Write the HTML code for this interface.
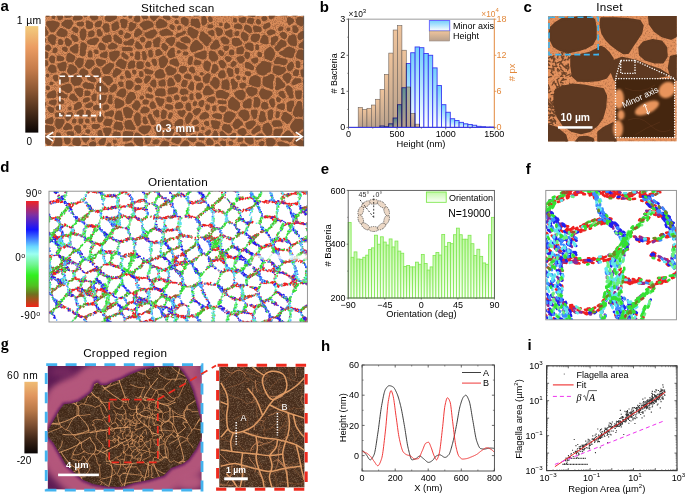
<!DOCTYPE html><html><head><meta charset="utf-8"><style>html,body{margin:0;padding:0;background:#fff;width:685px;height:494px;overflow:hidden}svg{display:block}</style></head><body><svg width="685" height="494" viewBox="0 0 685 494"><rect x="0" y="0" width="685" height="494" fill="#fff" stroke="none" stroke-width="1" /><defs><clipPath id="cpa"><rect x="45.2" y="15.8" width="258.8" height="130.4"/></clipPath><filter id="noiseA" x="0" y="0" width="100%" height="100%" color-interpolation-filters="sRGB"><feTurbulence type="fractalNoise" baseFrequency="1.1" numOctaves="1" seed="2"/><feColorMatrix values="0 0 0 0 0.62  0 0 0 0 0.38  0 0 0 0 0.24  0 0 0 4.5 -2.0"/><feComposite in2="SourceGraphic" operator="in"/></filter></defs><g clip-path="url(#cpa)"><rect x="45.2" y="15.8" width="258.8" height="130.4" fill="#d88c5a" stroke="none" stroke-width="1" /><rect x="45.2" y="15.8" width="258.8" height="130.4" fill="#000" stroke="none" stroke-width="1" filter="url(#noiseA)" opacity="0.7"/><path d="M48.9,16.8 47.2,17.3 46.2,16.8 45.7,15.8 45.7,13.8 50.0,13.8 50.0,14.8 49.3,16.1ZM60.5,20.2 58.9,20.2 57.8,19.5 57.3,17.1 56.4,15.8 56.4,13.8 62.4,13.8 63.0,16.1 63.0,17.8 61.9,19.3ZM70.2,17.6 66.2,18.0 65.1,17.5 64.1,15.8 63.7,13.8 72.0,13.8 72.0,15.8 71.2,17.2ZM78.2,20.6 74.2,20.6 73.2,19.9 72.8,19.1 72.8,17.8 75.2,13.7 78.2,13.8 82.0,16.1 82.6,17.1 82.7,18.1 82.2,19.2ZM86.2,17.2 85.2,17.3 84.1,16.8 82.4,15.1 82.0,13.8 88.0,13.8 87.3,16.5ZM95.2,20.6 93.5,20.6 92.2,19.9 90.1,17.8 89.7,16.1 90.7,13.8 95.2,13.7 97.3,15.5 98.0,16.8 98.0,18.5 97.5,19.2ZM102.5,16.6 101.5,16.6 100.4,16.1 99.4,15.1 99.0,13.8 104.4,13.8 103.6,15.8ZM110.5,21.9 108.9,22.0 107.5,21.6 105.2,20.2 104.8,19.5 104.8,17.8 105.9,15.8 106.6,13.8 115.2,13.8 116.0,14.5 117.0,16.5 117.0,17.5 116.6,18.5 114.9,19.9 113.2,20.4ZM125.2,16.9 123.9,17.0 122.8,16.5 122.4,15.5 122.4,13.8 127.4,13.8 127.3,14.5 126.3,16.1ZM130.9,18.6 129.5,18.6 128.9,18.2 128.4,17.5 128.5,13.7 133.0,13.8 132.3,16.8 131.6,18.1ZM138.2,22.6 136.9,22.6 135.9,22.2 134.2,20.9 133.8,20.1 133.8,18.5 135.3,16.1 136.2,13.7 139.0,13.8 140.0,16.5 140.3,20.5 139.5,21.6ZM146.9,18.9 143.5,19.2 142.5,18.6 140.4,14.5 140.4,13.8 147.0,13.8 147.1,14.8 148.0,16.5 148.0,17.8 147.5,18.5ZM154.5,20.9 153.2,20.9 150.8,19.1 150.0,17.5 149.7,13.8 160.0,13.8 160.0,14.8 159.2,16.6 156.9,18.3 155.2,20.5ZM177.5,18.2 176.5,18.3 172.5,17.2 172.0,16.1 172.3,13.8 176.9,13.7 178.0,14.5 178.6,15.5 178.7,16.8 178.2,17.8ZM196.9,16.6 194.5,16.6 193.5,16.2 193.0,15.1 193.3,13.8 200.0,13.8 200.0,15.1 199.5,15.8ZM234.2,15.6 233.2,15.6 232.2,15.2 231.7,13.8 235.4,13.8 234.9,15.1ZM241.9,15.9 238.9,15.9 238.0,15.1 237.7,13.8 244.4,13.8 243.9,15.2ZM254.5,16.9 252.2,17.0 248.5,16.2 247.9,15.8 247.4,15.1 247.4,13.8 255.2,13.7 255.7,15.5 255.2,16.5ZM271.9,19.2 270.2,19.2 269.1,18.5 268.7,16.8 269.1,15.1 271.2,13.7 275.7,13.8 275.3,15.8 273.2,18.3ZM286.5,16.2 284.9,16.3 280.9,15.6 280.2,15.1 279.7,13.8 287.9,13.7 288.0,14.5 287.6,15.5ZM295.9,16.6 293.9,16.6 291.9,15.6 291.2,15.1 290.7,13.8 298.0,13.8 298.0,15.1 297.6,15.8ZM304.9,15.6 301.5,15.6 300.8,15.1 300.4,13.8 305.9,13.6 305.9,14.8ZM54.2,18.9 52.9,18.9 52.2,18.5 51.8,17.8 51.8,16.1 52.2,15.5 52.9,15.0 54.2,15.0 54.9,15.4 55.3,16.1 55.3,17.8 54.9,18.5ZM169.5,20.2 167.9,20.2 163.2,18.2 162.7,16.8 163.2,15.5 163.9,15.0 165.2,15.0 168.2,15.0 169.3,15.5 170.7,18.1 170.5,19.3ZM204.2,25.6 203.2,25.6 202.2,25.2 201.4,23.5 201.4,17.8 202.2,16.6 203.5,16.0 204.9,16.0 205.6,16.5 206.6,18.5 207.0,20.1 207.0,22.5 206.6,23.5 205.2,25.0ZM211.2,22.2 209.9,22.2 209.2,21.8 208.8,21.1 208.1,19.1 208.0,17.8 208.5,16.8 209.2,16.4 210.2,16.3 211.3,16.8 212.6,19.1 212.6,20.8 212.0,21.8ZM264.9,21.2 263.2,21.2 262.1,20.5 261.4,18.5 261.4,17.8 262.2,16.7 263.2,16.3 265.5,16.3 267.0,17.1 267.4,18.5 267.0,19.8ZM302.2,26.2 300.5,26.2 297.2,24.6 296.1,22.8 295.8,19.5 297.2,17.6 298.9,16.7 299.9,16.6 303.9,17.4 304.6,17.8 305.0,18.5 305.0,20.1 303.6,24.5 302.9,25.8ZM186.9,25.9 185.2,25.9 181.4,23.5 181.0,22.5 180.7,19.5 181.2,18.3 182.2,17.4 183.2,17.0 184.9,17.0 187.5,18.4 188.3,19.1 188.7,20.1 188.7,23.8 188.0,25.1ZM243.5,23.2 241.9,23.2 239.4,21.8 238.7,20.5 238.7,19.1 239.2,18.1 243.5,17.0 244.9,17.0 245.9,17.5 246.4,19.1 245.6,21.1 244.9,22.5ZM290.2,24.9 289.2,25.0 288.2,24.5 287.0,21.8 286.8,18.5 287.2,17.8 288.9,17.0 289.9,17.0 293.5,19.1 294.0,20.1 294.0,21.5 293.5,22.6ZM235.9,22.6 234.2,22.6 233.5,22.2 233.1,21.5 233.1,19.1 233.5,18.4 234.2,18.0 235.5,18.0 236.2,18.4 236.6,19.1 237.0,20.5 237.0,21.5 236.5,22.2ZM252.2,24.2 250.9,24.2 247.5,22.8 247.0,21.8 247.0,20.5 248.2,18.4 249.2,18.0 252.2,18.0 253.6,18.5 254.0,19.5 254.0,20.5 253.3,23.1 252.9,23.8ZM159.5,28.6 157.9,28.6 156.8,28.1 156.4,27.1 155.7,22.8 156.2,21.8 157.9,20.6 158.9,19.1 160.5,18.6 164.5,20.4 166.9,22.4 167.4,23.5 167.4,24.8 166.5,26.3 164.9,27.2ZM199.2,28.2 198.2,28.3 195.5,27.6 193.2,26.0 191.9,25.9 191.2,25.5 190.7,24.5 190.7,20.5 191.2,19.1 192.2,18.6 194.5,18.9 197.2,18.6 198.6,19.1 200.0,22.8 200.4,26.1 200.2,27.3ZM125.5,28.2 122.9,28.2 121.5,27.5 121.1,26.8 121.0,24.1 120.1,22.1 120.0,20.8 120.5,19.5 121.2,19.0 124.2,19.0 126.2,19.4 127.0,19.8 127.6,20.8 127.7,22.1 126.6,27.1 126.2,27.8ZM259.9,24.2 258.2,24.3 256.2,23.5 255.7,21.8 256.5,19.4 257.5,19.0 258.9,19.0 259.5,19.4 260.3,20.5 261.0,21.8 261.0,22.8 260.6,23.8ZM69.5,28.9 67.9,28.9 65.5,27.4 61.9,25.8 61.4,25.1 61.4,23.8 61.8,22.8 65.5,19.7 70.9,19.7 71.9,20.3 73.0,22.5 73.0,24.1 72.6,25.1 70.5,28.3ZM177.9,23.9 176.2,24.0 174.9,23.3 174.4,21.8 174.9,20.4 175.9,20.0 177.2,20.0 178.5,20.7 179.0,22.5 178.6,23.5ZM90.2,28.9 87.9,28.9 86.5,28.0 85.8,26.8 86.1,21.5 86.5,20.8 87.2,20.4 88.5,20.4 92.2,22.4 93.0,23.8 93.0,26.8 92.6,27.8 91.5,28.6ZM53.9,32.2 51.2,32.2 50.5,31.8 49.8,30.8 48.3,27.8 46.8,26.1 46.1,24.5 46.1,22.5 46.9,21.4 47.9,21.0 53.5,20.6 57.5,21.7 59.2,22.8 59.7,23.8 59.4,26.1 57.4,28.1 54.9,31.6ZM99.5,27.2 96.5,27.3 95.5,26.8 95.0,25.8 95.0,23.5 95.9,22.0 97.9,21.0 100.5,20.6 101.5,21.1 102.0,21.8 102.0,23.5 100.6,26.5ZM145.5,30.2 144.2,30.3 143.2,29.8 142.2,28.1 140.2,26.3 139.7,24.8 140.2,23.5 143.5,21.4 146.9,20.6 149.5,20.7 152.9,22.8 153.7,24.5 153.7,26.1 153.2,27.1 147.9,29.0ZM114.5,30.9 113.2,30.9 112.5,30.5 112.1,29.8 111.7,28.8 111.4,24.8 112.1,23.8 113.5,23.2 115.2,21.7 116.2,21.3 117.2,21.4 118.0,21.8 118.6,22.8 118.7,24.5 119.4,26.5 119.3,27.8 118.9,28.5 117.5,29.6ZM82.5,26.6 79.2,26.6 76.9,25.2 76.4,23.8 76.8,22.5 77.9,22.0 80.9,22.0 81.9,21.6 83.5,22.1 84.0,23.1 84.0,24.8 83.2,26.1ZM131.5,31.2 130.5,31.3 129.5,30.9 128.8,30.1 128.4,29.1 128.4,27.8 129.4,23.1 129.9,22.4 130.9,22.0 131.9,22.0 133.9,23.2 135.2,23.4 135.9,23.8 136.4,24.8 136.3,26.1 135.5,27.6 134.0,29.5ZM221.5,26.2 220.2,26.2 219.5,25.8 219.1,25.1 219.1,23.8 219.5,23.1 220.2,22.7 221.5,22.7 222.2,23.1 222.6,23.8 222.6,25.1 222.2,25.8ZM226.5,28.9 225.5,29.0 224.5,28.5 224.0,27.1 224.9,23.6 225.2,23.1 226.5,22.6 227.9,23.0 229.9,24.8 230.4,26.1 229.9,27.5ZM265.5,29.2 264.2,29.2 263.5,28.8 263.1,28.1 263.0,26.5 263.8,24.5 267.2,22.7 268.9,22.6 269.9,23.1 270.7,24.8 270.3,26.5 269.5,27.2ZM108.2,32.6 105.9,32.6 104.9,32.2 102.4,27.8 102.4,26.5 103.4,24.5 104.9,23.4 106.2,23.3 107.9,23.7 108.5,24.1 109.0,24.8 109.7,28.5 109.7,30.8 109.2,31.9ZM240.9,29.2 238.9,29.3 234.9,28.6 234.2,28.2 233.8,27.5 233.8,26.1 234.4,25.1 236.9,23.4 238.5,23.4 240.9,24.4 241.6,24.8 242.0,25.5 242.0,26.8 242.0,28.1 241.5,28.8ZM173.5,29.9 172.5,30.0 171.5,29.6 169.8,27.8 169.4,26.1 170.2,24.7 171.9,24.3 174.2,25.5 174.7,26.5 174.7,28.5 174.2,29.5ZM212.2,27.9 208.9,28.3 207.8,27.8 207.4,26.5 207.9,25.0 209.2,24.3 211.9,24.3 212.9,24.8 213.4,26.1 212.9,27.5ZM250.9,33.2 249.2,33.2 244.5,30.1 244.0,29.1 244.0,27.8 244.4,26.1 245.2,25.0 246.2,24.6 247.2,24.7 249.5,25.7 251.0,26.8 252.0,29.5 252.0,31.5 251.6,32.8ZM46.9,35.6 43.2,37.0 43.0,36.5 43.2,25.3 45.5,26.3 47.1,30.1 48.3,31.5 48.7,32.5 48.3,34.1ZM179.5,30.2 177.9,30.0 177.0,28.8 177.1,27.5 177.8,26.1 179.2,25.3 180.9,25.7 181.7,27.1 181.3,29.1ZM296.5,32.9 294.5,32.9 293.1,32.1 292.4,31.1 292.4,26.8 292.8,25.8 293.5,25.4 295.2,25.3 296.2,25.7 298.6,28.8 298.6,30.5 298.0,31.8ZM260.5,31.9 254.9,32.0 253.9,31.5 253.0,29.1 253.0,27.1 253.5,26.1 254.5,25.6 256.2,25.6 257.9,26.2 259.5,26.4 261.0,27.1 261.7,28.5 261.7,30.5 261.2,31.5ZM280.5,31.2 279.5,31.3 278.5,30.8 278.1,30.1 278.0,29.1 279.1,26.8 279.9,26.4 281.2,26.3 282.9,27.1 283.4,28.8 282.7,30.1ZM76.9,32.9 75.5,32.9 72.5,31.1 72.1,30.5 72.0,29.1 73.2,27.0 74.2,26.6 75.2,26.7 77.9,28.1 78.4,29.1 78.3,31.5 77.7,32.5ZM194.2,38.6 192.9,38.6 191.7,38.1 190.4,36.5 188.4,34.8 187.8,33.8 187.4,31.1 187.8,28.8 188.5,27.6 189.5,27.0 190.5,27.0 191.5,27.4 197.7,30.5 198.6,31.5 198.6,32.8 196.9,37.5ZM219.2,36.2 218.2,36.3 217.2,35.8 216.4,33.8 216.3,32.1 215.4,30.8 215.4,28.5 215.9,27.8 216.5,27.4 217.5,27.3 219.9,28.0 221.9,29.1 223.0,30.5 223.0,32.1 222.2,34.5ZM289.9,30.8 288.2,31.3 287.2,30.9 286.4,29.8 286.4,28.5 286.9,27.8 287.5,27.4 289.2,27.4 289.9,27.8 290.3,28.5 290.3,30.1ZM64.2,36.9 61.9,37.0 59.5,36.6 57.2,35.6 56.4,34.5 56.4,33.1 57.1,31.8 59.4,28.8 60.5,28.0 61.9,28.0 65.9,30.0 67.2,31.0 67.6,31.8 67.7,33.5 67.0,35.5ZM83.5,40.6 82.5,40.6 81.5,40.1 80.4,38.1 79.8,36.1 79.7,34.8 79.8,32.1 81.2,29.1 83.5,28.3 84.2,28.4 85.3,29.1 86.3,31.1 86.4,32.5 86.4,35.5 85.6,38.1 84.7,39.8ZM136.9,37.2 135.5,37.2 134.5,36.6 134.0,35.5 134.0,33.5 136.0,29.5 137.5,28.4 138.5,28.3 139.7,28.8 141.9,31.0 142.3,31.8 142.4,33.1 141.3,34.8 139.2,35.7ZM167.9,35.6 161.9,36.2 160.9,35.6 159.4,33.1 159.4,31.8 159.8,31.1 160.5,30.7 165.2,28.7 167.2,28.7 169.2,29.7 172.5,32.4 173.0,33.1 173.0,34.5 172.6,35.1 171.9,35.6ZM100.9,36.6 98.4,36.5 97.8,36.1 97.1,34.5 96.7,32.5 96.8,30.5 97.2,29.8 98.5,29.0 99.5,29.0 100.6,29.5 102.6,33.5 102.7,34.5 102.3,35.5ZM152.2,38.6 147.9,38.6 146.9,38.2 144.8,35.8 144.4,34.8 144.4,33.5 145.4,32.5 146.9,32.2 150.2,30.4 153.2,29.4 154.5,29.4 155.3,29.8 156.3,31.1 157.0,32.5 157.0,33.8 155.4,35.8 153.2,38.0ZM231.5,37.6 229.9,37.6 225.5,34.8 225.0,33.8 225.0,32.5 225.7,31.1 228.5,30.2 229.9,29.4 230.9,29.3 231.9,29.8 232.4,30.8 232.7,36.1 232.2,37.1ZM270.5,35.6 269.2,35.6 267.2,34.1 266.7,32.5 267.4,31.1 268.9,30.0 270.9,29.3 272.5,29.4 275.2,30.8 275.7,32.1 275.2,33.5ZM121.9,35.2 120.5,35.2 119.2,34.6 118.4,33.5 118.4,32.1 118.8,31.1 120.5,30.0 121.5,30.0 122.5,30.4 123.3,31.5 123.3,33.5 122.6,34.8ZM213.2,36.2 211.9,36.2 208.7,34.1 208.0,32.8 208.1,31.8 208.5,31.1 211.5,30.0 212.9,30.0 213.9,30.7 214.4,31.8 214.4,34.8 213.9,35.8ZM91.2,37.2 89.2,37.2 88.2,36.3 88.0,34.5 88.4,32.1 88.9,31.4 91.2,30.4 92.9,30.4 93.7,30.8 94.3,31.8 94.7,33.5 94.6,35.1 93.9,36.2ZM178.2,37.6 176.9,37.6 176.2,37.1 175.8,36.5 175.8,34.8 176.4,33.8 177.9,33.0 179.5,32.9 180.9,32.3 182.2,32.3 182.8,31.1 183.5,30.7 184.5,30.6 185.6,31.1 186.0,32.5 185.5,33.8 184.5,34.3 183.2,34.3 182.5,35.5 180.5,36.0ZM237.9,35.9 235.9,36.0 234.8,35.5 234.4,34.5 234.4,33.1 234.9,31.8 236.9,31.0 238.2,31.0 238.9,31.5 239.4,32.5 239.3,34.1 238.6,35.5ZM300.5,40.2 299.2,40.2 298.5,39.8 298.1,39.1 297.7,37.8 297.8,34.8 298.4,33.8 301.2,31.4 302.2,31.0 303.2,31.0 306.0,32.8 306.0,36.8ZM207.5,45.9 205.9,45.9 204.9,45.3 202.7,42.5 200.0,40.1 199.1,38.5 199.1,36.8 200.0,35.1 200.4,32.5 200.9,31.8 201.5,31.4 202.5,31.3 203.5,31.7 205.7,33.8 207.7,34.8 208.8,36.5 210.2,37.3 211.6,39.1 211.7,40.5 211.2,41.5 209.7,42.8 208.2,45.5ZM245.9,41.2 244.5,41.3 243.4,40.8 240.8,37.1 240.7,35.1 241.1,33.8 241.8,32.5 242.5,32.0 243.9,32.0 245.9,33.0 247.7,34.5 248.6,35.8 248.3,39.5 247.9,40.2ZM285.2,38.9 283.5,38.9 281.2,37.6 279.7,34.8 279.8,33.8 280.4,32.8 282.2,32.0 284.2,32.0 285.2,32.4 286.5,34.0 287.0,35.1 287.0,36.8 286.2,38.3ZM127.5,38.6 125.2,38.6 124.5,38.1 124.0,37.1 124.1,36.1 125.1,34.1 125.9,33.1 126.9,32.6 127.9,32.7 130.5,34.1 131.0,35.1 131.0,36.1 130.5,36.8 129.2,37.9ZM255.9,42.2 253.9,42.2 251.4,40.8 250.8,39.8 250.7,37.5 251.1,36.1 252.2,34.6 253.5,33.7 258.9,34.0 259.5,34.4 260.0,35.1 260.0,37.5 258.6,40.8ZM54.2,44.9 52.5,44.9 50.9,43.9 47.8,40.5 47.7,38.1 48.1,37.1 49.5,35.3 50.9,34.4 52.9,34.3 53.9,34.7 55.4,35.8 56.3,37.1 56.4,38.5 55.7,40.1 55.6,43.5 55.0,44.5ZM76.2,41.9 74.5,41.9 72.8,40.5 70.8,36.8 70.7,35.8 71.2,34.8 72.2,34.3 73.2,34.4 77.2,36.5 78.3,38.8 78.4,40.1 77.9,41.2ZM107.5,42.9 105.5,42.9 103.5,41.9 102.0,40.5 101.8,38.8 102.2,38.0 104.5,36.0 108.5,34.4 109.9,34.4 110.5,34.8 111.0,35.5 111.6,37.8 111.6,40.8 111.2,41.5 110.5,41.9 108.9,42.1ZM120.9,43.9 119.5,43.9 114.2,40.9 113.4,38.8 113.4,35.8 113.9,34.8 115.2,34.3 116.5,34.7 121.5,39.0 122.0,40.1 122.0,42.5 121.6,43.5ZM295.5,46.2 293.9,46.2 290.9,45.2 288.9,44.2 287.4,41.5 287.4,40.1 289.1,36.1 292.2,34.4 294.2,34.3 295.2,34.7 296.6,37.5 297.0,44.5 296.5,45.6ZM267.5,44.2 264.5,44.2 261.2,43.2 260.5,42.8 260.1,42.1 260.1,40.8 261.1,38.5 262.8,35.1 263.5,34.7 264.5,34.6 265.5,35.1 267.5,36.6 268.3,37.8 268.7,42.8 268.2,43.8ZM273.2,45.6 271.9,45.6 271.2,45.1 270.8,44.5 271.0,41.8 270.8,38.5 271.2,37.8 274.9,36.0 276.9,36.0 277.7,36.5 278.3,37.5 278.3,39.5 277.0,41.5 275.9,42.3 273.9,45.1ZM189.2,43.2 187.2,43.3 184.5,42.9 181.5,41.6 180.8,41.1 180.4,40.5 180.4,38.8 181.4,37.8 184.9,36.4 186.5,36.3 187.5,36.7 190.0,39.1 190.6,40.1 190.6,41.8 190.0,42.8ZM143.5,42.6 142.5,42.6 141.4,42.1 140.4,41.1 139.8,39.8 139.7,38.8 140.2,37.8 141.9,36.7 142.9,36.6 143.9,37.0 145.3,38.8 145.3,40.5 144.2,42.1ZM226.9,44.2 224.9,44.2 223.5,43.9 222.5,43.3 220.4,40.1 220.4,38.8 220.9,37.8 222.9,36.7 224.2,36.6 226.5,37.7 228.9,39.5 229.4,40.5 229.3,42.8 228.9,43.5ZM158.5,47.2 156.5,47.0 154.9,47.3 153.9,46.8 153.4,45.8 153.4,43.8 153.0,42.8 153.1,40.8 153.7,39.8 156.9,37.4 157.9,37.0 159.9,37.4 160.7,38.8 160.6,41.1 159.7,43.1 159.6,46.1 159.2,46.8ZM171.9,45.9 170.9,46.0 169.9,45.6 167.9,43.3 166.5,42.5 165.8,41.1 165.7,40.1 165.8,39.5 166.5,38.4 168.2,37.7 171.9,37.0 173.5,37.0 174.6,37.5 175.4,39.5 174.6,42.8 173.2,45.1ZM95.2,44.9 90.5,45.0 89.2,44.6 87.4,43.5 87.0,42.5 87.1,41.1 87.5,40.4 90.9,38.7 93.2,38.2 94.9,37.4 96.9,37.4 98.6,38.5 99.0,39.5 99.0,40.5 96.7,43.8ZM44.6,44.5 43.2,45.0 43.0,44.5 43.2,37.6 45.9,38.4 46.4,39.5 46.0,41.8ZM69.2,46.2 67.5,46.2 66.1,45.5 65.4,44.5 64.7,41.1 64.7,39.8 65.2,38.7 66.2,38.0 67.5,38.0 68.5,38.4 71.0,40.5 72.0,41.8 72.0,42.8 71.6,43.8 69.9,45.8ZM237.2,46.2 234.5,46.2 233.2,45.6 232.4,44.8 231.7,43.1 231.9,41.5 231.7,39.8 232.2,38.8 233.9,38.0 238.5,38.0 239.5,38.7 240.2,39.9 242.0,41.8 242.4,43.5 241.9,44.5ZM132.2,45.6 129.5,45.6 126.9,45.0 124.5,44.9 123.9,44.5 123.4,43.8 123.4,42.5 123.9,41.8 124.5,41.4 126.9,41.2 130.5,39.0 131.9,38.6 132.9,38.7 133.5,39.1 134.0,39.8 134.0,42.5 132.9,45.1ZM61.5,44.9 59.2,44.9 58.5,44.5 58.1,43.8 58.1,40.1 58.5,39.5 59.2,39.0 60.5,39.0 61.5,39.4 62.2,39.8 63.0,41.1 63.4,42.5 63.3,43.5 62.9,44.2ZM216.2,49.6 213.2,49.6 211.5,49.2 210.4,48.5 210.0,46.8 210.8,45.1 212.5,43.3 213.7,41.1 215.9,39.7 216.9,39.6 218.0,40.1 218.6,41.1 219.1,43.1 220.0,44.8 220.0,46.1 219.5,47.2ZM278.5,51.2 277.2,51.3 276.2,50.8 274.8,48.5 274.8,47.1 275.4,46.1 276.5,45.3 277.8,43.1 280.2,40.1 281.2,39.6 282.2,39.7 285.6,41.5 286.6,43.5 286.6,45.1 286.2,45.8 285.2,46.6 281.7,48.1ZM305.9,49.0 303.5,49.0 301.5,48.0 299.5,47.9 298.8,47.5 298.4,46.5 298.4,45.1 299.4,43.8 304.2,40.0 305.2,39.6 305.9,39.6 306.0,40.1ZM193.2,52.2 191.9,52.2 191.2,51.8 190.8,51.1 190.0,49.5 190.1,46.5 191.1,44.5 193.9,41.0 195.5,40.0 197.2,40.0 202.5,45.0 203.3,46.5 203.3,47.8 202.9,48.5 200.2,49.9 198.5,50.0 196.2,51.2ZM150.2,47.6 146.5,48.3 145.4,47.8 144.8,46.8 144.8,45.5 147.1,41.5 148.2,41.0 150.5,41.0 151.2,41.5 151.7,42.5 151.7,43.8 151.0,46.5ZM141.5,49.2 138.2,49.3 135.9,48.3 135.1,46.8 135.0,45.8 135.4,42.8 135.9,41.8 137.2,41.3 138.5,41.7 141.2,44.7 142.7,47.1 142.5,48.3ZM184.9,49.6 182.2,49.6 180.9,49.2 176.2,46.5 175.8,45.8 175.7,44.5 176.8,42.1 177.9,41.6 178.9,41.7 184.5,44.0 187.2,46.1 187.7,47.5 187.2,48.8ZM83.9,56.2 81.5,56.2 80.2,55.5 79.7,54.5 80.4,43.8 80.8,42.8 81.9,42.3 83.2,42.3 84.2,42.7 86.4,44.5 87.0,45.8 87.0,46.8 85.7,50.5 86.0,53.1 85.0,55.5ZM104.2,50.2 100.9,50.3 99.4,49.5 98.0,46.1 98.4,44.8 99.5,43.1 100.5,42.6 101.9,42.7 103.7,43.8 105.3,45.5 105.7,46.5 105.6,48.8 105.2,49.6ZM114.2,49.2 109.9,49.6 108.8,49.1 108.1,47.8 108.0,46.1 108.5,45.1 110.3,44.1 111.2,43.1 112.2,42.6 113.5,42.7 116.5,44.4 117.3,45.1 117.7,46.8 117.2,47.8ZM252.5,50.9 251.2,50.9 245.9,48.8 244.7,45.8 245.2,44.1 248.5,42.6 250.5,42.6 252.7,43.5 253.4,44.8 253.7,49.1 253.2,50.5ZM165.9,50.9 164.9,51.0 163.9,50.5 161.9,48.6 161.4,47.8 161.4,46.1 161.8,44.8 162.5,43.5 163.2,43.0 164.2,43.0 165.3,43.5 166.5,45.0 167.9,46.0 168.3,46.8 168.4,47.8 168.0,48.8 166.9,50.3ZM76.9,53.6 75.2,53.6 72.2,52.2 70.2,50.5 69.7,49.5 69.8,48.5 70.9,47.0 75.9,44.0 77.2,44.0 77.9,44.4 78.4,45.5 78.4,51.1 77.6,53.1ZM257.9,50.2 256.2,50.0 255.4,48.8 255.4,45.5 255.9,44.8 256.9,44.3 258.5,44.8 259.0,45.8 259.0,49.1 258.6,49.8ZM49.2,50.9 48.2,51.0 45.9,50.2 45.2,49.8 44.8,49.1 44.8,47.5 45.4,46.1 47.2,44.7 48.5,44.6 49.5,45.0 51.3,47.5 51.4,48.5 51.0,49.5ZM226.5,50.9 225.2,50.9 224.2,50.3 223.4,48.8 223.4,47.1 223.9,46.4 224.5,46.0 226.5,45.6 227.9,45.7 228.6,46.1 229.0,46.8 229.0,48.5 227.9,50.1ZM242.2,54.2 237.9,54.3 236.8,53.8 236.4,52.8 236.4,49.5 236.9,48.1 241.5,46.3 242.5,46.4 243.2,46.8 244.0,48.8 244.0,50.1 243.6,52.8 243.0,53.8ZM66.5,51.9 65.2,51.9 62.2,50.1 61.7,48.8 62.2,47.4 63.9,46.7 65.2,46.6 67.2,47.8 67.7,48.8 67.7,50.5 67.2,51.5ZM291.5,58.2 290.5,58.3 287.2,57.3 284.9,57.2 282.5,55.7 279.5,54.5 279.0,53.5 279.1,52.5 279.5,51.8 280.2,51.4 283.2,50.2 286.4,47.5 287.9,46.7 289.5,46.6 292.5,47.7 294.9,49.0 295.4,50.8 295.0,52.5 294.1,54.1 294.0,55.8 293.6,56.8 293.2,57.5ZM130.9,51.2 127.9,51.0 126.2,51.3 123.2,51.2 122.2,50.6 121.8,49.8 121.8,48.1 122.2,47.4 123.2,47.0 129.9,47.0 131.5,47.4 132.5,48.3 132.7,49.5 132.2,50.5ZM271.5,60.9 270.2,60.9 268.2,59.7 265.5,58.9 264.8,58.5 264.4,57.5 264.1,52.5 265.9,49.6 268.4,47.5 269.5,47.0 270.9,47.0 272.4,48.1 274.0,50.5 275.0,53.1 275.0,55.1 272.2,60.5ZM55.5,53.2 54.5,53.3 53.5,52.9 52.8,52.5 52.4,51.5 53.1,48.8 53.9,48.0 54.9,47.6 56.9,48.0 57.7,49.5 57.6,50.5 56.6,52.5ZM171.2,57.9 169.9,58.0 168.8,57.5 167.1,54.5 167.0,53.5 168.1,51.5 170.2,49.0 171.2,48.0 172.9,47.6 174.0,48.1 174.6,49.1 174.7,52.5 175.4,55.5 174.5,56.9ZM158.2,55.9 156.9,56.0 155.8,55.5 155.4,54.5 155.4,51.1 155.8,50.1 156.5,49.7 157.9,49.0 159.2,49.0 160.2,49.4 161.0,50.8 162.2,51.8 162.7,53.5 162.2,54.5 161.7,54.8ZM98.0,53.8 96.2,54.3 95.2,53.9 94.4,52.8 94.0,51.5 94.1,50.5 94.5,49.8 95.2,49.4 96.5,49.4 97.9,50.0 98.6,51.1 98.6,52.8ZM233.2,55.2 231.9,55.3 230.5,54.9 229.2,54.2 228.8,53.5 228.8,52.1 229.4,50.8 230.1,49.8 230.9,49.4 232.5,49.4 233.3,49.8 234.0,50.8 234.4,52.1 234.4,53.8 233.9,54.8ZM151.9,57.6 149.9,57.6 149.2,57.1 148.4,55.8 148.1,51.1 148.5,50.4 149.9,49.7 150.9,49.6 151.9,50.0 152.6,51.1 153.0,56.1 152.6,57.1ZM305.9,60.0 301.5,60.0 296.5,58.1 296.0,57.1 296.0,55.8 297.1,51.5 298.1,50.1 299.2,49.6 301.2,49.6 305.9,50.9ZM179.5,53.6 178.2,53.6 177.2,53.1 176.7,51.8 177.2,50.4 178.9,50.0 180.2,50.5 180.7,51.5 180.6,52.5 180.2,53.1ZM222.5,56.2 221.5,56.3 220.5,55.8 218.4,53.5 218.0,51.8 218.9,50.4 219.9,50.0 220.9,50.0 223.6,52.1 224.0,53.1 224.0,54.5 223.2,55.8ZM91.5,57.6 88.9,57.6 88.2,57.1 87.8,56.5 87.7,54.8 88.4,51.5 88.9,50.8 89.5,50.4 90.5,50.3 91.5,50.8 92.3,52.1 92.7,56.1 92.2,57.1ZM203.9,59.6 201.9,59.6 199.5,58.4 195.5,57.2 194.8,56.8 194.4,56.1 194.4,54.8 194.9,54.1 196.5,53.0 203.9,50.4 205.5,50.4 206.2,50.8 206.7,51.8 206.7,57.1 206.0,58.5ZM114.2,61.6 112.9,61.6 110.4,59.8 109.4,57.5 109.1,52.8 109.5,52.1 110.2,51.7 112.2,51.6 114.2,50.7 118.5,50.7 119.2,51.1 119.7,52.1 119.7,54.5 119.3,55.8 116.0,60.1ZM215.2,61.6 213.2,61.6 211.5,60.9 209.4,58.8 208.8,57.8 208.7,53.1 209.5,51.1 210.2,50.7 211.9,50.7 215.2,52.1 217.6,55.5 218.4,57.5 218.3,58.8 217.7,59.8ZM46.9,58.6 45.5,58.6 43.1,57.5 43.2,51.0 44.2,51.0 46.9,52.0 47.9,52.7 48.3,53.5 48.4,55.1 48.0,57.5 47.6,58.1ZM145.2,60.2 143.5,60.2 142.8,59.8 142.4,58.8 142.0,52.5 142.5,51.4 143.5,51.0 144.5,51.0 145.2,51.5 147.0,56.5 146.6,58.8 146.0,59.8ZM106.2,58.2 104.9,58.2 100.2,56.8 99.7,55.8 100.1,54.1 100.9,53.4 104.9,51.4 106.2,51.3 107.2,51.8 107.7,52.8 107.4,56.8 106.9,57.8ZM138.5,59.9 136.9,60.0 135.9,59.6 135.1,58.8 134.7,57.8 135.4,52.5 135.9,51.8 136.9,51.3 138.9,51.4 139.6,51.8 140.0,52.8 140.4,58.1 139.9,59.2ZM185.9,55.6 184.2,55.6 183.2,55.1 182.7,53.5 183.5,52.0 184.5,51.6 186.5,51.6 187.9,52.1 188.4,53.5 187.9,54.8ZM247.9,58.9 246.9,59.0 245.7,58.5 244.4,55.8 244.4,54.5 244.8,52.8 245.2,52.1 245.9,51.7 247.5,51.7 249.5,52.8 250.0,53.5 250.0,55.5 249.6,57.1 248.9,58.3ZM260.9,57.2 258.9,57.2 258.2,56.8 257.4,55.5 257.4,52.8 257.8,52.1 258.5,51.7 259.9,51.7 261.2,52.4 262.0,53.5 262.0,56.1 261.5,56.8ZM127.5,59.6 126.5,59.6 125.5,59.2 121.8,56.5 121.4,55.5 121.4,54.1 121.9,52.8 122.9,52.3 124.0,52.5 128.0,56.1 128.6,57.1 128.7,58.1 128.2,59.1ZM132.2,56.2 130.9,56.2 130.2,55.8 129.8,55.1 129.8,53.8 130.2,53.1 130.9,52.7 132.2,52.7 132.9,53.1 133.3,53.8 133.3,55.1 132.9,55.8ZM72.5,62.2 68.5,62.2 66.7,61.1 66.1,60.1 66.4,56.1 67.3,53.8 68.2,53.0 69.9,53.0 74.9,55.8 75.3,56.5 75.3,58.5 73.9,61.3ZM53.5,63.2 51.9,63.3 50.9,62.9 49.1,60.5 49.1,58.5 50.5,56.0 51.5,55.4 52.9,55.4 54.2,56.1 55.0,57.5 55.0,61.1 54.2,62.8ZM62.2,60.9 58.5,61.3 57.5,60.9 56.8,59.8 56.7,57.1 57.2,56.1 58.2,55.6 59.5,55.6 62.2,56.4 63.9,57.3 64.4,58.8 63.9,60.2ZM163.2,67.9 160.9,67.9 160.0,67.1 159.4,65.5 158.4,59.5 158.9,58.4 161.5,56.4 162.9,55.7 163.9,55.6 164.9,56.1 165.8,57.5 167.6,59.1 168.0,60.1 168.0,61.8 165.9,65.9ZM190.5,64.9 189.2,65.0 188.2,64.5 187.7,63.5 187.7,60.8 188.5,57.8 189.5,56.4 191.2,56.0 192.2,56.4 192.6,57.1 193.0,58.1 193.0,59.5 192.4,61.8 192.3,63.5 191.9,64.2ZM229.2,61.9 227.9,62.0 226.9,61.6 225.1,59.5 224.7,57.8 225.5,56.4 227.2,56.0 230.2,56.7 231.3,57.5 231.7,58.5 231.6,59.5 230.5,61.0ZM241.9,63.2 239.9,63.2 238.5,62.3 236.4,59.1 236.4,58.1 236.9,57.1 237.5,56.7 241.5,56.0 242.5,56.0 243.5,56.7 244.6,58.8 244.6,60.8 244.2,61.5ZM284.9,65.2 283.5,65.3 279.9,64.3 276.2,64.3 274.9,63.9 274.2,63.5 273.8,62.8 273.8,61.5 276.5,57.1 277.2,56.7 278.5,56.7 280.9,57.9 284.5,58.4 287.2,59.8 287.7,60.8 287.6,61.8 287.0,63.1 285.9,64.6ZM255.9,63.6 254.2,63.6 251.5,61.6 251.0,60.1 251.5,58.8 255.9,57.3 256.9,57.4 257.6,57.8 258.4,59.5 258.3,61.1 257.4,62.5ZM80.5,67.9 79.2,68.0 78.2,67.5 75.5,64.6 75.0,63.5 75.1,61.8 75.8,60.5 77.5,58.3 78.9,57.6 82.5,58.4 83.2,58.8 83.7,59.8 83.4,63.5 82.6,65.8 81.7,67.1ZM101.2,66.6 99.2,66.6 97.1,64.8 96.1,62.8 95.7,60.8 95.8,59.8 96.2,59.1 96.9,58.7 98.2,58.6 101.5,59.6 104.9,60.0 105.6,60.5 106.0,61.8 105.6,63.1ZM124.2,68.9 122.5,69.0 120.9,68.2 116.4,65.5 115.8,64.5 115.7,63.5 116.1,62.5 118.5,59.6 119.9,58.7 120.9,58.6 121.9,59.0 126.2,61.4 126.6,62.1 126.7,63.5 125.6,67.5 125.0,68.5ZM155.9,65.9 154.5,65.9 153.5,65.3 151.4,61.8 151.6,59.8 153.2,58.7 154.9,58.7 155.9,59.3 156.3,60.1 157.0,62.8 157.0,64.5 156.6,65.5ZM177.9,66.6 175.9,66.6 169.9,63.8 169.4,63.1 169.4,62.1 169.9,60.3 173.5,58.6 176.2,58.6 177.2,59.1 179.4,64.1 179.0,65.8ZM89.5,68.9 88.2,68.9 85.2,67.1 84.7,65.8 85.1,63.8 86.3,61.8 86.8,60.1 87.5,59.7 89.9,59.6 92.9,60.0 93.5,60.4 94.0,61.1 94.7,63.5 94.6,64.5 91.5,67.6ZM198.9,65.2 195.5,65.6 194.5,65.2 193.7,63.8 194.4,60.8 194.9,60.1 195.9,59.6 197.2,59.7 200.5,61.0 201.4,62.5 201.3,63.5 200.5,64.6ZM46.2,66.6 43.1,66.5 43.2,60.0 46.2,60.0 47.4,60.8 48.3,62.5 48.4,64.1 48.0,65.1ZM224.2,68.2 222.9,68.3 221.2,67.9 220.5,67.5 220.1,66.8 219.6,65.1 218.4,63.1 218.8,61.5 219.9,60.4 220.9,60.0 222.2,60.0 223.7,60.8 225.3,62.5 226.0,63.8 226.0,65.5 224.9,67.8ZM130.2,68.9 128.9,68.9 128.2,68.5 127.8,67.8 127.7,66.5 128.4,62.8 130.1,61.1 131.5,60.4 133.5,60.4 134.3,60.8 135.0,61.8 135.0,66.8 134.3,67.8 133.5,68.2 131.9,68.3ZM208.5,71.2 206.9,71.2 204.9,70.0 203.8,68.5 203.4,66.5 203.4,64.1 204.4,61.8 206.5,60.6 207.5,60.7 210.5,62.4 211.0,63.5 211.0,65.1 209.8,68.8 209.6,70.1 209.2,70.8ZM299.2,67.9 297.5,67.9 296.2,67.2 295.8,66.5 295.7,62.1 296.2,61.1 296.9,60.7 298.2,60.6 299.2,61.0 300.3,63.1 300.3,66.8 299.9,67.5ZM233.5,66.9 232.2,66.9 230.9,66.2 230.4,65.5 230.4,64.5 230.8,63.5 232.2,61.6 233.2,61.0 234.5,61.0 236.2,62.0 236.7,63.8 235.9,65.3ZM264.2,75.6 261.5,75.6 257.7,73.5 256.8,72.1 256.0,69.5 256.1,67.8 256.9,66.3 260.7,62.8 261.5,61.4 262.5,61.0 265.9,61.3 268.2,62.2 269.9,62.4 271.2,63.1 271.7,64.1 271.0,68.1 271.0,70.5 270.6,71.5 267.5,73.0 266.0,74.5ZM141.9,68.9 138.2,69.0 136.8,68.1 136.4,67.1 136.4,63.8 137.2,62.1 138.9,61.3 141.2,61.3 143.2,62.1 143.7,63.1 143.7,66.5 142.6,68.5ZM64.5,70.9 60.5,71.3 59.5,70.8 57.4,66.5 57.4,64.5 57.8,63.8 58.5,63.4 60.9,62.9 62.9,61.7 64.9,61.7 65.9,62.3 66.7,64.1 66.7,66.1 66.0,69.5 65.3,70.5ZM149.5,66.9 147.9,66.9 145.8,65.8 145.4,64.8 145.4,63.5 146.2,62.0 147.2,61.6 148.2,61.7 149.6,62.8 150.6,64.5 150.7,65.1 150.2,66.5ZM290.5,70.9 288.9,71.0 287.8,70.5 287.1,69.1 286.7,66.5 287.2,65.3 290.1,62.1 291.9,61.6 293.1,62.5 294.0,64.5 294.0,65.5 293.6,67.5 292.6,69.5ZM252.9,70.2 251.5,70.2 248.2,68.7 246.5,68.6 245.5,67.9 245.1,67.1 244.7,64.8 244.8,63.8 245.5,62.6 246.5,62.0 248.2,62.0 251.7,64.1 253.4,65.8 254.0,66.8 254.0,68.8 253.6,69.8ZM305.5,66.2 304.5,66.3 303.5,65.8 303.1,65.1 303.0,63.8 303.5,62.8 304.9,62.0 305.9,62.0 306.0,65.5ZM106.9,74.2 104.5,74.3 103.5,73.8 102.0,70.1 102.4,68.1 107.1,64.1 109.5,62.7 110.9,62.7 113.5,63.7 114.3,64.8 114.4,65.5 113.6,67.5 111.4,70.1 109.5,73.5ZM214.5,73.6 212.9,73.6 211.5,72.8 211.1,72.1 211.0,70.8 212.0,68.5 212.4,65.8 213.2,64.5 213.9,64.0 215.2,64.0 216.2,64.5 218.3,67.1 218.7,69.1 218.0,70.5 215.5,73.0ZM71.5,74.9 70.5,75.0 69.4,74.5 67.5,72.6 67.0,71.5 67.1,70.1 68.3,67.8 68.4,66.1 69.2,64.8 70.2,64.3 72.5,64.4 74.2,65.4 76.7,67.8 77.4,69.1 77.3,70.8 76.3,72.8ZM56.2,72.2 52.2,73.3 51.2,72.9 48.9,71.3 47.8,69.8 47.7,68.8 48.1,67.8 50.2,65.1 50.9,64.7 53.9,65.0 54.9,65.4 55.6,66.8 56.6,70.1 56.7,71.1ZM280.2,75.2 278.5,75.3 276.9,74.9 273.4,72.8 272.7,71.1 272.7,69.1 273.1,67.5 273.9,66.1 274.9,65.6 277.2,65.6 282.2,67.0 284.5,67.0 285.2,67.5 286.0,69.1 286.0,70.5 285.6,71.5 283.5,73.6ZM172.2,75.2 168.5,75.6 167.5,75.1 165.4,70.1 165.4,68.8 166.1,67.5 167.9,66.0 169.9,66.0 171.9,67.2 175.9,68.7 176.6,69.8 176.7,71.1 176.3,72.1 174.2,74.2ZM182.9,73.2 181.5,73.2 179.5,71.8 179.0,70.8 179.0,68.5 179.7,67.1 181.2,66.0 184.2,66.0 185.5,66.4 186.6,67.1 187.0,68.1 187.0,70.1 186.3,71.5ZM194.2,73.2 192.5,73.2 189.5,71.6 189.0,70.5 189.0,69.1 189.9,67.4 191.2,66.7 192.2,66.6 194.2,67.5 195.4,71.5 194.9,72.8ZM99.2,77.9 98.2,78.0 97.2,77.6 92.2,74.0 91.4,72.8 91.4,71.8 91.8,70.8 94.5,68.0 95.5,67.4 97.2,67.4 99.5,68.8 100.0,69.5 100.1,71.8 101.3,74.1 101.4,75.1 100.2,77.3ZM237.9,74.2 236.9,74.3 235.9,73.8 235.1,72.5 234.7,70.8 234.8,69.1 235.2,68.3 236.2,67.7 237.9,67.7 238.7,68.1 239.3,69.1 239.4,70.8 239.0,73.1 238.6,73.8ZM43.9,72.6 43.2,72.6 43.0,72.1 43.2,68.0 44.7,68.5 45.4,69.8 45.0,71.8ZM115.5,77.6 114.2,77.6 113.0,76.8 112.4,75.8 112.4,74.1 113.1,71.8 115.2,68.5 115.9,68.0 116.9,68.0 121.2,70.1 121.6,70.8 121.7,71.8 120.5,73.6 117.7,75.5ZM231.2,76.9 229.5,76.9 228.9,76.5 228.4,75.8 226.7,70.8 226.8,69.1 227.2,68.4 227.9,68.0 229.9,68.0 231.2,68.4 232.5,69.1 233.0,69.8 233.4,71.1 233.3,75.5 232.9,76.2ZM84.5,76.9 83.2,77.0 82.2,76.6 79.9,74.9 79.1,73.5 79.1,72.1 80.1,70.1 82.2,68.4 83.2,68.3 84.2,68.7 85.2,69.5 86.7,70.1 88.3,71.8 88.4,72.8 87.9,73.9 85.5,76.3ZM151.9,74.2 147.5,74.3 145.5,73.6 144.1,71.1 144.0,70.1 144.5,69.1 145.2,68.7 146.5,68.6 152.9,70.8 153.4,71.8 153.3,72.8 152.7,73.8ZM160.9,78.6 157.5,78.6 155.7,77.5 154.7,75.8 154.7,73.8 155.4,71.5 156.2,70.7 159.5,69.0 160.9,69.0 163.2,70.3 165.4,75.1 165.3,76.1 164.7,77.1 162.5,78.2ZM297.5,75.9 294.5,75.9 293.5,75.3 292.8,74.1 292.8,72.8 293.8,70.8 295.5,69.4 296.5,69.3 297.9,69.7 298.6,70.1 299.0,70.8 299.0,72.5 298.6,74.8 298.2,75.5ZM303.5,76.9 302.2,76.9 301.5,76.5 301.1,75.8 300.4,72.5 300.4,70.8 300.8,69.8 301.5,69.4 302.9,69.3 303.9,69.8 304.8,71.8 306.0,73.5 305.9,75.5ZM135.9,74.2 134.2,74.6 133.2,74.2 132.1,72.5 132.1,70.8 132.5,70.1 133.2,69.7 134.9,69.7 135.9,70.3 136.3,71.1 136.3,73.5ZM130.2,78.2 127.5,78.3 126.1,77.5 125.0,74.1 125.0,71.8 125.5,70.8 126.5,70.3 128.2,70.4 128.9,70.8 130.6,73.5 131.3,75.1 131.4,76.8 130.9,77.8ZM222.5,78.6 220.9,78.6 219.9,78.2 218.5,76.9 218.0,75.8 218.1,74.1 219.1,72.1 220.2,70.8 221.2,70.3 223.5,70.3 224.5,70.8 225.7,73.8 225.7,76.5 225.2,77.5ZM142.2,76.9 140.5,76.9 139.5,76.3 139.1,75.5 139.1,72.1 139.5,71.4 140.2,71.0 141.2,71.0 142.3,71.5 143.6,73.8 143.6,75.5 143.0,76.5ZM249.9,75.9 247.9,75.9 245.2,74.8 244.7,73.5 245.2,71.8 246.2,71.3 248.5,71.3 250.3,72.1 251.0,73.1 251.0,74.5 250.6,75.5ZM202.5,75.6 201.2,75.6 200.2,75.1 199.7,73.8 200.2,72.4 201.9,72.0 203.2,72.5 203.7,73.5 203.6,74.5 203.2,75.2ZM62.2,83.6 61.2,83.6 60.2,83.2 59.4,81.1 59.4,78.1 60.0,76.5 60.1,74.8 60.7,73.8 62.2,73.0 65.5,73.0 67.5,75.0 68.6,77.1 69.0,79.1 69.0,80.8 68.6,81.5 67.9,81.9 64.2,82.7ZM288.5,83.2 287.5,83.3 286.5,82.8 283.2,79.3 282.4,77.5 282.4,76.1 282.9,75.4 284.9,73.7 286.9,73.0 288.5,73.0 290.2,73.8 291.7,76.5 291.6,78.1 289.2,82.8ZM207.5,83.6 205.9,83.6 203.4,81.8 202.7,80.5 202.7,77.8 203.2,76.7 206.2,73.8 207.2,73.3 208.5,73.3 209.5,73.7 210.3,74.5 210.7,75.5 210.7,76.8 209.8,79.1 209.6,81.1 208.7,82.8ZM48.2,77.2 46.9,77.2 46.2,76.8 45.8,76.1 45.8,74.8 46.2,74.1 46.9,73.7 48.2,73.7 48.9,74.1 49.3,74.8 49.3,76.1 48.9,76.8ZM190.5,79.6 189.2,79.6 187.5,78.7 185.5,78.6 184.2,77.8 183.7,76.5 184.2,75.1 187.2,73.6 188.5,73.7 190.5,74.7 191.6,76.1 191.7,77.1 191.6,78.5 191.2,79.2ZM178.9,82.6 177.9,82.6 176.8,82.1 175.1,79.8 174.0,77.1 174.1,76.1 174.7,75.1 177.2,74.0 178.9,74.0 180.5,75.1 181.4,77.5 180.6,80.5 179.9,81.9ZM272.2,89.2 270.9,89.2 268.9,88.0 266.9,87.6 264.2,86.2 263.2,85.6 262.7,84.5 262.7,81.1 263.1,78.1 263.5,77.3 264.5,76.7 266.9,76.2 270.5,74.0 271.9,74.0 272.9,74.4 273.9,75.1 274.4,76.1 274.3,78.1 273.0,82.1 273.4,87.8 272.9,88.8ZM78.9,85.6 74.2,85.9 72.5,84.6 70.8,81.8 70.7,78.8 71.5,77.1 73.5,75.7 75.5,74.7 77.5,74.3 79.0,75.1 80.2,77.3 82.0,78.8 82.4,79.8 82.4,81.1 80.0,85.1ZM56.9,81.6 55.5,81.6 54.5,81.0 53.8,80.1 52.8,78.1 52.7,76.8 53.1,75.8 55.2,74.7 56.9,74.7 57.5,75.1 58.0,75.8 58.0,80.1 57.6,81.1ZM259.2,86.9 256.9,86.9 252.9,85.9 249.5,84.5 249.0,83.5 249.0,81.1 250.2,77.4 254.9,75.0 255.5,75.0 257.5,75.7 260.2,77.5 260.7,78.5 260.7,82.8 260.3,85.8 259.9,86.5ZM95.2,82.2 93.5,82.3 91.5,81.9 87.5,79.8 87.1,79.1 87.0,77.8 88.2,75.8 89.2,75.3 90.9,75.4 94.2,77.3 95.9,79.0 96.4,80.1 96.2,81.3ZM199.9,81.2 196.2,80.9 194.9,80.0 194.0,78.5 194.0,76.8 194.5,75.8 195.5,75.3 196.5,75.4 199.2,76.7 200.2,77.6 201.0,78.8 201.0,79.8 200.6,80.8ZM122.5,79.6 121.2,79.6 120.5,79.2 120.1,78.5 120.1,76.8 120.5,76.1 121.2,75.7 122.5,75.7 123.2,76.1 123.6,76.8 123.6,78.5 123.2,79.2ZM146.5,83.6 145.2,83.6 144.2,82.6 144.1,79.1 145.9,76.0 147.9,75.6 149.9,76.0 150.6,76.5 151.0,77.1 151.0,78.5 149.0,81.5ZM239.2,79.9 237.9,80.0 236.8,79.5 236.0,77.8 236.1,76.8 236.5,76.1 237.2,75.7 238.5,75.6 239.9,76.1 240.4,77.1 240.4,78.5 239.9,79.5ZM109.2,85.2 107.9,85.3 106.9,84.9 105.4,82.8 102.5,80.5 102.0,78.8 103.2,76.7 105.5,76.0 109.9,76.0 110.6,76.5 112.3,78.8 113.0,80.1 113.0,81.5 112.0,82.8ZM244.9,80.2 243.5,80.2 242.9,79.8 242.4,79.1 242.4,77.8 242.9,77.1 243.5,76.7 244.9,76.7 245.5,77.1 246.0,77.8 246.0,79.1 245.5,79.8ZM216.9,88.9 215.9,89.0 214.7,88.5 211.7,85.8 210.5,84.5 210.0,83.5 210.4,81.8 212.0,80.1 213.1,77.8 214.5,77.0 215.5,77.0 217.3,78.1 219.2,80.0 219.7,81.1 219.7,83.5 219.0,86.8 218.0,88.1ZM277.9,90.2 276.2,90.2 275.5,89.8 275.0,88.8 275.1,87.5 276.0,84.8 275.7,78.8 276.2,77.8 277.2,77.3 278.2,77.4 279.9,78.3 282.0,80.5 283.0,82.1 284.9,83.8 285.4,84.8 285.0,86.5 283.7,87.8 282.9,88.2 281.2,88.4ZM140.9,83.2 138.2,83.3 135.9,82.5 135.0,80.8 135.1,79.5 135.7,78.5 136.9,77.7 138.5,77.6 141.3,79.1 142.0,80.1 142.0,81.8 141.6,82.8ZM171.9,86.2 168.5,86.2 167.8,85.8 167.4,84.8 167.4,80.5 168.5,78.5 170.2,77.6 171.2,77.7 172.2,78.3 173.6,80.1 175.0,83.1 175.0,84.5 174.3,85.5ZM294.9,84.9 292.9,84.9 292.2,84.5 291.7,83.5 291.8,82.5 293.8,78.8 295.2,78.3 299.9,78.3 300.9,78.8 301.4,80.1 301.4,81.5 300.9,82.5 297.2,83.7ZM234.5,89.6 232.9,89.6 232.2,89.2 231.8,88.5 232.0,86.5 230.8,82.8 230.7,80.5 231.2,79.1 231.9,78.7 232.9,78.6 234.0,79.1 235.4,81.1 237.5,82.8 238.0,83.5 237.4,87.8ZM305.9,86.0 304.5,85.5 302.7,82.5 302.8,81.1 303.4,79.8 303.9,79.1 304.9,78.6 305.9,78.6 306.0,79.1ZM155.2,87.6 154.2,87.6 153.2,87.2 150.7,85.5 150.1,84.5 150.0,83.5 150.4,82.5 152.0,80.1 153.2,79.4 154.2,79.3 155.2,79.7 156.0,80.8 156.4,83.1 156.4,86.1 155.9,87.1ZM164.5,86.6 162.5,86.6 159.9,86.2 159.1,85.8 158.4,84.5 158.4,82.1 158.8,81.1 160.5,80.6 162.5,79.4 163.9,79.3 164.9,79.8 165.7,82.5 165.7,85.1 165.2,86.1ZM228.5,89.9 227.2,90.0 223.9,89.3 221.8,88.5 221.4,87.5 221.4,85.8 221.7,84.8 221.7,81.8 222.2,80.8 225.9,79.3 227.2,79.3 228.2,79.8 229.0,81.5 229.7,84.8 229.5,86.5 229.6,88.8 229.2,89.5ZM185.5,86.9 182.9,86.9 181.5,86.2 181.1,85.5 181.0,84.5 181.8,82.1 182.8,80.1 183.5,79.7 185.5,79.7 187.2,80.8 187.6,81.5 187.6,83.5 186.2,86.5ZM130.5,89.6 128.2,89.6 126.5,88.6 125.8,87.5 125.7,82.1 126.2,81.1 126.9,80.7 128.9,80.3 131.2,80.4 132.2,81.0 133.6,83.5 133.7,84.8 133.3,85.8 131.6,88.8ZM107.2,92.6 99.2,92.6 97.5,91.9 96.4,90.8 95.8,89.8 95.7,88.8 96.4,85.1 98.2,81.8 99.9,81.3 101.5,82.0 102.9,83.3 104.2,85.3 105.7,86.1 107.7,88.1 108.3,89.1 108.4,91.1 107.9,92.1ZM52.2,85.2 50.9,85.3 49.8,84.8 49.4,83.5 49.9,82.1 51.5,81.6 52.9,82.1 53.4,83.1 53.3,84.1 52.9,84.8ZM122.2,86.9 120.5,86.9 119.2,85.9 118.0,83.8 118.1,82.8 118.5,82.1 119.5,81.6 121.5,81.6 122.9,82.1 123.4,83.1 123.4,85.5 122.9,86.5ZM192.9,90.6 191.2,90.6 190.2,90.2 188.5,88.6 188.0,87.5 188.1,86.5 189.3,84.8 190.5,82.1 191.5,81.6 193.2,82.0 194.0,83.5 194.0,89.1 193.6,90.1ZM92.9,89.2 87.2,89.0 83.9,87.9 83.1,87.1 82.7,86.1 82.7,84.8 83.1,83.8 84.2,82.4 85.9,82.0 88.2,82.9 90.2,83.0 93.2,84.0 94.0,85.1 94.0,87.8 93.6,88.8ZM200.2,90.6 198.9,90.6 196.5,89.5 196.0,88.5 196.0,86.5 196.9,83.8 199.5,82.7 201.5,82.6 203.0,83.5 203.4,84.5 203.4,86.1 201.3,89.8ZM243.5,88.6 241.9,88.6 240.2,87.8 239.4,85.5 239.4,84.1 239.9,83.4 241.5,82.6 243.9,82.6 245.9,83.5 246.4,84.5 246.3,85.5 244.5,87.9ZM68.9,92.9 67.5,92.9 60.9,89.2 60.4,87.8 60.8,86.1 67.9,83.6 69.2,83.6 70.3,84.1 72.0,86.8 72.4,88.1 72.4,89.8 71.7,91.1ZM113.2,92.6 111.2,92.6 110.2,92.2 109.4,90.5 109.4,89.1 110.5,87.0 112.2,85.5 112.9,84.4 113.5,84.0 114.9,84.0 116.0,84.5 117.0,85.8 117.4,87.8 115.7,90.8ZM136.9,90.6 135.5,90.6 134.9,90.2 134.4,89.5 134.4,87.5 135.2,85.5 136.5,85.0 139.5,85.0 140.5,85.4 141.0,86.5 141.0,87.8 140.2,89.5ZM48.9,89.9 47.2,89.9 46.1,89.1 45.7,87.5 46.2,86.1 47.9,85.6 48.9,86.0 49.6,86.8 50.0,87.8 50.0,88.8 49.6,89.5ZM209.2,95.3 204.9,95.6 203.7,94.8 202.8,92.8 202.7,91.5 203.4,89.8 205.8,86.1 206.5,85.7 207.9,85.6 209.2,86.3 213.6,90.8 214.0,92.5 213.5,93.5 211.5,94.6ZM292.5,98.6 290.2,98.6 289.2,98.1 288.8,97.5 288.6,95.8 287.4,94.1 285.4,90.1 285.4,88.1 286.5,86.3 287.5,85.7 288.9,85.6 289.9,86.0 292.2,88.0 292.6,88.8 292.7,91.1 293.7,96.8 293.2,98.1ZM151.2,91.9 149.9,91.9 147.8,91.1 147.4,90.1 147.4,88.8 147.9,87.4 148.9,87.0 149.9,87.0 151.9,88.7 152.4,90.5 151.9,91.5ZM252.5,96.6 251.2,96.6 248.5,95.5 246.1,91.5 246.0,89.8 246.4,88.8 248.5,87.0 251.5,87.0 255.5,88.0 257.0,88.8 257.6,89.8 257.6,91.8 256.5,94.3ZM171.9,94.6 169.2,94.3 168.2,93.8 167.8,93.1 167.7,91.8 167.7,89.5 168.2,88.5 169.5,87.7 171.2,87.3 176.5,87.3 177.5,87.8 178.0,88.8 178.0,90.1 177.2,92.3ZM81.5,96.9 79.5,96.9 77.2,94.9 74.4,90.8 74.4,89.8 74.9,88.8 79.2,87.6 80.9,87.7 82.5,88.7 83.0,89.8 83.0,94.8 82.2,96.5ZM123.5,97.6 121.9,97.6 117.5,95.9 116.8,95.5 116.4,94.5 116.8,92.8 119.7,89.5 122.9,88.3 124.7,88.8 125.9,90.0 126.4,91.1 126.4,92.8 126.0,94.5 124.5,96.9ZM164.2,96.2 156.9,96.0 155.9,95.6 155.1,94.5 155.0,93.8 155.1,92.1 155.8,90.5 157.2,89.0 159.5,88.3 163.9,88.6 164.9,89.1 165.7,91.8 165.7,94.5 165.2,95.6ZM267.5,99.6 265.5,99.6 262.2,98.9 261.2,97.9 259.4,95.1 259.0,94.1 259.1,92.8 260.9,88.8 261.9,88.3 263.5,88.4 267.2,90.2 269.9,90.7 272.3,92.1 272.7,93.5 272.3,94.8 268.9,98.6ZM183.5,94.9 181.9,95.0 180.9,94.6 179.8,92.8 179.7,91.8 180.1,90.5 180.8,89.1 181.5,88.7 184.5,88.6 185.9,89.0 187.4,90.1 188.3,91.5 188.4,92.8 187.9,93.8 187.2,94.2 185.2,94.3ZM305.9,99.0 304.5,98.9 303.9,98.5 303.4,97.8 303.4,96.8 304.0,93.8 304.1,90.1 304.5,89.4 305.9,89.0ZM226.5,98.9 224.5,99.0 222.9,98.3 217.9,98.0 216.7,97.5 215.7,95.1 215.8,92.8 216.5,91.3 218.9,90.0 222.5,90.0 226.5,92.2 228.9,93.1 229.4,94.1 229.3,95.1 227.6,98.1ZM242.5,100.2 240.5,100.2 237.9,98.9 236.0,97.1 234.1,94.5 234.1,93.1 234.7,92.1 237.2,90.7 239.2,90.0 242.5,90.0 243.9,90.7 245.3,93.1 245.7,96.1 243.5,99.6ZM54.5,98.0 47.9,98.2 46.9,97.3 46.8,95.8 47.8,93.1 52.9,90.4 54.5,90.3 55.5,90.8 56.0,91.5 56.4,94.1 56.4,96.1 56.0,97.1ZM88.2,95.9 85.5,95.9 84.9,95.5 84.4,94.8 84.4,93.1 84.8,91.5 85.2,90.8 85.9,90.4 87.9,90.4 90.2,91.4 90.6,92.1 90.7,93.5 90.3,94.5 89.5,95.2ZM299.5,99.2 297.2,99.2 296.4,98.8 295.8,97.8 295.4,96.5 295.0,91.8 295.5,90.8 296.2,90.4 300.5,90.3 301.5,90.8 302.0,91.5 301.6,97.8 301.2,98.5ZM44.2,95.6 43.1,95.5 43.2,90.6 44.9,91.3 45.7,92.8 45.3,94.5 44.9,95.2ZM285.2,98.2 283.5,98.6 282.5,98.2 279.5,95.9 278.4,93.8 278.4,92.5 278.9,91.8 281.2,91.0 282.9,91.0 283.9,91.5 285.7,96.1 285.6,97.5ZM66.5,97.9 59.5,98.0 58.5,97.5 57.7,94.8 57.8,93.1 58.5,91.8 59.9,91.3 61.9,91.7 64.2,93.6 67.2,94.8 67.6,95.5 67.7,96.5 67.2,97.5ZM128.9,104.2 127.5,104.2 126.5,103.6 125.4,101.5 125.4,99.8 126.8,95.8 128.9,92.7 130.2,92.0 132.9,92.0 134.6,93.1 136.0,96.5 136.0,97.8 135.2,99.1 132.9,100.6 131.2,102.8ZM199.5,99.2 197.5,99.2 196.7,98.8 196.1,97.8 195.7,96.5 195.7,94.1 196.2,93.1 196.9,92.7 198.9,92.6 200.5,93.4 201.3,94.1 202.0,95.5 202.0,96.8 201.6,97.8ZM95.2,101.2 93.9,101.2 92.2,100.6 91.4,99.1 91.4,96.5 91.8,95.5 93.4,93.8 94.5,93.3 96.2,93.8 96.7,94.8 96.6,99.8 96.2,100.6ZM192.5,100.2 191.2,100.2 189.9,99.5 189.4,98.8 189.4,95.1 190.2,93.8 190.9,93.4 192.2,93.4 192.9,93.8 193.3,94.5 193.7,98.8 193.2,99.8ZM76.9,101.2 73.2,101.2 69.5,99.1 69.0,97.5 70.4,94.5 72.5,93.6 73.5,93.7 74.5,94.3 78.0,98.8 78.0,100.1 77.5,100.8ZM151.5,98.6 149.9,98.6 145.9,97.5 145.4,96.1 145.4,94.8 145.8,94.1 146.5,93.7 147.9,93.6 150.2,94.6 151.9,94.6 152.9,95.1 153.4,96.1 153.3,97.1 152.9,97.8ZM101.9,103.9 100.9,104.0 99.9,103.6 98.8,102.8 98.4,102.1 98.4,98.1 98.8,96.1 99.2,95.4 100.2,95.0 105.9,94.7 106.6,95.1 107.0,96.5 106.0,100.5 104.9,102.3ZM111.5,104.2 110.2,104.3 109.2,103.9 107.8,102.8 107.4,101.8 107.4,100.8 108.4,98.5 108.4,96.5 109.2,95.1 110.2,94.6 111.9,95.1 112.7,97.1 112.5,98.8 112.7,102.8 112.2,103.8ZM178.9,99.8 175.9,100.6 174.9,100.2 173.7,97.8 174.2,96.0 176.5,94.6 178.3,95.1 179.4,97.1 179.4,98.8ZM142.5,99.6 140.9,99.6 139.8,99.1 139.4,97.8 139.9,96.4 141.5,95.6 142.9,95.7 143.6,96.1 144.0,97.1 144.0,98.1 143.3,99.1ZM213.2,103.2 211.5,103.2 207.4,101.5 206.7,100.1 207.2,98.5 209.2,97.0 211.2,96.9 212.5,96.3 214.3,96.8 215.3,98.1 215.4,99.5 214.1,102.5ZM171.2,102.6 168.9,102.6 166.9,101.6 166.4,100.8 166.4,99.5 166.4,98.1 166.9,97.1 167.9,96.6 169.9,96.6 171.2,97.3 172.4,100.8 171.9,102.1ZM184.9,101.6 183.5,101.6 181.5,100.3 181.0,98.8 181.1,97.8 181.5,97.1 182.5,96.6 185.9,96.6 187.2,97.3 187.7,98.5 187.5,99.6 187.2,100.2ZM236.9,110.9 235.5,110.9 230.5,109.2 228.9,108.3 228.1,106.8 228.1,101.5 230.4,98.1 231.9,97.0 232.9,97.0 234.0,97.5 239.2,102.3 240.0,103.5 240.0,107.5 237.9,110.3ZM257.9,107.6 254.5,107.6 253.9,107.2 253.4,106.5 253.4,103.5 254.0,101.5 253.7,98.5 254.2,97.5 254.9,97.0 257.2,97.0 258.2,97.4 259.5,98.7 260.3,100.1 260.3,104.1 259.0,106.8ZM279.2,102.2 278.2,102.3 277.2,101.9 276.4,100.8 276.0,98.5 276.5,97.5 277.2,97.0 278.2,97.0 279.2,97.4 280.5,98.3 281.0,99.1 281.0,100.1 280.6,101.1ZM85.2,102.6 83.9,102.6 83.0,101.8 82.7,100.1 83.2,99.0 84.9,98.0 87.2,97.3 88.5,97.4 89.3,97.8 90.0,99.1 89.6,100.8 87.5,101.9ZM161.2,106.6 160.2,106.6 159.2,106.2 157.8,104.5 155.4,99.5 155.5,98.3 156.5,97.4 157.9,97.3 160.5,98.2 162.2,98.4 163.9,99.1 164.3,99.8 164.3,101.5 163.0,104.5 162.2,105.9ZM118.2,108.6 115.9,108.6 115.2,108.1 114.7,107.1 115.0,104.1 114.4,102.5 114.4,101.1 115.5,98.5 116.5,98.0 118.5,98.4 123.2,100.7 124.0,101.8 124.4,103.1 124.3,104.8 123.2,106.3 120.2,107.9ZM249.5,108.6 244.2,107.9 243.2,107.3 242.7,106.1 242.8,103.1 243.9,101.3 248.9,98.3 250.5,98.4 251.2,98.8 251.7,99.8 251.7,104.1 251.3,107.1 250.9,107.8ZM273.5,107.6 272.2,107.6 271.2,107.1 269.0,102.5 269.0,101.1 269.4,100.1 270.7,98.8 271.9,98.3 273.5,98.4 274.2,98.8 274.7,99.8 275.0,104.8 274.5,106.6ZM62.9,104.2 61.2,104.2 58.5,103.1 58.1,102.5 58.0,101.1 58.5,99.8 59.5,99.3 61.2,99.3 63.9,100.5 64.4,101.5 64.3,102.5 63.6,103.8ZM54.5,105.6 53.2,105.6 49.2,103.8 48.7,102.5 49.2,101.1 51.9,100.0 53.9,99.6 55.2,99.6 56.2,100.1 56.7,101.1 56.6,103.5 55.7,104.8ZM146.5,104.6 144.2,104.6 142.8,103.8 142.4,101.8 142.8,100.8 143.5,100.0 144.5,99.6 146.9,99.6 148.6,100.5 149.0,101.8 148.6,103.1 148.2,103.8ZM202.2,107.2 200.9,107.2 199.4,106.1 198.4,104.1 198.4,102.8 199.2,101.4 201.9,100.0 202.9,100.0 203.9,100.4 204.3,101.1 204.4,102.8 203.3,106.1 202.9,106.8ZM225.5,104.2 219.2,103.9 217.8,103.1 217.4,102.1 217.4,101.1 217.9,100.4 218.9,100.0 225.5,100.4 226.4,101.1 226.7,102.5 226.2,103.8ZM137.2,110.6 136.2,110.6 135.1,110.1 132.2,107.6 131.7,106.5 131.8,105.1 132.2,104.5 134.0,103.1 135.4,100.8 136.5,100.3 137.9,100.4 139.0,101.1 140.7,104.5 140.7,105.8 140.3,106.8 138.9,108.3 137.9,110.1ZM290.9,111.9 289.5,111.9 287.2,110.5 286.9,110.0 286.7,104.1 287.5,102.1 288.5,101.4 291.2,100.6 292.5,100.6 293.7,101.1 294.3,102.1 294.0,105.8 292.4,108.8 292.0,111.1ZM195.5,106.2 193.9,106.2 193.2,105.8 192.7,104.8 193.0,102.1 194.9,101.0 196.5,101.4 197.0,102.5 197.0,103.8 196.6,105.1 196.2,105.8ZM301.9,116.9 299.9,117.0 298.2,116.6 296.9,117.0 295.2,116.9 294.5,116.5 292.8,114.5 292.8,112.8 294.8,107.1 296.3,104.5 297.1,102.1 297.5,101.4 298.2,101.0 300.2,101.0 301.4,101.8 302.0,102.8 302.4,108.1 303.4,111.8 303.0,115.8 302.6,116.5ZM305.9,108.0 304.5,107.5 304.1,106.8 304.0,105.5 304.1,102.1 304.5,101.4 305.9,101.0ZM44.9,107.5 43.2,108.0 43.0,106.1 43.1,101.8 44.2,101.3 45.6,101.8 46.4,103.8 46.3,104.8 45.3,106.8ZM153.2,108.9 151.9,109.0 150.9,108.5 150.1,107.1 149.7,105.5 149.7,104.1 150.1,103.1 151.2,101.8 152.2,101.3 153.2,101.4 153.9,101.8 156.0,105.8 156.0,107.1 155.6,107.8ZM76.2,110.2 74.9,110.2 74.2,109.8 73.8,109.1 74.1,105.1 74.5,104.3 76.0,103.5 76.9,102.4 78.2,101.7 79.9,101.7 80.6,102.1 82.0,104.5 82.0,106.1 81.3,107.5 80.5,108.2ZM179.5,108.9 176.5,108.9 175.5,108.3 175.0,107.1 175.0,105.1 175.8,103.5 178.9,102.0 180.2,102.0 181.0,102.5 182.9,104.3 183.4,105.5 183.4,106.8 182.9,107.8ZM266.5,109.6 264.5,109.6 262.5,108.9 261.4,108.1 261.0,106.8 261.4,104.1 261.8,103.1 262.5,102.4 263.5,102.0 265.9,102.0 266.9,102.4 267.6,103.1 268.7,107.5 268.2,108.5ZM90.2,107.9 86.9,108.0 85.9,107.6 85.0,106.1 85.5,104.5 89.5,102.6 91.9,102.6 92.9,103.1 93.4,104.1 93.0,105.8ZM190.2,110.9 188.2,111.0 187.2,110.6 186.4,109.8 185.8,108.5 185.4,104.8 186.2,103.6 187.9,102.7 188.9,102.6 189.9,103.0 190.6,104.1 191.4,107.1 191.4,109.5 190.9,110.5ZM283.5,109.9 281.9,109.9 277.7,108.5 277.0,107.1 277.0,105.8 277.5,104.8 279.2,104.0 282.2,103.3 283.5,103.3 284.5,103.8 285.0,104.8 284.7,108.5 284.2,109.5ZM172.2,109.6 168.5,109.9 165.2,108.1 164.7,106.5 165.9,104.4 167.5,104.0 171.9,105.0 172.6,105.5 173.4,107.1 173.3,108.5 172.9,109.1ZM105.2,110.6 103.9,110.6 102.8,110.1 102.4,109.1 102.4,106.5 103.1,105.5 104.9,104.4 106.9,104.4 108.2,105.0 109.0,105.8 109.4,106.8 109.3,107.8 108.5,108.9ZM209.0,110.1 207.2,110.6 206.2,110.2 205.4,108.8 205.4,105.8 206.1,104.8 207.2,104.3 209.2,104.7 210.0,106.1 209.6,109.1ZM99.2,110.6 96.2,110.6 93.7,109.8 93.0,108.5 93.1,107.1 93.5,106.3 94.2,105.7 96.5,104.6 97.5,104.7 99.0,105.5 100.0,106.5 100.4,107.5 100.3,109.5 99.9,110.2ZM215.2,111.2 213.2,111.2 212.5,110.8 212.0,109.8 212.4,106.8 213.1,105.8 214.2,105.3 215.9,105.8 216.4,106.8 216.3,110.1 215.9,110.8ZM59.2,110.6 56.9,110.6 56.2,110.1 55.8,109.5 55.8,107.5 56.5,106.1 57.2,105.7 59.2,105.7 61.2,106.8 61.6,107.5 61.7,108.8 61.2,109.8ZM223.9,112.2 221.9,112.2 219.5,110.6 218.7,108.5 218.8,107.1 219.2,106.4 220.2,106.0 222.9,106.0 225.5,106.4 226.2,106.8 226.7,107.8 226.6,108.8 225.5,110.9ZM52.5,112.9 50.9,112.9 49.5,112.2 48.5,111.3 47.4,109.1 47.4,107.8 47.9,107.1 48.5,106.7 49.9,106.6 53.6,107.8 54.0,108.8 54.0,111.1 53.5,112.3ZM70.5,110.2 69.2,110.2 68.5,109.8 68.1,109.1 68.1,107.8 68.5,107.1 69.2,106.7 70.5,106.7 71.2,107.1 71.6,107.8 71.6,109.1 71.2,109.8ZM145.9,113.6 141.5,113.2 140.8,112.8 140.4,112.1 140.4,110.5 141.4,108.5 142.4,107.5 143.9,106.7 146.5,106.7 148.0,107.5 149.6,109.1 149.6,110.8 149.0,111.8ZM130.9,117.9 126.5,118.3 125.4,117.8 123.8,114.1 123.0,110.5 123.1,108.8 123.5,108.1 125.5,107.0 127.9,107.0 128.9,107.4 130.9,108.6 132.7,110.5 133.3,111.5 133.3,112.8 132.4,114.5 131.6,117.5ZM196.5,115.6 195.5,115.6 194.5,115.1 192.8,112.5 192.8,111.1 193.5,109.8 196.9,108.0 199.2,108.0 200.6,108.8 201.0,109.8 201.0,110.8 200.0,112.5 197.5,115.0ZM81.5,116.2 78.9,116.3 77.9,115.9 76.4,114.1 76.4,112.8 76.9,111.8 80.2,109.7 82.2,109.3 83.2,109.8 83.6,110.5 83.7,114.5 83.2,115.5ZM270.9,119.9 269.2,119.9 268.5,119.5 268.1,118.8 267.4,112.5 267.9,111.3 269.7,109.8 271.5,109.3 272.5,109.8 273.0,110.5 273.4,112.8 273.0,113.8 273.0,116.8 272.6,118.1 271.9,119.3ZM158.2,117.6 156.9,117.6 155.9,117.0 153.5,114.3 153.0,113.1 153.1,112.1 153.7,111.1 156.9,109.6 158.5,110.1 159.0,111.1 159.4,116.1 158.9,117.1ZM163.9,118.9 162.2,118.9 161.5,118.5 161.0,117.5 161.0,113.5 161.4,111.5 162.2,110.1 163.2,109.6 164.2,109.7 166.2,110.7 167.0,112.1 166.0,117.5 165.5,118.2ZM246.2,120.9 244.5,121.0 243.4,120.5 242.0,118.5 239.2,116.3 238.4,115.1 238.4,113.5 238.8,112.5 240.4,110.5 241.5,109.7 244.2,109.6 245.9,110.0 248.0,111.1 249.0,112.8 249.7,115.8 249.6,117.8 248.2,119.6ZM255.5,118.9 253.9,119.0 252.8,118.5 252.3,116.5 250.8,113.5 250.8,111.1 251.2,110.3 252.2,109.7 256.2,109.6 257.2,110.1 257.6,110.8 257.7,112.1 257.0,114.5 257.0,117.1 256.2,118.5ZM88.9,117.2 86.9,117.2 86.2,116.8 85.7,115.8 86.1,111.1 86.5,110.4 87.5,110.0 88.9,110.0 90.0,110.5 91.0,112.8 90.6,115.1 89.6,116.8ZM182.9,116.9 181.5,116.9 179.5,115.8 178.7,114.5 177.8,113.8 177.4,112.1 178.1,110.8 179.2,110.3 181.5,110.6 183.2,110.0 184.5,110.0 185.2,110.5 185.7,111.5 185.6,113.1 184.0,116.1ZM111.9,116.9 110.9,117.0 109.2,116.3 106.5,116.6 105.5,116.2 104.7,114.8 104.7,113.5 105.2,112.5 108.2,111.6 110.9,110.3 112.5,110.3 113.5,110.8 114.0,111.8 114.0,114.1 112.9,116.3ZM122.2,120.9 121.2,121.0 118.5,120.0 116.5,119.9 114.9,119.2 114.4,118.5 114.4,117.1 115.1,114.5 116.5,111.5 117.2,111.0 118.5,110.6 120.2,110.6 121.2,111.1 121.6,111.8 122.4,114.5 122.4,116.1 123.4,118.1 123.3,119.8 122.9,120.5ZM262.9,122.2 261.2,122.3 259.9,121.9 258.9,121.3 258.4,120.1 259.1,116.1 260.0,114.1 260.1,112.1 260.5,111.4 261.5,111.0 262.5,111.0 264.9,112.5 265.4,113.5 265.4,116.1 266.4,118.8 266.3,119.8 265.7,120.8ZM278.2,117.9 276.5,117.9 275.8,117.5 275.4,116.5 275.8,112.1 276.2,111.4 277.2,111.0 279.2,111.4 280.0,112.8 279.3,116.8 278.9,117.5ZM229.5,122.9 228.2,123.0 224.5,121.9 223.8,121.5 223.4,120.5 223.4,117.5 224.0,116.1 224.1,114.5 225.4,112.5 227.5,111.3 229.9,111.3 231.9,111.7 235.2,113.4 235.7,114.5 235.6,115.8 234.2,118.3 230.3,122.5ZM68.2,120.9 66.9,120.9 65.8,120.1 65.4,119.1 65.4,116.1 66.6,114.5 67.2,112.8 69.2,112.0 71.5,112.0 72.3,112.5 73.0,113.5 73.0,115.1 71.4,117.8ZM203.9,119.6 201.2,119.6 200.2,119.2 199.4,117.8 199.4,116.5 200.0,115.5 201.7,114.1 203.2,112.4 204.2,112.0 205.9,112.0 207.7,113.1 208.6,114.1 209.0,115.1 209.0,117.1 208.6,117.8 207.9,118.2ZM287.9,123.9 286.9,124.0 285.9,123.5 284.7,122.1 282.4,120.8 281.1,118.8 281.1,117.1 282.6,114.5 282.8,113.5 283.4,112.5 284.2,112.0 285.9,112.0 288.5,113.4 291.4,115.5 292.3,117.1 292.3,118.5 290.3,121.8 288.9,123.3ZM62.9,116.9 55.9,116.9 55.2,116.5 54.8,115.8 54.8,114.1 55.5,112.8 56.5,112.3 58.2,112.6 59.2,112.3 63.2,112.4 63.9,112.8 64.3,113.5 64.4,114.8 63.6,116.5ZM170.5,118.9 169.5,119.0 168.5,118.5 168.1,117.8 168.0,116.8 168.4,114.8 169.5,112.8 170.2,112.4 171.5,112.3 172.6,112.8 173.0,114.5 171.4,118.1ZM138.9,125.9 137.2,125.9 136.1,125.1 134.8,122.1 133.7,118.5 133.8,116.8 134.4,115.5 135.8,113.1 136.9,112.6 138.2,112.7 139.5,113.4 140.3,114.1 140.7,115.1 140.7,119.8 141.0,122.1 140.3,124.8ZM188.2,123.9 186.9,124.0 185.8,123.5 185.4,122.5 185.0,118.5 185.8,116.8 187.0,115.5 187.9,113.3 188.9,112.7 189.9,112.6 191.0,113.1 192.6,114.8 193.0,115.8 193.0,117.1 191.1,120.1 190.2,122.3ZM220.9,119.2 218.9,119.3 216.9,118.9 213.2,117.6 212.5,117.1 212.1,116.5 212.1,115.1 212.5,114.5 213.2,114.0 215.5,113.3 218.2,113.3 220.9,114.0 221.6,114.5 222.0,115.1 222.0,116.8 222.0,118.1 221.5,118.8ZM100.9,122.6 99.2,122.6 97.9,121.8 97.4,121.1 97.0,118.8 97.4,116.8 99.2,114.5 100.2,114.0 101.5,114.0 102.2,114.5 103.7,117.8 103.3,119.5 101.6,122.1ZM153.9,124.9 152.2,124.9 150.9,123.9 150.0,121.1 147.8,117.1 148.0,115.1 149.5,114.0 150.5,114.0 151.6,114.5 152.8,117.5 155.6,121.8 155.4,123.8ZM146.9,123.9 144.2,123.9 143.4,123.5 142.8,122.5 142.7,118.1 143.2,117.1 143.9,116.7 144.9,116.6 145.9,117.1 147.6,120.5 148.0,121.8 148.0,122.8 147.6,123.5ZM51.9,124.2 50.2,124.3 46.2,123.6 45.1,122.8 44.7,121.8 44.8,120.8 45.2,120.1 48.5,118.6 50.2,117.4 51.2,117.0 52.2,117.0 52.9,117.5 53.3,118.1 53.4,120.1 53.0,123.1 52.6,123.8ZM94.2,121.6 92.5,121.6 91.8,121.1 91.4,120.5 91.4,118.5 91.8,117.8 92.5,117.4 94.2,117.4 94.9,117.8 95.3,118.5 95.3,120.5 94.9,121.2ZM81.5,123.9 79.9,123.9 78.9,123.3 78.4,122.5 78.4,119.5 78.8,118.8 79.5,118.4 82.2,118.4 82.9,118.8 83.3,119.5 83.4,120.8 83.0,122.5 82.3,123.5ZM59.2,129.2 58.2,129.3 57.2,128.8 56.1,127.5 55.1,125.1 55.4,119.8 55.9,119.1 56.9,118.6 59.5,119.0 62.9,118.7 63.5,119.1 64.0,119.8 64.4,121.5 64.3,122.8 62.2,126.9 61.0,128.1ZM74.9,123.6 72.9,123.6 72.2,123.1 71.7,122.1 72.2,120.3 73.2,119.1 74.2,118.6 75.9,119.1 76.4,120.1 76.3,122.1 75.9,122.9ZM88.5,123.2 87.2,123.2 85.5,122.5 85.1,121.8 85.0,120.5 85.5,119.1 86.2,118.7 87.5,118.6 88.9,119.1 89.6,120.5 89.7,121.8 89.2,122.8ZM110.2,125.9 106.9,126.0 104.5,125.6 103.8,125.1 103.4,124.1 103.4,122.8 104.4,120.5 105.5,119.0 106.5,118.6 107.9,118.6 109.9,119.1 111.2,119.0 112.2,119.5 112.7,120.5 112.6,121.8 111.3,125.1ZM237.2,128.9 235.2,129.0 234.2,128.5 232.4,125.8 232.4,124.1 232.9,123.0 235.9,119.3 236.9,118.7 238.2,118.6 239.2,119.1 240.5,120.8 242.4,122.1 243.0,123.1 243.0,124.1 242.5,125.2 240.2,126.6 239.0,128.1ZM296.2,133.6 295.2,133.6 294.1,133.1 293.2,131.7 291.2,129.6 290.1,127.5 290.1,125.8 292.1,122.5 294.9,119.0 295.9,118.6 297.9,119.0 301.2,118.7 302.6,119.5 303.6,121.8 303.7,126.8 303.3,128.1 302.7,129.1ZM177.2,126.9 175.5,126.9 174.9,126.5 174.4,125.8 174.4,123.8 175.2,122.0 178.9,119.0 181.5,119.0 182.5,119.4 183.0,120.1 183.4,123.1 183.0,124.8 181.9,125.6 178.9,126.0ZM195.2,124.9 193.5,125.0 192.5,124.5 192.1,123.8 192.0,122.8 192.5,121.7 194.2,120.0 195.2,119.4 196.2,119.3 198.5,120.7 199.0,122.5 198.2,123.9ZM166.9,128.2 163.5,128.2 162.5,127.6 160.2,125.1 159.7,123.5 160.7,121.5 165.2,119.7 166.5,119.6 169.5,121.0 170.4,121.8 172.6,124.8 172.5,126.6 171.5,127.6 168.5,127.6ZM134.2,130.2 126.9,129.3 125.7,128.8 124.8,127.1 124.4,124.5 124.4,122.5 124.9,121.3 127.9,120.0 130.5,120.0 131.5,120.4 135.3,127.5 135.3,129.1 134.9,129.8ZM218.2,128.9 214.2,129.0 212.4,127.8 211.8,126.8 211.6,124.8 210.7,122.5 210.8,121.1 211.2,120.4 212.9,120.0 214.2,120.6 216.2,120.6 219.2,121.4 220.2,122.0 220.7,123.1 220.6,124.1 219.4,126.1 219.3,127.8 218.9,128.5ZM281.5,126.6 274.2,127.0 273.2,126.5 271.7,123.5 271.8,122.5 272.4,121.5 274.5,120.3 279.2,120.3 280.5,121.0 282.6,124.1 282.6,125.5 282.2,126.1ZM249.9,129.6 248.5,129.6 247.5,129.2 245.8,126.8 245.4,125.8 245.4,124.5 245.8,122.8 248.2,121.4 250.9,120.6 253.9,120.6 255.5,121.4 256.0,122.8 255.6,124.5 252.2,128.3ZM208.2,126.2 206.9,126.2 204.2,124.6 203.7,123.1 204.2,121.8 206.2,121.0 207.5,121.0 208.6,121.5 209.0,122.1 209.4,124.8 208.9,125.8ZM121.5,130.6 119.5,130.6 117.5,129.7 115.2,129.6 114.2,128.9 113.4,127.5 113.4,126.5 115.2,122.1 116.2,121.6 117.5,121.6 118.5,122.0 120.9,122.0 121.9,122.5 123.0,126.1 123.0,128.8 122.5,129.9ZM270.2,135.6 266.9,135.9 265.9,135.3 264.8,134.1 262.4,130.1 262.4,127.8 263.5,124.5 267.2,122.6 268.9,123.0 270.3,124.5 272.0,127.8 272.4,131.1 272.3,132.1 271.2,134.9ZM66.9,130.2 64.0,130.1 63.1,129.1 63.0,128.1 65.9,123.7 66.9,123.0 68.2,123.0 70.9,124.7 72.3,127.1 72.4,128.1 71.9,129.1 71.2,129.6 68.9,129.6ZM97.2,129.2 93.5,129.0 92.4,128.5 91.4,126.5 91.9,124.7 93.2,124.0 98.5,124.0 99.5,124.4 100.0,125.5 100.0,126.8 99.5,127.5ZM229.5,133.6 228.5,133.6 227.5,133.2 222.1,129.5 221.7,127.5 223.2,124.4 224.2,124.0 225.5,124.0 227.5,124.6 229.2,124.7 229.9,125.1 232.0,128.5 232.4,130.1 231.0,132.5ZM85.5,128.2 84.2,128.2 83.5,127.8 83.1,127.1 83.1,125.8 83.5,125.1 84.2,124.7 85.5,124.7 86.2,125.1 86.6,125.8 86.6,127.1 86.2,127.8ZM46.9,132.9 44.9,132.7 43.8,131.1 43.4,129.8 43.4,126.8 43.9,125.4 45.2,125.0 48.9,125.3 51.2,126.0 52.9,126.0 54.2,127.0 54.6,127.8 54.7,129.1 54.6,130.5 54.2,131.2 53.5,131.6ZM79.5,133.6 78.2,133.6 77.1,133.1 74.1,129.1 74.0,127.8 74.4,126.8 76.5,125.0 79.9,125.4 80.6,125.8 81.0,126.5 81.4,131.1 80.5,132.9ZM254.2,133.9 252.9,134.0 251.8,133.5 251.4,132.1 251.8,130.8 252.5,129.7 256.2,126.0 257.9,125.3 259.5,125.7 260.3,126.8 260.7,128.1 260.7,129.8 260.2,130.8ZM145.2,134.2 143.2,134.2 139.2,131.6 138.4,130.1 138.4,128.8 138.8,127.8 142.9,125.6 149.5,125.6 150.5,126.1 151.0,126.8 151.0,128.1 150.3,130.1 148.2,132.8ZM190.5,133.6 188.5,133.6 187.8,133.1 187.1,131.8 187.0,129.8 186.4,127.1 186.8,126.1 187.5,125.7 188.9,125.7 191.0,126.8 193.0,130.1 193.0,131.5 192.6,132.5ZM161.2,137.9 159.9,137.9 157.1,136.5 156.4,135.1 156.3,133.1 154.1,128.8 154.1,127.5 154.9,126.4 156.5,126.0 158.2,126.4 161.9,130.0 162.4,136.5 161.9,137.5ZM197.9,131.6 196.9,131.6 195.9,131.2 194.4,129.1 194.4,128.1 194.8,127.1 196.2,126.4 197.9,126.4 198.5,126.8 199.0,127.5 199.0,130.5 198.6,131.1ZM203.5,130.2 202.2,130.2 201.5,129.8 201.1,129.1 201.1,127.8 201.5,127.1 202.2,126.7 203.5,126.7 204.2,127.1 204.6,127.8 204.6,129.1 204.2,129.8ZM184.5,137.2 183.5,137.3 182.5,136.9 178.5,133.3 176.5,131.9 176.0,130.5 176.5,129.1 177.9,128.4 179.2,128.2 182.5,127.0 183.9,127.0 184.6,127.5 185.0,128.5 186.0,135.1 185.6,136.5ZM107.5,136.9 106.5,137.0 105.5,136.5 105.1,135.8 104.9,134.1 103.4,131.8 103.0,129.1 103.5,128.1 104.2,127.7 108.5,127.6 110.5,128.0 111.2,128.5 111.6,129.1 111.6,131.1 110.6,133.1 108.2,136.5ZM243.9,135.9 242.2,135.9 238.0,133.5 237.4,132.5 237.4,131.5 238.5,129.6 242.9,128.0 243.9,128.0 245.0,128.8 246.6,131.5 246.7,132.8 246.0,134.1ZM277.5,138.2 276.2,138.2 273.8,136.5 273.4,135.5 273.4,131.1 274.5,129.5 275.9,128.7 281.5,128.4 282.2,128.8 282.6,129.5 282.6,131.5 280.5,134.9 278.9,136.7 278.2,137.8ZM169.2,139.6 167.9,139.6 164.4,137.8 164.0,136.8 164.0,134.5 164.4,133.5 164.1,131.1 164.5,130.5 165.2,130.0 168.9,130.0 172.2,129.0 173.2,129.0 173.9,129.4 174.3,130.1 174.3,131.8 170.3,138.8ZM88.9,133.6 87.5,133.6 85.9,132.6 85.4,131.1 85.9,129.8 86.9,129.3 88.5,129.3 89.9,129.8 90.4,130.8 90.3,131.8 89.6,133.1ZM208.5,135.6 206.9,135.6 205.7,135.1 205.1,134.1 205.0,132.8 205.9,131.4 208.5,129.7 209.5,129.6 210.6,130.1 211.0,131.8 210.3,133.8 209.3,135.1ZM101.9,137.2 99.9,137.3 98.9,136.9 97.4,134.8 97.4,132.1 98.2,130.7 99.2,130.0 100.9,130.0 101.5,130.4 102.0,131.1 103.0,135.5 102.6,136.8ZM290.9,141.9 289.2,141.9 287.5,141.0 284.9,140.3 283.9,140.6 282.2,140.6 281.2,139.9 280.8,139.1 280.8,137.5 281.9,135.7 286.0,131.1 287.2,130.4 288.5,130.3 289.7,130.8 292.9,134.3 293.6,135.8 293.6,137.5 291.6,141.5ZM216.9,140.6 215.9,140.6 214.7,140.1 213.5,138.9 212.4,137.1 212.4,134.8 213.3,133.1 213.4,131.8 213.8,131.1 214.5,130.7 215.9,130.6 216.9,131.1 218.0,133.8 218.4,138.5 217.6,140.1ZM305.5,139.2 304.2,139.2 302.5,138.4 299.9,137.9 298.5,137.2 298.0,136.1 298.1,135.1 298.5,134.4 301.2,132.4 304.2,130.6 305.5,130.7 306.0,131.1 306.0,138.5ZM127.5,141.6 123.9,141.6 123.2,141.1 122.8,140.5 122.7,133.8 123.1,132.5 123.5,131.8 125.2,131.0 132.2,131.4 132.9,131.8 133.4,132.8 133.0,137.1 131.3,140.1ZM225.9,138.9 222.9,138.6 220.8,137.8 219.7,134.5 219.7,132.5 220.2,131.4 221.9,131.0 223.5,131.7 225.4,134.1 226.9,135.0 227.4,136.1 227.3,137.5 226.7,138.5ZM73.2,135.9 71.5,135.9 69.5,135.0 67.9,135.0 66.9,134.5 66.4,133.1 66.8,131.8 68.2,131.3 72.2,131.3 73.2,131.7 74.3,133.5 74.4,134.1 73.9,135.5ZM119.5,138.2 117.9,138.2 113.9,137.2 112.9,136.6 112.4,135.8 112.4,134.5 113.9,131.8 115.5,131.3 117.9,132.0 119.5,132.0 120.2,132.5 120.7,133.5 120.7,136.8 120.2,137.8ZM58.9,148.3 51.7,148.1 52.4,145.5 54.0,142.8 54.1,141.5 55.0,139.5 55.1,137.8 56.0,135.8 56.1,133.5 56.5,132.8 57.5,132.3 58.5,132.4 60.0,133.1 61.3,135.1 61.4,137.8 62.0,139.5 62.0,141.5 62.4,142.5 62.4,144.8 62.0,145.8ZM142.2,146.9 140.5,146.9 136.9,145.2 135.9,144.3 133.4,140.8 133.7,137.5 134.4,134.5 135.2,132.8 135.9,132.4 137.2,132.4 139.9,133.7 141.9,135.5 142.3,136.1 142.4,138.1 143.4,140.1 143.0,143.1 143.4,145.1 142.9,146.5ZM234.5,139.6 232.2,139.6 230.1,138.5 229.4,137.1 229.4,136.1 230.1,135.1 232.9,133.0 233.9,132.6 235.5,133.1 236.0,134.1 236.0,137.8 235.2,139.1ZM203.5,140.2 201.9,140.3 199.5,139.9 198.8,139.5 198.0,137.1 198.0,134.5 198.5,133.4 199.5,133.0 201.2,133.0 202.9,134.0 204.7,137.8 204.6,139.1 204.2,139.8ZM257.9,139.9 256.2,139.9 255.2,139.3 254.7,138.1 255.1,136.5 256.9,135.0 259.9,133.4 261.2,133.3 262.3,133.8 264.0,135.8 264.0,136.8 263.6,137.8ZM50.5,145.2 48.9,145.6 47.9,145.2 45.5,143.8 45.1,143.1 44.7,141.8 44.4,136.5 44.9,135.4 46.2,134.7 51.9,134.3 52.9,134.8 53.3,135.5 53.4,136.5 52.3,140.8 51.4,142.5 51.0,144.5ZM86.2,142.6 84.9,142.6 83.9,142.2 81.8,138.8 81.4,135.8 81.8,134.8 82.5,134.4 83.9,134.3 85.2,134.9 88.2,135.4 88.9,135.8 89.3,136.5 89.4,138.8 89.0,139.8 87.5,141.0 86.9,142.2ZM193.9,142.2 191.9,142.2 188.2,140.0 187.4,138.5 187.9,136.7 189.5,135.7 193.5,134.4 194.9,134.3 195.9,134.8 196.4,135.8 196.3,140.1 195.5,141.3ZM178.2,144.2 176.9,144.2 173.9,142.7 172.5,142.6 171.9,142.2 171.4,141.5 171.4,140.1 171.8,139.1 174.8,135.1 175.5,134.7 176.9,134.7 178.9,135.7 180.2,137.0 181.3,138.8 181.4,139.8 181.0,140.8 179.2,143.6ZM251.9,144.6 249.9,144.6 247.2,143.2 245.2,141.6 244.8,140.8 244.7,139.8 245.4,137.1 247.1,135.5 248.5,134.7 250.2,134.7 252.5,136.1 253.0,136.8 253.7,140.8 253.7,142.5 253.0,143.8ZM147.9,144.2 146.2,144.2 145.2,143.3 144.7,138.5 144.7,137.1 145.2,136.0 146.2,135.4 147.9,135.0 149.2,135.5 150.6,137.5 151.0,138.8 151.0,139.8 149.6,143.5ZM78.9,146.2 77.5,146.2 73.5,144.9 72.8,144.5 72.4,143.5 72.4,141.1 73.4,138.5 76.2,136.4 77.2,136.0 78.2,136.0 78.9,136.5 80.0,138.5 81.0,142.1 81.0,143.5 80.6,144.5 79.5,145.8ZM68.2,144.6 66.2,144.6 65.4,144.1 64.8,143.1 63.8,140.1 63.7,138.1 64.2,136.8 64.9,136.4 66.9,136.4 69.9,138.0 70.6,139.1 70.7,140.5 70.3,142.5 69.5,143.8ZM93.9,139.9 92.5,140.0 91.5,139.5 91.0,138.1 91.5,136.8 93.2,136.3 94.6,136.8 95.0,137.8 95.0,138.8 94.6,139.5ZM239.9,142.2 238.9,142.3 237.9,141.8 237.4,141.1 237.4,139.8 238.2,137.1 239.2,136.6 240.9,136.6 242.9,137.7 243.3,138.5 243.4,139.8 242.5,141.2ZM103.5,145.2 100.9,145.3 99.2,144.6 98.4,143.5 98.4,142.1 99.5,140.1 102.9,138.0 104.5,137.6 105.5,138.1 106.0,138.8 106.0,140.5 104.6,144.1 104.2,144.8ZM211.9,145.2 207.9,145.3 206.8,144.8 206.0,141.8 206.8,139.5 207.5,138.4 208.5,138.0 209.9,138.0 213.3,141.1 213.7,142.1 213.6,143.5 212.9,144.6ZM271.2,147.9 269.9,147.9 268.5,147.2 267.0,146.1 266.4,145.1 266.0,139.8 266.5,138.8 267.2,138.4 268.5,138.0 272.2,138.0 275.0,139.8 275.6,140.8 275.7,143.1 275.3,144.1 273.9,145.3 272.2,147.3ZM303.5,147.9 302.2,147.9 298.9,146.6 294.2,143.9 293.7,142.8 293.8,141.8 295.5,138.4 296.9,138.0 299.2,138.4 305.4,142.1 306.0,143.1 306.0,144.5 304.2,147.5ZM157.5,144.6 153.9,144.6 152.8,144.1 152.4,143.5 152.4,142.1 153.4,140.1 154.9,139.4 156.2,139.3 157.9,139.4 159.2,140.1 159.7,141.1 159.6,142.1 158.2,144.1ZM115.9,143.6 114.2,143.6 113.2,142.9 112.7,141.5 113.2,140.1 113.9,139.7 115.2,139.6 116.5,140.3 117.0,142.1 116.6,143.1ZM188.2,148.2 180.0,148.1 180.0,146.1 180.4,145.1 182.7,142.1 184.9,140.4 185.9,140.3 186.9,140.7 188.7,142.1 189.6,143.5 189.6,144.8 188.4,146.8ZM167.9,148.2 159.0,148.1 159.4,146.1 161.0,144.1 162.5,141.1 164.2,140.6 168.9,142.1 169.3,142.8 169.4,144.1ZM224.9,146.6 223.9,146.6 222.9,146.2 220.5,143.9 220.0,142.5 220.5,141.1 221.2,140.7 222.5,140.6 224.9,141.0 225.6,141.5 226.0,142.5 226.0,145.1 225.6,146.1ZM232.2,145.2 230.2,145.2 228.8,144.5 228.4,142.8 228.9,141.4 229.5,141.0 230.9,141.0 232.9,141.8 233.3,142.5 233.4,143.8 232.9,144.8ZM262.2,146.2 260.9,146.3 259.7,145.8 258.8,144.5 258.7,143.5 259.5,142.0 261.5,141.0 262.9,141.0 263.9,141.4 264.3,142.1 264.4,144.1 263.7,145.5ZM93.5,148.3 91.9,148.3 91.2,147.9 89.5,146.3 89.0,145.1 89.1,143.8 90.0,142.5 91.2,141.7 92.9,141.3 94.2,141.4 95.5,142.0 96.4,143.5 96.3,144.8 95.3,146.8ZM288.2,148.3 280.9,148.1 277.8,145.1 277.4,144.1 277.4,142.8 277.8,142.1 278.5,141.7 282.2,141.6 285.5,143.2 288.5,143.7 289.5,144.6 289.7,145.8 289.0,147.5ZM204.5,148.3 199.2,148.3 197.2,147.6 195.8,145.8 195.7,144.5 196.1,143.5 197.2,142.4 198.5,142.0 200.9,142.4 203.2,143.4 204.7,144.8 205.3,145.8 205.3,147.1ZM109.5,147.9 107.5,147.9 106.8,147.5 106.4,146.5 106.4,145.5 107.4,143.5 108.9,142.6 110.5,143.0 111.4,144.5 111.3,145.8 110.6,147.1ZM133.2,148.3 125.5,148.3 124.4,146.1 124.4,144.8 124.8,144.1 125.5,143.7 128.9,143.3 130.5,142.6 131.5,142.7 132.2,143.1 134.3,145.5 134.3,146.8ZM246.9,148.3 239.9,148.2 239.8,145.5 240.2,144.7 241.5,143.7 242.5,143.3 243.5,143.4 246.9,145.1 247.3,145.8 247.4,147.1ZM221.2,148.2 215.2,148.2 214.7,146.8 214.8,145.1 215.2,144.5 215.9,144.0 217.5,144.0 219.0,144.8 220.9,146.8 221.4,147.8ZM88.9,148.2 81.2,148.3 80.7,148.1 80.7,147.8 81.2,146.7 82.5,145.4 83.5,145.0 86.2,145.0 87.9,145.7 88.5,146.3 89.0,147.5ZM178.5,148.2 170.9,148.3 170.4,148.1 170.4,147.5 171.2,145.4 172.2,145.0 173.5,145.0 176.9,145.7 178.2,146.4 178.7,147.5ZM74.5,148.2 68.5,148.3 68.0,148.1 68.0,147.1 68.5,146.1 69.2,145.7 71.5,145.3 74.0,146.5 74.6,147.5ZM46.5,148.2 43.2,148.3 43.2,145.6 44.2,145.7 46.2,146.8 46.6,147.5ZM116.9,148.2 113.2,148.2 113.1,147.1 113.9,146.0 114.9,145.6 115.9,145.7 116.6,146.1 117.0,146.8ZM155.9,148.2 147.2,148.3 146.4,148.1 146.9,146.8 148.9,145.7 151.9,145.6 155.5,146.8 156.0,147.5ZM194.5,148.2 191.5,148.3 191.0,148.1 191.0,147.8 191.5,146.8 193.2,146.3 194.2,146.8 194.7,147.8Z" fill="#7b4d2f" fill-rule="evenodd"/></g><line x1="303.7" y1="15.8" x2="303.7" y2="146.2" stroke="#555" stroke-width="0.8" /><rect x="59.9" y="76.2" width="40.4" height="39.4" fill="none" stroke="#fff" stroke-width="1.6" stroke-dasharray="5.2 3.2"/><line x1="48" y1="136.7" x2="301" y2="136.7" stroke="#fff" stroke-width="1.6" /><path d="M53.2,132.2 L46.6,136.7 L53.2,141.2" stroke="#fff" stroke-width="1.6" fill="none" stroke-linejoin="miter"/><path d="M295.8,132.2 L302.4,136.7 L295.8,141.2" stroke="#fff" stroke-width="1.6" fill="none" stroke-linejoin="miter"/><text x="175.6" y="131.8" font-size="10.8" text-anchor="middle" font-weight="bold" fill="#fff" font-family='"Liberation Sans", sans-serif' letter-spacing="0.45">0.3 mm</text><defs><linearGradient id="gblue" x1="0" y1="0" x2="0" y2="1"><stop offset="0" stop-color="#72cefc"/><stop offset="1" stop-color="#ffffff"/></linearGradient><linearGradient id="gtan" x1="0" y1="0" x2="0" y2="1"><stop offset="0" stop-color="#efc49c"/><stop offset="1" stop-color="#b8a08c"/></linearGradient></defs><rect x="379.90" y="125.96" width="4.40" height="1.44" fill="url(#gblue)" stroke="#3a3af2" stroke-width="0.9"/><rect x="384.30" y="126.68" width="4.40" height="0.72" fill="url(#gblue)" stroke="#3a3af2" stroke-width="0.9"/><rect x="388.70" y="123.79" width="4.40" height="3.61" fill="url(#gblue)" stroke="#3a3af2" stroke-width="0.9"/><rect x="393.10" y="118.02" width="4.40" height="9.38" fill="url(#gblue)" stroke="#3a3af2" stroke-width="0.9"/><rect x="397.50" y="104.68" width="4.40" height="22.72" fill="url(#gblue)" stroke="#3a3af2" stroke-width="0.9"/><rect x="401.90" y="87.73" width="4.40" height="39.67" fill="url(#gblue)" stroke="#3a3af2" stroke-width="0.9"/><rect x="406.30" y="63.56" width="4.40" height="63.84" fill="url(#gblue)" stroke="#3a3af2" stroke-width="0.9"/><rect x="410.70" y="52.74" width="4.40" height="74.66" fill="url(#gblue)" stroke="#3a3af2" stroke-width="0.9"/><rect x="415.10" y="46.97" width="4.40" height="80.43" fill="url(#gblue)" stroke="#3a3af2" stroke-width="0.9"/><rect x="419.50" y="47.69" width="4.40" height="79.71" fill="url(#gblue)" stroke="#3a3af2" stroke-width="0.9"/><rect x="423.90" y="53.46" width="4.40" height="73.94" fill="url(#gblue)" stroke="#3a3af2" stroke-width="0.9"/><rect x="428.30" y="55.27" width="4.40" height="72.13" fill="url(#gblue)" stroke="#3a3af2" stroke-width="0.9"/><rect x="432.70" y="67.89" width="4.40" height="59.51" fill="url(#gblue)" stroke="#3a3af2" stroke-width="0.9"/><rect x="437.10" y="85.56" width="4.40" height="41.84" fill="url(#gblue)" stroke="#3a3af2" stroke-width="0.9"/><rect x="441.50" y="104.68" width="4.40" height="22.72" fill="url(#gblue)" stroke="#3a3af2" stroke-width="0.9"/><rect x="445.90" y="112.25" width="4.40" height="15.15" fill="url(#gblue)" stroke="#3a3af2" stroke-width="0.9"/><rect x="450.30" y="118.74" width="4.40" height="8.66" fill="url(#gblue)" stroke="#3a3af2" stroke-width="0.9"/><rect x="454.70" y="120.55" width="4.40" height="6.85" fill="url(#gblue)" stroke="#3a3af2" stroke-width="0.9"/><rect x="459.10" y="122.35" width="4.40" height="5.05" fill="url(#gblue)" stroke="#3a3af2" stroke-width="0.9"/><rect x="463.50" y="123.79" width="4.40" height="3.61" fill="url(#gblue)" stroke="#3a3af2" stroke-width="0.9"/><rect x="467.90" y="124.51" width="4.40" height="2.89" fill="url(#gblue)" stroke="#3a3af2" stroke-width="0.9"/><rect x="472.30" y="125.24" width="4.40" height="2.16" fill="url(#gblue)" stroke="#3a3af2" stroke-width="0.9"/><rect x="476.70" y="126.32" width="4.40" height="1.08" fill="url(#gblue)" stroke="#3a3af2" stroke-width="0.9"/><rect x="481.10" y="126.68" width="4.40" height="0.72" fill="url(#gblue)" stroke="#3a3af2" stroke-width="0.9"/><rect x="485.50" y="127.04" width="4.40" height="0.36" fill="url(#gblue)" stroke="#3a3af2" stroke-width="0.9"/><rect x="489.90" y="127.04" width="4.40" height="0.36" fill="url(#gblue)" stroke="#3a3af2" stroke-width="0.9"/><g style="mix-blend-mode:multiply"><rect x="358.20" y="107.56" width="4.37" height="19.84" fill="url(#gtan)" stroke="#6e625a" stroke-width="0.6"/><rect x="362.57" y="109.37" width="4.37" height="18.03" fill="url(#gtan)" stroke="#6e625a" stroke-width="0.6"/><rect x="366.94" y="108.28" width="4.37" height="19.12" fill="url(#gtan)" stroke="#6e625a" stroke-width="0.6"/><rect x="371.31" y="105.04" width="4.37" height="22.36" fill="url(#gtan)" stroke="#6e625a" stroke-width="0.6"/><rect x="375.68" y="99.27" width="4.37" height="28.13" fill="url(#gtan)" stroke="#6e625a" stroke-width="0.6"/><rect x="380.05" y="89.53" width="4.37" height="37.87" fill="url(#gtan)" stroke="#6e625a" stroke-width="0.6"/><rect x="384.42" y="74.38" width="4.37" height="53.02" fill="url(#gtan)" stroke="#6e625a" stroke-width="0.6"/><rect x="388.79" y="53.10" width="4.37" height="74.30" fill="url(#gtan)" stroke="#6e625a" stroke-width="0.6"/><rect x="393.16" y="30.02" width="4.37" height="97.38" fill="url(#gtan)" stroke="#6e625a" stroke-width="0.6"/><rect x="397.53" y="25.69" width="4.37" height="101.71" fill="url(#gtan)" stroke="#6e625a" stroke-width="0.6"/><rect x="401.90" y="50.22" width="4.37" height="77.18" fill="url(#gtan)" stroke="#6e625a" stroke-width="0.6"/><rect x="406.27" y="87.01" width="4.37" height="40.39" fill="url(#gtan)" stroke="#6e625a" stroke-width="0.6"/><rect x="410.64" y="113.33" width="4.37" height="14.07" fill="url(#gtan)" stroke="#6e625a" stroke-width="0.6"/><rect x="415.01" y="124.15" width="4.37" height="3.25" fill="url(#gtan)" stroke="#6e625a" stroke-width="0.6"/></g><line x1="348" y1="19.2" x2="494.3" y2="19.2" stroke="#bdbdbd" stroke-width="1.6" /><line x1="348.5" y1="18.6" x2="348.5" y2="127.4" stroke="#555" stroke-width="1" /><line x1="348.5" y1="127.4" x2="494.3" y2="127.4" stroke="#555" stroke-width="1" /><line x1="494.3" y1="18.6" x2="494.3" y2="127.9" stroke="#e3893c" stroke-width="1" /><line x1="348.5" y1="127.4" x2="494.3" y2="127.4" stroke="#3a3af2" stroke-width="1" /><line x1="348.5" y1="127.4" x2="346.5" y2="127.4" stroke="#555" stroke-width="0.8" /><text x="345.2" y="130" font-size="9" text-anchor="end" font-weight="normal" fill="#000" font-family='"Liberation Sans", sans-serif' >0</text><line x1="348.5" y1="91.3" x2="346.5" y2="91.3" stroke="#555" stroke-width="0.8" /><text x="345.2" y="93.9" font-size="9" text-anchor="end" font-weight="normal" fill="#000" font-family='"Liberation Sans", sans-serif' >1</text><line x1="348.5" y1="55.3" x2="346.5" y2="55.3" stroke="#555" stroke-width="0.8" /><text x="345.2" y="57.9" font-size="9" text-anchor="end" font-weight="normal" fill="#000" font-family='"Liberation Sans", sans-serif' >2</text><line x1="348.5" y1="19.2" x2="346.5" y2="19.2" stroke="#555" stroke-width="0.8" /><text x="345.2" y="21.8" font-size="9" text-anchor="end" font-weight="normal" fill="#000" font-family='"Liberation Sans", sans-serif' >3</text><line x1="348.5" y1="109.4" x2="347.2" y2="109.4" stroke="#555" stroke-width="0.6" /><line x1="348.5" y1="73.3" x2="347.2" y2="73.3" stroke="#555" stroke-width="0.6" /><line x1="348.5" y1="37.2" x2="347.2" y2="37.2" stroke="#555" stroke-width="0.6" /><line x1="494.3" y1="127.4" x2="496.3" y2="127.4" stroke="#e3893c" stroke-width="0.8" /><text x="496.6" y="130" font-size="9" text-anchor="start" font-weight="normal" fill="#e3893c" font-family='"Liberation Sans", sans-serif' >0</text><line x1="494.3" y1="91.3" x2="496.3" y2="91.3" stroke="#e3893c" stroke-width="0.8" /><text x="496.6" y="93.9" font-size="9" text-anchor="start" font-weight="normal" fill="#e3893c" font-family='"Liberation Sans", sans-serif' >6</text><line x1="494.3" y1="55.3" x2="496.3" y2="55.3" stroke="#e3893c" stroke-width="0.8" /><text x="496.6" y="57.9" font-size="9" text-anchor="start" font-weight="normal" fill="#e3893c" font-family='"Liberation Sans", sans-serif' >12</text><line x1="494.3" y1="19.2" x2="496.3" y2="19.2" stroke="#e3893c" stroke-width="0.8" /><text x="496.6" y="21.8" font-size="9" text-anchor="start" font-weight="normal" fill="#e3893c" font-family='"Liberation Sans", sans-serif' >18</text><line x1="348.5" y1="127.4" x2="348.5" y2="129.4" stroke="#555" stroke-width="0.8" /><text x="348.5" y="136.6" font-size="9" text-anchor="middle" font-weight="normal" fill="#000" font-family='"Liberation Sans", sans-serif' >0</text><line x1="397.1" y1="127.4" x2="397.1" y2="129.4" stroke="#555" stroke-width="0.8" /><text x="397.1" y="136.6" font-size="9" text-anchor="middle" font-weight="normal" fill="#000" font-family='"Liberation Sans", sans-serif' >500</text><line x1="445.7" y1="127.4" x2="445.7" y2="129.4" stroke="#555" stroke-width="0.8" /><text x="445.7" y="136.6" font-size="9" text-anchor="middle" font-weight="normal" fill="#000" font-family='"Liberation Sans", sans-serif' >1000</text><line x1="494.3" y1="127.4" x2="494.3" y2="129.4" stroke="#555" stroke-width="0.8" /><text x="494.3" y="136.6" font-size="9" text-anchor="middle" font-weight="normal" fill="#000" font-family='"Liberation Sans", sans-serif' >1500</text><line x1="372.8" y1="127.4" x2="372.8" y2="128.7" stroke="#555" stroke-width="0.6" /><line x1="421.4" y1="127.4" x2="421.4" y2="128.7" stroke="#555" stroke-width="0.6" /><line x1="470" y1="127.4" x2="470" y2="128.7" stroke="#555" stroke-width="0.6" /><text x="421" y="146.6" font-size="9.4" text-anchor="middle" font-weight="normal" fill="#000" font-family='"Liberation Sans", sans-serif' >Height (nm)</text><text x="0" y="0" font-size="8.9" text-anchor="middle" font-weight="normal" fill="#000" font-family='"Liberation Sans", sans-serif' transform="translate(337.4,73.4) rotate(-90)"># Bacteria</text><text x="0" y="0" font-size="9.4" text-anchor="middle" font-weight="normal" fill="#e3893c" font-family='"Liberation Sans", sans-serif' transform="translate(514.6,72.4) rotate(-90)"># px</text><text x="348.6" y="16.8" font-size="8.4" font-family='"Liberation Sans", sans-serif'>×10<tspan font-size="6" dy="-4.2">3</tspan></text><text x="481.3" y="16.6" font-size="8.4" fill="#e3893c" font-family='"Liberation Sans", sans-serif'>×10<tspan font-size="6" dy="-4.2">4</tspan></text><rect x="429.4" y="20.5" width="20.3" height="10.4" fill="url(#gblue)" stroke="#6a6aff" stroke-width="1"/><rect x="429.4" y="31.1" width="20.3" height="9.9" fill="url(#gtan)" stroke="#9a8e86" stroke-width="0.6"/><text x="453" y="28.8" font-size="9" text-anchor="start" font-weight="normal" fill="#000" font-family='"Liberation Sans", sans-serif' >Minor axis</text><text x="453" y="38.6" font-size="9" text-anchor="start" font-weight="normal" fill="#000" font-family='"Liberation Sans", sans-serif' >Height</text><defs><clipPath id="cpc"><rect x="548.0" y="15.9" width="128.8" height="125.7"/></clipPath><filter id="noiseC" x="0" y="0" width="100%" height="100%" color-interpolation-filters="sRGB"><feTurbulence type="fractalNoise" baseFrequency="0.55" numOctaves="2" seed="5"/><feColorMatrix values="0 0 0 0 0.62  0 0 0 0 0.38  0 0 0 0 0.24  0 0 0 3 -1.4"/><feComposite in2="SourceGraphic" operator="in"/></filter><filter id="blurC"><feGaussianBlur stdDeviation="1.2"/></filter></defs><g clip-path="url(#cpc)"><rect x="548" y="15.9" width="128.8" height="125.7" fill="#e4925e" stroke="none" stroke-width="1" /><rect x="548" y="15.9" width="128.8" height="125.7" fill="#000" stroke="none" stroke-width="1" filter="url(#noiseC)" opacity="0.55"/><path d="M568.6,56.9l-0.6,3.1M552.7,65.6l0.9,3.7M564.3,51.2l2.7,2.7M550.9,91.4l-1.8,1.1M560.4,76.3l2.5,0.1M552.3,68.8l-0.7,3.3M569.7,83.4l0.8,2.5M555.5,84.3l2.3,4.4M562.5,59.7l-1.9,3.5M561.0,61.6l-1.4,3.2M561.5,72.8l4.4,1.8M547.1,63.7l2.6,1.6M563.9,72.7l-2.2,2.7M568.5,64.2l-0.5,3.5M547.2,60.8l2.7,0.7M547.4,61.9l1.5,3.6M569.0,67.0l-1.4,3.3M553.2,57.8l0.7,4.3M563.5,78.5l-2.6,2.9M553.9,68.7l-0.1,2.0M553.2,66.3l3.7,0.1M559.5,53.9l3.3,3.3M560.0,61.7l-3.1,1.4M563.2,86.9l-0.3,2.4M564.6,87.5l1.0,3.9M570.3,57.2l-2.7,2.2M562.3,88.3l-2.0,1.3M559.0,78.3l-2.1,1.4M563.1,72.3l3.5,0.9M557.7,68.6l2.1,2.3M568.1,64.8l-3.7,1.8M565.2,67.6l1.7,1.0M557.4,69.5l0.8,2.2M548.3,84.9l1.5,4.3M570.2,74.0l-4.4,2.0M564.0,50.5l-1.5,3.1M567.9,65.1l-1.8,2.5M560.8,69.2l2.3,1.8M551.3,76.3l-3.6,1.3M551.0,72.4l2.2,2.3M548.2,88.5l-0.3,3.7M552.4,56.5l-4.2,1.6M566.1,79.4l-3.9,0.9M561.4,57.1l2.0,1.8M546.7,68.2l4.7,0.7M561.5,63.8l2.8,3.1M568.0,91.4l3.2,0.9M572.6,74.6l-2.6,1.8M568.0,89.5l2.0,2.2M556.2,90.1l3.7,0.8M560.6,82.4l2.4,0.6M567.2,88.1l-0.4,3.5M565.9,59.4l-1.8,1.1M561.7,85.1l2.8,1.2M553.2,82.2l2.7,1.7M561.5,52.4l1.0,2.3M554.1,57.8l0.7,2.0M555.0,58.9l-2.2,3.4M558.0,54.5l-0.3,3.5M559.7,66.4l1.4,1.5M550.3,56.5l1.6,2.3M559.9,86.2l-3.1,0.8M562.1,88.6l-1.1,1.8M557.4,80.6l1.6,4.6M554.3,81.3l-2.0,3.5M555.4,62.4l0.9,4.0M557.4,88.7l-1.0,3.2M563.9,56.2l-1.5,2.0M568.8,52.3l-2.2,3.7M553.9,55.8l-2.1,2.0M550.2,101.6l3.7,2.1M549.7,105.4l1.6,3.6M553.4,118.4l2.2,2.8M548.2,99.5l-0.2,2.8M557.1,112.8l-2.5,0.6M554.0,102.5l-2.0,3.2M555.1,100.3l-2.7,1.1M553.6,121.4l-1.9,1.5M553.6,100.6l1.6,2.4M551.8,119.1l-0.9,2.6M548.9,120.5l2.3,0.3M556.4,112.9l-1.9,2.8M548.0,102.4l1.3,2.7M549.8,114.7l3.4,0.0M552.7,115.4l2.2,0.5M548.2,102.4l1.7,2.2M550.6,98.1l-0.7,2.7M552.4,103.0l-2.5,2.2M551.9,110.7l2.3,2.5M553.7,103.7l1.5,2.7M551.3,114.6l-2.3,3.5M550.5,110.8l-0.4,2.1M546.9,114.4l3.2,1.5M550.5,115.1l3.2,1.3M553.6,94.5l-2.3,0.2M554.3,91.1l2.9,1.9M554.8,121.3l0.7,2.1M554.7,120.8l-2.7,0.2M549.9,107.2l-3.4,0.8M551.3,123.1l1.7,1.5M550.6,119.7l2.4,2.3M556.7,95.4l-2.3,0.4M550.0,103.2l-3.0,1.6M547.2,110.0l2.2,1.1M555.1,110.0l-1.5,1.5M551.3,123.2l-3.1,0.6M556.6,112.4l-3.2,0.7M551.4,108.0l3.3,0.7M550.8,105.2l2.4,2.2M553.2,105.2l3.5,0.6" stroke="#5c3820" stroke-width="1.3" stroke-linecap="round" opacity="0.85"/><path d="M551.3,27.4 555.4,23.4 562.0,19.3 570.0,18.7 579.4,17.3 590.1,17.3 594.1,20.0 595.4,27.4 595.4,38.0 592.1,44.1 586.1,47.4 578.1,50.1 568.7,52.1 560.7,50.1 554.0,46.1 550.7,39.4 550.0,32.7ZM601.5,18.5 614.7,18.5 627.9,19.3 639.5,21.0 642.4,25.7 641.0,33.0 636.6,39.5 632.2,46.1 628.0,52.6 623.5,53.0 618.0,49.5 612.0,45.0 606.5,39.5 602.5,33.0 600.8,25.0ZM649.0,14.0 680.0,14.0 680.0,34.0 671.0,38.5 662.0,36.0 655.0,31.0 650.0,24.0ZM639.5,47.5 643.9,42.4 652.6,40.2 661.4,41.7 665.8,47.5 666.5,56.3 662.8,62.1 654.1,62.1 645.4,59.2 640.3,54.8ZM571.5,56.5 581.0,55.0 590.0,53.0 596.0,50.0 600.5,47.0 604.0,48.5 609.0,53.5 612.5,59.0 612.0,66.0 609.8,72.0 606.0,77.5 598.0,80.0 588.0,80.8 578.0,80.4 573.0,76.0 571.5,66.0ZM556.2,90.0 562.0,87.1 572.2,84.9 583.9,85.7 594.1,87.8 602.8,89.3 605.8,95.9 605.0,107.5 602.1,117.7 597.0,125.0 589.7,130.8 581.0,133.0 572.2,130.8 563.5,125.0 557.7,116.3 554.7,104.6 554.7,95.9ZM545.0,124.3 556.2,128.0 565.0,135.2 567.9,145.0 545.0,145.0ZM573.7,145.0 579.5,137.5 586.8,137.0 592.6,139.0 594.1,145.0ZM598.5,132.3 604.3,127.9 613.0,123.6 616.0,145.0 598.5,145.0ZM612.0,62.0 622.0,58.0 636.0,61.0 648.0,66.0 660.0,70.0 668.0,75.0 640.0,80.0 615.0,80.0 611.0,70.0ZM671.0,57.0 680.0,55.0 680.0,80.0 672.0,79.0 669.0,68.0Z" fill="#5e3921" stroke="#5e3921" stroke-width="2.6" stroke-linejoin="round"/><rect x="615.5" y="78.6" width="59.1" height="59.1" fill="#45260f" stroke="none" stroke-width="1" /><g filter="url(#blurC)" fill="#e8945c"><ellipse cx="667" cy="90" rx="9" ry="7.5" transform="rotate(-40 667 90)"/><ellipse cx="647" cy="108" rx="13" ry="5.5" transform="rotate(-25 647 108)"/><ellipse cx="619" cy="99" rx="5" ry="10"/><ellipse cx="618" cy="129" rx="5" ry="9"/><ellipse cx="621" cy="115" rx="3.5" ry="5"/></g><g stroke="#6a3c22" stroke-width="0.5" fill="none" opacity="0.8"><path d="M628,120 Q640,115 650,125 T670,130"/><path d="M635,135 Q645,128 660,122"/><path d="M625,88 Q640,95 655,85"/></g></g><g fill="none" stroke="#fff" stroke-width="1.3" stroke-dasharray="1.3 1.3"><rect x="620.7" y="60.5" width="14.3" height="12.8"/><rect x="615.5" y="78.6" width="59.1" height="59.1"/><line x1="620.7" y1="60.5" x2="615.5" y2="78.6"/><line x1="635" y1="60.5" x2="674.6" y2="78.6"/></g><text transform="translate(641.5,99.8) rotate(-25)" font-size="8.6" fill="#fff" text-anchor="middle" font-family='"Liberation Sans", sans-serif'>Minor axis</text><path d="M644.8,104.6 L648.2,113.6" stroke="#fff" stroke-width="0.9"/><path d="M643.4,106.6 L644.6,104 L646.6,106" fill="none" stroke="#fff" stroke-width="0.9"/><path d="M646.4,112.6 L648.4,114.2 L649.6,111.4" fill="none" stroke="#fff" stroke-width="0.9"/><rect x="549" y="17.2" width="49.2" height="37.4" fill="none" stroke="#3eb4ee" stroke-width="1.6" stroke-dasharray="6 3.5"/><rect x="558" y="126.2" width="34.5" height="2.5" fill="#fff" stroke="none" stroke-width="1" /><text x="575.3" y="121.2" font-size="10.3" text-anchor="middle" font-weight="bold" fill="#fff" font-family='"Liberation Sans", sans-serif' >10 µm</text><defs><clipPath id="cpd"><rect x="49.0" y="191.2" width="258.4" height="130.8"/></clipPath></defs><rect x="49" y="191.2" width="258.4" height="130.8" fill="#fff" stroke="none" stroke-width="1" /><g clip-path="url(#cpd)" fill="none" stroke-linecap="round" stroke-width="1.5"><path stroke="#ee2020" d="M87.4,191.2h.1m.1-.5h.1m.5,.3h.1m.3-.8h.1m.1,1.7h.1m.1-1.6h.1m.1-.4h.1m0,.6h.1m1.2,.1h.1m.6,.9h.1m1.6-1.1h.1m.1,.3h.1m-.1-.8h.1m.1,1.8h.1m.2-.6h.1m.2-.3h.1m.1,.4h.1m.2,.2h.1m.3-.9h.1m.1,.6h.1m0,.4h.1m1.1-.8h.1m.5,.2h.1m.1-.8h.1m0,.4h.1m.3,.9h.1m.5-.5h.1m1.4,1h.1m1,0h.1m19.9,0h.1m1.7-.6h.1m.2-1.3h.1m1,1.4h.1m.8,.5h.1m0-2h.1m.3,0h.1m0,1h.1m0,.6h.1m.5-.5h.1m5.8-.4h.1m.7-.7h.1m16,1h.1m4.2-.7h.1m.1,.9h.1m1,.8h.1m.3-.6h.1m.5-.1h.1m.4,.1h.1m.5-.3h.1m32.1,.4h.1m8.8,0h.1m17.2-.9h.1m.6-.5h.1m1,.1h.1m2.4,.4h.1m2.2,.1h.1m.8-.1h.1m4,.2h.1m1,.2h.1m-.1-.4h.1m.2,0h.1m2.8-.6h.1m2.1,1h.1m.1-.2h.1m0-.4h.1m.6-.4h.1m.4,1.4h.1m0-.7h.1m.7,.6h.1m-.1-.7h.1m0,.5h.1m-.1,.2h.1m1.2-.7h.1m.3,.6h.1m.5-.5h.1m.9-.6h.1m.3,0h.1m1,.5h.1m4.1-.6h.1m.9,.5h.1m2.8,.1h.1m1,.4h.1m1.8-.9h.1m10.4,.1h.1m33.4,1.8h.1m0-.6h.1m1.4-.3h.1m.4-.9h.1m.6,.7h.1m1.1,.8h.1m2.4,0h.1m.4-.6h.1m.1-.5h.1m.2,.8h.1m.2-.8h.1m2,.4h.1m.3-.3h.1m.1,1.3h.1m.5-1h.1m.8,.6h.1m-259.9,2h.1m7.7,0h.1m9.2-1h.1m.5-.4h.1m21.9,.3h.1m.4,.5h.1m1.1-.9h.1m3.4,.3h.1m1.4,.1h.1m1-.4h.1m.9,.9h.1m.8-.7h.1m.8,.4h.1m.6-.5h.1m.1,.4h.1m.5-.3h.1m1.3,1.9h.1m1.1-1.1h.1m4.9,1.9h.1m1.5,0h.1m.8-.5h.1m5.1,.4h.1m2.3,.1h.1m3-1.4h.1m.2-.1h.1m-.1-.4h.1m1.1-.5h.1m0,.8h.1m.9-.8h.1m.3-.5h.1m2.6,1h.1m-.1-.7h.1m.3,.1h.1m.3,.8h.1m.1,.6h.1m.8,.9h.1m.6-.8h.1m-.1,.2h.1m16.3,0h.1m1.8,.4h.1m1.9-1h.1m9.6,1h.1m.4-1.4h.1m.4,1.6h.1m17.5,.2h.1m.1-.7h.1m1.5,.2h.1m0-2.2h.1m.3,1.3h.1m1.7-.2h.1m.2,1.1h.1m.6-.1h.1m.8,.2h.1m18.2-1.5h.1m6,1.9h.1m1.2-1.4h.1m12.5-1.1h.1m0,.5h.1m.3-.7h.1m59.2,1.2h.1m2.3,.8h.1m.9,.6h.1m2.3-.7h.1m.4,.3h.1m.2,.1h.1m.6-.1h.1m0,.4h.1m.3-.1h.1m0-.3h.1m.2,.5h.1m.1-.9h.1m.4,.1h.1m.1,.3h.1m.9-.9h.1m.1,.9h.1m1.2-1h.1m.7,.5h.1m.8-1.2h.1m.1,1.1h.1m.2-1.5h.1m-.1,1.2h.1m-.1-1.1h.1m.2,1.5h.1m.4,.1h.1m0-.1h.1m.4,.4h.1m1.4-1.5h.1m.2,.2h.1m1.5,.7h.1m1.1-1.6h.1m.4-.1h.1m1,.4h.1m.7,1.5h.1m-.1-1.6h.1m.1,1.4h.1m.3-.1h.1m.4-1.6h.1m-.1,.6h.1m.8,1.3h.1m.4-1.4h.1m1,1.2h.1m.9-.6h.1m-250.1,2.5h.1m.9-.3h.1m3.3,.9h.1m2.3-.3h.1m38.8-.6h.1m.7,.1h.1m.3,.4h.1m.6,.8h.1m.2-.1h.1m1.1,0h.1m.7-1.2h.1m-.1,1.2h.1m.6-.1h.1m1.2-1.4h.1m-.1,.1h.1m0,.8h.1m.5-.9h.1m.2,1.3h.1m0,.1h.1m-.1,.4h.1m1.1,0h.1m.7-1.7h.1m.1,1.4h.1m.1-.6h.1m.5-.9h.1m.7,1h.1m.2-.1h.1m0,.8h.1m.3-1h.1m.1,1.5h.1m1.1-1.7h.1m.6-.5h.1m12.6,2.9h.1m.4,0h.1m15-.1h.1m.1-1.4h.1m.2-1.4h.1m10.8,.9h.1m1.8-.2h.1m.6,.7h.1m1.7,1.5h.1m10.9-2.7h.1m1.3-.2h.1m.5,.9h.1m.2-.5h.1m.9,1.1h.1m1.2-1.3h.1m3.2,1.5h.1m2-1.7h.1m.4,.7h.1m.1,.2h.1m.4-.5h.1m.4,.5h.1m.4,.3h.1m16.4-.3h.1m19.5,1.2h.1m1-.2h.1m.1,.3h.1m2.4-2.2h.1m12.4,2.4h.1m.8-.8h.1m.4,.8h.1m1-.1h.1m.5,.2h.1m1.3,.1h.1m.4,0h.1m-.1-.5h.1m4.1,.8h.1m.8-.3h.1m1.9-.2h.1m.1-.5h.1m.2,.1h.1m1.3-.4h.1m0,.9h.1m.9-1.1h.1m5.9,.8h.1m12.3-1.1h.1m12.1-.2h.1m.5,1.5h.1m1.1-2.4h.1m.5,.7h.1m.4-.4h.1m.9,1.2h.1m.4-1.2h.1m0,1.1h.1m1.2-1h.1m.9-.4h.1m17.4,0h.1m-254.7,5.9h.1m.6-.2h.1m2.3,0h.1m0,.2h.1m-.1-.9h.1m0,.4h.1m.7-.2h.1m0-.4h.1m.4,.3h.1m.3,.3h.1m.3-.3h.1m.2-.1h.1m.4,.4h.1m.4-.4h.1m1.2,.9h.1m0-.6h.1m.4,.4h.1m20.8-.8h.1m.1,.8h.1m2.3-1.9h.1m18.7-.3h.1m0,1.3h.1m15,.2h.1m11-.4h.1m8.1,.6h.1m.5-.3h.1m1.2,.7h.1m.1-.1h.1m0-1h.1m.7,.7h.1m.2-.6h.1m1.2-.2h.1m.3,.9h.1m0-.3h.1m.2,.9h.1m0-1.4h.1m.2,1h.1m.3-.1h.1m10.8,.3h.1m7.6-1.9h.1m1.6,0h.1m3.6,1.7h.1m2.3,.2h.1m1.4-.9h.1m25,.7h.1m2.1-.3h.1m1.1-1.7h.1m.5,1h.1m.2,1h.1m.1-2.2h.1m.1,.6h.1m0,1.2h.1m.3-1.7h.1m.4,1.4h.1m1.4,.9h.1m13.6-2.2h.1m19.9-.1h.1m.6,1.6h.1m.1-1h.1m.2-.6h.1m.1,1.3h.1m.5-.4h.1m1.2-.5h.1m.1,.1h.1m-.1-.7h.1m0,1.3h.1m.4-1h.1m-.1,.9h.1m.4-1h.1m1.8,.5h.1m.2-.9h.1m2.1,.4h.1m.2-.1h.1m2.7-.2h.1m.6,.2h.1m1.2,.8h.1m12.9,1.4h.1m.7,.4h.1m.5,0h.1m13.3-2.5h.1m1.4-.4h.1m0,1.7h.1m.4-1.7h.1m0,.1h.1m1.6-.1h.1m-236.4,4.5h.1m.4-.3h.1m.3,.3h.1m.5,.2h.1m.4,1h.1m-.1-1.4h.1m.5-.7h.1m-.1,1.8h.1m0,0h.1m0-2.2h.1m1.2,1.8h.1m.2-1.4h.1m1-.2h.1m.8,.5h.1m1-.5h.1m.1,1h.1m.4-.2h.1m-.1-1h.1m1.2,.7h.1m.4-.9h.1m-.1,.1h.1m0,.4h.1m0,.8h.1m1.2-1.1h.1m-.1,.4h.1m.9,0h.1m-.1,.9h.1m.5-.6h.1m.5,.3h.1m.2-.7h.1m.3,.4h.1m2,.6h.1m3.6,1h.1m.8,.3h.1m2.2-.6h.1m2.8,.4h.1m1.1-.7h.1m.2,.7h.1m.5,.3h.1m.7-1.7h.1m-.1,.8h.1m.1,.3h.1m.3-1.4h.1m.8,.6h.1m.8-.5h.1m.9,.2h.1m2-.5h.1m35.5,.3h.1m.2-.2h.1m11.9,1.6h.1m.5-.4h.1m0-.5h.1m2-.5h.1m.6,.4h.1m.1,.8h.1m.1-.7h.1m.2-1h.1m.4,.9h.1m1-.4h.1m.7-.2h.1m-.1-.8h.1m1.3,1h.1m.2-.3h.1m1.1,.2h.1m.3-.9h.1m1.2,.2h.1m2.8,.5h.1m-.1-.7h.1m2.6,2.4h.1m.8,0h.1m.2,.1h.1m3-.5h.1m.2,.9h.1m.2-.9h.1m10.8,.5h.1m1.7,.1h.1m0,.3h.1m0-2h.1m.1-.6h.1m.1,1.6h.1m.4,.5h.1m.4-2.4h.1m4,2.9h.1m.3-1.9h.1m17,.6h.1m.7-1.5h.1m.4,2.3h.1m.2-1.2h.1m-.1-.8h.1m1,0h.1m.5,2.1h.1m.4-1.7h.1m-.1,.2h.1m.3,0h.1m1,.9h.1m.8,0h.1m.5-1h.1m.1-.6h.1m.2,1.4h.1m.4-1.2h.1m1.4,1.5h.1m-.1-2h.1m.9,2.3h.1m2.3-1.4h.1m-.1,1.2h.1m.1-1.2h.1m1.2-.9h.1m.1,1.3h.1m.4-.5h.1m1.3,.2h.1m0-.9h.1m9.6,1.9h.1m.7,.2h.1m3.8-2.2h.1m10.5,1.8h.1m25.5-1.8h.1m1.3,1.6h.1m.3-1.6h.1m.1,2h.1m.8-1.1h.1m.1,1h.1m0-.4h.1m0-.3h.1m.1,.9h.1m1.3-1.9h.1m.1,.2h.1m1.7,.3h.1m.9,.2h.1m.4-.2h.1m.4,1h.1m.3-.4h.1m.1-1h.1m.3,.3h.1m.4,.4h.1m.9,1h.1m.2-1.9h.1m1,1.9h.1m.5-1.7h.1m.1-.2h.1m.4,.9h.1m.4-.9h.1m1.8,.9h.1m.4,0h.1m.2,.4h.1m-.1-1.1h.1m.1,.3h.1m.8,.4h.1m.5,.4h.1m.9-.9h.1m.2,2.1h.1m.4-1.8h.1m.3,.6h.1m1.1-1.1h.1m.1,.2h.1m-.1,.6h.1m.6-1h.1m.6,1.7h.1m.2-1.4h.1m0,1.2h.1m.4,.3h.1m-.1,.7h.1m1.2-.7h.1m0-1.9h.1m0,1h.1m.8-.2h.1m0,1.2h.1m.1-1.6h.1m.8,.6h.1m0,1.7h.1m.3-.3h.1m.3-.6h.1m-.1-.8h.1m-.1-.1h.1m.3,.9h.1m.2,.1h.1m.2,.8h.1m.2-.5h.1m.7,.7h.1m1-.3h.1m-.1,.3h.1m1.1-.3h.1m.2-.2h.1m1.7,.4h.1m.7-.2h.1m1.5,0h.1m.7-.2h.1m.9-.5h.1m.9,.3h.1m.9-1.1h.1m-.1,1.8h.1m.1-1.4h.1m0,.3h.1m0-.6h.1m-231.7,3.3h.1m.3-.5h.1m2-.5h.1m.1,1.5h.1m.6-1.6h.1m.4,.6h.1m-.1,1.2h.1m.4-1.9h.1m0,2.6h.1m1.2-.5h.1m.4-1.5h.1m0-.2h.1m.2,.8h.1m0-1.5h.1m13.4,1.7h.1m1.6,.2h.1m0,.9h.1m16,.1h.1m7.2-.5h.1m1.6,.3h.1m1.5-.3h.1m.4,.5h.1m.1-1h.1m3.2-.5h.1m.1,.6h.1m.4-1h.1m.3,1.9h.1m1.1-.4h.1m.2,.1h.1m.6,.1h.1m.6-.2h.1m0-.6h.1m1,.1h.1m.4,.2h.1m.3,.1h.1m2.6-1.9h.1m.1,.7h.1m.5,1.3h.1m0-1.7h.1m.3,.2h.1m1.4,0h.1m0-.6h.1m-.1,1.3h.1m-.1,.9h.1m.4-.5h.1m.4-1.7h.1m.4-.1h.1m.5,1.9h.1m13.4,.3h.1m.8-.8h.1m1.8-1.4h.1m4,.2h.1m1.9,1.3h.1m.5-.8h.1m4.3,1.1h.1m.2,.3h.1m.1-1.1h.1m.6-.3h.1m.1,.5h.1m.9,.1h.1m2.8-1.1h.1m5.2,1.5h.1m21.8-1.9h.1m18.7,1.5h.1m2.6,.3h.1m.8-1.7h.1m15.4,2.8h.1m1.6-.4h.1m.1-1.5h.1m.8,1.7h.1m.1-1.3h.1m1.1,1.1h.1m16.6,.2h.1m5.6-2.7h.1m31.3,1.5h.1m.9-1.4h.1m0,.1h.1m0,1.3h.1m.1,.2h.1m1.2-.8h.1m-.1-.9h.1m.3,1.2h.1m1.8-1.1h.1m1.9,.1h.1m.5,.6h.1m.3-.6h.1m.5,.3h.1m9.1,1.8h.1m1,.1h.1m-240.7,1.5h.1m.2,.5h.1m.9-1.4h.1m.3,1.4h.1m2.5-.5h.1m19.2,1.6h.1m.4-1.9h.1m.4,1h.1m.8,1.3h.1m10.2-1.1h.1m-.1,1.1h.1m.3-.4h.1m.1-.3h.1m.7-.8h.1m0,.1h.1m.3-.6h.1m0,1.6h.1m.8-2h.1m.5,1.4h.1m.7,.1h.1m0,.4h.1m.1-.7h.1m.7-.5h.1m.1-.7h.1m-.1,.6h.1m.7,.6h.1m.5-.3h.1m.7,.4h.1m.1-1.6h.1m0,1.8h.1m.1-1h.1m.1-.4h.1m.4,.3h.1m-.1,1.1h.1m.7-.6h.1m0-1.1h.1m.2,.6h.1m.4,.1h.1m0-.6h.1m.4,.7h.1m1-.3h.1m.1-.1h.1m.5-.2h.1m.2-.5h.1m4,.8h.1m.1-.4h.1m.2,.1h.1m.4,.1h.1m2.6-.6h.1m5.5,0h.1m1.5,.3h.1m.5,.6h.1m.5,.1h.1m.7-.8h.1m.4,1.5h.1m.6,.4h.1m.1-1.6h.1m0,1.6h.1m.1-.3h.1m.2,.8h.1m.6-1.6h.1m.4,1.9h.1m.5-.7h.1m.6-.3h.1m.1,.5h.1m0-.8h.1m.3-.5h.1m.1,1.1h.1m.4-.4h.1m.4,.4h.1m.4-.3h.1m.7-.8h.1m.9,.9h.1m.6-.9h.1m.8,.7h.1m.1,.8h.1m1.7-.7h.1m10.5,0h.1m1.9,.7h.1m.5-.2h.1m2.3-1.9h.1m48-.5h.1m2.1,.9h.1m.4-.9h.1m.5,2.4h.1m.3,.4h.1m1.1-1.3h.1m4.4,1.1h.1m9.5,.3h.1m.9-.9h.1m.6-.6h.1m2.8-.1h.1m.6-1.2h.1m0,1.4h.1m1,.8h.1m8.4,.2h.1m-.1,.4h.1m.1-.5h.1m2.7,.3h.1m.8-1h.1m.5,.5h.1m.3-.9h.1m.5,1.4h.1m.4-2.3h.1m.4,.5h.1m.5,1.1h.1m0-1.6h.1m8.3,1.7h.1m.2-.8h.1m30.4,.6h.1m13.3-1.3h.1m.1,1.5h.1m.9-2.1h.1m0,.6h.1m.6,1.3h.1m.1,.6h.1m.5-1.7h.1m.7-.4h.1m.4,1.5h.1m.4-1.4h.1m-242.9,4.5h.1m7.6,.9h.1m18.3-1.6h.1m1.7-1.3h.1m.3,.8h.1m0,.2h.1m2.3,.9h.1m-.1-1.3h.1m.5,.2h.1m.1,.6h.1m.6-.9h.1m.4,2.1h.1m.1-1.3h.1m.1,.6h.1m.4-1h.1m0-.3h.1m0,1.3h.1m.2,.1h.1m35.5-.1h.1m0-1.5h.1m.1,1.5h.1m9.6-1.6h.1m2.1-.3h.1m11.8,2.1h.1m15.4,.8h.1m.4-1.8h.1m1.2,1.2h.1m27.1-.3h.1m9.3,.1h.1m.7-1.4h.1m.9-.1h.1m.6-.4h.1m0,1.2h.1m.3,.5h.1m.8-.9h.1m-.1-.8h.1m1.8,1.8h.1m.2-.7h.1m.4-.4h.1m-.1-.5h.1m.4,1.1h.1m.4-1.1h.1m.8,1.4h.1m1.4-.6h.1m1,1.6h.1m13.9-2.7h.1m2.4,.3h.1m1.9,1.4h.1m.9-1.1h.1m1.9-.7h.1m.7,.9h.1m.5-.6h.1m.9-.3h.1m3.9,.1h.1m8.7,2.2h.1m39.1,.5h.1m2.4-2.7h.1m0,1.9h.1m1.8,.5h.1m.6-.5h.1m2.4-1h.1m.2,1.8h.1m-222.4,3.1h.1m.8-1.5h.1m.6-.5h.1m1.2-.4h.1m29.3,1.9h.1m.8-.6h.1m2-.1h.1m0,.7h.1m.2-.3h.1m0,.6h.1m1.8-.8h.1m9.5,.1h.1m21.1,.9h.1m4-.3h.1m16.6-.8h.1m.5,.8h.1m-.1-.4h.1m.7-1.1h.1m9,1.4h.1m2.9-.1h.1m0-.4h.1m.4-.3h.1m.6,1.2h.1m.1,0h.1m9.7-1.1h.1m1.5-1h.1m2-.3h.1m18.9-.5h.1m1.3,.1h.1m1.1,.6h.1m14.1-.2h.1m27.4,2.3h.1m24.6-2h.1m2.4,2.1h.1m4.9-.7h.1m.7-2.2h.1m7,1.2h.1m-255.4,3.5h.1m.7,1.2h.1m.5-.8h.1m.1,.3h.1m.1,.1h.1m.1-.6h.1m.4,.1h.1m1.1,0h.1m.1-.5h.1m.6-.6h.1m.1,.5h.1m0,.5h.1m0,.6h.1m0,0h.1m.4,.1h.1m.9-1.5h.1m1,.3h.1m2.6-1.4h.1m17.1,2.5h.1m5.2-2.5h.1m1.1,2.4h.1m1.1-1.4h.1m1.1-.1h.1m12.8,1.5h.1m1-.4h.1m.8,.5h.1m.5-.3h.1m.1-1.6h.1m.1,1h.1m1.4,1h.1m.2-.1h.1m.1,.4h.1m0-.9h.1m-.1-.8h.1m.1,0h.1m.8-.7h.1m.3,2.3h.1m.1-1.6h.1m.1,.9h.1m1.5-.1h.1m1.3-.1h.1m.8,.8h.1m.8,.2h.1m1.1-1.4h.1m.3-.1h.1m0-.5h.1m0,.8h.1m.3,.2h.1m0,.5h.1m1.5-1.4h.1m.6,.7h.1m.5,.9h.1m3.6-2.1h.1m.4,0h.1m.2,.9h.1m1.4-1.4h.1m1.8,.4h.1m-.1-.3h.1m.7,1.1h.1m.3,.6h.1m.3,.2h.1m.7-1.3h.1m.9,0h.1m-.1,1.3h.1m.2,.4h.1m-.1,.4h.1m.2-1.4h.1m.1,.5h.1m1-1h.1m.8,1.3h.1m1.4-1.2h.1m.4-.2h.1m.2-.5h.1m0,.8h.1m.1-.7h.1m0,.8h.1m.1-.2h.1m.5,.7h.1m.3-1.5h.1m.8,2.1h.1m.4,.6h.1m1.6-.9h.1m.2,.6h.1m2.2,.3h.1m3.8-.4h.1m.3-1.4h.1m1.1-.5h.1m.2,1h.1m3.2-.7h.1m.5-.4h.1m.1,0h.1m2.3,1.6h.1m.1-.2h.1m.2-.9h.1m.5,1h.1m3-.2h.1m0-.4h.1m-.1-.6h.1m.1,1.5h.1m1.4,0h.1m0-1.2h.1m.6,1.3h.1m.1,.1h.1m0-.9h.1m.4,.6h.1m.1,.4h.1m.6-.6h.1m.4,.2h.1m.3,.4h.1m.4-1h.1m.6,.8h.1m.6-1h.1m0,1h.1m.7-1.7h.1m0,.8h.1m.3,.7h.1m.2,.2h.1m.4-1.9h.1m.8-.3h.1m.2,.2h.1m.3,.1h.1m.9,.8h.1m.4,0h.1m.5,.7h.1m.3-.8h.1m.7,0h.1m.1-.7h.1m0,1h.1m.1,.1h.1m.9-.6h.1m-.1,.3h.1m.6-.8h.1m1,.2h.1m.4,.1h.1m2.3,2.1h.1m0-2.2h.1m1.4,.8h.1m0-1.1h.1m1.2,2h.1m3.9-1.5h.1m.8,.1h.1m1.3-.6h.1m.8,0h.1m0,1h.1m.3,0h.1m-.1-.8h.1m.2-.4h.1m-.1,1.4h.1m1.5-1.4h.1m.2,1.5h.1m0-.7h.1m0-.6h.1m.7,.1h.1m.2,.1h.1m1.3,.6h.1m.5,.1h.1m1.1,.1h.1m.6,.6h.1m2.6-.4h.1m26.4,1.3h.1m1.4-.5h.1m13.5,.1h.1m23.5-1.1h.1m.3-1.2h.1m.4,1.5h.1m0-1.7h.1m-.1,.8h.1m.3,.6h.1m0-1h.1m.3,1.1h.1m-.1-1.1h.1m0,.3h.1m.4-.2h.1m-.1,.6h.1m.7-.1h.1m.1,.7h.1m.1-1.2h.1m.9-.1h.1m.2,.3h.1m.3-.4h.1m.4,1.6h.1m0,.1h.1m.3,.1h.1m0-1.7h.1m.1,.5h.1m.2-.1h.1m.4,1.6h.1m.1-1h.1m.1,.2h.1m.3-1.2h.1m0,1.8h.1m.5-.9h.1m.6-.7h.1m.4,1.2h.1m0-1.7h.1m0,1.3h.1m1-.4h.1m0,1.3h.1m.2-1.4h.1m.3,1.6h.1m1.5,.4h.1m16.9-2.4h.1m-247,5.3h.1m6.6-1.8h.1m1.2,.4h.1m.6-.7h.1m.1-.7h.1m1.1,1.9h.1m17.2-.9h.1m2,.3h.1m.2-.9h.1m.5,1.6h.1m.2-.4h.1m0-1.1h.1m1.3,.5h.1m3.6-.2h.1m22.3-.3h.1m.3,.5h.1m.2-.6h.1m.2,.5h.1m.5-.5h.1m1.6,0h.1m0,.1h.1m2.4,.2h.1m1.2-.5h.1m1,.7h.1m.1-.6h.1m.1-.2h.1m.7,.4h.1m1.5,1.5h.1m.7-1.5h.1m12.5-.3h.1m5.7-.2h.1m.6,1h.1m.9-.1h.1m.5,.6h.1m1.5-.6h.1m.3,.3h.1m-.1,1.7h.1m.4-2.5h.1m1.6-.3h.1m10.2-.1h.1m2.3,2h.1m.6-2h.1m5.1,.2h.1m18-.1h.1m0,.8h.1m19,.8h.1m14-.6h.1m14.9,1.2h.1m.6,.1h.1m7.5-1.6h.1m2.9,.1h.1m2.3,.5h.1m.1,.5h.1m0-1.9h.1m.7,2.5h.1m.6,0h.1m8.7,0h.1m7.4,0h.1m.4-1h.1m11.8-1h.1m.2,.7h.1m.8-.3h.1m5.8,0h.1m.4,1.5h.1m1-.9h.1m12.4-.6h.1m1.4,1.2h.1m.1,.6h.1m.2-.8h.1m.4-.8h.1m-.1,1.4h.1m0-1.2h.1m.1,1.3h.1m.5-1.5h.1m-237.9,4.1h.1m1-.4h.1m0,.7h.1m1.5,.3h.1m2.4-.9h.1m.9,.5h.1m25.4,.3h.1m.5,.2h.1m24.1-.5h.1m13.7-.4h.1m34.3-1.6h.1m35.9,0h.1m.4,2.5h.1m2.3,0h.1m-.1-.5h.1m.9,.3h.1m.6,.2h.1m4.7-.4h.1m.6,0h.1m-.1-.5h.1m0-.3h.1m.3,1.2h.1m.9-.5h.1m-.1,.5h.1m1.4-1.3h.1m15.3-1.6h.1m.2,.4h.1m1.1-.4h.1m.5,1.1h.1m.9,.5h.1m.4-.7h.1m3.3-.4h.1m9.4-.3h.1m2.5,2.2h.1m1-1.3h.1m.1-.7h.1m2.3-.2h.1m0,.3h.1m.4,.5h.1m.1-.4h.1m-.1-.4h.1m.4-.2h.1m7.2,1.9h.1m25.3,1h.1m0-1.9h.1m.6,1.2h.1m.6-.3h.1m.6-.9h.1m.4,.6h.1m-.1-.2h.1m0-.5h.1m.4,1.5h.1m.6-.9h.1m.1-.4h.1m.7,.5h.1m-.1-.5h.1m3.1,.4h.1m.3-.6h.1m-.1,1.3h.1m-.1-.2h.1m.2-.9h.1m.2,.2h.1m.5,.1h.1m1-.2h.1m.4-.7h.1m.8,.4h.1m.8-.6h.1m.1,.8h.1m.2,.4h.1m.6,.1h.1m.6,.1h.1m.1-.4h.1m.2-.1h.1m-.1,.8h.1m0-.4h.1m.4-.9h.1m.4,.3h.1m.2,.1h.1m.2,.9h.1m.3-1.2h.1m-.1,.3h.1m0,1.4h.1m.3-.7h.1m.4,.8h.1m.9-.4h.1m.6,0h.1m.8-1.3h.1m.9,.3h.1m-250.2,4.3h.1m3.8,.4h.1m.5-.5h.1m.2-2.2h.1m.3,1.3h.1m.9-1.1h.1m.4,.5h.1m.8-.9h.1m.2,.4h.1m3.5,1h.1m.3,1.1h.1m1.1,0h.1m0-.2h.1m.4,.5h.1m.3-1.1h.1m14.9,0h.1m.3-.9h.1m.4-.7h.1m.3,1.9h.1m.1-1.6h.1m.4,.4h.1m0,1h.1m.2-1.7h.1m0,.7h.1m.9-.4h.1m.3,1.1h.1m0-1.4h.1m-.1,.2h.1m1.2,.6h.1m0,1.4h.1m.4-.4h.1m0-1.9h.1m.3,1h.1m-.1,.5h.1m0,.6h.1m.3,0h.1m0-1.1h.1m.7,0h.1m.4-.1h.1m.1,.9h.1m0,.3h.1m1.1-1.6h.1m.4,1.5h.1m.1-2h.1m.5,1.5h.1m.2-1.4h.1m14.1,.6h.1m2.3,.7h.1m1.4,.5h.1m-.1-1.7h.1m.2,.6h.1m.1,1.2h.1m3.2,.3h.1m-.1,.3h.1m.6-.1h.1m0-.6h.1m.3,.5h.1m35.1-2.2h.1m8.4,.2h.1m.9,.6h.1m10.7,1h.1m0,.3h.1m1-1.4h.1m.3,1.2h.1m.3-.1h.1m20.4-1.8h.1m.4,1.2h.1m.6,0h.1m1.3,0h.1m.2-1.3h.1m.7,.1h.1m.9,.1h.1m.1,.7h.1m.1-1h.1m.1,.7h.1m.2-.7h.1m.5,0h.1m.2,.6h.1m.9-.1h.1m1.3-.2h.1m0,.3h.1m.3,.3h.1m1.4,0h.1m.9-.3h.1m.1,.9h.1m.1,.5h.1m.2-.3h.1m-.1-1.4h.1m.7,1.4h.1m.4-1.4h.1m10,1.2h.1m25.3-1.3h.1m20.4,2.5h.1m14.8-2.3h.1m22.9,.4h.1m-252.2,4h.1m1.9-1.3h.1m1.5,1.3h.1m15.5,.6h.1m19.4-.4h.1m.4-1.8h.1m0,.8h.1m.3-1h.1m1.3,2h.1m1.1-.5h.1m16.4-.9h.1m11.8-.1h.1m.8-.5h.1m.3,1.1h.1m.4,.8h.1m15.1,.1h.1m9.1,.1h.1m.2-1.7h.1m3,0h.1m1.1-.4h.1m.1,2.3h.1m.4-.9h.1m.1,0h.1m1.4-.7h.1m-.1,2.2h.1m.3-1.9h.1m2.1,1h.1m1-.6h.1m2.6,1.2h.1m1.1,.2h.1m.1-1.8h.1m.5,1.2h.1m.3,.3h.1m.4-1.3h.1m1,1.7h.1m.6-1.1h.1m.7,.6h.1m.1-1h.1m1.2,.9h.1m0-.8h.1m0-.4h.1m0,1.3h.1m.4,.1h.1m0-1.1h.1m2.2,.4h.1m.8,.1h.1m1,.6h.1m.6-1.6h.1m1.5,1.8h.1m17.9-1.8h.1m.6,2h.1m.5-2.8h.1m12.8,1.4h.1m.6,.4h.1m1.3-.1h.1m0-1.2h.1m1.3,.5h.1m.2,.4h.1m.3-1.5h.1m3,.3h.1m16.8,.2h.1m3.2,1.1h.1m22.5,1.2h.1m3.4,.1h.1m.2-.8h.1m27.9-.8h.1m12.1-.8h.1m.5,2.1h.1m.6-.1h.1m-259.7,3h.1m1.5-1.1h.1m6-1h.1m6,1.8h.1m0-1.3h.1m9.5,.6h.1m1,1.1h.1m.1,.3h.1m0-1h.1m.8,1h.1m.4-1.6h.1m.3,.9h.1m.1,.2h.1m.6,.1h.1m.2-.1h.1m2.4,.5h.1m6.3-2.4h.1m26.6,.2h.1m0,1.1h.1m1.4,.1h.1m30.1,.1h.1m0,.5h.1m1.9,0h.1m18.9-.3h.1m1.4-2.1h.1m.2,.9h.1m5.6-1h.1m8,2.1h.1m1.3-.1h.1m0,.8h.1m38.7-2.2h.1m20.4,1.5h.1m1.5,.4h.1m.1-1.5h.1m.2,.7h.1m1-.8h.1m.3,1.2h.1m.5,.3h.1m.3-2.1h.1m12.9,2.5h.1m5.2-2.7h.1m1,.5h.1m.3-.1h.1m.5,.7h.1m13.2,.2h.1m10,0h.1m7.3,.3h.1m-245.5,1.7h.1m2.1,1.6h.1m0,.8h.1m.3-1.3h.1m.7,0h.1m.5,1h.1m-.1-.4h.1m.3-.1h.1m.3-.1h.1m.6,.5h.1m1.9,.5h.1m1.1-.4h.1m2.6-1.4h.1m.5-.1h.1m.4,1.5h.1m.2-1.1h.1m.4-.5h.1m1.2,1.3h.1m-.1-1.4h.1m.6,1h.1m.1-1h.1m.7,1.7h.1m.2-.9h.1m.6-1.1h.1m.1,2.4h.1m0-2h.1m-.1,.4h.1m.2,.9h.1m.2-.6h.1m.2-.1h.1m.3,1.1h.1m2.6-2.2h.1m1.9,.5h.1m1-.8h.1m.7,1.5h.1m-.1-1.2h.1m.1,.7h.1m1-1.1h.1m1.5,1.4h.1m.6-.5h.1m1.8,0h.1m9.5,1h.1m.1-.8h.1m.3-.6h.1m14.6,0h.1m1.4,2h.1m1-1.7h.1m19.8,1.1h.1m10.5,0h.1m.2,.9h.1m.1-.5h.1m.5,0h.1m1.7-.1h.1m.8-1.7h.1m1.7,2.4h.1m30.4,0h.1m.1-.1h.1m1.6-.7h.1m.4-1h.1m.6,.2h.1m.4,0h.1m0,.9h.1m.1-1.4h.1m1.2,.6h.1m.4-.3h.1m-.1-1.1h.1m.2,2.4h.1m.1-.6h.1m0-.8h.1m.2,.3h.1m.4,.2h.1m0,1h.1m.3-.3h.1m.3-1.4h.1m.4,.4h.1m.5,1.4h.1m1.9-1.2h.1m.3,.2h.1m.4,1h.1m.4,.3h.1m.1-1h.1m0-.3h.1m.8,.9h.1m.1,.3h.1m.9-.8h.1m13.8,0h.1m1.5-1h.1m.9,.4h.1m.6,1.4h.1m2.7-.8h.1m-.1,.9h.1m.7-.3h.1m5.8,.3h.1m0,0h.1m2.3-2.1h.1m-.1-.6h.1m1.7,1.2h.1m.8-.4h.1m0,1.7h.1m2.4-.1h.1m1.9,.3h.1m.5-.1h.1m8.6,.1h.1m.2-.9h.1m7.2-1.6h.1m.1-.4h.1m5.1,1.9h.1m3.7,0h.1m.7-.9h.1m2.6,0h.1m.5-.7h.1m.1,1.2h.1m.4-1h.1m10-.1h.1m7.9,.5h.1m20.1-.5h.1m10.8,2.2h.1m-258.8,.9h.1m1,1.9h.1m4.4-1.6h.1m0-.8h.1m0,0h.1m.1,1.3h.1m.5-.3h.1m.5-1h.1m-.1,1.4h.1m.3,.6h.1m-.1-1.1h.1m.5,1.5h.1m-.1-.6h.1m.4-1.4h.1m.7,.9h.1m.5-1.1h.1m.2,2.3h.1m.1-1.6h.1m0-.7h.1m2.4,.1h.1m.4,.6h.1m21.4-.2h.1m1.5,1.3h.1m2.5,.7h.1m2.1-1h.1m18.1-1.3h.1m2.1,.3h.1m.1,.8h.1m1-1.4h.1m.7,2.7h.1m.9-.6h.1m11.5-.5h.1m.5,.8h.1m-.1-.8h.1m.6,.2h.1m.5-1h.1m.4,1.7h.1m.5-.8h.1m.9,.6h.1m3-.4h.1m1.1,0h.1m1.3,0h.1m.4,.6h.1m0-.2h.1m.2,.4h.1m.5-2.1h.1m1.4-.2h.1m.4,.2h.1m.4,1.3h.1m0-1.5h.1m.1,.4h.1m2.3,0h.1m.2-.9h.1m.3,.4h.1m.1,.8h.1m4.2,.7h.1m16.3,.2h.1m.9,0h.1m.1,.3h.1m0-.8h.1m1.9,1.1h.1m.5,.2h.1m2.4-1.3h.1m-.1-.4h.1m.4,.1h.1m1,.1h.1m.2-.5h.1m1,.5h.1m.3,.8h.1m-.1,.4h.1m.1-.7h.1m2.2-1h.1m1.8-.5h.1m.1,1.5h.1m0,0h.1m.3,1h.1m9.2-2.7h.1m2.2,0h.1m1.2,.8h.1m0-.5h.1m.2-.5h.1m2.8,2.2h.1m.3-.2h.1m-.1-1.4h.1m-.1-.1h.1m2.6-.2h.1m.4,.5h.1m2.1-.5h.1m.8,.4h.1m.4-.1h.1m.4,0h.1m1,.2h.1m-.1-.4h.1m1.4,.6h.1m0,1.8h.1m.9-.9h.1m0-1.5h.1m.5,.9h.1m1.2,.8h.1m.4-1.7h.1m.1,.6h.1m.4-.3h.1m.1-.2h.1m0,.4h.1m0-.9h.1m.1,2.9h.1m.4-2.4h.1m.2-.1h.1m.2,1.1h.1m0,0h.1m0,1.1h.1m.2-1.3h.1m.1,1.2h.1m.7,.3h.1m-.1-1.9h.1m0,.9h.1m.1-.5h.1m.7,1.3h.1m-.1-1.1h.1m.1-1.1h.1m.2,1.5h.1m.1-.6h.1m.8,0h.1m.1,.2h.1m.9-1h.1m1.6,2.1h.1m1.4-.1h.1m3.8-2h.1m3,1h.1m2.1,.9h.1m1.1,0h.1m.1-2h.1m.1,1.6h.1m.5,.4h.1m0-.5h.1m.3,.7h.1m2.4-1.4h.1m0-.3h.1m15.3,.6h.1m0,.3h.1m.8-.3h.1m.4-1.1h.1m.7,.9h.1m17.1-1.3h.1m2.1,2.5h.1m.9-.1h.1m4.8,.2h.1m.7-2.2h.1m1.1,1.1h.1m-.1-.1h.1m.5,1.4h.1m.3-1.3h.1m0,1.4h.1m0-1.2h.1m1.2,.8h.1m1.8-1h.1m.4,1.3h.1m0-1.1h.1m.3-.1h.1m.1,.6h.1m2.8,.7h.1m14.2-.9h.1m.4-.3h.1m.2,.1h.1m.8-.4h.1m0,1h.1m.8-.1h.1m2.3,.5h.1m-257,.8h.1m1.2-.2h.1m4.1,2h.1m2-.1h.1m2.9-.2h.1m9.7-.4h.1m16-.6h.1m.1-1h.1m.1,.7h.1m1.8,.6h.1m1.4-.8h.1m.6,2.1h.1m3.8-.3h.1m8.5-2h.1m.9,1.5h.1m.5-1.3h.1m.1,.9h.1m11.1,.1h.1m2,0h.1m1.1,.2h.1m.1-1.1h.1m.6,1.3h.1m.1-1.6h.1m.1-.2h.1m.6,.8h.1m-.1,.1h.1m.2,.8h.1m.2,.3h.1m.3-1.3h.1m1.7-.9h.1m.7,.4h.1m0,.1h.1m.9,.5h.1m.3-.7h.1m5.5,.1h.1m.3-.4h.1m1,1.4h.1m0,1h.1m17-1h.1m.9,.9h.1m.7,.2h.1m.4-.4h.1m.9,.7h.1m.6-1.5h.1m.1,1.1h.1m-.1,.1h.1m.2-.5h.1m0-.6h.1m.3,0h.1m0-.4h.1m.3,0h.1m3.6,1.5h.1m1.9-2h.1m2.1-.1h.1m1,1.6h.1m.2-1.5h.1m.2,1.3h.1m.8,0h.1m11.6,1h.1m2.4-1.2h.1m26.2-.7h.1m0,.2h.1m.3,1.2h.1m1-1.4h.1m.6,.9h.1m.6-1.4h.1m1.6-.2h.1m.5,.2h.1m6.7,.9h.1m29.1,1.6h.1m2-1.7h.1m2,.3h.1m1.9,1.1h.1m18.9-.9h.1m.4,.2h.1m.7-1.5h.1m.9,.8h.1m1.3-1.2h.1m0,0h.1m.3,1h.1m.3-.3h.1m.1,0h.1m.2-.6h.1m.4,.9h.1m1-.2h.1m.4,.6h.1m.1-1.1h.1m.7,.2h.1m0,1.3h.1m2.3-1.8h.1m1,.3h.1m3.5,2h.1m6.6,.6h.1m2.7-1.9h.1m.7,.7h.1m2.7-1h.1m.2-.6h.1m.2,.6h.1m.1-.3h.1m.2,1.3h.1m3.3-.3h.1m-249.9,2.7h.1m7.5,1h.1m.3-.5h.1m.1,.1h.1m.2,1.1h.1m.5-.7h.1m.1-.1h.1m.3,.9h.1m.4-.5h.1m.6-.4h.1m.1,.7h.1m-.1-1.1h.1m.3,1.2h.1m.1-.9h.1m1.6-1h.1m21.8-.4h.1m0-.5h.1m1.5,.7h.1m1.2,.4h.1m.7-.8h.1m0,.5h.1m.5-.5h.1m0,.9h.1m-.1-.7h.1m.2,.4h.1m.7,.5h.1m.1-.7h.1m.2,.4h.1m-.1,1.5h.1m.7,.2h.1m.6-1.7h.1m-.1,.7h.1m18.9-1.2h.1m15.5,0h.1m16.1-.3h.1m2.7,.1h.1m1.5,0h.1m1.8-.4h.1m4.2,.1h.1m2.5,.9h.1m1.5-.2h.1m.1,1.9h.1m14-1.2h.1m14.5-.2h.1m0-.9h.1m-.1,1.5h.1m.4-1.2h.1m.2-.3h.1m1.5,1.6h.1m16.5-1.5h.1m.9,2.4h.1m.4-1h.1m4.8-.4h.1m.4-.8h.1m10.6,1.8h.1m17.3-1.1h.1m6.9,1h.1m4.4,.5h.1m4.6-.3h.1m.1-.3h.1m0,0h.1m0-.7h.1m.7,.8h.1m0-1h.1m.4,.2h.1m.4,.9h.1m1.1-1.4h.1m.2,1.5h.1m0-.7h.1m.3,.8h.1m0-1.6h.1m.2-.3h.1m.3,1.5h.1m-.1-1.1h.1m.1-.9h.1m.5,2.3h.1m.3-2.1h.1m2.4,.5h.1m16.6,.5h.1m1.7-.3h.1m.4,.5h.1m.4-.6h.1m.1,.9h.1m0-1.2h.1m0,.7h.1m-.1-.1h.1m1.1-.8h.1m0,.5h.1m.1-.7h.1m.1-.3h.1m1.7-.1h.1m-239.8,4.5h.1m2.8-.2h.1m-.1,.9h.1m2-1.2h.1m.1,.1h.1m.2-.3h.1m.6,1.1h.1m0-1.9h.1m.2,1.4h.1m.6-.7h.1m2.3,.1h.1m2.3,.2h.1m2.6,.8h.1m1.5,.9h.1m17.8-.1h.1m.6-1.5h.1m.2-1.1h.1m7.6,.1h.1m.6,.7h.1m65.9-.5h.1m3.1,2.6h.1m.7,0h.1m4-.9h.1m.2,.7h.1m.6-1.1h.1m-.1-.9h.1m2.2,.4h.1m.5-.4h.1m18.5-.1h.1m-.1,1.4h.1m1.4-.3h.1m12.7,1.2h.1m.1-1h.1m.1,1h.1m1.1,0h.1m1.4-1.4h.1m.3,0h.1m0-.1h.1m.1,.3h.1m1-.2h.1m.7-.1h.1m.9,.9h.1m.1,.4h.1m1.9-2.2h.1m10.1,.1h.1m2.5-.2h.1m.9,1.1h.1m.8,.7h.1m1.6-1.3h.1m5,1.7h.1m.3,.1h.1m15.1-1.7h.1m2.3,.9h.1m.4-1.5h.1m.3,2.1h.1m-.1-.6h.1m.5-1h.1m0,.8h.1m-.1,.3h.1m1.5-.2h.1m-.1-.8h.1m.4-.2h.1m0,.2h.1m0,.2h.1m.7-.3h.1m1-.4h.1m1.3-.1h.1m.5,.2h.1m2.9,0h.1m1.3,1.7h.1m1.3,.2h.1m-.1-2h.1m.5,1.6h.1m.3-.6h.1m.2,1.4h.1m.8-.4h.1m1.8,.1h.1m10.5-.2h.1m-.1-.1h.1m-.1-.8h.1m.3,1.4h.1m.4-2.5h.1m2.2,0h.1m10.2,2.2h.1m-255.1,1.8h.1m1.3-.5h.1m10,1.5h.1m13.9-2.4h.1m2.3,1h.1m-.1,.4h.1m.4,0h.1m.3,.1h.1m.3,.5h.1m-.1-.8h.1m.2-.6h.1m1.1-.2h.1m1.2,1.1h.1m11.7-1h.1m6.8,1.9h.1m6.7,.1h.1m.4-.2h.1m.7,.2h.1m1.7-.5h.1m.2,.4h.1m.6,.1h.1m.7,.4h.1m.4-.8h.1m.2,0h.1m1.6,.8h.1m.4-.5h.1m1.4-.3h.1m2.7-1.2h.1m42.4,1.6h.1m.7-.1h.1m9.4-1.9h.1m4.5-.5h.1m.3,0h.1m6.9,1.1h.1m0-.2h.1m3.3,1.5h.1m.1-1h.1m1.2,.5h.1m.4-.9h.1m.8-.3h.1m23.4,.9h.1m1-.6h.1m.4-.9h.1m.2,.3h.1m.6,.8h.1m.4-.4h.1m.2,.6h.1m.1-.2h.1m.9-.2h.1m.1-.7h.1m.7,.1h.1m0-.4h.1m.5,.3h.1m.1,.1h.1m.1-.1h.1m.3,2.2h.1m1.9-.2h.1m.8-1.4h.1m.3,1.6h.1m19,0h.1m0-.7h.1m.1-.2h.1m1.4-.5h.1m.2-.7h.1m-.1,.3h.1m2.8,1.5h.1m1.5-.1h.1m1.1,.3h.1m22.6,.5h.1m2.2-1.7h.1m.9-.5h.1m.7-.2h.1m.9,.7h.1m.4-.7h.1m.1-.1h.1m.3,1.2h.1m.8-.9h.1m.3-.4h.1m-.1,.2h.1m.4,.4h.1m1.2,.2h.1m.5,.2h.1m.1,.2h.1m.3-.5h.1m0,.5h.1m.7,0h.1m.5-.7h.1m-.1-.7h.1m2.5,.3h.1m.3,1.4h.1m.4-1.4h.1m1.2,2.4h.1m-.1-1.1h.1m.2-.2h.1m.7,.4h.1m12.6,.5h.1m0-.1h.1m-.1,.2h.1m1-1.2h.1m.1-.4h.1m1,.4h.1m2.7,1h.1m-251.5,.8h.1m14.9,.3h.1m1.3,.7h.1m8.5,.4h.1m.4,1h.1m9-2.2h.1m7.4,.1h.1m3.6-.3h.1m0,2.6h.1m2.9-2.7h.1m1,.1h.1m.2,.8h.1m0,.2h.1m2.5-.8h.1m.9,.6h.1m-.1-.9h.1m1.1,1.5h.1m2.8-.6h.1m9.9,1.6h.1m1.1-.5h.1m.1,.7h.1m2.4-1.1h.1m.2,.9h.1m1.6-1.6h.1m0,1.2h.1m.4-1.1h.1m.3,.9h.1m.4-.4h.1m.3,1h.1m.6-1.3h.1m-.1,1.2h.1m.4-2.4h.1m.1,2.7h.1m.2-.6h.1m2,.4h.1m24.8-.9h.1m5.4-.6h.1m6,1.5h.1m.1-1.3h.1m8.1,.2h.1m.1,.6h.1m.5,.7h.1m.1,.1h.1m.1-1.9h.1m.2-.6h.1m.4,1.7h.1m.8,.9h.1m.1-1h.1m18.4-.1h.1m1.5,.2h.1m.5,.7h.1m.5,.2h.1m1.3-.5h.1m.1,.1h.1m1.4-1.1h.1m11.3,.7h.1m.7,.8h.1m1.9-2h.1m.2,1.2h.1m-.1,.4h.1m.9-2.1h.1m2,0h.1m.9,1.2h.1m.1,.4h.1m-.1,.8h.1m21.8-.8h.1m1.1-1h.1m0,1.1h.1m.9-.9h.1m3.8,1.7h.1m-.1-.8h.1m.4,.3h.1m.4-1.3h.1m-.1,.9h.1m2.2-1.2h.1m1.1,2h.1m18.8-.5h.1m0,.6h.1m12.8-1.6h.1m13.6,.2h.1m.7-1.2h.1m.1,2.2h.1m.9,.3h.1m-259.7,2.1h.1m.7-.3h.1m.7-1.1h.1m.1,1.9h.1m.5-1.6h.1m.1,1.8h.1m.5-.5h.1m1.6-1.6h.1m2.7-.3h.1m2.5,.3h.1m.2,.8h.1m1.3-.5h.1m1.3,1.7h.1m.4-1.1h.1m.5,.5h.1m6,1h.1m1.2-.4h.1m0-2.5h.1m25,.4h.1m.3,0h.1m8.7,.8h.1m7.7,.6h.1m9.7-.3h.1m1.8-1.1h.1m.5,1.6h.1m.3-.6h.1m.6,.3h.1m0,.3h.1m.9-1.6h.1m1.6,.9h.1m1.4,.8h.1m.3-1.1h.1m.3-.5h.1m.2-.1h.1m.8-.1h.1m.1,.2h.1m.3-.3h.1m5.2,1.2h.1m.4-.9h.1m.5,.6h.1m11.5,1.6h.1m0-1.7h.1m4.9,1.4h.1m2-1.4h.1m.8,1.3h.1m.1-.4h.1m.1-.5h.1m.3,.1h.1m.4-.4h.1m1.4,.4h.1m2.1,1.1h.1m.2-.7h.1m10.2-.8h.1m.5,1.4h.1m.6-.5h.1m.4-.6h.1m.3,1.4h.1m0-.5h.1m-.1-.8h.1m.2,1h.1m.4,.4h.1m.6-2.4h.1m2.3-.2h.1m.1,.7h.1m2.1-.6h.1m0,.4h.1m1,.1h.1m.4,.5h.1m1.5-.5h.1m9.2,2h.1m2.5-.9h.1m7.7-1.5h.1m2.8,2h.1m6.9,0h.1m0-.6h.1m.7,.1h.1m4.2,.9h.1m.7-1.3h.1m.4-.2h.1m1.6,1h.1m.7,0h.1m1.9-2.4h.1m.6,1.7h.1m.1,.7h.1m.3-.7h.1m.1-1.4h.1m0,1.9h.1m0,.6h.1m.3-1.3h.1m0,.7h.1m0-.5h.1m.2-.6h.1m.2,1.1h.1m.3,.3h.1m.3-1.3h.1m.1-.1h.1m.1,1.8h.1m.4-1.3h.1m.7,1.1h.1m.5-.2h.1m.2,.4h.1m1-.8h.1m.2,.6h.1m1-.8h.1m0,.4h.1m.6-.7h.1m.8,1.1h.1m.4-.8h.1m.4-1.7h.1m.3,2.5h.1m.4-.3h.1m.3-1h.1m2.2,.1h.1m12.3-.3h.1m-.1,.2h.1m.5-.9h.1m1.9-.5h.1m-.1,.2h.1m1.7,2.1h.1m3,.6h.1m9.2-2.5h.1m22.8,2.3h.1m12.1,.2h.1m0-.7h.1m1.5-.8h.1m-259.5,3h.1m.1,.9h.1m14-1.9h.1m1.9,2.5h.1m1.7-.8h.1m.5-.8h.1m.7,.3h.1m.7,.9h.1m0-2.1h.1m-.1,.4h.1m.1,.6h.1m.7,.6h.1m.7,.4h.1m11.7,.3h.1m1.1-2.7h.1m0,.5h.1m.9,1.1h.1m.1,0h.1m.7-.4h.1m-.1-.2h.1m.4,.8h.1m.2-.6h.1m.1-.4h.1m.8,1.7h.1m5.1,.2h.1m.6-2.4h.1m17.3,.6h.1m21.4,.3h.1m11.7,1.7h.1m2.1-.5h.1m.3-.3h.1m.2,.7h.1m2-1.8h.1m.7-.9h.1m.5,2.2h.1m.3-.3h.1m.5-1h.1m-.1-.9h.1m0,.1h.1m-.1-.2h.1m0,1.3h.1m.5,.2h.1m0-1h.1m.5,1.2h.1m2.7-1.7h.1m1.1,1h.1m.5-.2h.1m-.1-.8h.1m.3,.5h.1m.1,0h.1m8.2,.7h.1m6.4-.3h.1m.9,.6h.1m.9,1.3h.1m-.1-1.8h.1m0-.5h.1m.4,.4h.1m.1-.9h.1m0,2.7h.1m.6-2.3h.1m7.4,1.6h.1m-.1,.6h.1m.3-.3h.1m-.1-1.8h.1m.4,1.1h.1m-.1,.8h.1m8.3-.3h.1m3-2.1h.1m13.4,2.5h.1m-.1-1.5h.1m.1,1.2h.1m1.8-.2h.1m1.8,.2h.1m.1,.3h.1m1,.1h.1m.2-1.4h.1m.3-.2h.1m.8,1.4h.1m0-.5h.1m1.4-.1h.1m.4-1.1h.1m.5,.9h.1m.1-.8h.1m0-.3h.1m0,1.4h.1m0,.5h.1m-.1-2.1h.1m.8,1.6h.1m.1,.8h.1m.7-1.9h.1m.5,.3h.1m.1,1.6h.1m.1-2.2h.1m0,1h.1m-.1,.6h.1m.2-1.6h.1m-.1,1.9h.1m.5,0h.1m-.1-1.8h.1m0,.8h.1m8.7-1.1h.1m.1,.1h.1m1-.2h.1m.2,.8h.1m0,.4h.1m.7-1.1h.1m0-.3h.1m5.5,1.4h.1m10.4,1.5h.1m1.1-2.5h.1m10,1.5h.1m1.5,.6h.1m2-.1h.1m2.9-.1h.1m15.9,.6h.1m3.4-1.5h.1m.5,1.2h.1m1.6,0h.1m.4-2.6h.1m1,1.5h.1m1.4,.7h.1m-.1-.7h.1m0-1h.1m0,2.2h.1m1.3-1.5h.1m-.1,.9h.1m-.1,.3h.1m.3-2.4h.1m.4,.9h.1m0,1.1h.1m2.3,.2h.1m1,.4h.1m1.1,.1h.1m3.5-1.8h.1m2.1,.3h.1m-259.1,3h.1m.1-.7h.1m14.2-.3h.1m3.3,.9h.1m-.1-.1h.1m.3-.3h.1m.1,.4h.1m.3,1.8h.1m-.1-1h.1m.1,0h.1m.9,.5h.1m0-1.4h.1m.3,1.1h.1m.3-.7h.1m2.1-.6h.1m.8-.2h.1m.2,1.9h.1m1.7-.4h.1m14.7-.9h.1m.1-.3h.1m2.2,.8h.1m.7,.3h.1m1.2,.5h.1m12.5,.3h.1m2.6-1.7h.1m.7,.7h.1m.6,1.1h.1m9.4-1.2h.1m10,.8h.1m.1-2.1h.1m10.8,2.5h.1m.5-.3h.1m.5,0h.1m4.1-1h.1m.9-.2h.1m0-1.2h.1m.2,.4h.1m1.7-.3h.1m23,1.7h.1m.1-.5h.1m.8-1h.1m-.1,.7h.1m.2-1.1h.1m.1,1.3h.1m.6,1h.1m0-1.4h.1m1-.8h.1m.6,2.2h.1m.2-.6h.1m.1-.8h.1m0,.9h.1m1.3,.3h.1m.3-1.2h.1m-.1,1.8h.1m.6-1.8h.1m.3,1.9h.1m.1-1h.1m0-.1h.1m.1-1h.1m0,1.6h.1m.6-1.1h.1m.1,1.4h.1m.4-.4h.1m0-1.8h.1m0,1.3h.1m0,.6h.1m.1-1.3h.1m.2,.9h.1m.7-.1h.1m-.1-.9h.1m.3,1.5h.1m.1-.4h.1m.2-1.2h.1m.1-.3h.1m.6,1.4h.1m0-.2h.1m-.1-.6h.1m0,.7h.1m.2-.5h.1m2.2-.4h.1m1.6,.4h.1m.3-1.3h.1m.5,.3h.1m17.8,1.8h.1m2-2.2h.1m0,2h.1m.7-1.7h.1m.2-.1h.1m1.1,0h.1m3-.2h.1m3,0h.1m.8,0h.1m.7,1.6h.1m.9-1.2h.1m.1,1.5h.1m0,.6h.1m-.1-.6h.1m0,.6h.1m.2-1.1h.1m0,1.2h.1m.1-.7h.1m20.9-1.3h.1m24.4,.6h.1m.5-.8h.1m.3,.9h.1m1.1,.2h.1m9.6,1.4h.1m1.8-1.5h.1m-.1,.1h.1m.3-.4h.1m.8,.8h.1m.2-.6h.1m0,.7h.1m0-.6h.1m.2-1.1h.1m.7,.1h.1m.8,.4h.1m.5,.3h.1m.8-.3h.1m-.1-.7h.1m.6,.1h.1m.7,.6h.1m.2,.1h.1m.4,0h.1m1.2,.8h.1m2.8-1.7h.1m.5,0h.1m2.2,.5h.1m2.1,.4h.1m0,.5h.1m.8-1.2h.1m.3,.2h.1m1.3,1.5h.1m.4-.4h.1m-255.9,4.4h.1m1.5-2.9h.1m11.1,2.5h.1m2.8-1.2h.1m2.2-.4h.1m11.5-.3h.1m0,.7h.1m2,.9h.1m23.1-1.1h.1m1.7-.4h.1m.7-.4h.1m.6,0h.1m.2,.6h.1m.3-.6h.1m.2,.4h.1m.4-.7h.1m.3,.5h.1m.3,.2h.1m.4-.7h.1m.9,.4h.1m2.1,0h.1m.4-.2h.1m.2,1.2h.1m.8,.8h.1m.1-.9h.1m.2,1.1h.1m.4-.7h.1m0-.2h.1m0,.2h.1m.5,.9h.1m.6-.7h.1m.5-.1h.1m1.6,.8h.1m.1-.6h.1m1.5,.7h.1m8.9-1.2h.1m11.8,.8h.1m0-2.2h.1m8.7,1.9h.1m1.5,.9h.1m.5-.5h.1m-.1-1h.1m.4,1.5h.1m.8-.9h.1m0,.7h.1m.9,.2h.1m1.3,0h.1m13.5-1.4h.1m.9-.7h.1m0-.7h.1m.8,1.4h.1m.4-.2h.1m.5-1.1h.1m.6,.1h.1m0,2.5h.1m.7-1.8h.1m0,.6h.1m.2-.7h.1m.8,.1h.1m.3,.5h.1m.4-.4h.1m.3,.1h.1m1.7-.8h.1m.7-.3h.1m1.1,.9h.1m.4-.8h.1m.1,.7h.1m2.1-.4h.1m23.1,1.9h.1m1.9-1.5h.1m2.1,1h.1m1.5,.8h.1m12.4-2.2h.1m23.5-.5h.1m13,2.8h.1m.7-1.9h.1m10.4-.4h.1m0,.2h.1m2.2,1.7h.1m2,.1h.1m.3-.4h.1m-231,2.3h.1m1.8,0h.1m3.7-.8h.1m1.7,1.3h.1m1.9-1.9h.1m.8,1.5h.1m.9,1.3h.1m.4-.5h.1m.1,.5h.1m1.2-.2h.1m.4-.4h.1m.5,.1h.1m.4,.4h.1m1.2-2h.1m1.1,.1h.1m1.4,.5h.1m.4-.4h.1m.9-.2h.1m.5,1.4h.1m.1,.3h.1m7.1-.5h.1m4.4-.5h.1m11.6,1h.1m.5,.4h.1m.7-.9h.1m.5,0h.1m.7-.5h.1m.4-.1h.1m1.4,1.5h.1m.5-2.5h.1m1.1,2.3h.1m16.6-2.3h.1m1.8,.2h.1m.5,0h.1m.3,.4h.1m-.1-.3h.1m.7,.5h.1m1.2,.1h.1m.5,.4h.1m30-1.1h.1m.9-.1h.1m3.5-.4h.1m.5,1h.1m.5-.8h.1m.1-.2h.1m.2,1.9h.1m.5-.2h.1m.1-1.3h.1m.5,1.2h.1m1-.3h.1m.3,.7h.1m.3-.5h.1m.4,.4h.1m1.2,.5h.1m2.2-.8h.1m0,1.1h.1m.3,.2h.1m.5-.6h.1m-.1,.2h.1m.2-.1h.1m0-.8h.1m-.1-.1h.1m.4,1h.1m0-1.1h.1m-.1,1.4h.1m3.4-.7h.1m.8-.6h.1m3.8,.5h.1m1,.8h.1m7.4-.6h.1m0-1.7h.1m22.7,.9h.1m8.1,0h.1m8.8,.7h.1m.2,.8h.1m3.2-.4h.1m.1-.6h.1m.8-.1h.1m3.2,1.1h.1m3,0h.1m1.4-.9h.1m2,.9h.1m4-.4h.1m11.1-1.6h.1m1.7,1h.1m.2,.8h.1m2.1-1.2h.1m3.6-1.5h.1m.1,1.5h.1m0,1.2h.1m.2-1.7h.1m.3,1.8h.1m-.1-1h.1m0,.4h.1m.4-.7h.1m.3-.4h.1m4.3,1.8h.1m1,0h.1m2.5-.9h.1m.9-.7h.1m0-.3h.1m0,.8h.1m.3,.5h.1m.2,.6h.1m.3-.2h.1m0-.2h.1m-.1-1.6h.1m.9,.9h.1m0,.9h.1m.2-2.4h.1m1.4,2.5h.1m.4-1.7h.1m.6,.5h.1m1.1,1.2h.1m14.9-1.8h.1m13,1.9h.1m-258.3,2.2h.1m1.2,.3h.1m.1-.2h.1m.9-.2h.1m.6-2h.1m0,2.6h.1m0-1.1h.1m.4,.2h.1m0,.3h.1m.3,.7h.1m.3-.7h.1m.1-.1h.1m.2,.5h.1m.7,.5h.1m.2-1.7h.1m.3,.4h.1m.3-.6h.1m.1-.8h.1m0,2.6h.1m.2-2.7h.1m.1,1.6h.1m0-.8h.1m.1,1.3h.1m.1,.5h.1m.1-1.3h.1m.2,0h.1m.1-1.3h.1m.2,1.3h.1m1.4-.3h.1m.3,.4h.1m.8-1.5h.1m0,2.5h.1m1.9-1.1h.1m.3,.5h.1m.3,.4h.1m-.1-.7h.1m3.1-1.3h.1m1.2,.4h.1m3.5,1.8h.1m-.1-.6h.1m0,0h.1m.1-1.2h.1m.5,1.1h.1m1.1,.7h.1m1.4-1.5h.1m5.3-.3h.1m2,1.9h.1m3.2,.3h.1m0-.9h.1m2.1-.8h.1m.7,.8h.1m.3-1.5h.1m.2,.5h.1m.4-.8h.1m1.3,.6h.1m.4,0h.1m2.4,.3h.1m-.1-.6h.1m.1-.5h.1m1.2,.3h.1m1.3,.3h.1m.7,.5h.1m.1,.1h.1m.7-.6h.1m.3,1.7h.1m23.7-.1h.1m.5-1.6h.1m3.7,.9h.1m.5-.6h.1m2.9,1.3h.1m15.9-.8h.1m13.6-.9h.1m1.2,0h.1m0-.4h.1m.6,.8h.1m.7,.1h.1m9.8,.4h.1m1.7-.9h.1m3.8,2.3h.1m.2-.9h.1m.5,.4h.1m14.1-1.6h.1m1.3,1.4h.1m20.8-1.3h.1m2.1,1h.1m2.5-.1h.1m.2-.2h.1m.8-.2h.1m.4,.1h.1m1.8-.8h.1m-.1,.3h.1m0-.9h.1m.3,0h.1m.4,.5h.1m-.1,.2h.1m1.5-.3h.1m1.3-.4h.1m0,1.2h.1m.9,1.3h.1m1.8-1.4h.1m.8-.7h.1m.1,1.5h.1m.3-.4h.1m-.1,1.3h.1m0-.1h.1m.2-2.7h.1m.2,1.6h.1m0-.1h.1m.1,.9h.1m.4-1.2h.1m.5,.6h.1m-.1-1.1h.1m.1,.1h.1m.9,1h.1m.9-1.1h.1m1.9-.3h.1m12.2,1.3h.1m2.9,.4h.1m2.4-.9h.1m-.1-.5h.1m.8-.6h.1m3.1,.3h.1m2.2,.1h.1m.9,.4h.1m.5,.6h.1m2.4,0h.1m.4-1h.1m.7-.5h.1m.1,.5h.1m.4,1.1h.1m-.1-.7h.1m0,.5h.1m.7-.4h.1m0-.5h.1m.3,1.2h.1m.7,.4h.1m.2-1.4h.1m1.5,.4h.1m1.2,.2h.1m1.2-.1h.1m.3,.8h.1m3.2,.9h.1m.2-.8h.1m.6,.4h.1m13-1.4h.1m10.8,.1h.1m-260.1,2.3h.1m.4,1.5h.1m-.1-.1h.1m.9-1.7h.1m2.4,.7h.1m.6,1.4h.1m0-1h.1m1.1-.7h.1m0,.9h.1m.2-.2h.1m.3-.4h.1m.7-.7h.1m.2,1.1h.1m6-.8h.1m.1,0h.1m23.8-.4h.1m.8,0h.1m11.5,1.5h.1m1.8-.7h.1m1.6-.7h.1m.1,1.5h.1m1.2,.9h.1m.3-1.6h.1m2.5,.9h.1m.6,.4h.1m13.2,.2h.1m1.2-1.6h.1m.1,.5h.1m2.7-1.4h.1m0,1.5h.1m.3-.7h.1m-.1,.8h.1m.5-1.1h.1m.4,.4h.1m.1,.3h.1m.1-.3h.1m-.1,1.3h.1m.3-.7h.1m1.5-1h.1m-.1,.7h.1m.6,.9h.1m.3-.2h.1m.3-.4h.1m.7,.4h.1m.2,1h.1m1.4-1h.1m.3,.7h.1m24.4-1.6h.1m21-.3h.1m.9,1.8h.1m.8-1.8h.1m.6,1.1h.1m-.1-1.4h.1m18.4,1.6h.1m34.3-2h.1m2,0h.1m12.9,2.3h.1m1.2-.5h.1m.5,0h.1m.9,1h.1m.3-1.8h.1m.9-.4h.1m.3,.7h.1m20.5,.2h.1m0,0h.1m2.4,1.4h.1m6.8-1.7h.1m2,.8h.1m.4-1h.1m.7,1.6h.1m.4-.2h.1m.5,.1h.1m4-.1h.1m1.4,.5h.1m11.3-2.3h.1m0-.5h.1m-254.9,3.8h.1m.7-.5h.1m1.1,.4h.1m.3-.8h.1m9.8,2.9h.1m11.4,0h.1m-.1-1.4h.1m.7,0h.1m0-.3h.1m-.1,1.7h.1m0-.9h.1m9.1,.5h.1m.6-1.4h.1m20.4-.6h.1m1.2,.2h.1m1.2,1.6h.1m.4-1.8h.1m1.8,1.8h.1m0-1.8h.1m.1,1.6h.1m.1,.6h.1m0-1.3h.1m1.1,1.1h.1m.2-.9h.1m1,.7h.1m.7-.1h.1m0,.3h.1m.7-1.2h.1m.6,1.1h.1m.4-1.7h.1m.3-.1h.1m0,0h.1m.6,1.2h.1m.1-1.1h.1m.7,1.5h.1m.7-1.8h.1m-.1,.1h.1m.2,2h.1m.7-.1h.1m0-2.1h.1m.1,0h.1m9,.2h.1m1.9-.5h.1m.2,.9h.1m.3,1.1h.1m.1-.4h.1m1.2,.8h.1m.8-1.4h.1m.2,1.4h.1m0,0h.1m0-1.4h.1m.8,.4h.1m.4,1.4h.1m.1,.1h.1m.2-1.6h.1m.7,.2h.1m.6,.4h.1m.3,0h.1m.4-.2h.1m.4-.3h.1m.5,1.2h.1m.5-.1h.1m.3-.6h.1m.5,0h.1m0-.5h.1m.6,.5h.1m.1,.1h.1m.3-.3h.1m.4,.3h.1m.3-.1h.1m1.3-1.9h.1m0,2h.1m0,.7h.1m0-.2h.1m0-.9h.1m1.2-1.1h.1m5.7,2.3h.1m.7-.4h.1m3.3-.1h.1m.7,.2h.1m1.3-.3h.1m.3,0h.1m2.3,.7h.1m4.6-2h.1m.1,.9h.1m50,.6h.1m.8-2h.1m14.4,0h.1m0,1.5h.1m11.3-1.9h.1m1.7,.7h.1m2.2,.7h.1m0-.7h.1m.7,.2h.1m23.3,1.4h.1m1.1-1.8h.1m14.1-.1h.1m1.4-.1h.1m.2,1.2h.1m0-.8h.1m.2,2.2h.1m0-2.1h.1m.3,1.6h.1m0-1.6h.1m.3,1.1h.1m.3-.5h.1m0-.5h.1m.1,.9h.1m.8,0h.1m1.4-.4h.1m0,.7h.1m.1,.8h.1m1.1-.3h.1m-247.5,.6h.1m7,.2h.1m.3,.6h.1m.1-1h.1m.2,.9h.1m.3-.4h.1m.2,1.7h.1m.2,.2h.1m-.1-1.4h.1m.6-.5h.1m.6,2.3h.1m1.9-.2h.1m6.8-.9h.1m7.2-1.2h.1m.8-.5h.1m.7,.6h.1m.4,.8h.1m.2-1.3h.1m.3,1.9h.1m.7,.9h.1m-.1-2.2h.1m0,.6h.1m.8-.7h.1m.1,1.8h.1m1.3-1.4h.1m-.1,1.2h.1m.8,.7h.1m.9-1.5h.1m0-.5h.1m-.1,1.4h.1m1.9,0h.1m1.8,.3h.1m1.7-.6h.1m6.8-.5h.1m-.1-.9h.1m3,2h.1m9.4-1.5h.1m1.8-1.1h.1m.5,0h.1m26.1,1h.1m.4-1h.1m0,.9h.1m10.1,.7h.1m.5-.8h.1m.6,1.2h.1m1,.9h.1m1.7-2.9h.1m.5,1.5h.1m.4,.9h.1m.4-1.3h.1m1.3-1.1h.1m1.5,.6h.1m.2,.4h.1m0,.5h.1m-.1-.5h.1m.1-.2h.1m.5-.5h.1m.2,.1h.1m0,0h.1m1,.3h.1m1.6-.5h.1m.4,1.9h.1m.2-.8h.1m.6,.4h.1m-.1,.7h.1m.9-.9h.1m0-.6h.1m.3-.4h.1m.4,.7h.1m.2,.5h.1m.4,.8h.1m.9-1h.1m.3,.2h.1m1.6,.4h.1m.3-.6h.1m.1,1.4h.1m.6-.2h.1m10.5-.5h.1m.1-1.7h.1m51.8,.7h.1m12.1,0h.1m14.4-1h.1m3.3,1.3h.1m0,.9h.1m0,.1h.1m.2-.8h.1m.9,.7h.1m.4-.2h.1m.2,.5h.1m.6-.7h.1m4.5,.9h.1m.9-.2h.1m0,.2h.1m1.6-.3h.1m.6,.3h.1m16.5-1h.1m.6,.5h.1m.3-.3h.1m.6-1.8h.1m.3,.2h.1m.1,.7h.1m.9-1.1h.1m.5,.8h.1m.3,2h.1m.1-1.5h.1m0,1h.1m0-2.4h.1m-.1,2.2h.1m.9-1.1h.1m.8,.4h.1m.1,.8h.1m2.7,0h.1m1.3-1.3h.1m.7,1.5h.1m.8-1.8h.1m-255.6,2.5h.1m1,2.2h.1m8.7-2.4h.1m0,1.4h.1m.4-.9h.1m.2,1.8h.1m.9-2h.1m2.1,1.5h.1m0,.5h.1m0-2.2h.1m17,2.8h.1m.2-1h.1m1-1.7h.1m8.6-.2h.1m.4,2.4h.1m.3-1.1h.1m0-.5h.1m0,1.3h.1m1.7-1.6h.1m.2-.1h.1m.5,1.2h.1m3.6-1.5h.1m1,2h.1m9.3-1.9h.1m13,1.8h.1m14-.3h.1m1.3-1.3h.1m14.9,.1h.1m1.2,1.7h.1m.1-1.3h.1m-.1,1.8h.1m11.1-2.6h.1m1.4,.3h.1m.9-.4h.1m.2,0h.1m0,.1h.1m.2,2.3h.1m.1-2.4h.1m.3,.5h.1m.8,.2h.1m.9,.1h.1m1.6-.3h.1m.2,.1h.1m0,.4h.1m.6-.5h.1m.1,.3h.1m.8-.3h.1m0,.5h.1m0-.3h.1m.4-.2h.1m.7,.4h.1m.5-.1h.1m1.8,1.7h.1m1.4-1.8h.1m.1,.1h.1m0,1.7h.1m.3,.2h.1m0-.9h.1m-.1,.5h.1m.1-1.1h.1m.7,.3h.1m0-.2h.1m.2-.5h.1m2.2,1.5h.1m9.2,.6h.1m1.3-.7h.1m1.7-1.3h.1m.1,1.1h.1m2.9-1.5h.1m1.1,.7h.1m.1,.3h.1m.4-1.5h.1m2.1,1.7h.1m.3-.4h.1m1.6,.2h.1m.3,.2h.1m.3-.7h.1m.4,.8h.1m.2-.6h.1m.2,1.6h.1m.2-.4h.1m1.4-1.2h.1m0,1.2h.1m-.1-1h.1m0,1.1h.1m-.1-.6h.1m.3-1.5h.1m.9,2.5h.1m1.9-.5h.1m1.4-.4h.1m17.9,0h.1m2.9,.6h.1m.8-1.4h.1m0,1.1h.1m1.3,.2h.1m1.9,.1h.1m2.3-.1h.1m3.6,0h.1m14.1-1.3h.1m2.9,.3h.1m.1-.6h.1m.6-.4h.1m.3,.8h.1m.8,.2h.1m.3-1.1h.1m.1-.4h.1m.4,.6h.1m.8,.4h.1m2.2-.3h.1m.2-.2h.1m1,.1h.1m.4,.9h.1m-.1-1.1h.1m.3,.5h.1m.8-.5h.1m2.1,1.3h.1m0-.8h.1m1.1,1h.1m1.8,.5h.1m0,.5h.1m2,0h.1m.6-.3h.1m1.8-1.1h.1m.3,.2h.1m0,.3h.1m-.1-.8h.1m.7,0h.1m0,.9h.1m.4,.8h.1m0-1h.1m.3-.4h.1m.5,1h.1m.2-.3h.1m.1-.2h.1m.2,.9h.1m1.6-1.4h.1m1,0h.1m.2-.8h.1m-.1,1.3h.1m0-1.6h.1m.3,.6h.1m.1-.6h.1m.8,1.1h.1m.5,1.4h.1m.3-.9h.1m.4,.9h.1m.1-1.7h.1m0-.4h.1m0-.8h.1m.2,2.6h.1m.1-2.1h.1m.9,0h.1m.5,1.8h.1m-.1-.7h.1m.4,.8h.1m.9-.5h.1m2.8-.3h.1m0-.7h.1m.6-.1h.1m.7-.4h.1m.2,.9h.1m0,.4h.1m.1-1.7h.1m.2,1h.1m-.1-.6h.1m-.1,1.1h.1m.8-.4h.1m1.4-.1h.1m.9,1.1h.1m0-1.2h.1m.1,1.9h.1m.7-1.3h.1m-258.9,4.1h.1m.5-1.8h.1m7.9,.7h.1m.2-.6h.1m1.9-.9h.1m3.2,.4h.1m1.3-.4h.1m13.1,2.2h.1m1.2,.2h.1m.2-.3h.1m1.8-1.3h.1m.8,2.1h.1m8.2-1.4h.1m.1,1.4h.1m13.6-1h.1m1.4-1.7h.1m1.5,1.7h.1m11.8,.8h.1m.3-2.2h.1m32,0h.1m1.1,1.4h.1m.1,0h.1m.2,.7h.1m.5-1.2h.1m1,1.2h.1m.2-.1h.1m26.2-1.6h.1m1.4-.4h.1m2.3-.3h.1m.9,1.2h.1m.4,.3h.1m1.5-.2h.1m.8-.1h.1m.3,.3h.1m.4-.7h.1m.5,1h.1m0,0h.1m1.3-.3h.1m1,0h.1m.8-.8h.1m0-.9h.1m8,.9h.1m10.7-.9h.1m.6,0h.1m.2,.1h.1m.5,0h.1m15.8,.8h.1m.9,1.9h.1m.4-2.8h.1m.8,1.1h.1m1.6-.7h.1m.6,.7h.1m.3-.4h.1m.3,.7h.1m1.5,.1h.1m.3-1h.1m.3,.4h.1m0,.6h.1m.8,.4h.1m0-.5h.1m-.1,1.5h.1m.5-1.6h.1m.7-1.2h.1m0,1.1h.1m.9,.3h.1m.4,.5h.1m3.9-2h.1m.1,.4h.1m2.3,1.6h.1m.2-.1h.1m.8,.1h.1m.6,.4h.1m.2,.1h.1m.7-.4h.1m2.2,.4h.1m19.1-2.1h.1m2.8,1h.1m.1-1h.1m.7,1.2h.1m0,.6h.1m0-.5h.1m.6-1h.1m4-.3h.1m.1,0h.1m.8,0h.1m.7-.2h.1m8.8,1.2h.1m0,.6h.1m0-.4h.1m.1-.4h.1m.4-.5h.1m.5-.2h.1m-244.5,3.6h.1m2,.7h.1m1.4-.9h.1m2-.8h.1m12.3,2.5h.1m.1-.8h.1m.4,.1h.1m1.2,.1h.1m.8,.4h.1m.1-.9h.1m.5,.3h.1m.6-.3h.1m0,.9h.1m.8-1h.1m.4-.6h.1m0,.1h.1m.4,0h.1m.4,.1h.1m1,.6h.1m0-1.6h.1m.1,2.7h.1m.2-2.5h.1m.2,2.2h.1m.3-2.4h.1m.2,2h.1m0-.1h.1m.3,.6h.1m1.1-1.8h.1m2.6,1.8h.1m1.2,0h.1m4.3,.4h.1m.1-.4h.1m1.4-.1h.1m.1-2.3h.1m-.1,1.8h.1m4.2-1.9h.1m.2,2.7h.1m1-.1h.1m.3-1.4h.1m.1-.3h.1m.7,1.2h.1m1-.2h.1m.8,0h.1m.2-.9h.1m.2,.9h.1m.1,.5h.1m.1-2h.1m.2,1.1h.1m.3-.5h.1m-.1-1h.1m.1,.8h.1m.4,2.1h.1m.3-1.4h.1m-.1-1.1h.1m.2,.4h.1m.1,.4h.1m0,1.4h.1m.2-.4h.1m.2-1.2h.1m.7,.6h.1m1.6-1.2h.1m.6,1.1h.1m30.3,1.3h.1m1-1.2h.1m.3-.2h.1m.5-.6h.1m.7,2h.1m-.1-1.4h.1m.2,.5h.1m0-1.5h.1m0,1.1h.1m.4,.4h.1m.4,.2h.1m.2-1.2h.1m.6-.3h.1m.1,.4h.1m.2,.4h.1m.2,.5h.1m.1-.2h.1m.4-.1h.1m0-.4h.1m.9,.5h.1m0,.2h.1m.9-.4h.1m0-.5h.1m0,1.9h.1m.4-1.9h.1m1.1-.7h.1m2.9,.8h.1m.5,.4h.1m-.1,.2h.1m.3-1.4h.1m2.4,.7h.1m.3,.5h.1m0-1.2h.1m-.1,.5h.1m.4-.2h.1m.4-.5h.1m.3,.4h.1m.3,.4h.1m-.1,.6h.1m.4,.4h.1m.5-.3h.1m0,.8h.1m.4,.5h.1m.2-2.2h.1m.1,2h.1m.5-1.7h.1m0,1.3h.1m.1,.6h.1m.5-1.5h.1m.5,1.5h.1m.4,0h.1m-.1-1h.1m-.1,.5h.1m0-1.1h.1m.3,1.2h.1m31.2-2.1h.1m7.1,2.1h.1m21.6-.6h.1m3.1-.2h.1m-.1,.4h.1m0-.1h.1m1.2-1h.1m2.1-.3h.1m23-.5h.1m1.7,1.2h.1m1,.5h.1m.3-.4h.1m0-1.1h.1m0,2h.1m.2-2.1h.1m0,.7h.1m.4,0h.1m.8-.8h.1m35.2,1.5h.1m1.8-1.5h.1m-225.6,4.3h.1m.7,0h.1m.4,.4h.1m-.1-.5h.1m.3,.1h.1m-.1-1.2h.1m0,.1h.1m7.4,.3h.1m1.5-.2h.1m-.1,.4h.1m.2,0h.1m0,0h.1m1.2,.6h.1m.2-.3h.1m-.1,.2h.1m1.8,1.2h.1m.7-.8h.1m.4-.3h.1m.5,1.4h.1m.5-.8h.1m0,.4h.1m.3-2.5h.1m0,2.1h.1m.3-.1h.1m.4-1.5h.1m0,.9h.1m-.1,1.3h.1m.6-2.2h.1m.1,1.2h.1m0,.8h.1m.7-.2h.1m0-.8h.1m.2,1.4h.1m.1-.4h.1m.5-2.1h.1m.4,1.4h.1m0,1h.1m.4-1.8h.1m2.1,1.5h.1m.4,0h.1m.5-2.5h.1m0,1h.1m-.1-1h.1m.4,.7h.1m5.2,.3h.1m1.1-.7h.1m.3,1.2h.1m.4-.1h.1m.2-.9h.1m-.1-.5h.1m.7,.4h.1m.3,.6h.1m3.3,1.5h.1m.4-.2h.1m.8-.3h.1m1.9,.3h.1m1.5-.2h.1m.5-.1h.1m12.3-.5h.1m.6,1h.1m1.8-.1h.1m-.1-1.3h.1m.5,.9h.1m.2,0h.1m1.6,.5h.1m.5,0h.1m.1-.5h.1m.4-.9h.1m.1,.4h.1m.8-.3h.1m.1-.4h.1m1.8,1.6h.1m8.6-1.6h.1m.8,.2h.1m.7-.8h.1m2.7,.7h.1m11-.4h.1m18.8,.3h.1m43.4,.2h.1m1,1.4h.1m.4-.8h.1m.2,.6h.1m.3-.3h.1m.2,.5h.1m0,.1h.1m15-1.1h.1m33.9-1.3h.1m.8,.3h.1m.2,0h.1m.4,1.1h.1m.6-.6h.1m.5,1.5h.1m0-.6h.1m.7,.1h.1m14.3-1.4h.1m-242.4,2.9h.1m.7,.4h.1m12.9,1h.1m2.4-.2h.1m.8-.6h.1m.5,.3h.1m2,.8h.1m.4-1.9h.1m.5,1.8h.1m1,0h.1m3.8,.5h.1m1.6-.5h.1m0-.7h.1m.6-.9h.1m.3,1h.1m2.1,.6h.1m.3-.5h.1m.1-.6h.1m.3,.5h.1m.7,.7h.1m-.1,.4h.1m2-2.1h.1m.3,0h.1m-.1-.1h.1m.2,.8h.1m.1-.2h.1m.3-.1h.1m.4,.4h.1m.3-.2h.1m.3-.3h.1m.9,1h.1m.2-1h.1m1.2,1.4h.1m.2-1.8h.1m-.1,1.2h.1m1.4,1.2h.1m.4-1.5h.1m1.8-.3h.1m.7,1h.1m4.4,.2h.1m2.6-1.9h.1m0,.7h.1m3.9,1.5h.1m2.9-2.3h.1m1.2,.5h.1m0,.3h.1m.7,.9h.1m11.6-.2h.1m1.8,.4h.1m6.7-1.6h.1m.4,1.5h.1m.1-1.8h.1m.1,1.4h.1m1.3-1.4h.1m0-.1h.1m.2,1.9h.1m.1-.1h.1m.2-1.3h.1m.1,2.2h.1m-.1-2.2h.1m12.7,.2h.1m10.6,1.9h.1m5.5-.3h.1m.2-1.4h.1m3.3,1.6h.1m.3,.4h.1m2.6-.1h.1m.9-.9h.1m.1,0h.1m1.8,1h.1m.4-1.3h.1m.1,.3h.1m-.1,.5h.1m0-.9h.1m0-.3h.1m28.6-.8h.1m19.2,1.1h.1m1.6-.4h.1m.7-.8h.1m0,.7h.1m.4,.2h.1m13.3-.5h.1m0,2.2h.1m3.2-.4h.1m.5-.6h.1m.5,.6h.1m-.1,.2h.1m1.7-.7h.1m.5,.9h.1m1-1.4h.1m.3,0h.1m.9,.5h.1m.4,.1h.1m1.3,0h.1m0-.7h.1m.7-.2h.1m.3,.2h.1m.3,0h.1m1-1.4h.1m-.1,.4h.1m1.8-.4h.1m0,1h.1m22.3-.1h.1m1.1,0h.1m.4,1.2h.1m-219.4,3.4h.1m13-2.4h.1m1.6,.7h.1m.2-.4h.1m15.8,.4h.1m1-.6h.1m1.9,.1h.1m2,2.4h.1m9.5-1.1h.1m.3,1.3h.1m9-.4h.1m1.4-1.5h.1m1.1,.2h.1m.4,.2h.1m.4-.6h.1m0,.7h.1m1-1.1h.1m.5,.9h.1m.1-.3h.1m10.1,1.9h.1m-.1-1.7h.1m2.2-1h.1m.8,.2h.1m.6,0h.1m1.4,.5h.1m.9,.4h.1m1.6,.3h.1m1,.8h.1m.6,.1h.1m.5-.9h.1m.8,1.1h.1m1.5,.2h.1m11,0h.1m2.2-1.9h.1m4.4-.3h.1m5.3-.6h.1m.9,1h.1m.6-.3h.1m.7-.8h.1m19,2.9h.1m1.8-1.4h.1m.5-1.1h.1m.9,1.8h.1m11.4,.4h.1m0-1.5h.1m1.1,1.6h.1m22.6-2.2h.1m1.3-.1h.1m.4,1.5h.1m2-.2h.1m-.1,1.2h.1m-.1-1.8h.1m.6,1.5h.1m.2-1.6h.1m1.3,1h.1m1.6,.6h.1m.8-.5h.1m.3-1.2h.1m.6-.5h.1m.3,2.1h.1m0-.1h.1m.4-1.2h.1m.1,1.2h.1m2.3-.2h.1m.1-2.2h.1m.1,.7h.1m.8,1.3h.1m0-.7h.1m0-.8h.1m.2,.4h.1m0,0h.1m1.1,0h.1m0-.4h.1m.4,0h.1m.7,.2h.1m.2-.7h.1m.6,0h.1m1.5,0h.1m9,2.5h.1m.7-2.5h.1m.2,2.9h.1m4.8,0h.1m.3-.5h.1m1.8,0h.1m1.9-.4h.1m11.6-2h.1m5.9,2.4h.1m1.9-2.3h.1m-234.6,3.1h.1m2.1,1.9h.1m29.8,.8h.1m4.6,0h.1m.2-.5h.1m.1,.5h.1m.4-.5h.1m.1,.3h.1m.6-.9h.1m.7,.2h.1m1-2h.1m.6,1h.1m9.3,0h.1m8.5,1.9h.1m.7-1.7h.1m.3,1.2h.1m12.9,.5h.1m.4-1h.1m1.1,.5h.1m.8-.6h.1m.7,.6h.1m.1-.5h.1m.2,.5h.1m0-1.5h.1m.7,.3h.1m1.3,1.5h.1m.1-1.5h.1m1.9-.2h.1m1.1,.3h.1m.9-.1h.1m.1,1.2h.1m.4-2.4h.1m0,1.4h.1m.8,1.4h.1m.1,.1h.1m.8-1h.1m.3-1.5h.1m.9-.4h.1m.6,2.7h.1m.5-1.4h.1m0-.4h.1m.2-.4h.1m.3,.4h.1m.6-.8h.1m.2,0h.1m.2,1.4h.1m3.5,.1h.1m2.6,1.1h.1m12-1.8h.1m2.9-.8h.1m4.8,1.8h.1m.5-1.9h.1m19.6,.5h.1m1.7,1.2h.1m.5,.3h.1m12.1,.5h.1m11.5-2.5h.1m.7,.4h.1m18.4,0h.1m.6,.1h.1m1.6-.1h.1m19.9,1.2h.1m1.2,.3h.1m.1-.9h.1m.1-.5h.1m0,1h.1m.2,0h.1m.6,.9h.1m-.1-1.1h.1m1.4-.8h.1m.5-.4h.1m.6,.2h.1m.4,0h.1m3.9,.6h.1m.2-.5h.1m2.8,2h.1m14.7-2.4h.1m.2,.9h.1m-232.3,4.6h.1m.6-.1h.1m1-1.4h.1m.4-.6h.1m2.4,2.5h.1m.3-.2h.1m13-.9h.1m1.2,.9h.1m8-2.2h.1m-.1,1.4h.1m.9-1h.1m.3-.3h.1m0,0h.1m.4-.4h.1m0,.6h.1m.5-.4h.1m-.1,.5h.1m.1,1h.1m2.2-.3h.1m-.1-1.5h.1m.1,.8h.1m-.1-.3h.1m.6-.2h.1m0,1.1h.1m.2-.8h.1m-.1,.9h.1m0-.1h.1m.1,.5h.1m1.3-.3h.1m.1-.9h.1m0,1.2h.1m.7-1.9h.1m1,2.7h.1m8.7,.1h.1m1.4-1.3h.1m.1-1.1h.1m3.5,0h.1m.8,.6h.1m.1,.6h.1m.6-.7h.1m1.3-1h.1m1.7,1.4h.1m.4,0h.1m9.6,1.2h.1m1.2-1.7h.1m.6-.9h.1m0,1h.1m.9-1h.1m0,1.2h.1m-.1,.1h.1m2.4-1h.1m0-.1h.1m6.6,1.8h.1m.1-1.6h.1m.5-.3h.1m.2,2.3h.1m.4-1.3h.1m1.2-.1h.1m.7,1.9h.1m.3,0h.1m1.6-1.4h.1m.8-.6h.1m2.2-.9h.1m1.7,.8h.1m7.1,1.5h.1m.7,.2h.1m7.5-.8h.1m9,.2h.1m4.3,.3h.1m.3-.3h.1m.8,.5h.1m0-1.5h.1m1.3,0h.1m1.4,.7h.1m.3,.8h.1m1.1-1.4h.1m1.3,1.2h.1m1.4,.6h.1m12.7-2.6h.1m7.7,1.9h.1m.3-.6h.1m37.4,.5h.1m.9,.3h.1m0-.4h.1m.5-.8h.1m.2,.2h.1m0,1.2h.1m2.8-.2h.1m.8,.5h.1m.6,.1h.1m.8-.6h.1m1,.6h.1m3-.8h.1m7.8-2.1h.1m7.5,.1h.1m2.8,.3h.1m.7,1h.1m.1-1.4h.1m.3,1.9h.1m11.8-.8h.1m17.2,1.3h.1m-250.4,2.8h.1m2.5-1.5h.1m.4-.1h.1m1.4-.5h.1m1.6,.2h.1m0,.3h.1m0,.8h.1m.5-.3h.1m1.2,1h.1m0-1.5h.1m.3,.6h.1m1.1-.3h.1m4.1,1.8h.1m8.7-2.7h.1m.8,2.8h.1m.6-.7h.1m2.8-1.1h.1m.6-.5h.1m12.8,1.8h.1m7.3-1.4h.1m1.4,.1h.1m1.2,1.9h.1m.8-2.5h.1m.6,2.4h.1m.3-2.6h.1m0,.7h.1m.8,.5h.1m-.1,.9h.1m1.2-.5h.1m1.7-1.3h.1m9-.1h.1m.6,1.7h.1m.8,.6h.1m1.1-1.3h.1m.4,1.4h.1m.2-.6h.1m.1-.1h.1m.1,.2h.1m.6-1.1h.1m.7,1.5h.1m6.8,.1h.1m2.8-2.7h.1m1.7,.9h.1m13.4-.4h.1m.5,.3h.1m.4-.5h.1m.9-.4h.1m-.1,.3h.1m.6,1.2h.1m.4-.5h.1m2-.5h.1m.9,.5h.1m.8,.1h.1m2-.7h.1m1.9,1.1h.1m.2-.8h.1m.7,.8h.1m.4-.9h.1m2.5,1.5h.1m.8-.1h.1m3,.2h.1m1.4,.2h.1m1.8-.9h.1m.2,1.3h.1m0-1.4h.1m1.1,.2h.1m0,1.2h.1m1.1-1.5h.1m.4-.8h.1m23,.4h.1m3.4,.7h.1m.2-.5h.1m.9,1.8h.1m.1-2.4h.1m0,1.5h.1m-.1,.5h.1m0-1.6h.1m.2,.5h.1m.1,.1h.1m.2-1h.1m.2,1.8h.1m1.2-1.2h.1m0-1h.1m1,2.3h.1m-.1-1.8h.1m1.9,0h.1m.9-.2h.1m0,2.5h.1m-.1-1.6h.1m1.3,.3h.1m.6-1.6h.1m8.1,2.6h.1m9.9-.1h.1m12.6-2.3h.1m4.8,.4h.1m.8,0h.1m.3,.9h.1m.2,.1h.1m.8-1.1h.1m-.1,.2h.1m0,1.2h.1m.2-.2h.1m.5-.6h.1m0-.6h.1m2.4,.3h.1m3.6-.4h.1m20.3,2.5h.1m-.1-.5h.1m4.2-.8h.1m.2,1h.1m.5-2.4h.1m.3,2.7h.1m1.7-1.1h.1m1.6-.3h.1m1.1,.4h.1m2,.6h.1m.5,.1h.1m9-.4h.1m2-1.5h.1m-256.6,4.8h.1m3.3-1.6h.1m.3-.6h.1m14.3,.2h.1m.7,.2h.1m3.6,1.1h.1m-.1,.4h.1m.4,.3h.1m3.9-.1h.1m2-2.4h.1m15.3,2.8h.1m1-.4h.1m.3,0h.1m.8-.9h.1m2.2,.1h.1m1.5,.6h.1m.6-1.3h.1m3.4-.9h.1m.1,.7h.1m.3,1.5h.1m-.1,.1h.1m13.2-.2h.1m.6-.3h.1m1.3-.8h.1m.8,1.4h.1m0-1.7h.1m.6-.3h.1m3.4-.4h.1m1,.5h.1m1.1-.4h.1m2.2,.3h.1m0,1h.1m.5-.8h.1m.4,1.4h.1m.6-.5h.1m.9-1.3h.1m.8,1.1h.1m-.1-.7h.1m1.1,1.6h.1m10.2,.3h.1m2.2-.8h.1m1.2-1.6h.1m-.1,2.6h.1m.2-2.3h.1m26.5-.4h.1m23.3,2.1h.1m13.1-1.7h.1m13.1,1h.1m.7,.2h.1m.9,1.3h.1m5.9-.2h.1m1.3-.7h.1m7.4,.5h.1m.8-.5h.1m.4-1.1h.1m0,1.9h.1m.3-1.3h.1m-.1,.2h.1m.3,.5h.1m.5-.9h.1m19.6-.7h.1m15.3,1h.1m.1-.1h.1m2-.9h.1m1.5,.7h.1m0-.5h.1m1.6-.5h.1m3.9,1.2h.1m1.8-1h.1m2.3,.4h.1m-.1,.8h.1m.4-.7h.1m-.1-.3h.1m.1-.5h.1m.5,1.5h.1m0-1.2h.1m.3,1.7h.1m0-2.2h.1m.4,.3h.1m.3,2.3h.1m.2-.5h.1m.2-.7h.1m-251.1,2.6h.1m.4-.6h.1m.4,1h.1m-.1,.1h.1m.4-.6h.1m.7-.6h.1m2,1.1h.1m20.9-.5h.1m.4-.4h.1m.6,1.5h.1m.8-1.6h.1m1.4,2.1h.1m1.6-.3h.1m.7,.6h.1m8.9,.1h.1m0-.3h.1m1.4-.5h.1m.8-.4h.1m.8,.3h.1m1.7-1.3h.1m1.2,.7h.1m.2-.9h.1m1.4,.3h.1m4.6-.3h.1m12.9,2h.1m.8-.2h.1m1-.9h.1m.9,.1h.1m.4,.5h.1m1.2-.3h.1m.4-.6h.1m.1-.5h.1m.1,1.5h.1m.3-1.7h.1m.4,.7h.1m.4-.6h.1m1,1h.1m.4,.8h.1m9.8-.9h.1m.3,.1h.1m0-1h.1m-.1,.3h.1m.3,.5h.1m.2,.9h.1m.6,.1h.1m.2,.6h.1m.2-1.7h.1m.1,1.7h.1m0-2.5h.1m0,1.1h.1m0-.5h.1m-.1-1h.1m1.9,2.4h.1m.9,.4h.1m.6-1h.1m1.9,.7h.1m1-.5h.1m-.1-.6h.1m.7,0h.1m0-.7h.1m.3,.1h.1m.5-.6h.1m2.3,.4h.1m.6-.4h.1m.3-.1h.1m0,.8h.1m1.1,.1h.1m.5,.4h.1m.1-.6h.1m14.5,1.7h.1m0,.2h.1m2.3-.2h.1m0,.1h.1m.3-.1h.1m.5,.3h.1m.5-1.3h.1m.2,.7h.1m.4-1h.1m.4,.1h.1m1.5,1.2h.1m-.1-.7h.1m1.1,.5h.1m2.3-.7h.1m.7,.7h.1m.4-.1h.1m1.4,.6h.1m9.4-2.8h.1m1,1.5h.1m.1,1.2h.1m4.2,.1h.1m2.5-.7h.1m.1,.8h.1m3-.9h.1m1-1.9h.1m.9,.2h.1m0,.5h.1m25.1,.6h.1m.5,.1h.1m0-1.2h.1m.3,.8h.1m0-.4h.1m.3,1.3h.1m1.4,.1h.1m.1-.1h.1m.4,.6h.1m.3-1.6h.1m1.4,1.2h.1m2.4-.1h.1m.5-.1h.1m1.8,.7h.1m1.2-2.3h.1m2.4,.8h.1m.8-.3h.1m1.3-.8h.1m3.7,.5h.1m.1-.1h.1m.1,.6h.1m1.2,0h.1m.3,.4h.1m0,.1h.1m.4-.2h.1m.7,.6h.1m.5-.4h.1m1.7,.4h.1m25.1-.5h.1m1.3,1.2h.1m1.4-1.8h.1m20-.8h.1m-248.1,3.5h.1m24.6,.3h.1m.2,.1h.1m.6-.5h.1m.8,1.5h.1m.2,.3h.1m0-1.3h.1m.6,.3h.1m.1,.4h.1m.3-.7h.1m.9,.5h.1m1.2,.3h.1m1,.9h.1m.3-1h.1m.3-.6h.1m.4,.1h.1m.5,.7h.1m.5-1.3h.1m1.2-.2h.1m18.7,1.6h.1m.5,0h.1m.6-.1h.1m.8,.1h.1m2-1.6h.1m.7,.3h.1m.6,.7h.1m.3-1.4h.1m9.8,2.4h.1m0-1.3h.1m4.3,1.6h.1m.3-.9h.1m1,.6h.1m.3,0h.1m.5,0h.1m0,.5h.1m.3-1.5h.1m.4,0h.1m.2,.1h.1m.2-1h.1m.1,.5h.1m.1-.8h.1m-.1,1.6h.1m.2,.8h.1m.2-1.6h.1m.4,1.6h.1m-.1-1.1h.1m.4,1h.1m.3-.4h.1m0,.4h.1m.1-1.8h.1m.6,1.3h.1m0-1.3h.1m-.1,1.2h.1m0,.7h.1m.6-.9h.1m.7,.3h.1m1.2-1.8h.1m.2,1.3h.1m-.1,.2h.1m13,1h.1m.3-.1h.1m9.1-.7h.1m2.5-.9h.1m.3,1.5h.1m0-1.9h.1m.8,1.3h.1m.4-.7h.1m.4,0h.1m.1-1.2h.1m4.3,1.8h.1m1.3-1.8h.1m2.5,.6h.1m1.5,.3h.1m.3,1.2h.1m.4-1.3h.1m-.1,.6h.1m.1-.4h.1m0-.8h.1m0,2.3h.1m0-1.6h.1m.3-.5h.1m0,1.1h.1m.9-.2h.1m.4-.6h.1m.3,.8h.1m0,0h.1m.1-1.1h.1m0,2h.1m0-.1h.1m.2-1.5h.1m0,1.2h.1m1.1-.2h.1m0-1.4h.1m.1,2.2h.1m.2,.3h.1m.2-2.1h.1m0,1.5h.1m-.1-.6h.1m.5,1.1h.1m0-.3h.1m1.2-.8h.1m0,.3h.1m0-1.2h.1m0,1.7h.1m.7-2.1h.1m2.1,1.1h.1m0,1h.1m.5-.9h.1m.4-.6h.1m.8-.2h.1m0,.2h.1m.3-.7h.1m0,.2h.1m.6-.1h.1m.1-.2h.1m-.1,1.7h.1m.5-.6h.1m1.8,.9h.1m1.2-2.2h.1m1.7,.9h.1m14.2-.5h.1m2,.3h.1m14.8,.1h.1m5.8-.4h.1m16.5,0h.1m.6,1.9h.1m0-1.8h.1m.4,.4h.1m16.1,.1h.1m4.6,1.4h.1m.9,.1h.1m.4-.8h.1m2.8,.2h.1m11-.3h.1m12.9,.9h.1m.8-.4h.1m-229.4,.9h.1m11.8,1.3h.1m19.3,1.1h.1m0-2.4h.1m.5,.3h.1m3.2,.3h.1m.1-.1h.1m.3,.4h.1m15.2-.1h.1m.1,1h.1m14.3,.8h.1m5.2,.1h.1m.6-.2h.1m3-.9h.1m-.1,.9h.1m.5,.1h.1m.5-.9h.1m.2,.8h.1m-.1-1.4h.1m0,1h.1m.2,.5h.1m.5-.2h.1m.4-1.5h.1m.4,1.1h.1m2,.1h.1m.8,0h.1m.8-1h.1m.5-.7h.1m9,2.1h.1m10.3-1.1h.1m8.3-.9h.1m.8,.9h.1m26.9-.6h.1m24.7-.5h.1m13.3,2.6h.1m1.5-2.9h.1m11.7,2.6h.1m.1,0h.1m1,.3h.1m.3,0h.1m1.3-.8h.1m.3-.1h.1m1.4-.1h.1m-.1,.4h.1m.1-1.3h.1m0,.5h.1m.9-.4h.1m6.6-.8h.1m26.9,2.6h.1m.4-2h.1m.7,1.2h.1m-.1-.8h.1m-.1-.8h.1m.9,.3h.1m.2,.1h.1m-222.1,2.5h.1m23.4,.9h.1m15.3-1.2h.1m15.8,.3h.1m.3,.1h.1m.6-.1h.1m.5,1.5h.1m.1-.4h.1m.1,0h.1m.2-.6h.1m.2,.1h.1m0,.4h.1m.2,.1h.1m0,.4h.1m.3-.1h.1m.6,.2h.1m0-1.2h.1m0-.3h.1m.5-.1h.1m.2,.5h.1m1.1,.8h.1m.2-.4h.1m0-1.3h.1m.2,1.9h.1m0-1.1h.1m1.2,.7h.1m.2,.2h.1m.5-.2h.1m2.5,.4h.1m0-.6h.1m.5-.9h.1m.2-.1h.1m.3,.5h.1m.4,.7h.1m.7-1h.1m31.7,1.1h.1m11.4-1.6h.1m14,.1h.1m27.6,1.4h.1m1.4,.4h.1m1-1.7h.1m.6,.2h.1m.2,.9h.1m.8,0h.1m.6,.7h.1m.5-1h.1m.3,.1h.1m.9,.5h.1m.2-1.2h.1m.5,.6h.1m.6,.1h.1m2.7-.6h.1m.4,1.1h.1m1.4,.1h.1m4.1-.3h.1m2.2,.4h.1m2.5,.2h.1m.4-.8h.1m1.3-.1h.1m.3-.2h.1m-.1,.9h.1m.4-.4h.1m0-1.1h.1m.4,1.1h.1m.9-1h.1m1,0h.1m-.1-.2h.1m.3,.3h.1m-.1-.5h.1m.4,.4h.1m.5,.7h.1m9-.7h.1m1.8,.1h.1m2,1.5h.1m.3-1h.1m.5,.8h.1m17.8-.2h.1m.2-.4h.1m2.5-.3h.1m.1,1h.1m.9-1.7h.1m0,1.5h.1m1.1-.2h.1m.1-.6h.1"/><path stroke="#8a2a9a" d="M123.8,191.5h.1m8.8-.5h.1m8.7-.1h.1m.6,.1h.1m11.4-.1h.1m1-.1h.1m56.2,.1h.1m8.1,.3h.1m76.7,.7h.1m11-.9h.1m.5-.8h.1m-253.3,2.2h.1m.6,.1h.1m9.9-.5h.1m20.8,2.9h.1m14.4-2.9h.1m25,1.8h.1m45.4-.3h.1m5.9,.6h.1m3.3,.8h.1m5.6-1h.1m.4-.3h.1m13.7-.7h.1m34.7-.9h.1m15.2,2.9h.1m.4,0h.1m20.2,0h.1m16.8-.8h.1m-230.7,2.4h.1m.7-1.1h.1m2,2h.1m.7,.5h.1m40.6-2.8h.1m7.3,1.3h.1m3.3-.1h.1m3,.2h.1m13-.5h.1m30.7-.6h.1m1.4,.8h.1m.4,.4h.1m0,.6h.1m18.4-1.8h.1m22.5,2h.1m21.6,.3h.1m13.7,.1h.1m61.3-.7h.1m-242.2,1.3h.1m1-.4h.1m1.5,2h.1m.4-.7h.1m100.3-1.3h.1m3.5,2.6h.1m.7-2.6h.1m.6,2.5h.1m1.2-.5h.1m.3-.4h.1m48.6,.8h.1m10.4-.9h.1m26.2-.6h.1m30.2,1.5h.1m-219.9,1.6h.1m66.6,1.4h.1m18.2,.1h.1m40.7-.3h.1m25.5-1.3h.1m58.8-.1h.1m7.1,.1h.1m1,0h.1m1.6,1.1h.1m-181.9,1.5h.1m22.2,2.4h.1m4.5-1.5h.1m15.3,.3h.1m10.5,.3h.1m7.7-1.1h.1m67.5-.5h.1m.4,.1h.1m2.3,1.5h.1m-165.4,1.6h.1m.5,.2h.1m21.7,2.1h.1m19.9-2h.1m6.9-.7h.1m16.4,.2h.1m22.4,.2h.1m52.5,1.9h.1m1.3-1.2h.1m.3,.1h.1m7.4,1.3h.1m13.8-1.2h.1m2-.8h.1m.4-.4h.1m0,.3h.1m0,1.4h.1m.6,.9h.1m.7-.5h.1m.2-1.8h.1m.9,2.2h.1m38.1-2.8h.1m.7,2.6h.1m22.1-1.4h.1m5-1h.1m-210.4,3.5h.1m4.3,.6h.1m2,1.4h.1m0-1.8h.1m74.4,1.1h.1m36.8-.1h.1m2.9-.5h.1m7.9,.5h.1m13.7-1.7h.1m11.7,.3h.1m11,1.3h.1m29.9,.1h.1m10.8,1h.1m.2-.9h.1m0-1.3h.1m.2,.7h.1m.1-.1h.1m.1,.5h.1m.5-.4h.1m.2,1.3h.1m1-.2h.1m.6-2.3h.1m.1,2h.1m.7-1.6h.1m1.1,1.4h.1m.1-.7h.1m-246.2,2.7h.1m26.1,.3h.1m36.5,1.6h.1m10.9-.1h.1m90.1-2.6h.1m67,1.6h.1m2.9,.7h.1m1-1h.1m8.6,.5h.1m.1-1.3h.1m0,.5h.1m0-.8h.1m1.9,.6h.1m-258.1,2.3h.1m26,2.2h.1m.9-.3h.1m29.4-1.5h.1m14.8,.3h.1m8-.4h.1m7,1.3h.1m.3-.1h.1m1.5,.4h.1m.7,.7h.1m15.3-.7h.1m1-.3h.1m13-1.2h.1m1.9-.7h.1m1.1,1.9h.1m6.8-1.5h.1m1.7,1.8h.1m10.4-.7h.1m4.5,.8h.1m2-2.3h.1m28.5,1.5h.1m35.2-1.4h.1m2.2,.6h.1m7.6,.2h.1m22.2,.5h.1m-243.4,1.6h.1m4.7,.5h.1m23.6,1.4h.1m.5,.5h.1m29.2-1.5h.1m.4-.3h.1m.1,1.8h.1m4.9-.5h.1m13.8-1.6h.1m8.4,.1h.1m18.9,2.2h.1m39-2.2h.1m41.3,2.1h.1m3.1-2.3h.1m.7,.2h.1m.8,.4h.1m2.8,1.4h.1m3.3,.7h.1m2.5-.9h.1m.5-2h.1m29.1,2.8h.1m.6-.9h.1m15.3,.1h.1m1.3,.4h.1m-237.8,2.6h.1m-.1-.6h.1m24.4-.4h.1m14,.6h.1m101.2-.5h.1m34.1,1.2h.1m1.4,.4h.1m11.2-2.1h.1m41.2,1.5h.1m7.2-1.2h.1m1.2,.1h.1m.9,0h.1m4.1,.8h.1m.3-.4h.1m1.6,.5h.1m-241.7,1.6h.1m4.5,1h.1m4,1.4h.1m1.3-.5h.1m17.5-.9h.1m21.2-.8h.1m7.7,1.2h.1m7.1,.7h.1m15.4-2.1h.1m13.5,1.4h.1m1.2-.2h.1m8.1,.5h.1m.2-1.3h.1m44.5,1.5h.1m3-1.1h.1m4.3,1.4h.1m18.5-1.7h.1m53.1,.8h.1m-233.3,1.7h.1m4.4,1.1h.1m23.3-1.1h.1m16.3,1h.1m1.4,1.4h.1m23-2.8h.1m.5,.3h.1m1.8,1h.1m14.4-1h.1m.4,.7h.1m13.3,.6h.1m.6-.9h.1m.2,.6h.1m1.5,1.1h.1m0-2.1h.1m.2,1.5h.1m.1,.5h.1m.5,.5h.1m8.2-.9h.1m5.7-.1h.1m23.2-1.3h.1m.8,1.9h.1m17.6-2.1h.1m2.1,1.1h.1m19-.9h.1m54.9,.9h.1m3.1,1.2h.1m12.6-.2h.1m-259.4,2.4h.1m-.1,.4h.1m.1-.3h.1m5,0h.1m17.6-1.6h.1m21.3,.1h.1m.5,.1h.1m8.8,.7h.1m7.4,1.6h.1m1.9-1.4h.1m16.6-.6h.1m.3,.6h.1m13.8-.6h.1m4.9,1h.1m2.1-1.5h.1m10,.2h.1m.1-.6h.1m.8,1.5h.1m126.9,.6h.1m6.8-.4h.1m.9-.7h.1m-235.3,3.3h.1m16.7-.3h.1m1.6,0h.1m1.1,1.4h.1m.1-1.1h.1m.7,1.5h.1m.1-.5h.1m23.6,.6h.1m38.1-.2h.1m36.9-1.8h.1m2,2h.1m23.8-1.4h.1m15.9,.5h.1m0,0h.1m1.4-.5h.1m0,.9h.1m23-1.4h.1m5.1,.9h.1m-204.4,3.2h.1m3.1,.8h.1m1.7-.9h.1m1.9,.7h.1m29.5-2.7h.1m4.7,2.4h.1m.8-2.4h.1m16,0h.1m2.4,1.4h.1m.8-.9h.1m1.6,2h.1m1.1-.1h.1m14.1-.9h.1m3.9-.1h.1m1.9,.6h.1m10.9-.1h.1m.2-.5h.1m.5,1h.1m1-.2h.1m.4-1h.1m.3-.2h.1m47.8,1.8h.1m2.7-.4h.1m6.1-1.4h.1m0,1.4h.1m.4-1.6h.1m.2,.6h.1m2-1h.1m3.6,2.1h.1m7.5-1h.1m9.9,.3h.1m2.4-.6h.1m18.9-1.2h.1m.6,1.5h.1m24,1.4h.1m2.6-2.4h.1m.6,.6h.1m29.7,1.3h.1m-260.4,1.5h.1m3-.1h.1m39.1,.1h.1m.4,1.5h.1m.4-.2h.1m0-1.3h.1m1.4,1.2h.1m12,.8h.1m10.7-2.4h.1m.2,.9h.1m1.3-.1h.1m.4,1h.1m.5-1.7h.1m17.1,2.1h.1m10.8-1.7h.1m1.3-.8h.1m.2,1.2h.1m.2-1.4h.1m.8,1.2h.1m.5,.8h.1m0-.6h.1m1.9,.1h.1m10.9,.1h.1m-.1-.2h.1m15.5,1.5h.1m1.2-2.1h.1m.4-.1h.1m33.4,.3h.1m-.1,1.6h.1m2.9-.1h.1m34,0h.1m.9-2h.1m.1,.4h.1m-.1,1.5h.1m.6-1.4h.1m.3-.5h.1m32.4,1.2h.1m1.1,.5h.1m.9-1.2h.1m.9,0h.1m16.5,.8h.1m.4-1.7h.1m-246.9,4.9h.1m31.6-2h.1m9,.9h.1m54.5-.9h.1m24,2h.1m2.1-.3h.1m32.4-1.4h.1m5.2,2.1h.1m14.1,0h.1m.4,.4h.1m20.8-1.5h.1m.9,.2h.1m3,.8h.1m13.9-.3h.1m16.5-1.7h.1m-223.8,3.4h.1m2.8-.3h.1m2.1,1h.1m20.4,.1h.1m27.2-1.1h.1m15.5,2.4h.1m34.5-.9h.1m12.9-1.6h.1m28.3,1.9h.1m-.1-2h.1m2.5,1.7h.1m4.9-1.4h.1m12.9,1h.1m3.2-1h.1m2.5,.7h.1m0,1h.1m.4-1.7h.1m26.8-.5h.1m-155.1,5.1h.1m40.1-1.6h.1m11.2,1.4h.1m10.9-1h.1m40.2-.2h.1m9,.3h.1m0,1.5h.1m.2-1.8h.1m14.7-.2h.1m.7-.5h.1m1.6,0h.1m.4,1h.1m1.9-.2h.1m2,1.1h.1m.3-.1h.1m.8-1.1h.1m.7-.3h.1m.2,2.1h.1m.4-1h.1m.3-.5h.1m.4,1.9h.1m12.4-2.5h.1m19.2,1.1h.1m24.3,.6h.1m.7-.6h.1m0,1h.1m1.5,.4h.1m.8-1.4h.1m0,.4h.1m-227,3.2h.1m9.6-1.8h.1m.4,1.7h.1m7.1-1.1h.1m2.7,.2h.1m7.2,0h.1m1.6,.1h.1m1.5,.8h.1m3.8-.1h.1m4.7,.7h.1m.1-.4h.1m16-1.7h.1m.9,1.7h.1m.3,.3h.1m25.9,.2h.1m20.4-1.2h.1m18.4,.7h.1m19.1,.2h.1m1.9-1.8h.1m1.3,1.9h.1m.4-1.5h.1m23-.5h.1m1.3,.3h.1m1.9,.1h.1m21.3,0h.1m17.4,2h.1m8.4-.3h.1m4.7-1.5h.1m.5-.1h.1m1-.1h.1m0,2h.1m.5-2.4h.1m-258.1,4.5h.1m8.1-1.9h.1m0-.1h.1m.9,.1h.1m1.4,2.4h.1m.3,.1h.1m.3-.3h.1m.3-1.2h.1m.2,.8h.1m0,1h.1m1.1-.8h.1m1.4,.5h.1m.2-.2h.1m47.3,0h.1m.9,.3h.1m8.8-1.3h.1m11.3-.5h.1m3,.6h.1m1.7,1h.1m1.2-.5h.1m.8-.7h.1m22.4,1h.1m1.1,.2h.1m15.3-2.1h.1m51.9,1.1h.1m11,.6h.1m.3,.4h.1m1.6,0h.1m7.3-1.7h.1m.6-.2h.1m5.9-.4h.1m1,.4h.1m.9,1.8h.1m38.7-2.2h.1m-250.2,3h.1m14.8,1.2h.1m3.7,1.5h.1m1.6-2.5h.1m.5,1h.1m40.9,1h.1m31.9,.1h.1m.2-.1h.1m.9,0h.1m3.4-.2h.1m1.5-1.8h.1m3.4,1.4h.1m11.2-1.1h.1m.2,.5h.1m1.3-.3h.1m1.6,.5h.1m43.4,.5h.1m4.9-.1h.1m1.2-.9h.1m4.9,1.5h.1m18.6-2h.1m2.2,1.3h.1m2-.9h.1m17.3-.8h.1m31.7,2.9h.1m-228.9,1.1h.1m1.5,.9h.1m.1-.9h.1m1.5,0h.1m2.5,1.8h.1m.3-1.4h.1m.4-.6h.1m0,.8h.1m.9-.6h.1m.9,.8h.1m1.2,.5h.1m1.1,.6h.1m1.9-.7h.1m2.1-.9h.1m25.3,1.1h.1m2.9,.1h.1m20.8-2.4h.1m12.3-.1h.1m2.6,.4h.1m3.9,1.5h.1m19.4-.3h.1m-.1,1.3h.1m.1-1.5h.1m1.1,1.4h.1m2.4-2.8h.1m2.4,.1h.1m7.2,.4h.1m11.3-.5h.1m15.2,.4h.1m14.6,1.8h.1m10.2-1.4h.1m2-.6h.1m9.3,2.7h.1m1.4-2h.1m1.6,1h.1m18.4-.9h.1m.5-.5h.1m3,2.2h.1m1.5-.7h.1m.2,.1h.1m9.2-1.1h.1m11.8,0h.1m-233.3,2.7h.1m15.3,2.2h.1m.5-.2h.1m17.2-.3h.1m2.1,.1h.1m13.5-2.5h.1m.3,1.4h.1m2.1,.6h.1m.6,0h.1m3.6,.3h.1m.2-.9h.1m32.4,.1h.1m2.2,.4h.1m0,.1h.1m.6-.4h.1m2.1,1.2h.1m13.6-1.5h.1m.2-.9h.1m1,1.8h.1m2.9-.3h.1m.9-.5h.1m.4,1.4h.1m13.2-2.8h.1m23.3,2.6h.1m.1-.2h.1m.4-.9h.1m36.9-.5h.1m-.1-.5h.1m.2,.8h.1m.7-1.2h.1m20.8,.9h.1m1-.8h.1m5.8,2.7h.1m15.9-.4h.1m-243.7,1.5h.1m0-.5h.1m1.9-.1h.1m14.4,.7h.1m.4,1.2h.1m9.9,.2h.1m1.1-2.1h.1m.8,.5h.1m.3,1.1h.1m15.4-1.5h.1m1.9,.9h.1m24.6,1.1h.1m30.1-2.4h.1m11.5,2.3h.1m3.1-1.9h.1m3.4,1.7h.1m2.2-1.2h.1m.2,.8h.1m.2-.4h.1m0-1.1h.1m.3,2.6h.1m22.1-1h.1m10.6-1.5h.1m7.9,.2h.1m12,1.6h.1m16.6-1h.1m8.6-1.1h.1m4.3,2.7h.1m18.4-1.4h.1m2.6-.9h.1m-224.6,2.6h.1m3.4,.9h.1m14.2-.2h.1m.9,1.8h.1m26.2-2.1h.1m1,1.9h.1m.1,0h.1m-.1-2h.1m.2,1.1h.1m21-1.3h.1m1,0h.1m.8,.1h.1m45.1,2.6h.1m5.8-2.9h.1m2,1.4h.1m1.5,1.3h.1m.6-1.2h.1m.6,0h.1m.4,.9h.1m37.4-2.3h.1m0,.3h.1m14.7,.7h.1m5.6-.6h.1m2.5,1.5h.1m1.3-.1h.1m12.6-1.4h.1m1.5,.6h.1m1.5,.4h.1m1.1,.3h.1m14.2-1.4h.1m.3,1.4h.1m2.5-1h.1m.8,1.9h.1m.3-.7h.1m2.2,.2h.1m1.6-.3h.1m23.6-1.4h.1m.4,.9h.1m-257.7,4.2h.1m.7-.6h.1m.4-.5h.1m2,1.4h.1m47.3-2.5h.1m.7,.8h.1m.2-.8h.1m1.9,2.1h.1m.4-2.5h.1m.2,0h.1m.7,2.9h.1m23.5-2.4h.1m3,1.7h.1m27.7-1.9h.1m9.4,2.6h.1m10.6-1.5h.1m.4,1.5h.1m3-2.9h.1m37.6,.2h.1m22.3-.1h.1m1.6,2.4h.1m1.3-.5h.1m27.5-2h.1m1.3,1.8h.1m4.6-1.5h.1m3.9-.2h.1m1.4,.9h.1m3.9,1.5h.1m4.9,.2h.1m-241.7,1.2h.1m.4,1.5h.1m.3-2h.1m1.5,1.1h.1m.1,1.1h.1m2.6,.3h.1m4.3-.5h.1m2.1-1.5h.1m42.3,.7h.1m.9,.2h.1m.9-1.3h.1m0,1.4h.1m1.6,0h.1m5,.1h.1m4.5-.8h.1m11.5-.1h.1m1.8-.2h.1m13.7-.6h.1m19.6,1.7h.1m79-.9h.1m3.3,.1h.1m.4-1.1h.1m38,.6h.1m1.3,1.2h.1m1.4,.3h.1m1.4,.7h.1m1.3-2.1h.1m-243.1,3.2h.1m3.1-.6h.1m.9,.5h.1m2.1-.4h.1m1.5,1.3h.1m.3,.1h.1m.7-.6h.1m.9,1.4h.1m.4-1.9h.1m21.9,1.6h.1m1-1h.1m.9,0h.1m10-1.1h.1m.4,2.3h.1m52.4-.1h.1m14.3-1.8h.1m2.6,1.8h.1m.4-.5h.1m.3,.2h.1m14.2,.3h.1m35.6,.2h.1m75.3-1.9h.1m5,1h.1m-240.2,1.5h.1m1.2,.4h.1m.1,.5h.1m1.1,.3h.1m.4,.2h.1m.1-1h.1m30-.4h.1m7.1,1h.1m1.6-.6h.1m.7,1.1h.1m8.2-1.1h.1m12.6-.1h.1m14.6-.1h.1m15.1,.7h.1m24.7-.2h.1m18.2,1.4h.1m9.8-.5h.1m35.6,.8h.1m19-.1h.1m2.6-1.5h.1m30.5-1h.1m10.4,.5h.1m2.1,1.3h.1m0,0h.1m1.8-1h.1m-249.3,2.2h.1m46.5,2.8h.1m.1-.4h.1m.2,.4h.1m19.4,0h.1m60-2.7h.1m8.4,1.1h.1m24.8-.2h.1m.1-.8h.1m3.3,1.6h.1m9.8-1.2h.1m9,1.2h.1m15.3,.7h.1m-.1-.1h.1m3.3-.7h.1m21.7-.9h.1m-227.7,3.3h.1m25.3-.8h.1m1.7,2.3h.1m22.1-2.2h.1m48.5,.3h.1m3.4-.3h.1m.1,.8h.1m1.4,1h.1m1.3-.8h.1m44.3,.7h.1m0-.1h.1m16.3-1.3h.1m2.2,1.6h.1m31.4-2.2h.1m-185.8,4.9h.1m0-.6h.1m.1,1.4h.1m.6-2.4h.1m0,1.9h.1m.7-.4h.1m11.7-1h.1m2.5-.5h.1m5.1,1.6h.1m19.7,0h.1m-.1-.5h.1m21.2-.1h.1m5.5,1.4h.1m12.8-.7h.1m55.6-.4h.1m17.9-1.2h.1m1-.6h.1m1.6,2.5h.1m.1-1.1h.1m31.4-1h.1m2,1.5h.1m20.5,.1h.1m.2,.9h.1m-210.7,1.6h.1m.6-1.5h.1m.7,2.5h.1m.1-2.5h.1m.6,1.1h.1m.1,1h.1m7.5-1.1h.1m.9-.5h.1m14.9,1.9h.1m7.2-2.4h.1m32.5,1.3h.1m-.1,.9h.1m25.6-.5h.1m.7,.2h.1m4,.6h.1m.3-.4h.1m8-.1h.1m17.9-.3h.1m33.7-1h.1m3.5,2h.1m11-.7h.1m1.8-1.4h.1m12.8-.6h.1m16.2,1.4h.1m7.2-1h.1m1.7,2h.1m.2-1.5h.1m.2,.1h.1m-161.9,2.6h.1m15.3,0h.1m.4,.5h.1m2.5,.8h.1m1.5-1h.1m.2,2h.1m.1-.6h.1m1.2,.5h.1m.7-.7h.1m.8,.2h.1m.7,0h.1m-.1-.7h.1m2.4,.2h.1m-.1-.7h.1m21-.7h.1m1,.2h.1m.5,.3h.1m.1,.5h.1m8.2-1.4h.1m14.6,1.4h.1m26.1,1.5h.1m13.7-1.3h.1m1-.7h.1m.6,1h.1m0-.7h.1m36,1.2h.1m14.8-.4h.1m1.1-.8h.1m.8,1.3h.1m.1,.3h.1m-234.2,1.6h.1m21.9,1.4h.1m60.3-2.6h.1m0,.7h.1m.9,1.9h.1m1.4-.4h.1m1.3-1.5h.1m1.3,.1h.1m.4-.9h.1m0,2.6h.1m.1-2.2h.1m.7,1.8h.1m-.1-2.1h.1m0,.3h.1m.1,.9h.1m0-.7h.1m-.1,.4h.1m.8,1.2h.1m1.9-.3h.1m.6,.3h.1m45.5-1.8h.1m1.6,.9h.1m.6-1h.1m.7,.7h.1m.6,.4h.1m65.4-.4h.1m5.9,.3h.1m2.9,1h.1m.4-.4h.1m3.2,.8h.1m11.7-.9h.1m.7-.6h.1m-232,4.5h.1m3.4-1.3h.1m1,.6h.1m.5-.3h.1m15.3,.4h.1m10.3-.5h.1m2.6,0h.1m5.6-1.2h.1m.3-.1h.1m14.1,.9h.1m37-1.2h.1m4,2.1h.1m.2-.2h.1m34.5,.5h.1m33.5,.4h.1m1-.1h.1m50.8-2.5h.1m2.5,1.6h.1m.1-1.9h.1m.9,1.5h.1m.5-.9h.1m.4,1.4h.1m29.6,.2h.1m-247.9,1.7h.1m.5-.8h.1m2.2,1.7h.1m5.7,.6h.1m30.7,0h.1m14.9-2.4h.1m6.8,1.8h.1m6.4,.1h.1m11-.5h.1m15.5,.6h.1m4.6-1.1h.1m.2,1h.1m6.7-1.7h.1m.6,1.3h.1m3,1.3h.1m2.7-2.2h.1m2.4,1.1h.1m12.5-1.4h.1m14.1,.6h.1m.7,1.5h.1m.2-1.1h.1m.5,.1h.1m1.1-.2h.1m1.9-.4h.1m6.5,.7h.1m5.6-.1h.1m.5,0h.1m.1-.2h.1m.7,1.2h.1m.9,.1h.1m.1,.3h.1m-.1-2.3h.1m2.6,2h.1m.4-.5h.1m26.4-2h.1m29.9,1.1h.1m2.6,1.4h.1m3,.3h.1m3.5-.9h.1m-221.9,3h.1m.5-.2h.1m1.2-.1h.1m0-.6h.1m29.9,1.3h.1m.6,.4h.1m3.7-2.3h.1m18.7,.2h.1m1.3-.4h.1m11,1.2h.1m9.2,1.5h.1m3.9-.4h.1m10.8-2.3h.1m7.4-.2h.1m2.2,1h.1m.5-.4h.1m.7-.4h.1m0,1.1h.1m.6,.2h.1m.4,.1h.1m-.1,.9h.1m50.8-2.2h.1m.3,.5h.1m9.9-.8h.1m9.9,2h.1m.6-1h.1m11.8-1h.1m10.9,1.8h.1m14.9-1.2h.1m0,1.3h.1m12.2-1.3h.1m-221.4,3.9h.1m1.9,.3h.1m.2,.6h.1m26.6,.3h.1m15.3-1.5h.1m3.1-.1h.1m.2,.6h.1m42.6,.2h.1m3.2,.8h.1m2.3-2.2h.1m2.5,.4h.1m.8,1.5h.1m2,0h.1m12-.5h.1m3.9,.8h.1m21.6-2.7h.1m11.2,.4h.1m2.9,1.6h.1m0-1.8h.1m.1,1.8h.1m.3,.4h.1m0-1h.1m0-1.4h.1m.3,1.5h.1m.1-1.5h.1m4.8,2.9h.1m1.7-1.9h.1m6.7-1h.1m2.1,1h.1m7.3,1.5h.1m.2,.1h.1m.4,.2h.1m0-1.7h.1m-175.4,3.2h.1m1.3,.2h.1m1.6,1h.1m24.1-.8h.1m24.9,.8h.1m1-.6h.1m32.3-1.7h.1m1,1.7h.1m.3-1h.1m8.3,1.5h.1m1.9-1.5h.1m.4,1h.1m7.2-.5h.1m10.4,.3h.1m18.1,.9h.1m23.9-2.6h.1m16.3,0h.1m.6,1.6h.1m1.9,1.3h.1m15.6-.3h.1m1.1-.4h.1m4.9,.2h.1m2.8-1.7h.1m24.2,1.3h.1m.3,.9h.1m.7-.5h.1m-198.3,2.5h.1m78.6,.1h.1m82.6-1.7h.1m10.1,0h.1m.4,.6h.1m.5,1.1h.1m.1-1.1h.1m23.8,.3h.1m1.6-.4h.1m.5-.5h.1m.7,0h.1m.8,.8h.1m-222.1,2.8h.1m20.3-.6h.1m1.4,1.6h.1m.2-1.2h.1m.6-.5h.1m65.7,.7h.1m39.3-.4h.1m32.4,.5h.1m9,0h.1m32.8-.5h.1m17.9,1.4h.1m.5-.1h.1"/><path stroke="#2020f0" d="M54.2,191.5h.1m1.4,.4h.1m-.1-.4h.1m.2-1h.1m11.2,0h.1m20.2,1.4h.1m10.2-2h.1m44.9,.4h.1m.2,.5h.1m.4,.4h.1m10.3-1.2h.1m15.3,1.5h.1m18.8-.2h.1m1.1,.2h.1m2.1-1.1h.1m6.6,.9h.1m.2-.8h.1m.8,.6h.1m.5-.3h.1m12.8-.7h.1m16-.1h.1m5.1,1h.1m2.3,.3h.1m.9,.6h.1m2.3-1.8h.1m11.4,.9h.1m8.7,.7h.1m7.8-1.8h.1m1.2,.9h.1m29.7-.1h.1m1.9,.4h.1m-247.3,1.3h.1m1.8,.8h.1m0-1.1h.1m.2,.5h.1m.5-.4h.1m9,.8h.1m32.9-.6h.1m1.1,1h.1m.3-.5h.1m.6,2h.1m0-2.5h.1m.4,2.1h.1m1.4-.2h.1m9.9,.1h.1m16.5,.5h.1m12.2-2.3h.1m.2-.4h.1m1.1,1.7h.1m.1-.9h.1m2.7,1.2h.1m.2,.6h.1m10.1-.8h.1m1.4-.6h.1m10.3-.4h.1m.1,.3h.1m.3-.5h.1m0-.6h.1m10.9,1.4h.1m1.9,.8h.1m6-1.7h.1m8.9-.7h.1m.7,1.8h.1m.2-1.8h.1m0,.9h.1m.3,0h.1m1.1,1.7h.1m.1-.6h.1m.2-.9h.1m.4,1.3h.1m.3,.3h.1m.5-.3h.1m0,.1h.1m.4,.4h.1m21.6-2.1h.1m12.9,1.7h.1m12.4-2.5h.1m.2,2.6h.1m31.7-1h.1m5,.3h.1m18.6-.6h.1m-248.3,4h.1m0,.2h.1m2.4-1h.1m.7,.9h.1m-.1-1.1h.1m.2,.2h.1m1.1-.5h.1m21.9,.4h.1m24-.9h.1m.2,.4h.1m1.6-.8h.1m2.2,.3h.1m.9,.6h.1m14.4-.1h.1m1.7,1.6h.1m0-.1h.1m13.9-1h.1m13.3-1.4h.1m.6,.5h.1m.4-.1h.1m5.6,2.5h.1m6-1.5h.1m.3-.2h.1m0,1.2h.1m.9-.5h.1m.2,0h.1m4.3-1.7h.1m6.1,1.5h.1m1-.3h.1m15.8-1.4h.1m.8,2.6h.1m.2-1.4h.1m0,1.3h.1m0-2h.1m0,.4h.1m.5-.5h.1m-.1-.3h.1m.6,1.1h.1m.1,.3h.1m49,1.3h.1m.2-1.5h.1m1.1,1.1h.1m16.8-1.8h.1m.5-.5h.1m.4,2.7h.1m-214.6,.6h.1m.9-.1h.1m.9,.8h.1m1.3,1h.1m.4-1.3h.1m.9,.7h.1m-.1-.6h.1m0-.3h.1m20.9,1.6h.1m17.6-1.2h.1m15.7,1.5h.1m14.1-1.2h.1m.3-.3h.1m.3,0h.1m11.5,.9h.1m1.8,1h.1m17.5-2.9h.1m2.9,1.9h.1m2.7,1h.1m18-.9h.1m.4-.4h.1m40,.8h.1m8.7,.3h.1m2.1-2.3h.1m13.7-.1h.1m.5,1.7h.1m.1-1.7h.1m.9,2.6h.1m-.1-.7h.1m14.2,.5h.1m2.4-.8h.1m.8-1.9h.1m.6,2.4h.1m4.4,.3h.1m.3,.2h.1m21.7-2.6h.1m-250.1,3.4h.1m3.5,1.3h.1m10.3-.7h.1m.3,1.1h.1m.1-1.9h.1m.1,2.1h.1m.3-2.2h.1m.1,.3h.1m.2,1h.1m.3,.1h.1m.9,.9h.1m.5,0h.1m5.8-.7h.1m12.2-.3h.1m1,.4h.1m31.4-2h.1m13.5,1.5h.1m0-.8h.1m.9,.6h.1m12.4-.5h.1m.9,.5h.1m17.8-1.1h.1m2.4,0h.1m-.1,1.5h.1m1.9-1h.1m1.2,2.1h.1m-.1-2h.1m2.2,1.6h.1m17.4-.8h.1m6.5-.9h.1m7,.1h.1m1.7,.1h.1m.3,.3h.1m.2,.8h.1m22.8-1.3h.1m2,1.8h.1m.1-.1h.1m22.4-1.7h.1m1.4-.2h.1m.4,.9h.1m0,1.3h.1m.4-.7h.1m.8-.6h.1m2.4-.8h.1m14.2-.6h.1m2.6,2.2h.1m5.9,.1h.1m-217,2h.1m1.4,.8h.1m1.3,.7h.1m18.1-2.4h.1m.7,2.3h.1m-.1-1.5h.1m.8,1h.1m.1,.2h.1m.7-1h.1m.3,.9h.1m21.7,.5h.1m2-.4h.1m2.9,.2h.1m9.3-.8h.1m5.7-.5h.1m21.6-.8h.1m-.1-.6h.1m0,.9h.1m.8-.7h.1m1.3,2.3h.1m0-.3h.1m.1-.8h.1m14.6,1.4h.1m.9-1.5h.1m0-.8h.1m.1,2.4h.1m34.2-.7h.1m.2-.5h.1m.4,1.2h.1m0-2.4h.1m.4,2h.1m0-1.3h.1m-.1,1.5h.1m21.9-1.6h.1m1-.1h.1m1.5,1.5h.1m23.6-2.3h.1m.7-.1h.1m.1,.4h.1m.4,2h.1m20.3-2h.1m7.8,2h.1m0-1.1h.1m.2,.5h.1m.2,.6h.1m12.8-.7h.1m-230.9,2.6h.1m.1,.6h.1m0-1.2h.1m.1,1.9h.1m0-.9h.1m.1-.8h.1m1,1.4h.1m17.4-.4h.1m.1-.6h.1m.2,.6h.1m.1-.1h.1m.3,.6h.1m.2-1.1h.1m0,.3h.1m.2,1.1h.1m.1-1.8h.1m16.5-.3h.1m.5,1.8h.1m4.3-1.6h.1m.2,.3h.1m2.6,.3h.1m22-.4h.1m4.7,1.1h.1m1.1-1.4h.1m.6-.3h.1m1.1,2h.1m1.4,0h.1m8.6-1.2h.1m17.3-.9h.1m15,1.8h.1m20.3-2h.1m0,1.3h.1m1,.3h.1m1.7-.2h.1m16.1,1.2h.1m7.5-1.6h.1m2.2,1.7h.1m1.6-.4h.1m6.9-.3h.1m11.3-1.8h.1m.3,1.3h.1m.9-1.3h.1m17.8,1.9h.1m11.5-1.8h.1m.7,.9h.1m10.2,1.2h.1m0-2.3h.1m-.1,.2h.1m0,.6h.1m.9,.6h.1m.4-1.1h.1m0,0h.1m.3,.2h.1m4.3,1.1h.1m-237.7,2.1h.1m1.9,1.9h.1m1.1-1.4h.1m62.8-1.5h.1m12.5,2.5h.1m9.3-1.5h.1m16.4,1.1h.1m-.1,.4h.1m.1-2.5h.1m.1,.8h.1m.7-.3h.1m0-.5h.1m0,1.5h.1m.5-.3h.1m.2,1.6h.1m12.1-1.2h.1m16.8,.5h.1m44.5-2h.1m9.6,.5h.1m-.1,.8h.1m.6,.6h.1m.7,.5h.1m.2-.7h.1m29.2,.2h.1m.4-1.9h.1m13.4,1.3h.1m.4,1.5h.1m0-.4h.1m.2-2.2h.1m1.2,0h.1m-259,3.1h.1m.5,2.5h.1m.3-2h.1m.3,1.2h.1m.2-.7h.1m23.1-1.4h.1m0,.5h.1m-.1,.3h.1m.1-.4h.1m.6,1.1h.1m27.5-.6h.1m19.2,.6h.1m11.1-.1h.1m2.5-.9h.1m12.3-.1h.1m.9,1.4h.1m-.1-.8h.1m6.9,1h.1m17.8,.5h.1m1.4-2h.1m0,2.3h.1m1.9-2.4h.1m9.7,1.8h.1m39.9,.3h.1m.4,.4h.1m13.7-.5h.1m21.4,.5h.1m.3-2h.1m14.8-.9h.1m13.3,.3h.1m.3,.6h.1m.3-.9h.1m1.2,2.7h.1m.4-2.2h.1m0,1.9h.1m.4-1.3h.1m-.1-.7h.1m1.9,1h.1m2.2,.2h.1m6.7-.4h.1m.3-.6h.1m.7,.9h.1m.7-1.5h.1m.6,1.1h.1m.5-.3h.1m0,1.6h.1m-260.6,1.3h.1m-.1-.7h.1m1,.2h.1m.3,.4h.1m.6,.8h.1m.1-1h.1m23.6,0h.1m1.3,1h.1m.3-.9h.1m0,1.4h.1m0-1.1h.1m.8,1.7h.1m.4-1.5h.1m0,1.2h.1m28.8-.6h.1m1.4-.2h.1m.8,1.5h.1m1-.1h.1m1.9-1.5h.1m4.9-.7h.1m.9-.1h.1m1.7,1.9h.1m8.3,0h.1m2.2-.6h.1m5.8-.3h.1m2.3,1.4h.1m17.5-.2h.1m21-2.3h.1m2.9,.5h.1m5.5-.5h.1m10.3,2.5h.1m42.8-1.5h.1m1.9-.3h.1m1.9,1.6h.1m18.8-2.7h.1m9.1,2.3h.1m1.3-1h.1m4.4,1.6h.1m14.4-2.7h.1m.1,.8h.1m2-.7h.1m.1,1.7h.1m2.4,.4h.1m-247.8,.9h.1m.5,.5h.1m6-.7h.1m.6,.2h.1m.9,.5h.1m1.6,.4h.1m.3-1.1h.1m17.7,.8h.1m3.7,1.2h.1m2.8-.1h.1m24.2-.2h.1m1.4-1.6h.1m1.9,2.1h.1m0,.3h.1m2.1-2.2h.1m1.5,1.3h.1m80.4-.6h.1m1.5,1.8h.1m.1-.8h.1m0-1.3h.1m-.1,.5h.1m0,1.2h.1m0-1.6h.1m.4,1.5h.1m14.7-2.3h.1m13.1,.2h.1m11.5,1h.1m2.2-.8h.1m.7-.5h.1m-.1,.4h.1m.3,.5h.1m1,.2h.1m.7,.2h.1m7,.6h.1m26.3-.5h.1m1.4,.1h.1m3.2-.1h.1m1.6,1.2h.1m9-.7h.1m0-1.9h.1m-233.6,3.6h.1m22.9-.5h.1m.3,.5h.1m1.1,.3h.1m-.1,.5h.1m0,.6h.1m.2-.1h.1m26.6,.6h.1m0-1.2h.1m.3-.3h.1m.5-1h.1m0,1.4h.1m.7,1h.1m1.1-1.7h.1m.6,.8h.1m5.1,.9h.1m34.9-.2h.1m1.4,.2h.1m40-2.3h.1m1.5,.3h.1m.6,1h.1m.3-1.4h.1m.3,2.1h.1m26.6-2.1h.1m2.7,1.5h.1m15.7-.8h.1m1.4,1.4h.1m-.1-1h.1m0-.8h.1m.1,2.2h.1m.5-.2h.1m.2-.6h.1m.8-1.7h.1m1.4,.7h.1m9.4,1h.1m22.4,.3h.1m2.7-1.6h.1m18.9,1.7h.1m.9,.3h.1m.9-.9h.1m-246.6,2.5h.1m.8,1h.1m0,.4h.1m1.1-.9h.1m.8,.5h.1m23-1h.1m4.8,0h.1m23.2-.2h.1m1.5,.2h.1m7,1.7h.1m19.3-1.6h.1m12.8,1.4h.1m.6,.4h.1m.1-1h.1m8.8,.1h.1m37.3-.5h.1m11.6,1.4h.1m-.1-1.8h.1m1.9,1.8h.1m6.3-1.4h.1m12.2-1.1h.1m-.1,.2h.1m.6-.6h.1m0,1.4h.1m.2,1.3h.1m11.9-.3h.1m13-.1h.1m1.1-.5h.1m.1,.6h.1m.8,0h.1m20.4-2.3h.1m5.2,0h.1m3.4,2.3h.1m15.7-.5h.1m-252.2,1.5h.1m2.9,2h.1m.2-2.2h.1m1.2,.9h.1m22.4,1h.1m11.2-.2h.1m2-.2h.1m2.4-1.6h.1m.4,.4h.1m0,1h.1m.3,.3h.1m0-1.8h.1m1,2h.1m.8-.1h.1m25.3-1.4h.1m.1,1.5h.1m.7-.4h.1m.1-.4h.1m15.3,.8h.1m1.1,.9h.1m4.8-1.1h.1m8-.4h.1m1.6,.1h.1m3-.3h.1m9.8,.8h.1m3.6-.9h.1m.3-.2h.1m36.4-.9h.1m1.1,1.8h.1m4.1-1.4h.1m.4,.6h.1m2-.8h.1m14.8,1h.1m.9-.4h.1m.9,1h.1m.6,.2h.1m6.3-.1h.1m1.5,.6h.1m14-1.1h.1m1.2-.1h.1m.3-1.1h.1m.6,2.5h.1m.3,.1h.1m1-.7h.1m15.3,.6h.1m1.9-2.6h.1m10.3,1h.1m-.1,1.6h.1m0-2.1h.1m.4,1.4h.1m.2,.6h.1m.1-.2h.1m1.1,.5h.1m-246.3,3h.1m0-.4h.1m.1-.7h.1m0,.3h.1m0,.8h.1m3.4-1.6h.1m1.9,0h.1m6.8,.6h.1m.1-.5h.1m.1-1.1h.1m.1,1.1h.1m8.3,.7h.1m-.1-1.9h.1m1.7,2.4h.1m12.1-1.2h.1m18.2-.4h.1m.2,1.2h.1m-.1,.4h.1m.3,.2h.1m.1-.9h.1m.2-.8h.1m.8,.9h.1m.6,.8h.1m0-.1h.1m21.7-1h.1m.4,.6h.1m-.1-1h.1m.1,1.3h.1m1.2,.2h.1m13.4-1.5h.1m.6,1.3h.1m3.6-.1h.1m14.3-1.9h.1m1.1-.1h.1m15.5,1h.1m.3,1.4h.1m18.2-.4h.1m21.7-1.6h.1m17.3,1.1h.1m.2-.4h.1m.4-.1h.1m.5,0h.1m0-1.3h.1m-.1,1.8h.1m-.1-1h.1m1,.2h.1m5.4,1.6h.1m.8-.8h.1m.5,.5h.1m13.9-1.5h.1m5.3,1.5h.1m0-1.2h.1m.3-.4h.1m.4,.6h.1m11,.7h.1m16.5-.7h.1m.2,1h.1m.8-1.5h.1m.4-.5h.1m0,1.5h.1m.4-1.4h.1m0,1.8h.1m-249.3,3.4h.1m.5-1.1h.1m.9-.7h.1m11.8-.1h.1m29.8,.6h.1m12.5-.6h.1m.7,1.1h.1m.4-2h.1m.1,.9h.1m0,2h.1m.4-.5h.1m0-1.1h.1m.1-.8h.1m.6,.4h.1m.5-.4h.1m33.9,1.3h.1m.1-1h.1m0,1.3h.1m1.9-.3h.1m36.6-.1h.1m40-.7h.1m25.1-.1h.1m.6,.3h.1m-.1-.7h.1m1.8,.9h.1m0,.7h.1m19.3-.6h.1m.4-.5h.1m.4,.6h.1m27.5-1.6h.1m1.8,.8h.1m0,1.7h.1m.3-.7h.1m-248.9,3.5h.1m1.2,.2h.1m1-2.1h.1m.3,1.9h.1m.2-1.4h.1m.6,1.5h.1m.8,0h.1m.2-.3h.1m1.7-2.1h.1m1.4,2.6h.1m1.7-.9h.1m.7-.7h.1m22.2-1h.1m.7,2.9h.1m.3-2.4h.1m.8,.9h.1m1,1.3h.1m19.9,.2h.1m5.8-2.3h.1m.9,1.8h.1m1.8,.5h.1m.6-.1h.1m12.4-.3h.1m1.3-1.6h.1m2.5,0h.1m7.6-.5h.1m4,.1h.1m1.1,2.4h.1m.1-1.5h.1m2.4,0h.1m14.6,.1h.1m0-1.2h.1m4.6,2.2h.1m19-2.4h.1m10.5,2.7h.1m5-2.4h.1m.8,1.5h.1m.8,1h.1m10.2-.5h.1m4.7,.4h.1m8.4-2.3h.1m19.9,.3h.1m1.5-.7h.1m.3,1.3h.1m.4-.4h.1m-.1,.9h.1m.6,.5h.1m1.5-2.4h.1m.7,2.6h.1m0-2.5h.1m16.3,.4h.1m1.6,2.4h.1m2.3-1.4h.1m3.6-.1h.1m4.1,1.4h.1m3.5-2h.1m.2,.9h.1m.6,1h.1m14.5-1.3h.1m.2,.5h.1m-.1,.1h.1m1.4-.7h.1m1.3,1.3h.1m0-.2h.1m1.9-.4h.1m1,.5h.1m-259.8,2.4h.1m1.4,0h.1m.4,0h.1m-.1-1h.1m.5,.5h.1m.3-1.1h.1m.8-.1h.1m.3,1.3h.1m1.8,.5h.1m.5-.1h.1m.1-1.1h.1m0,.1h.1m-.1-.9h.1m-.1,2.4h.1m.4-1.4h.1m0,1.8h.1m-.1-1.8h.1m.8,1h.1m.7-.6h.1m32.5,.6h.1m.3-1.5h.1m1.5,1h.1m26.5-.6h.1m1.9,.5h.1m11.5-1.3h.1m15.9,1.5h.1m1.2,.1h.1m7.1,.7h.1m1.8,.2h.1m5.3-.6h.1m0-.3h.1m.4,1h.1m.8-.5h.1m.1-1.8h.1m.2,2.3h.1m40.9-.9h.1m.9-1.5h.1m.4,.6h.1m.9,2h.1m-.1-.5h.1m.7-.1h.1m2.7,.2h.1m35.8-.8h.1m2.5-.7h.1m0-1h.1m.7,1.8h.1m.4,.7h.1m.6-1h.1m.6,.9h.1m.1-.2h.1m16.4-2h.1m1.1,.2h.1m.1,1h.1m.1-.6h.1m2.5,1.2h.1m6.3-.7h.1m3.2-.3h.1m1.4-.8h.1m0,1.8h.1m.2-.6h.1m.5-.4h.1m0,.9h.1m.1-.9h.1m.9,1.6h.1m15.5-2.1h.1m.5-.4h.1m.5,.3h.1m1.5-.4h.1m.6,1.1h.1m.1,1.4h.1m-253.3,1.2h.1m0,.2h.1m.5-.1h.1m.9,.3h.1m-.1,.3h.1m.5,1h.1m.7,.1h.1m-.1-2h.1m-.1,.5h.1m.2,.5h.1m.2,.8h.1m.4-.3h.1m-.1-1h.1m-.1-.5h.1m3.8,.9h.1m-.1-.1h.1m4.1,1.1h.1m2.2-2.4h.1m24.3,.8h.1m7.5,1.6h.1m33.9-.6h.1m24.5-.7h.1m3.6-.5h.1m.3-.1h.1m.9,.9h.1m.1-1.3h.1m0,.9h.1m.3,1.5h.1m.4-2.4h.1m1.1,1.8h.1m11.7,.4h.1m17.6-1.4h.1m.2-.7h.1m.2,.7h.1m0-.4h.1m.1,1h.1m.8,.4h.1m.3,.6h.1m9.2-1.6h.1m.7,.6h.1m.4-1.3h.1m.7,1.4h.1m8.3-1h.1m12.9-.5h.1m.9,.9h.1m13.7,1.5h.1m6-2h.1m.7,0h.1m1,0h.1m.1,.9h.1m.5-.7h.1m.3,1h.1m.1,.3h.1m-.1-.5h.1m1.2,.3h.1m.7,.1h.1m6,.5h.1m7.9-.9h.1m1.3,.1h.1m16.1-.9h.1m.3,1.5h.1m1.5-.4h.1m-244.5,1.7h.1m.8,1.7h.1m.3,.4h.1m8.5-2h.1m.3,.8h.1m0,.6h.1m.5-1.5h.1m.1,1.9h.1m.3,0h.1m.1-.2h.1m9.5-1.5h.1m2.7,.4h.1m2,.8h.1m.7,.6h.1m15.8-1.5h.1m43.5,.1h.1m33.2,1.5h.1m-.1-1.7h.1m0,.7h.1m.1,.8h.1m0-2.4h.1m.2,.6h.1m0,1.8h.1m.2,.1h.1m.7,0h.1m0,.4h.1m.5-1h.1m7.6-.9h.1m2.5-.5h.1m.4,.1h.1m.5,0h.1m-.1,.4h.1m-.1-.9h.1m.1,.6h.1m11.2,.7h.1m5.8,1h.1m0-1.8h.1m-.1,.5h.1m0-.9h.1m.3,.6h.1m.4,1.5h.1m10.1-2.1h.1m2.6,1.2h.1m5.4-1.4h.1m0,.4h.1m.4,.3h.1m12.3,1h.1m2.1,.2h.1m.6-.9h.1m.4,.9h.1m2-.3h.1m.6,.8h.1m8.3,.3h.1m12.4-2.2h.1m0,0h.1m.4-.2h.1m.3,.2h.1m8.3-.5h.1m5.8,1.9h.1m5.5,1h.1m22.5-2.2h.1m-254.7,3.4h.1m1.5,1.1h.1m.7-.1h.1m23-2.1h.1m4.7,2.5h.1m.5-.2h.1m1.1,.6h.1m.5-.5h.1m9.6,.5h.1m10.6-1.1h.1m1.3-.4h.1m.3-.6h.1m-.1,.7h.1m2,.2h.1m13,.6h.1m52.2-2.2h.1m1.2,2.6h.1m9.8-2.3h.1m.9-.3h.1m.1,1.2h.1m1.9,1h.1m14.3-1.9h.1m.3,1.4h.1m1.3-.2h.1m.3-.6h.1m.3-.3h.1m0,1h.1m.2,.2h.1m-.1-1h.1m6.5,1.5h.1m1.6-1.8h.1m2,.5h.1m9.4-.7h.1m1.3,.2h.1m.1,2h.1m.3-.1h.1m1.8-1.3h.1m.7,.5h.1m10.7-.8h.1m.7-.4h.1m.4,1.5h.1m.3,0h.1m.2-1.5h.1m-.1-.1h.1m.4,.1h.1m4.9-.4h.1m1.2,1.3h.1m.1,1h.1m.3-.5h.1m.8-.9h.1m1,1h.1m24-.7h.1m1.8,1.3h.1m.3-1.1h.1m.6,.7h.1m-.1,.6h.1m.5-.5h.1m0-.9h.1m13.6,0h.1m10.5-.5h.1m-244.5,2.9h.1m2.4,1.9h.1m15-2.3h.1m3.6,.5h.1m.4-.4h.1m1.2,0h.1m.3,2h.1m.1-2.5h.1m.7,.9h.1m.7,.6h.1m.4,.8h.1m21.2-1.9h.1m8.2-.4h.1m6.2,2.4h.1m0-1.3h.1m.7-.6h.1m.2,2h.1m0-1.1h.1m.5-.3h.1m15.4,.1h.1m.7,.7h.1m.9,1h.1m0-1h.1m23.2,1h.1m1.4-.2h.1m2.9-.3h.1m19.4-1.4h.1m.4,1.4h.1m15.2-1.6h.1m.7-.8h.1m.3,.9h.1m.5,.4h.1m1.7-.3h.1m5.1-.6h.1m.9-.1h.1m10.8,.8h.1m.2-.1h.1m2.1-.8h.1m1.4,.3h.1m.9,1h.1m.8-.3h.1m12.4,.7h.1m7.1-1.4h.1m1.3,.1h.1m1.5,.5h.1m.8-.6h.1m0,1.6h.1m.6,.7h.1m.1-.5h.1m0-1.3h.1m.4,1.9h.1m.5-1.4h.1m4.6,1.1h.1m.3-.1h.1m.2,0h.1m.3-.2h.1m0,.5h.1m.6,0h.1m13.8-2.2h.1m1.1-.2h.1m1.2-.1h.1m.4,1h.1m.6-.7h.1m-.1,.3h.1m0,.6h.1m.2,1.1h.1m0-.1h.1m0-1.9h.1m.2-.3h.1m.1,1.9h.1m.2-2.1h.1m.2,2.2h.1m0-.6h.1m13.8,1h.1m8.5-1.9h.1m6.8,.1h.1m-253.7,2.5h.1m4.5,.1h.1m0,.9h.1m.4,.5h.1m.1-.8h.1m3.4,.8h.1m17.5,.7h.1m.3-1.2h.1m1.6,1.1h.1m.2-.7h.1m7.3,0h.1m29.5-.9h.1m3,.8h.1m10.1-.6h.1m3,1.3h.1m1.1-.9h.1m.2,.6h.1m1.6-.5h.1m20.1-.6h.1m2.8,1h.1m.3,.8h.1m0-.4h.1m.7,.1h.1m0-2.1h.1m.4,2.1h.1m7.4-.7h.1m5.4,.2h.1m7.2-1.2h.1m.2-.5h.1m.1,1.7h.1m20.7-1.6h.1m.3-.2h.1m1.2,1.9h.1m16.2-1.2h.1m.8,.3h.1m9.4,.2h.1m3.4-.5h.1m.9,1.1h.1m.4,.2h.1m-.1-.8h.1m.4-.8h.1m0,1.1h.1m.5-1.2h.1m.8,1.3h.1m.5,.7h.1m9.3-2.1h.1m7.1,1.1h.1m.2-.2h.1m.1-.7h.1m.1,2h.1m.2-.7h.1m.2,.9h.1m.6-.2h.1m16.7-2.5h.1m-.1,1.1h.1m.2,.3h.1m.1,0h.1m.4,.9h.1m.4-.4h.1m0,0h.1m0-.6h.1m.3,1.5h.1m14.2-1h.1m-246.5,1.9h.1m12.7-.8h.1m2,1.4h.1m.4-.6h.1m.3,1.1h.1m3.9,1h.1m0-.8h.1m.4,.8h.1m1.8-1.4h.1m13.3-.1h.1m.7,.6h.1m1-1.3h.1m2,1.7h.1m1.9,.1h.1m15-.1h.1m17.1-1.8h.1m8.9,1.3h.1m1.3-1.6h.1m1,2.1h.1m7.4-1.7h.1m2.2-.7h.1m.1,.8h.1m.8,2.1h.1m2.2-.9h.1m3.3-.3h.1m.7-1h.1m.5,1.7h.1m12.9-.9h.1m.2-.7h.1m.1-.4h.1m.5-.3h.1m.2,.8h.1m1.8,2h.1m0-.3h.1m4.4-.2h.1m3.4-.4h.1m11-1.4h.1m2.3,2.3h.1m4.4-1.8h.1m2.1,.2h.1m0-.8h.1m11.6,.5h.1m.5-.5h.1m.4,1.3h.1m3.6-.2h.1m22.7,.3h.1m1.8-.2h.1m1.3-1.3h.1m0,1.1h.1m-.1-.7h.1m0-.1h.1m.4,.3h.1m.9,.4h.1m1.4,.7h.1m.7-.1h.1m.5-1.9h.1m.4,1.4h.1m.7,.5h.1m.2-.3h.1m.5-.2h.1m14.9,.3h.1m.3,.1h.1m.6,.7h.1m0-2.5h.1m.1,2.2h.1m1.6,.6h.1m5.5-1.1h.1m9.5-1.4h.1m.4,1h.1m1.4,.4h.1m1.1,.7h.1m9.8-2.1h.1m2.5-.2h.1m8.1,2.3h.1m.6-.5h.1m-254.9,3.4h.1m.7-.6h.1m14.3-1.2h.1m.5-.4h.1m.9-.2h.1m.1,2.4h.1m1.6-.7h.1m1.9-1.3h.1m3.5,2.2h.1m6.3-1.9h.1m10.5-.6h.1m.2,.9h.1m.1,0h.1m.5-.6h.1m2,2.3h.1m35.3-.2h.1m14.3-.9h.1m5.5,.9h.1m.6,.4h.1m.1-.5h.1m.4-.8h.1m18.9-1.5h.1m0,1.5h.1m.6-.1h.1m0-.5h.1m.4,1.4h.1m11.5-.8h.1m2.4,.8h.1m.3-1.2h.1m1.7,1.5h.1m1.2-2.5h.1m.8,0h.1m1.1,2.3h.1m.5-.5h.1m.1-.1h.1m.7,.2h.1m.2-.1h.1m16.3-1.5h.1m2.2,.4h.1m13.2-.3h.1m20.4,.3h.1m0,1.8h.1m.3-2.1h.1m-.1,2.2h.1m.2-.5h.1m1.1-2.2h.1m.5,1.5h.1m0-1.5h.1m.1,.9h.1m.4,1h.1m13.5,.6h.1m.7-2.2h.1m0-.1h.1m.3,.6h.1m5.5,.1h.1m.9-.6h.1m1.9,.6h.1m.7,1.1h.1m1.2,.6h.1m7.1-2.3h.1m.1,.1h.1m.5,.5h.1m.1,.5h.1m.7,.2h.1m.4-.7h.1m8.8,.4h.1m12.2,1.1h.1m-256.3,1.4h.1m.8,1.3h.1m14.9-2h.1m3.3,2.6h.1m1-2.8h.1m7.1,.9h.1m2.6-.9h.1m13.6,0h.1m.4,1h.1m3.8,1.4h.1m4.2,.5h.1m12.1-.5h.1m8.5,.5h.1m17.9-.6h.1m10.4-1.9h.1m0,2.5h.1m.2-2.9h.1m3.2,2.9h.1m14.6-2.8h.1m1.1,.9h.1m.2,1.8h.1m0-1.7h.1m.3,1.6h.1m.4-.8h.1m.5-.3h.1m.6,.8h.1m1.8-1.3h.1m7-.6h.1m10.6,.1h.1m.2,1.4h.1m-.1-1.8h.1m.4,1.9h.1m.1,.2h.1m0-2.3h.1m16.8,1.5h.1m0,1.1h.1m0-1.2h.1m.3,.4h.1m2.1-.8h.1m13.2,0h.1m.6,1h.1m-.1-1h.1m7.7-1h.1m11.3,.9h.1m1.6-.8h.1m1.3,.3h.1m1.3-.2h.1m22.8,1.9h.1m.4,.3h.1m.8-1.1h.1m.2,1.6h.1m2.9-.6h.1m2.4-.9h.1m23.8-.7h.1m0-.7h.1m0,1h.1m.3,.6h.1m.3,1h.1m.8,.3h.1m-258.5,1.2h.1m.9,1.2h.1m4.2,.4h.1m4.6-1.8h.1m.2,1.5h.1m5.5-1.9h.1m1.1,2.3h.1m.4-2.1h.1m.9-.3h.1m0-.1h.1m.1-.3h.1m.6,2.8h.1m11.2-2.5h.1m.9,2.2h.1m13.6,0h.1m2.1,.3h.1m.4-2.3h.1m.8,1.5h.1m.8-1.1h.1m23.5,1.3h.1m.3,.7h.1m15-1.5h.1m14.4-.8h.1m4.9,.9h.1m5.3,1.4h.1m7.9-1.1h.1m-.1,.3h.1m.3-1.1h.1m.3,1.5h.1m0-.5h.1m-.1-.2h.1m.4-1.3h.1m.1,1.7h.1m.6-1.7h.1m0,.9h.1m.7-.9h.1m.2,.4h.1m1.4-.9h.1m.9,2.9h.1m16.9-2.1h.1m.9,1.8h.1m.1-2.1h.1m.1,2h.1m.2-1.7h.1m.7,1.2h.1m-.1,.4h.1m.3-.6h.1m0,.1h.1m.9,1h.1m17.3-1.4h.1m1.1-.1h.1m10.3,.5h.1m11.8,.7h.1m14.7-1h.1m1.2,.4h.1m.1-1.5h.1m1.2,2.4h.1m4.3-1.9h.1m2.6-1h.1m3,2.9h.1m10.1-2.1h.1m.1,.5h.1m.2,.4h.1m.2-.2h.1m.6-.7h.1m.5,.4h.1m.5-.3h.1m.7,0h.1m25.9-.4h.1m-256.1,4.4h.1m6.9,.5h.1m6-1.6h.1m5.7-.5h.1m.5-.3h.1m13.5,1h.1m.2,1.1h.1m1,.4h.1m3.5-.6h.1m6.8-.9h.1m.8-.9h.1m3.7,2h.1m.1,.6h.1m.6-2.7h.1m1,2.7h.1m20.8-.2h.1m.8-1.1h.1m.5,1.1h.1m.3-1.1h.1m.9,.4h.1m3.4,.6h.1m2.7,.2h.1m3.2-.7h.1m.3-.1h.1m22.4-1.4h.1m18.2,0h.1m.1,1.6h.1m0-.6h.1m.8-.4h.1m.7,.1h.1m2.2,1h.1m1.2,.4h.1m.8-1.5h.1m.2,.3h.1m11.9,.2h.1m.7,1.4h.1m.2-.5h.1m.3-1.5h.1m.8,1.1h.1m.5,.5h.1m-.1-2.1h.1m22.4,2.3h.1m.9-1.8h.1m3.2-.4h.1m10.1,2.4h.1m.7-2.7h.1m1.1-.2h.1m3.1,1.5h.1m.5-.8h.1m.5,2.2h.1m1.2-.7h.1m.1-1.1h.1m.4,.8h.1m.1-1.9h.1m10.6,.9h.1m3.5,1.5h.1m1-.4h.1m.3,.4h.1m13.2-.2h.1m4-1.9h.1m3,2.3h.1m1.5,.2h.1m.9,.1h.1m12.3-.8h.1m.8-.8h.1m10.4-.3h.1m-254.5,3h.1m10.4,0h.1m2.7,1.2h.1m38-2.1h.1m19.5,.5h.1m8,1.7h.1m.4,.3h.1m.8,.3h.1m2.1-.6h.1m13.6-1.5h.1m29.6-.8h.1m0,.5h.1m1.2,.8h.1m.4-.6h.1m0,.3h.1m1.2,.3h.1m0-1.3h.1m15.9,.5h.1m1.4,0h.1m0,1.1h.1m.1-.1h.1m.2,1h.1m.3-1.4h.1m1.4-1.1h.1m32.5,1h.1m.4-.5h.1m7.8,.5h.1m1.1,1.2h.1m.2-.4h.1m.2,1.1h.1m.1-1.9h.1m0-.5h.1m.1,1h.1m1.1-.1h.1m1.5,1.4h.1m9.9-.6h.1m1.1-1.3h.1m.3,.7h.1m.2-.7h.1m.3,0h.1m.4,.2h.1m23.6-.5h.1m2.1-.2h.1m7.8,1.7h.1m1.7-1.1h.1m1.9,.3h.1m9.7-.5h.1m-257.2,4.2h.1m.8-1.1h.1m-.1,.5h.1m1.6-1.4h.1m0,1.8h.1m.3-.5h.1m1.2,.4h.1m.1-.2h.1m9.1-1h.1m.3,.9h.1m10-1.4h.1m7.9,2.3h.1m.9,.5h.1m12.4-.2h.1m.8-.4h.1m.1,.1h.1m8.8-1.9h.1m.4,0h.1m.2-.3h.1m.6,.5h.1m.4-.3h.1m.8-.1h.1m6.5,.8h.1m4.2,1.4h.1m11.7-1.9h.1m.2-.5h.1m-.1,1.1h.1m1,.4h.1m.4-1.5h.1m0,1.4h.1m.9-.1h.1m0,.1h.1m.3,1.4h.1m12.3-2.4h.1m1.4,1.5h.1m97.2-.4h.1m12.7-1h.1m.4,.5h.1m.6,1.6h.1m.1-1.8h.1m31.9-.4h.1m2.8,2.1h.1m0-2.5h.1m.5,.4h.1m11.3,2h.1m.2-2h.1m-258.9,4.1h.1m2.6-1.5h.1m4.3,1.6h.1m.8-1h.1m0,1.5h.1m.9-1.6h.1m0,2.4h.1m1.5-2h.1m-.1,1.5h.1m.8-1.6h.1m4.4,.1h.1m1,.3h.1m14.2,1.5h.1m0-2.2h.1m.8-.4h.1m3,.8h.1m4.1,1.4h.1m2.1,.4h.1m3.6,.2h.1m.9-.4h.1m.4-1h.1m.2,0h.1m.3-.5h.1m.5-.1h.1m.2,1.5h.1m.8-.5h.1m0,.6h.1m.2-.6h.1m.4,.2h.1m35.5-1.2h.1m1.8,1.1h.1m10.9-1.9h.1m.3,.1h.1m.8,.6h.1m.3,.2h.1m2.3-.4h.1m2.7,.9h.1m3.9-.4h.1m7.9-.7h.1m.2,1h.1m14.9,1.1h.1m64.3-1.5h.1m13.1,0h.1m1.8,1.3h.1m0-1.5h.1m.5,1.4h.1m1-.6h.1m.4,.9h.1m.2-.6h.1m27.8-1.2h.1m1.9-.2h.1m4.6,1.5h.1m1,.6h.1m5.6-1.7h.1m1.6,1.2h.1m-258.2,1.2h.1m.5,.6h.1m7.9,.5h.1m3.1-1.4h.1m-.1,1.3h.1m1.5-.2h.1m31,1.7h.1m.7-2.4h.1m.7,1h.1m0-1.4h.1m.3,1.2h.1m.2-.8h.1m2.6,0h.1m.3,.5h.1m.6-.5h.1m.6,.7h.1m-.1-.6h.1m1,2.4h.1m.2-.5h.1m.5-.4h.1m19.5-1.1h.1m27.6,1.8h.1m31.7-2.5h.1m1.4,2.4h.1m.4,.2h.1m9.4,.1h.1m4.9-.8h.1m.3-.8h.1m2-.9h.1m9.5,2h.1m6.8-.3h.1m16.5-1.8h.1m12.4,.7h.1m.3,1.4h.1m14.6-2.1h.1m5.9-.3h.1m5.9,2.3h.1m1.1,.5h.1m0-1.3h.1m19.7,0h.1m8.2,0h.1m1.6-.5h.1m1.8-.8h.1m0,1.8h.1m-248.4,3h.1m32.9,.1h.1m1.5-.2h.1m.1-1h.1m.5,.9h.1m.4,1.1h.1m6.5-1.9h.1m-.1-.1h.1m.8,1.1h.1m.6-.1h.1m.2-1.9h.1m.5,.3h.1m.5-.3h.1m.4,.4h.1m-.1,2.1h.1m.2-1.1h.1m.2,1.4h.1m13.7-1h.1m2.8-1.2h.1m1,.7h.1m0-.8h.1m.4-.2h.1m-.1,.1h.1m.1,1.6h.1m-.1-.7h.1m.8,1.1h.1m.3,.4h.1m10.9-2.3h.1m1.9,2.4h.1m.3-2.5h.1m.1,2.4h.1m.6,0h.1m14.5-1.3h.1m28-1.5h.1m.4,.7h.1m1.6-.3h.1m1.1,.6h.1m11.5-.6h.1m1-.2h.1m.8,.1h.1m.7,1.2h.1m.7-1.5h.1m.4,2h.1m.3,0h.1m15.8,.1h.1m-.1-2h.1m0,.3h.1m1,2h.1m.1-.7h.1m0,.7h.1m-.1-1.4h.1m.1,1.5h.1m.2-1.8h.1m.5,1.7h.1m.2-.4h.1m19.5-1.7h.1m6-.1h.1m4.9,2.2h.1m2.9,0h.1m.8,.1h.1m18.9-2h.1m5.5-.5h.1m10.4,0h.1m4.8,2.1h.1m-218.5,1.2h.1m4.9,1.2h.1m0-1h.1m.8,.9h.1m.2,.6h.1m4.1,.4h.1m5.3-2h.1m.4,.1h.1m.1-.5h.1m.6,1.5h.1m1.6,.9h.1m7.4-2h.1m1.2,.3h.1m1.2,1.3h.1m.5-1.7h.1m.8,2.5h.1m8.3-.4h.1m1.3-1.3h.1m7.9-.6h.1m.8,1.4h.1m0-1.6h.1m1.1,2.6h.1m0-.5h.1m.2-.4h.1m-.1,.7h.1m.8-.3h.1m14-.4h.1m1.9-1.4h.1m4.4,.8h.1m4.9,0h.1m.2-.9h.1m2-.5h.1m1.3,.5h.1m.3,.6h.1m3.1,1h.1m.8-1.1h.1m18.9-.2h.1m0,1.8h.1m10.2-.3h.1m10.3-.4h.1m.3,.9h.1m15.8-2.8h.1m1,1h.1m.3,.9h.1m.4,.9h.1m.5-2h.1m.8-.5h.1m0-.3h.1m0,.5h.1m.1,2h.1m0-.7h.1m1.5,1h.1m1.7-.4h.1m28.4-1.9h.1m0-.1h.1m2.9,1.3h.1m0,.5h.1m-209.6,2.8h.1m-.1,.8h.1m1.2-1.2h.1m.2,1.3h.1m.1-.6h.1m.6,.5h.1m17.2-1.9h.1m.9,.1h.1m.1,.4h.1m.6-1.1h.1m1,1.6h.1m10.5-1.6h.1m1-.3h.1m.4,0h.1m1.1,2.4h.1m2.7,.2h.1m6.6-1.4h.1m12.2-1.2h.1m1.4,1.7h.1m4.3,1.2h.1m1.4,0h.1m13.3-2.7h.1m1.5,0h.1m.2,1.9h.1m16.7-2.1h.1m14.4,.5h.1m.7-.5h.1m2.3,1.4h.1m-.1-1h.1m.6,2.3h.1m0-1.4h.1m15.8-1.2h.1m22.1,1.9h.1m-.1-.5h.1m.1-1.4h.1m.2,1.8h.1m0-1.5h.1m.2,1.9h.1m.1-.9h.1m18-1.3h.1m.4,.3h.1m.4,.3h.1m0-.4h.1m52.7,.4h.1m2.1,.8h.1m1-.2h.1m.9,1.6h.1m13.4-1.8h.1m-243.5,2.4h.1m1.3,.5h.1m0-.2h.1m1.1,1.1h.1m13.7-1.5h.1m1.8,.1h.1m.4,.4h.1m0-.5h.1m2.3,1.6h.1m0-.5h.1m.8-.6h.1m.3,0h.1m.4,0h.1m14.5,.1h.1m1.7,.5h.1m16.5-1h.1m7,.3h.1m.2,1h.1m.6,.9h.1m12.3-1.3h.1m8.5,1.3h.1m3.8,.2h.1m8.2-.4h.1m15-.9h.1m1.7-1.2h.1m0,.5h.1m1.2-.4h.1m.9,.4h.1m12.7,1.3h.1m13.9-1h.1m-.1,.4h.1m10-1.6h.1m.6,2.5h.1m-.1-1.2h.1m.7,.1h.1m20.9-.5h.1m2.5,1.4h.1m23.7-.5h.1m5.5-1.6h.1m.8-.1h.1m.1,2.8h.1m21.3-2.7h.1m.4,0h.1m.4,1.1h.1m1.5-.8h.1m.5,2h.1m.1-1.5h.1m1.2,1.9h.1m-232.3,1.2h.1m-.1,1.3h.1m1.5,.2h.1m20.4-.7h.1m1.2-1.4h.1m17.5-.5h.1m.1,2h.1m0,.7h.1m.8-2.4h.1m.2-.2h.1m-.1,2.5h.1m0-1.9h.1m-.1,1.9h.1m.8-1.9h.1m0-.6h.1m-.1,1.1h.1m2.2,1h.1m16.5-1.9h.1m.7-.1h.1m4.6,.3h.1m3,.5h.1m0,.5h.1m8.8-1h.1m.4,1.9h.1m2.4-2h.1m1.5,2.1h.1m2.3,.2h.1m.5-1.6h.1m.2,1.2h.1m.1,.4h.1m2.9-.9h.1m21.8-1h.1m3.5,2.1h.1m23,0h.1m12.2-2.5h.1m26.9,.4h.1m2.3-.4h.1m4.8,1.5h.1m1.5,0h.1m5.4-.8h.1m12.9,.6h.1m.4-1.4h.1m.5,2.6h.1m8.4-1.7h.1m.4,1.3h.1m1.7,0h.1m11.6-2.1h.1m1.7,1.1h.1m1.1,1.4h.1m.1-2.8h.1m.6,1.6h.1m.2,.7h.1m-233.7,.6h.1m.3,1h.1m.1,0h.1m.1,.7h.1m.2-1.6h.1m.6,2.8h.1m.4-1h.1m.5-.9h.1m-.1-.7h.1m.1,2.1h.1m2.8-.9h.1m1.4,.2h.1m14.9-1.7h.1m8.5,1.1h.1m9.1-1.1h.1m0,.4h.1m1.4,1.9h.1m10.3,.2h.1m10.4,.3h.1m8.3-2.3h.1m9.2,1.9h.1m.2-.9h.1m3-.1h.1m1.2-1.4h.1m.6,0h.1m2.5,1.5h.1m2.1,0h.1m1.1-.7h.1m3,.1h.1m.7,1h.1m1.1-1h.1m14.9,1.9h.1m5.4-1.8h.1m1.4,.9h.1m.3-1.2h.1m8.1,1.9h.1m10.2-.6h.1m2.3-.6h.1m.3-1.1h.1m.3,1.2h.1m1.3,0h.1m1.1,.9h.1m.9,.5h.1m9-2.7h.1m.7,1.3h.1m.5,.9h.1m26.1-2.2h.1m25.3-.2h.1m.9,.3h.1m.3,.7h.1m.1,.2h.1m3.2,.1h.1m9.5,.9h.1m11.4-1.8h.1m.5-.3h.1m2.3,2.8h.1m.5-2.4h.1m-234.6,4.5h.1m.2-1.6h.1m.8,1.1h.1m.1-.8h.1m4.6,1.4h.1m14.2-2h.1m.5,.3h.1m3,2.5h.1m6.9-1h.1m3.3-1.2h.1m5.3,2h.1m.3-.6h.1m.9-.4h.1m11.8-.7h.1m8.5-.5h.1m.1,2.2h.1m.2-1.3h.1m.1,1h.1m.9,.5h.1m.4-.8h.1m0,.8h.1m.2-.1h.1m8-1.4h.1m6.1-1.1h.1m.7,.7h.1m.6,0h.1m.5-.1h.1m.6,1.1h.1m3.9-1.6h.1m1.8,.6h.1m0-.1h.1m7.1,.3h.1m.2,1.2h.1m-.1-.5h.1m.1,.7h.1m.6-.1h.1m22-1h.1m0-1.4h.1m7.3,.7h.1m.4-.7h.1m.7,1.2h.1m.2-.6h.1m15.3-.3h.1m.8,1.7h.1m0-1.1h.1m.3-.5h.1m2.8,1.5h.1m5.1-.2h.1m.7-1h.1m.8-.8h.1m.8,2.9h.1m.3-.4h.1m8.8,.4h.1m25.6-2.8h.1m4.5,1.9h.1m1.6-.5h.1m3.9,1.3h.1m5.9-.5h.1m.8-2.3h.1m0,2.8h.1m.1-1.8h.1m-.1,.9h.1m0,.5h.1m.1-1.1h.1m.1,.4h.1m1.2,1h.1m8.6-2.3h.1m.8,.5h.1m3.6,1.6h.1m28.9,.3h.1m-246.4,1.1h.1m7.4,1.3h.1m28.2-1h.1m.2-.7h.1m1.4,.9h.1m.7,1.5h.1m8.3-1.9h.1m.2,1.3h.1m11.6-1.5h.1m.2,2.1h.1m.4-1.9h.1m.1,.8h.1m0,.1h.1m-.1-.9h.1m.6,.9h.1m0-.4h.1m.6,.7h.1m0-1.3h.1m.4,1.8h.1m12.5,.2h.1m.3-1.2h.1m.4,0h.1m1.9-.1h.1m11.7,1.3h.1m8.9-.8h.1m3.2,.8h.1m.9-2.2h.1m1.1,1.9h.1m1.2-.9h.1m.9-.6h.1m.5,.3h.1m1.8,1.5h.1m1.7-.4h.1m.5-1.1h.1m-.1,.9h.1m1.9-2.2h.1m.7,.8h.1m13.6-.4h.1m12.9,2.1h.1m.2-1.1h.1m.4,.1h.1m.3-.5h.1m-.1-.8h.1m1.1-.3h.1m.8,.6h.1m4.4-.6h.1m9.7,.5h.1m1.8-.1h.1m.8,.2h.1m0,2.2h.1m1-.5h.1m0-.9h.1m1.1,1.2h.1m19.9-1.9h.1m19.3,.3h.1m.1-.1h.1m.8,0h.1m.4-.9h.1m-.1,2.7h.1m0-2.2h.1m.3,2.1h.1m.3-.6h.1m-.1-.8h.1m.3,1.6h.1m14.3-1.2h.1m.9,.3h.1m7.1-1.3h.1m4.2,2.1h.1m.3,.2h.1m11.1-2.6h.1m-236.6,3.9h.1m8.7-1.1h.1m0,1.2h.1m20.8-.9h.1m1.9,.1h.1m.6,1.1h.1m18.7-1.3h.1m.4,1h.1m.7,.3h.1m.1-.6h.1m.5-.7h.1m6.8,.7h.1m7.6-.5h.1m24.2,.4h.1m0-.9h.1m.3,2.6h.1m0-.5h.1m.4,.8h.1m.9-2.4h.1m0,.8h.1m.5-1.1h.1m4.6,1.8h.1m.6,.5h.1m.8-.2h.1m1.7-1.8h.1m3.5,.5h.1m26,1.9h.1m20.4-2h.1m.8-.5h.1m.4,1.6h.1m2.9-.1h.1m.9-.4h.1m7.2,.4h.1m2.7,.1h.1m1-.3h.1m4.2,1.2h.1m12.2-.8h.1m.2-1.8h.1m10-.2h.1m.3,1.8h.1m0,.7h.1m.6-2h.1m-.1,.5h.1m.5,1.1h.1m-.1-1h.1m.1,.7h.1m1.2,.4h.1m12.4-1.4h.1m-.1-.1h.1m1.4-.4h.1m.7,0h.1m.3,.1h.1m6.1,2.4h.1m1-2.1h.1m4.9,.5h.1m2.5-.9h.1m-249.4,3h.1m1.6,.5h.1m.8,1.3h.1m.4-.1h.1m0-1.6h.1m.2-.2h.1m19.5-.1h.1m2.5,2.1h.1m.6-1.8h.1m1.3,2h.1m.9,.4h.1m15.7-2.5h.1m.9,1.1h.1m21.6,.9h.1m4,.2h.1m.7-2.2h.1m.4,2.1h.1m0-.3h.1m13.9-1.7h.1m1.6,1h.1m13.1-1.4h.1m.9,.8h.1m8.9,.1h.1m.2-.1h.1m.3,1.5h.1m.4-1.1h.1m0-1h.1m.2,1.4h.1m6.2,.1h.1m1.5-1.8h.1m0,.8h.1m.3,.1h.1m1-.5h.1m28.3,.4h.1m26.5,.8h.1m1.1,.1h.1m6.2,1.1h.1m3-.3h.1m.2-.6h.1m6-1h.1m.5-.6h.1m1.8,1.2h.1m1.6-.1h.1m5.3-.7h.1m1.2-.3h.1m13-.4h.1m.8,2h.1m11.5-1.5h.1m19.2-.4h.1m1.1,2.5h.1m0-2.2h.1m-247.8,5.4h.1m.4-.6h.1m0-1.6h.1m.3,.6h.1m.5,1.7h.1m20.4-.4h.1m5.9-.5h.1m5-.8h.1m3-1.2h.1m12.9,.1h.1m.3,.3h.1m.2-.1h.1m.3,.3h.1m5.1,1.1h.1m1.4-.2h.1m5.3-1.3h.1m6.1-.2h.1m1.1,.4h.1m1.1,2.4h.1m2.4-.5h.1m.5-.4h.1m9.5-1.8h.1m.1,1.2h.1m.1,.7h.1m.6,.1h.1m0,.5h.1m24.3-2.3h.1m2,.2h.1m9.2-.5h.1m.7,0h.1m10.3,1.3h.1m11.2,.4h.1m.1,.8h.1m.7-.8h.1m30.6-.5h.1m7.5-.2h.1m.2,.5h.1m.6,.1h.1m31.4-.7h.1m.6,1.5h.1m.4-1.4h.1m0-.9h.1m2.3,1.9h.1m3.3,.9h.1m2-1h.1m.5-.5h.1m.7,.5h.1m-.1-1h.1m.5-.5h.1m9.5,1.9h.1m12.5-2.3h.1m.5,.7h.1m.2,2.2h.1m1.7-.5h.1m.2,0h.1m-251.1,.6h.1m29.6,1.4h.1m.7,.2h.1m21.8,.3h.1m1-1.6h.1m-.1,.8h.1m.2,1.8h.1m.5-.5h.1m.1-1.6h.1m15.5,.1h.1m.2-.3h.1m.2-.4h.1m13,.4h.1m1,0h.1m13.4,.1h.1m.7,2.2h.1m12.3-1.5h.1m19.8-.6h.1m.8,.7h.1m.1,.7h.1m10-1.8h.1m.5,2.1h.1m1.7-.5h.1m.7-.1h.1m38.1-1.7h.1m.2,1.8h.1m1.3-.1h.1m.1,.3h.1m28.4-.1h.1m8.3-1.8h.1m.4,.4h.1m-.1-.1h.1m.7,.3h.1m.3,.4h.1m.3,1.2h.1m.1-1.1h.1m.1,.5h.1m.3-.6h.1m.5,1h.1m1.5,.4h.1m19.3-.6h.1m1.6-1h.1m0-.6h.1m.6,.6h.1m.1,.8h.1m.1-1.4h.1m1.1,1.4h.1m-221.2,2.9h.1m1.3-.1h.1m.3-1.2h.1m1.1,1.4h.1m18.8-.5h.1m0-.9h.1m.3-.3h.1m0,1.6h.1m.8-1.3h.1m1,.6h.1m.1-.2h.1m.1-.4h.1m.3,.3h.1m.7-.4h.1m.4,1.3h.1m32.5-1.3h.1m1.8,1.1h.1m28.3,.3h.1m2-1h.1m10.4-.7h.1m12.1,1.6h.1m.1-.3h.1m.1,0h.1m.3-1h.1m.4,.8h.1m0-1.1h.1m.5,.8h.1m25.6,.4h.1m12.9-.6h.1m2.1,1.3h.1m9.1-.8h.1m4.1,.5h.1m6.9-.7h.1m7.9-.6h.1m1.1,.1h.1m8.1-.2h.1m-.1,1.6h.1m0-.6h.1m.3-.3h.1m.9,.3h.1m0-.6h.1m.4-.2h.1m1.8,.6h.1m16.8-.7h.1m4.6,1h.1"/><path stroke="#3c8cff" d="M91.7,190.7h.1m27.7,.3h.1m31.1,0h.1m.7-.3h.1m26.4,1.2h.1m.2,0h.1m1.1-.2h.1m11.5-.3h.1m10.3,.3h.1m22.7-1.6h.1m1,.3h.1m6.8-.2h.1m4.4,1.2h.1m14.1,0h.1m10-.4h.1m7.6-.6h.1m.8-.4h.1m1.3,.2h.1m10,1.4h.1m.6,0h.1m17.1-1h.1m2.1-.1h.1m-243.3,2h.1m39.5,.2h.1m2.9,2.2h.1m.1-.4h.1m.8-1h.1m.3-1.2h.1m.4,2.4h.1m16.6-2.4h.1m36.7,.1h.1m1.5,0h.1m.4-.4h.1m13.7,2.9h.1m16-1.1h.1m35.8-.4h.1m12.8-.8h.1m13.1,1h.1m.9-.9h.1m0,1.2h.1m.1-.1h.1m1-.5h.1m0,.1h.1m0,1h.1m.2,.5h.1m7.5-2.7h.1m9.3,.5h.1m-.1,.7h.1m1.5-.2h.1m14.8,1.5h.1m19.8-2.7h.1m1.4,.7h.1m-244.9,3.9h.1m38.4-.1h.1m.5-.5h.1m14.4,1.8h.1m14.3-1.1h.1m.5,.7h.1m26.8-1h.1m5.8,1.4h.1m9-2h.1m4.2,.1h.1m3.4,.6h.1m6,.4h.1m.3-.3h.1m13.6-.1h.1m3,1.3h.1m.5,0h.1m31.6-.9h.1m13.5-1h.1m.4,1.2h.1m0-2.1h.1m.4,.9h.1m.5-.6h.1m1.2,.9h.1m2.3,1h.1m14.4-1.6h.1m1.3,.9h.1m0-.4h.1m.3-.2h.1m14.6,0h.1m-226.1,3.6h.1m20.5-.4h.1m20-.1h.1m.4,.7h.1m1.9-.6h.1m11.7-1.1h.1m15.3,1.5h.1m.1-1.4h.1m0,1.8h.1m.3-1.4h.1m24.8,.4h.1m7.4,1.6h.1m21.3-1.5h.1m.9,1.8h.1m0-.2h.1m-.1-.1h.1m0-2h.1m.3,1.7h.1m.1-2.2h.1m.2,2h.1m.4-2h.1m9.8,2.8h.1m55.2-2h.1m16,1.2h.1m1,0h.1m.3-1.4h.1m.4,.6h.1m.2-.8h.1m0,1.7h.1m.2-1.4h.1m.5,.9h.1m.5,1.3h.1m0,0h.1m.2-.8h.1m-223,3.8h.1m3.7-1.1h.1m10.3,0h.1m6,.2h.1m11.8-1.9h.1m1.3,1.8h.1m1-.8h.1m16.1,1.7h.1m29.3-1.8h.1m.2-.8h.1m1.1,.4h.1m.8,2.3h.1m1.1-1.9h.1m10.1-.9h.1m.7,1.4h.1m24.3,.3h.1m1.1-.4h.1m15.9-1.4h.1m.4,.4h.1m-.1,1.5h.1m7.8-.2h.1m3.2,.5h.1m1.1-2.2h.1m5.3,1.8h.1m72-.4h.1m19.6-.9h.1m1.3,2.4h.1m-230.6,3h.1m18.5-.8h.1m.2,.5h.1m28.8-.9h.1m1.5-.3h.1m29.8-1.4h.1m5.4,1h.1m53.7-.1h.1m48.6,.9h.1m20-1.4h.1m.9,.3h.1m9.9,1.9h.1m0-1.3h.1m.2,.8h.1m.4,.6h.1m10.7-.7h.1m.6,.5h.1m-231.3,1.8h.1m21.7-.1h.1m2.8,1.4h.1m25.7,.1h.1m13.9-1.2h.1m25.9-.6h.1m1.6-.4h.1m12.4-.5h.1m59.2,1h.1m2.6,1.3h.1m16,0h.1m0-.5h.1m1.3,.1h.1m5-1.1h.1m1.2,.1h.1m.1,2h.1m.2-1h.1m.3,.6h.1m0,0h.1m27-2.4h.1m.4,.4h.1m-.1,.9h.1m12.9,1h.1m.5,.5h.1m1.5,0h.1m-239.7,2.7h.1m8-1.9h.1m28.5,2.2h.1m18.5-.8h.1m.7-1.9h.1m12.9,.1h.1m1.1,2.5h.1m.2-1.9h.1m11.7,.2h.1m1.4,.8h.1m.1,.7h.1m9.4-1h.1m16.6,.8h.1m.5-.5h.1m.6,.3h.1m.1,.4h.1m.6-1.7h.1m35.2-.4h.1m2.9,1.6h.1m25.8-2.1h.1m.5,2.5h.1m9.9,.2h.1m8.9-.7h.1m.4-1.4h.1m.9,2.2h.1m29.9-1.8h.1m-191.2,4.4h.1m.5-.8h.1m.7-1.2h.1m16.5,2.1h.1m.5-2.5h.1m.5,0h.1m.2,1h.1m.2-.8h.1m0,1.5h.1m0-1.3h.1m.7,.5h.1m25.8,1.9h.1m.9-1.4h.1m.3-1h.1m6.9,1.9h.1m2.3-1.1h.1m16.2,.1h.1m.9-.1h.1m1.1-.7h.1m.4,1.9h.1m.2-1.3h.1m35.8-.1h.1m13.9,1.2h.1m13.4-.6h.1m21.3-.7h.1m29.5,1.1h.1m.2,.4h.1m.4-1.4h.1m.8-.6h.1m-245.1,4.8h.1m8,.2h.1m18.1-1.4h.1m8.2,.5h.1m18.1-1h.1m8.6,1.5h.1m.6,.9h.1m4.5-.6h.1m15.7-.9h.1m15.1-.6h.1m11.2-.3h.1m2.6,1.8h.1m1.1-.2h.1m8.2-.2h.1m18.6-1.3h.1m24.1,.4h.1m0-.7h.1m.8,.7h.1m.5,1.8h.1m12.7-.2h.1m49.5-2.6h.1m16.1,.4h.1m2.8,0h.1m-238.4,4.5h.1m0-.9h.1m.3,1.4h.1m.9-2.3h.1m1.2,2.4h.1m15.5-1.5h.1m.2,1.9h.1m.3-1.1h.1m5.6,1.1h.1m29.5-1.7h.1m.5,.5h.1m.3,.2h.1m1.3,.6h.1m2.2-.4h.1m.7-1.2h.1m.2,1.6h.1m2.3-1.1h.1m21.1,.8h.1m1.3,.2h.1m22.5-1h.1m31-1.1h.1m1.3,.5h.1m.2,.6h.1m2,1.1h.1m13.8,.4h.1m11.7-.3h.1m.7-.6h.1m1.8-.5h.1m14,.8h.1m7.4-.1h.1m1.2-.1h.1m42.3-2h.1m14.7,2.8h.1m-249.4,1.1h.1m.7-.8h.1m23.4,.9h.1m3.5,1.3h.1m22.8-1.9h.1m1.7,.2h.1m.6,.3h.1m0,1h.1m0,.9h.1m.2-1.8h.1m0-.5h.1m0,.4h.1m.5,.1h.1m.1-.3h.1m.5,1.8h.1m.9-.2h.1m.9-1.7h.1m1.8,1.6h.1m.9-1.4h.1m.5,1h.1m0-1.6h.1m.1,.1h.1m59.9,.3h.1m19.5,1.7h.1m.4-1.7h.1m11.5,0h.1m.4,.7h.1m.6,0h.1m1,1.5h.1m17.6-1.5h.1m40.6,.1h.1m18.2,1.2h.1m16.6,.2h.1m-247,1.6h.1m0-1.3h.1m12.3,.8h.1m26,.2h.1m13.4,.4h.1m.4-.4h.1m.4,.3h.1m5.4-.1h.1m22.6,1.1h.1m.2-1.6h.1m1,1.9h.1m11.7-1.4h.1m8.6,0h.1m.3-.6h.1m50.3-.6h.1m19.1-.2h.1m26.8,.9h.1m1,1.5h.1m21.4-1.7h.1m7.8,.4h.1m.6,1.4h.1m.3-1.5h.1m1.4,1.1h.1m13.8-2.1h.1m.4,1.2h.1m-249.4,3.8h.1m.9,.5h.1m-.1-2.1h.1m.6,.5h.1m0,1.7h.1m-.1-.7h.1m10.9,0h.1m.8,.1h.1m0-.2h.1m1-.6h.1m10.6-.7h.1m14.8,.9h.1m2.3,1.1h.1m10.9-2.1h.1m1.8-.4h.1m13.4,2.5h.1m.4-.2h.1m13.5-1.4h.1m1.3,1.5h.1m14-.2h.1m6.8-1.8h.1m14,2.1h.1m.3-2h.1m.3,1.8h.1m18.8-.9h.1m21.6,.8h.1m.8,.3h.1m16.5-.4h.1m.8,0h.1m23.1-1.6h.1m1.4,.5h.1m18.2-.6h.1m7.6,1.4h.1m.3-.3h.1m2.6-.1h.1m2.4,.4h.1m11.6,.2h.1m.3-.9h.1m-246.3,2.4h.1m1.9,2h.1m.2-.1h.1m9.9-1.9h.1m28-.1h.1m.3,.2h.1m26.6,1.4h.1m14.3-1.1h.1m1.2-.8h.1m17.7,1.8h.1m3.4-1.7h.1m15.2,1.3h.1m.1,.9h.1m38.9-2.1h.1m.8,1h.1m.4,.9h.1m.7-.2h.1m15.2,.9h.1m3.4-.2h.1m25.9-.4h.1m21.7-.4h.1m6.4-1.2h.1m.7,1.6h.1m11.8-2.3h.1m.2,1.4h.1m-257.8,3.6h.1m11.9-1.5h.1m0,.5h.1m.2-.6h.1m.2,.7h.1m0-1.1h.1m.6,.7h.1m11.7,.3h.1m8.9,1.6h.1m44.6-2.5h.1m.3,1.4h.1m.2-.3h.1m34.1,.7h.1m22.4,.1h.1m4,.5h.1m17.8-.7h.1m1.3,.9h.1m25.9-.7h.1m20.9-1.5h.1m10.3-.5h.1m-217.2,3h.1m8.2,2.1h.1m1.3,.1h.1m.6-.7h.1m.4,1h.1m.3-1.6h.1m8.6-.5h.1m14.1,1.6h.1m22,.3h.1m-.1-2h.1m1.6,1h.1m3.8-.2h.1m4.5,1.8h.1m13-2.5h.1m31.5,.1h.1m.8,1.6h.1m.6,.8h.1m.5-.7h.1m15.2,.4h.1m22.5-2.4h.1m1.9,1.9h.1m27.8,.3h.1m21.9-1.7h.1m0,1.3h.1m15.9-1.7h.1m.3,1.7h.1m1,.6h.1m1.2-.6h.1m9.6,.5h.1m18.1-.5h.1m-249.8,1.5h.1m3.4,1.4h.1m4-1h.1m.6,1.1h.1m-.1-.9h.1m1-.1h.1m0,.5h.1m1-1.1h.1m.7,1h.1m.2-1h.1m.1,1.6h.1m7.8-.7h.1m.2,1.6h.1m35.1-2h.1m13.1,1.8h.1m7.4-1.3h.1m6.8,.3h.1m.5-.9h.1m.2,2.1h.1m.3-1.4h.1m.7-.9h.1m14.2,2.3h.1m11.6-2.7h.1m1.9,2.5h.1m17.3-1.6h.1m14.5,.6h.1m10.9-.7h.1m1.8,1h.1m.4-1.1h.1m0,2h.1m-.1-1.7h.1m.2,.6h.1m10.6-.9h.1m11.8,.3h.1m.3-.6h.1m38,1h.1m.1-1.3h.1m18.3,1.6h.1m10.4,.9h.1m.6-.3h.1m.8-1h.1m0-1.2h.1m.2,1.9h.1m.5-.8h.1m-242.3,3.8h.1m-.1-.8h.1m.5,.6h.1m1.3-.9h.1m.6,.8h.1m5.4-1.5h.1m2.4,1.3h.1m21.3,0h.1m10.6-1.1h.1m15.2,.8h.1m32.3,0h.1m1.5-1h.1m6,0h.1m2.1,1.5h.1m.1-1.5h.1m1.1,.6h.1m4.3,.4h.1m14.3-.4h.1m15.5-.9h.1m.8,2.4h.1m.6-.5h.1m11.1-1.6h.1m.1,2.3h.1m.1-2.7h.1m1.1,2.4h.1m10.6-2h.1m52.1,.7h.1m-.1,1.8h.1m.4-.1h.1m25.6-1.6h.1m.8,1.2h.1m.1-1.9h.1m1.1,1.1h.1m-254.4,2.8h.1m.6,1h.1m1-.1h.1m11.4-2.1h.1m14.2,2.5h.1m41.7,.1h.1m16.6-1.9h.1m35.5,.4h.1m21.8,1.3h.1m9.5,0h.1m8.7-1.7h.1m27.4,.2h.1m34.7-.4h.1m.1,.2h.1m28.9,2h.1m.4-.6h.1m-253.7,1.3h.1m.8,1.3h.1m0-.8h.1m0,.8h.1m23.9,.7h.1m4.5-.5h.1m.6-.1h.1m23.3-2h.1m.8,2.4h.1m9.7,.4h.1m3.1,.1h.1m17.8-.9h.1m1.6-.4h.1m14.1-.7h.1m.2,1.4h.1m2.1-.5h.1m19.2-.4h.1m0-.1h.1m0,.9h.1m.5-.2h.1m11.2-1.1h.1m6.4-.1h.1m8.4,.7h.1m.7-1.1h.1m1.2,2.1h.1m.4-.9h.1m.4,.9h.1m21.4,0h.1m51.2-1.1h.1m.2,1.4h.1m14.9,0h.1m.8-1.1h.1m.2,.8h.1m10.4-1h.1m.1,.9h.1m1.3-1.5h.1m-252,4.7h.1m27.1-2.6h.1m.8,1.6h.1m1-1.4h.1m21.1,1.2h.1m2.6,.2h.1m.2,.7h.1m.1-.5h.1m13-1.3h.1m.7,1.9h.1m52.5-2h.1m.3,1h.1m.4-.9h.1m0,.8h.1m11-1.3h.1m.7,.1h.1m15.8,.4h.1m4.6,1.8h.1m2.8-.4h.1m16.9-1.2h.1m14.7-.2h.1m.5,.5h.1m7.8-1h.1m28.1,1.1h.1m1.7,.6h.1m.1-.2h.1m.1-.4h.1m11.1-.8h.1m.6,2.1h.1m.3-2.3h.1m.6,2.3h.1m.2,.4h.1m-211.2,2.2h.1m.9-.7h.1m1.5,.9h.1m4.9-.3h.1m4.5-.8h.1m10.2,.4h.1m.9,.4h.1m16.9-.4h.1m1-.6h.1m4-.7h.1m8.4,.7h.1m.8-.3h.1m23.8-.1h.1m12.9-.1h.1m.1,2.3h.1m.2-.4h.1m.1-.3h.1m3.3-.9h.1m7.4,.5h.1m1.2,1.3h.1m.3-.5h.1m22.9-.3h.1m14.2-1.8h.1m1.2,.6h.1m.4-.7h.1m.1,.2h.1m6.9,2h.1m21.3-2.4h.1m5.1,1.4h.1m1.6,.1h.1m1.4,1.3h.1m27.7-2.7h.1m.6,2.8h.1m1.7-1.1h.1m.3,.7h.1m-210.7,3.3h.1m2.5-1.8h.1m1-.1h.1m5.8-.5h.1m12.4,.4h.1m7.6-.8h.1m10.6,1.4h.1m26.8,.1h.1m5.6-.1h.1m29.3,1.2h.1m1.7-1.3h.1m.8-.4h.1m1.7,1.5h.1m19.4,0h.1m13.8,0h.1m13-.8h.1m.1-.8h.1m9.7,1.2h.1m4-.3h.1m11.7-1.1h.1m1.3,.1h.1m.1-.4h.1m16.6,1.1h.1m1.1,.8h.1m.7-.1h.1m9.2-1.9h.1m0,.1h.1m.7,1.2h.1m.2-.3h.1m.3,1.7h.1m0-.4h.1m1.1,.4h.1m1.1-.8h.1m3.5-1.8h.1m-248.8,3.7h.1m13.8,1.6h.1m0-.4h.1m.2-.3h.1m-.1-.9h.1m.2,.4h.1m.4-.8h.1m5.4,.4h.1m33.8,1h.1m0-.9h.1m15.3,1.2h.1m24.4-1.1h.1m4.4,1.4h.1m0-1.8h.1m1.3,1.6h.1m25.2,.3h.1m2.1-.3h.1m7.1-1.5h.1m4.9,1.2h.1m2.2,.8h.1m19.6-1.6h.1m33.2,.7h.1m.5,.7h.1m.2-1.2h.1m0-.4h.1m2.9-.2h.1m13.5-.9h.1m.6,1h.1m17.3-1h.1m.2,.6h.1m0,1.4h.1m.2-.2h.1m9.3-1.1h.1m.8,1.8h.1m1.9-.6h.1m8.2,.1h.1m-253.9,2.6h.1m-.1,.8h.1m1.1-1.3h.1m.7,1.4h.1m12.4-1h.1m1.2-1.1h.1m0,.5h.1m.3-.2h.1m0-.4h.1m.4,.9h.1m11.3-.7h.1m.7,1.4h.1m51.8,.1h.1m12.8-.6h.1m7.2-.1h.1m19.4-1.3h.1m3,2.8h.1m2.9-.4h.1m16-2.4h.1m1.6,2.9h.1m17.1-1h.1m.3-.5h.1m2.7,1h.1m11.7-.3h.1m.4-1.6h.1m.7,1.9h.1m20.8-.7h.1m45-1.3h.1m1.5,1.1h.1m.6,.6h.1m9.8-1.6h.1m.1,1.1h.1m.7,.9h.1m1-.1h.1m-258.3,1.5h.1m.3-.7h.1m1.2,.1h.1m-.1,2.4h.1m1.8,.2h.1m4-1.2h.1m6.6,1h.1m13.2-1h.1m61.5,.1h.1m21.8,.1h.1m6.9-.3h.1m2.4,.9h.1m24.3-1.6h.1m12.3-.5h.1m2.6,0h.1m5.8-.1h.1m10.3-.2h.1m.9,1.5h.1m1.6-1.1h.1m.4,.4h.1m.4,.1h.1m.8,1.7h.1m0-.7h.1m64.2,0h.1m.3-.4h.1m.6-.2h.1m.2-1h.1m.1,1.5h.1m11.4-.5h.1m-258.6,4.1h.1m.4-1.2h.1m.7-.5h.1m47.7-.3h.1m.1,.8h.1m-.1-.7h.1m.1,.3h.1m0,.7h.1m.3,1.2h.1m22-2.6h.1m36.9,1.8h.1m-.1-1h.1m1.1-.9h.1m7.5,.8h.1m1,2h.1m0-1.1h.1m10.4,.7h.1m15.6-2.3h.1m1.7,1.8h.1m32.8-1.8h.1m3.7,1.7h.1m0-.5h.1m.3,.6h.1m4.1-.6h.1m5.4,0h.1m15.5,.5h.1m36.8,.1h.1m0-1.5h.1m.8,1h.1m.4-.7h.1m8.9,1.6h.1m1-1.7h.1m-258.8,4.8h.1m.2-1.8h.1m.7,1.4h.1m1.7-.1h.1m11.4-.5h.1m1.1-.1h.1m33.7-.4h.1m6.5-.1h.1m63.8,.3h.1m0,.6h.1m12.9,.4h.1m17.5-.7h.1m36.3-1.1h.1m10.6,2.3h.1m11.7,.2h.1m.2-.1h.1m.8,0h.1m.3-.2h.1m33.9-1.4h.1m.9-.7h.1m0,0h.1m1.7,.9h.1m0,.2h.1m-244,3.8h.1m9.4,.4h.1m1.9-2.3h.1m.9,1.5h.1m19.5-1.6h.1m.3-.3h.1m9.9,2.3h.1m15.3-1.1h.1m2.1,.2h.1m4.3-.2h.1m50.8,1.1h.1m1.3-2h.1m10.7,.5h.1m.8-.5h.1m.7-.2h.1m.7,2.4h.1m0-1.1h.1m16.4-1.3h.1m35.1,2.2h.1m10.5-1.9h.1m1.8-.5h.1m13.2,1.8h.1m0,.7h.1m.6,.3h.1m.1-1.4h.1m13.6,1h.1m21.4-.6h.1m.5-.9h.1m8.9,.6h.1m-257.1,1.7h.1m6.9,.5h.1m.8,.8h.1m2.2-.5h.1m1.5-.9h.1m1.2,1.4h.1m.7,.3h.1m-.1,.1h.1m.9,.4h.1m31-.1h.1m4.9,.3h.1m21.4-2.5h.1m-.1,2.6h.1m14.2,0h.1m1.1-1.8h.1m.3,.2h.1m12.4,1.4h.1m1.8-.4h.1m8.5-.7h.1m5-.3h.1m4.9,1.4h.1m10.9-.5h.1m1.3-.9h.1m.2-.3h.1m35.2,.8h.1m14.8-1h.1m26.1-.5h.1m.4,1.2h.1m1.7,1.3h.1m.4-1.8h.1m.1,1.9h.1m.6-1.1h.1m1.6,1h.1m33.2-1.3h.1m1.1,.6h.1m.8,.3h.1m3.1-1.2h.1m.2,1h.1m-253.7,3.6h.1m13.1-1.1h.1m.1,.1h.1m1,.3h.1m.4,.2h.1m1.1-1.8h.1m1.3,.7h.1m13.5,1.1h.1m11-.6h.1m28.7-.5h.1m.8,.7h.1m0,1.1h.1m15.9,.2h.1m12.2-.2h.1m.5-1.2h.1m28.5,.4h.1m2.2-1.5h.1m1.2,1.3h.1m14.9,.7h.1m.4,.2h.1m.8-1.1h.1m1.3,1.4h.1m.2-.5h.1m2.6-.5h.1m9.8-.5h.1m18.9-.1h.1m.1,.2h.1m2.2-.8h.1m5.7,1.8h.1m2.3,.4h.1m44.7-.8h.1m-239.6,2.9h.1m17.1-.9h.1m.9,1h.1m13.1-.6h.1m12.3-.3h.1m.3,1.3h.1m7.4-.2h.1m3.5-2h.1m13.4,.7h.1m3.8,.1h.1m14.5-.4h.1m.1,2.1h.1m.6-.8h.1m14.7-1.4h.1m.2,.5h.1m38.6,1.4h.1m1.1-.5h.1m3.3-.5h.1m4,.3h.1m.1-1.5h.1m.3,2.3h.1m.3-1.6h.1m.2,1.8h.1m.5-2.5h.1m11-.2h.1m7.1,2.4h.1m1.2-.2h.1m16.7-2.3h.1m1.2,2h.1m4.9-1.7h.1m29.8,.6h.1m6.4-.1h.1m15,.6h.1m-248.2,3.5h.1m.8-1h.1m1,1.2h.1m17.4-.8h.1m.2,.5h.1m11,1h.1m14.3-1.8h.1m.4,1.5h.1m11.1-1.5h.1m12.4,1.2h.1m8.5-1.7h.1m12.3,.4h.1m10.4,2h.1m5.5-1.7h.1m9.2-.4h.1m29.3,.1h.1m8.5-.4h.1m17.3-.2h.1m21.3,.3h.1m1.3,.4h.1m.2,.1h.1m.3,1.3h.1m50.9-.5h.1m-245.3,3.1h.1m.9,.9h.1m1.6,0h.1m32.6,0h.1m10.1-1.2h.1m0-1.7h.1m32.7,.8h.1m.5-.5h.1m18.9,1.9h.1m1.1-1.3h.1m.5,1.3h.1m.9-1.1h.1m31,1.7h.1m11.4-.9h.1m0,.1h.1m10.2,0h.1m0-.9h.1m18.4-.2h.1m.9-.4h.1m4.3,1.5h.1m14.8,.2h.1m.7-1.6h.1m49.8,2.3h.1m-218,2h.1m.5,1h.1m8.9-.8h.1m10.6-1.9h.1m40.1,1.5h.1m13.3-.9h.1m.2,1.2h.1m.5-1.7h.1m12.4,2.1h.1m15.4,.4h.1m1-.3h.1m-.1-.1h.1m.4-.1h.1m.2,.5h.1m.6-1h.1m24.3-.9h.1m.5,.6h.1m17.4,1.2h.1m19.8-2.6h.1m0,.5h.1m.6,.6h.1m14.2-1.1h.1m1.3,.6h.1m.4,1.4h.1m25.2,.8h.1m6.2-.3h.1m-238.1,2.4h.1m.9,.1h.1m.5,.4h.1m.3-.6h.1m20.4,.9h.1m1.4-.8h.1m8.4,.6h.1m9.3-.2h.1m1.9,.1h.1m1.4-1.7h.1m10.9,0h.1m14.5,.7h.1m.3-1.5h.1m1.3,2.3h.1m.1,.1h.1m.3,.5h.1m23.9-2.3h.1m22.3,1.3h.1m.3-.1h.1m-.1,.7h.1m1-.6h.1m5.8-.7h.1m26.2-.7h.1m0,.4h.1m35.9-.1h.1m.2,1.9h.1m15.4-2.7h.1m.5,.2h.1m.6,2h.1m.7-.3h.1m0,.5h.1m.4-1.5h.1m-.1-.5h.1m0,1.6h.1m6.4,0h.1m22.5-.1h.1m-234.6,1.4h.1m20.1,.6h.1m1.2,0h.1m8.9,.1h.1m29-1h.1m.8,.5h.1m1.2,1.2h.1m7.9-1.3h.1m.5,1.8h.1m.1-1.4h.1m13-.8h.1m3.7,1.4h.1m.4-1.2h.1m.5,2.3h.1m0,.3h.1m4.9-2.3h.1m20.5,.5h.1m1.1-1h.1m.2,.5h.1m1,1.2h.1m.7,.1h.1m.1-.3h.1m7.2-.7h.1m.4,.9h.1m.2-.5h.1m8.2,1.1h.1m.3-.4h.1m3.2-1.9h.1m.7,.6h.1m12.5,.3h.1m14.7-.5h.1m20.8,.4h.1m.8,.2h.1m.6-.1h.1m16,.5h.1m.4,.5h.1m6.5-1.1h.1m-210.5,2.2h.1m1.7,1.5h.1m18.7-.2h.1m.5-.7h.1m16.3-.3h.1m31.8-.1h.1m7.2,.3h.1m1.8,.9h.1m1.5,0h.1m1.2-.3h.1m33.5-.1h.1m.2-.5h.1m.2,.8h.1m0-.8h.1m1.2,2.3h.1m.1-1.9h.1m.9,1.4h.1m7.1-.4h.1m18.9-.1h.1m6.6,.6h.1m1.4-.3h.1m26.3-.1h.1m8.6-1.5h.1m1.3,1h.1m.2,1.1h.1m13.5,0h.1m3.8-.9h.1m24.8-.8h.1m0,2h.1m.3-2.8h.1m.6-.1h.1m17.6,2.4h.1m-252.5,1.9h.1m5-1.3h.1m17.9,2.4h.1m0-1.3h.1m4.3-.7h.1m13.9,1.5h.1m22.9,.9h.1m4.8-2.3h.1m1,.9h.1m31.5-.1h.1m1.6,.6h.1m2.1-.9h.1m0-.6h.1m.8,2.1h.1m10.4,0h.1m3.4,.1h.1m11.4,.2h.1m14.9-.7h.1m1-1.3h.1m3.9-.8h.1m.8,2.1h.1m.1-1.7h.1m55.2,1.1h.1m1.4,.8h.1m19.6-.4h.1m1.2-1h.1m-.1-.1h.1m.7-.2h.1m.7-.3h.1m14.2,1.7h.1m2.4-1.6h.1m-235.6,4.7h.1m6.9-.7h.1m44.8-.6h.1m14.1,2.1h.1m.6-1.2h.1m14.7,.2h.1m.2,0h.1m7.6-1.4h.1m1,1.4h.1m9.9-.5h.1m4.8,.3h.1m11.9,.2h.1m.9-1.4h.1m0,.6h.1m.5,1.5h.1m44.4-1.8h.1m9.2-.6h.1m1.7,.5h.1m2.1,2.1h.1m51.6,.1h.1m.5-1h.1m2.5-1.9h.1m-254.1,4h.1m2.3,.4h.1m1.4-.4h.1m1.1,1.9h.1m21.9-2.5h.1m1.8,1.3h.1m16.1,1.2h.1m11.4-.1h.1m8.5-.2h.1m3.7-1h.1m3.5,.4h.1m.4-1.6h.1m.4,1.8h.1m23.1-2.2h.1m5.9,.5h.1m.2,1.3h.1m.6,.4h.1m8.7-2.2h.1m27,1.3h.1m.5,1.4h.1m.6-2.2h.1m0,1.5h.1m40.1-.6h.1m23.7,.8h.1m16.6-.6h.1m10.2-.2h.1m10.7,1.5h.1m7.5-2.6h.1m2,.8h.1m.8,1.5h.1m-214.8,2.4h.1m16.7-1.5h.1m19.4,1.5h.1m13.8-1.8h.1m0-.2h.1m.2,.9h.1m.6,.5h.1m1.9,.5h.1m11.4,.6h.1m1.3-.1h.1m7.9,.1h.1m1.2-2.2h.1m.6,1.1h.1m1.4-1.4h.1m22.5,2.9h.1m.3-.1h.1m8.1-.7h.1m.2,.7h.1m1.7-2h.1m.1,1.1h.1m14.6-1.4h.1m1.2,1.3h.1m39,1.1h.1m-.1-1.3h.1m16.6,.2h.1m1.2-.3h.1m2.7,1h.1m4.3-1h.1m22.8-1.1h.1m-244.9,4.6h.1m27.4,0h.1m.5-.8h.1m.2,.7h.1m.1,0h.1m20.6-.5h.1m18.2,.5h.1m.5-.4h.1m11.9-.5h.1m.1-.5h.1m1.7,.6h.1m.7-.2h.1m.2,1.5h.1m11.4-1.6h.1m.7,.4h.1m.4-.7h.1m.5,.5h.1m5.2-.5h.1m16.7,2.4h.1m2-2.6h.1m7.7,1.2h.1m2.5,1h.1m9.6-.6h.1m.1-1.7h.1m.3,1.2h.1m2.2,.9h.1m40.9,.6h.1m10.8-1.3h.1m1,.4h.1m.7,0h.1m.3-.5h.1m0-.4h.1m17.3,.8h.1m18.4,.9h.1m-205.5,2.2h.1m.4-.9h.1m-.1,.2h.1m24,.7h.1m29.3-.6h.1m6.4-.4h.1m9,0h.1m43.9-.7h.1m.4-.2h.1m54.4,.5h.1m10.3,1.1h.1"/><path stroke="#5ee6ee" d="M103.2,191.1h.1m75.4-.3h.1m18.5,1.1h.1m40.2-1.4h.1m12.9-.6h.1m20,.2h.1m.5,.4h.1m9.4,.9h.1m.9-.7h.1m16.8,.2h.1m1.1-.4h.1m.2,.8h.1m.4-1.1h.1m-215.7,4.7h.1m.6-.4h.1m18.3,.1h.1m10.6-.4h.1m3.5,.7h.1m.1-.3h.1m8.3-1h.1m18.1,1.1h.1m1.4,.2h.1m9.9-2.9h.1m20.3,1.9h.1m.9-1.3h.1m1,.9h.1m.1-.6h.1m0-.8h.1m44.1,2.5h.1m13.9-1.8h.1m.7-.5h.1m12.4,.5h.1m19.5,1.6h.1m1.4-.3h.1m9.9-1.1h.1m0-1h.1m-.1,2.2h.1m.2-1.6h.1m.8,1.1h.1m14.2,1h.1m1.1-2.6h.1m.1,2.7h.1m.5-2.2h.1m.3,1.5h.1m0-.6h.1m.5-.5h.1m.3,1.7h.1m5.4-.6h.1m-241.5,2.8h.1m20.7-.5h.1m15.8,1.1h.1m15.5-2h.1m0,1.7h.1m26.6,.7h.1m.2-2.4h.1m1.1,1.4h.1m.2-1.4h.1m39.7,1.2h.1m0-.7h.1m37.6-.5h.1m12.7-.5h.1m.5,1.1h.1m-.1-1h.1m.2,.8h.1m0,1.6h.1m1-.4h.1m13.3-.5h.1m.5-.6h.1m0,1.5h.1m18.7,.2h.1m.4-.3h.1m12.7-1.9h.1m14.6,1.6h.1m.5-1.7h.1m.9,.5h.1m-218.8,4.7h.1m1-2.6h.1m20,2.5h.1m.4-.5h.1m.1-1.8h.1m.3,.4h.1m11.8,2.3h.1m.3-1h.1m.2-1.3h.1m0,.5h.1m0,.1h.1m.1-.7h.1m.7,0h.1m.5-.5h.1m11.8,.7h.1m10.8,1.8h.1m3.6-2.2h.1m.6,.4h.1m9,1.3h.1m30.9-.5h.1m-.1-.7h.1m1.5,.4h.1m1.7,1.7h.1m14-2.4h.1m1.2,.5h.1m.3,1.5h.1m48.6-1h.1m17-1.5h.1m1.1,1.8h.1m25.9,.9h.1m1.2-1.7h.1m-240.2,2.1h.1m43.1,.4h.1m.1,1.9h.1m13.1-1.7h.1m-.1,.9h.1m.1,1.1h.1m.3-.5h.1m.2-1.3h.1m.5,.2h.1m0,.9h.1m14.6,.1h.1m12.9,.7h.1m1.8,.1h.1m4.9-.2h.1m14.9-1.3h.1m.3,.2h.1m2.8,.4h.1m27.6-1.7h.1m3-.2h.1m57.3,2.1h.1m18.2-.2h.1m.9,.3h.1m.1,.1h.1m1-1.3h.1m4.3-1.1h.1m14.4,.8h.1m-231.1,5.1h.1m35.6-1.5h.1m13.1-.5h.1m.5,1h.1m.2,.3h.1m.8-1.3h.1m.1-.9h.1m0,.5h.1m8.1,1.9h.1m5.7-1.4h.1m.3,.9h.1m12.4,.1h.1m.4,.5h.1m.2,0h.1m9.1-1.2h.1m8.6,.2h.1m24.4,0h.1m.1-.8h.1m63,1.8h.1m4.4-1.7h.1m2.5,1.6h.1m17.3,0h.1m.4-.9h.1m0,.4h.1m0-1h.1m.2,.6h.1m0,1.4h.1m.4-2.1h.1m0-.4h.1m8.3,.8h.1m6.8-.6h.1m13.1,1.4h.1m-205.2,3.5h.1m.5-2.1h.1m29.7,1.3h.1m.3,1.2h.1m.8-2.7h.1m12.6,.3h.1m10.5-.5h.1m1.3,2.4h.1m14-2.4h.1m1.9,2h.1m36.2,.8h.1m20.4-2.4h.1m5.9,2.5h.1m10.8-.5h.1m4.2,.2h.1m24.8-.8h.1m.4,.7h.1m9.6-1.8h.1m-197.4,4.8h.1m3.5-1.5h.1m7.5,1h.1m31.7,.1h.1m.2-.1h.1m.7-.1h.1m22.5-1.4h.1m1.6,1.1h.1m28.3,.9h.1m.4-1.5h.1m.7,.3h.1m22.9,.5h.1m.1,.5h.1m.7-1.9h.1m.5,.7h.1m.1,.7h.1m16.2-1.7h.1m10.8,2.7h.1m10-2.5h.1m.9,.2h.1m.4,.3h.1m.1,1.1h.1m7.6-.6h.1m17.2-.5h.1m.1,1h.1m.3-.8h.1m0,0h.1m.3,.2h.1m.1-.3h.1m29.8,.6h.1m-220,3.2h.1m11.9-.3h.1m.3,1h.1m.7-.2h.1m17.4-.7h.1m.7,1.2h.1m12.3-2.3h.1m.2,1.5h.1m.2-.4h.1m.7,.4h.1m.4-1.4h.1m-.1,.9h.1m0,1.1h.1m.3-1.3h.1m11.7-.8h.1m1.1,1.8h.1m8.6,.7h.1m0-1.6h.1m.1-.3h.1m.9-.4h.1m0,.3h.1m56.4-.8h.1m10.5,2.1h.1m.9-.4h.1m.4-1.5h.1m.4,.7h.1m.3-.8h.1m12.7-.2h.1m.5,1.1h.1m8.9,1.1h.1m.5-1.3h.1m26.6,1.5h.1m17.2-.9h.1m-246.1,3.1h.1m52.1-.9h.1m.2,.8h.1m4.5,.4h.1m10.3-1.4h.1m3.1,.9h.1m12.7-1.3h.1m.1,.3h.1m.9,0h.1m22.2,2.5h.1m1.3-2.5h.1m6.5,2.5h.1m7-.8h.1m9.4,.6h.1m1.2-.2h.1m7.2-.5h.1m23.8,.5h.1m.6,0h.1m-.1,.2h.1m0-1.2h.1m.1,.8h.1m.4-2.3h.1m11.6,.1h.1m-.1,2.2h.1m.9-1.2h.1m.1,1.1h.1m.3,.6h.1m.4-.8h.1m11.8-.6h.1m.2-.9h.1m.3,.5h.1m.9,.5h.1m10,0h.1m.1-.4h.1m9.1,0h.1m15.9-1.1h.1m.2,1.4h.1m.2-.4h.1m.2,.4h.1m16.1,1h.1m.9,.3h.1m-219.1,2.7h.1m1.8-2.4h.1m29.9,.9h.1m2.1,1.5h.1m1.5-.4h.1m.9,.7h.1m3.8-.5h.1m.8,.2h.1m.8-2.3h.1m.8,.5h.1m0,.9h.1m-.1,1.2h.1m.8-1.3h.1m9.3,1h.1m.4,.5h.1m.2-2.1h.1m1.2-.6h.1m8.9,.3h.1m.1,1.4h.1m.4,.3h.1m0-1.7h.1m14.3,.4h.1m.2-.2h.1m1.5-.7h.1m6.4,2.6h.1m0-.9h.1m.2,.7h.1m.3-1.6h.1m-.1,.5h.1m13.1,1.6h.1m0-.4h.1m0-.5h.1m1.7,0h.1m0-1.5h.1m31.5,.4h.1m1.2,1h.1m.4-1.4h.1m11.5,.2h.1m.3-.3h.1m.2,2.1h.1m.7-2.3h.1m1.2,1.8h.1m13.5-.5h.1m3.5,1h.1m5.2-2.2h.1m.6,1.1h.1m43.1,.6h.1m.7-1.5h.1m-237.5,2.5h.1m1.3,2.9h.1m36.7,0h.1m1.9-.5h.1m.6,.1h.1m13.3-2.3h.1m3,.4h.1m.3,.6h.1m1.2,.1h.1m.3-.3h.1m.6,.6h.1m1.1,.6h.1m.4-2.2h.1m-.1,2.5h.1m.3-.7h.1m9.3-.9h.1m12.3,0h.1m.3,.9h.1m.3,1h.1m.2-.3h.1m11.9-1h.1m.2-1.1h.1m8.3,1.5h.1m.3,0h.1m.4-.9h.1m13.4,.3h.1m1,.2h.1m.2,1.3h.1m0-1.6h.1m-.1-1.2h.1m.3,1.1h.1m-.1,1.3h.1m.6,0h.1m.1,.1h.1m.2-1.5h.1m16.3-.9h.1m3.8,2.8h.1m9.2-1.8h.1m.2-.2h.1m1.2-.3h.1m.8,.4h.1m.2,1.2h.1m42.5-1h.1m16,.7h.1m10.7,.9h.1m8-.4h.1m1.8,.2h.1m-234,3h.1m0-1.7h.1m25.7,.7h.1m0-.6h.1m1.4,1.9h.1m12.1-2.8h.1m21.1,.3h.1m6.9,1.2h.1m1.4-1.3h.1m.4,.2h.1m26.6,.9h.1m.4-.3h.1m.8,1.8h.1m6.2,0h.1m.3-.1h.1m.2-2.1h.1m1.3,2.1h.1m-.1-.6h.1m.7,.7h.1m.2-.2h.1m11-2.7h.1m.9,.3h.1m19.5,1.6h.1m.1-.7h.1m1.2,1.2h.1m.2-.8h.1m13.1-1.6h.1m33.3,2h.1m24.6-1.4h.1m19.6-.5h.1m15.3,.8h.1m.4-.5h.1m.2,1.8h.1m-236.3,2h.1m.3,1.3h.1m.5-1h.1m.9,.5h.1m11.5,.4h.1m28.7,.4h.1m14.4-2.6h.1m.5,.2h.1m13.1,.1h.1m-.1,1.8h.1m.8-.4h.1m.3,.6h.1m.8-1.1h.1m.5,.8h.1m4.5,.7h.1m12.6-2.3h.1m0,.9h.1m.8,.2h.1m.5,.7h.1m1.3-1.4h.1m.6-.6h.1m8.5,.6h.1m.8,.1h.1m2.8,.9h.1m1.4-.5h.1m17.9-1.3h.1m.5,.7h.1m0-.9h.1m.7,1.3h.1m.2,1.6h.1m0-2.6h.1m0,1.3h.1m13,.4h.1m3.4-.9h.1m.2-.4h.1m30,0h.1m0,2.1h.1m.3-1.3h.1m16.5-1h.1m28.4-.5h.1m2.5,2.1h.1m12.6,.3h.1m.4-.5h.1m-236.4,1.6h.1m1.7-.5h.1m9.8,1.5h.1m0,.9h.1m1.5-.5h.1m0-1.5h.1m8.1,.6h.1m9.1,0h.1m8.1,1.1h.1m16.7-1.6h.1m1.2,.9h.1m13.2,1.1h.1m1.4,.2h.1m.5-1.6h.1m.4-.2h.1m.1-.5h.1m2.2,.2h.1m16.4,2.1h.1m15.4-.9h.1m.5-.8h.1m.3-.9h.1m.5,1.2h.1m17.8-.6h.1m45.5-.2h.1m.7,.6h.1m-195.6,4.1h.1m.2,0h.1m.2-.2h.1m0,.9h.1m.6-1.2h.1m.4-1.2h.1m0,1.2h.1m17.6,.9h.1m9.2-1.4h.1m2.3-.2h.1m2.2,.9h.1m.7,.8h.1m20.7-.4h.1m36.4-.6h.1m0-.6h.1m1.5-.2h.1m.6-.5h.1m.1,.4h.1m18.2,1.6h.1m16.2-.7h.1m2.5,1h.1m4.3,.2h.1m11.3-1h.1m23.4,1h.1m1.9-.5h.1m22.1-1.9h.1m31,2.4h.1m22.1-1.8h.1m-240,4.7h.1m1.3-1.4h.1m.3,1h.1m-.1-.4h.1m0-1.1h.1m.4-.3h.1m8.2-.6h.1m.2,1.6h.1m.6,.6h.1m.2-1.1h.1m.3,.2h.1m43.2,.1h.1m10.7,1.1h.1m5.8-.8h.1m.4-1.2h.1m30.9,2.1h.1m.8-1.5h.1m.1,1h.1m.9-1.7h.1m32.3,2.2h.1m15.9-2.2h.1m4.5,1h.1m3-.5h.1m.4,0h.1m1.8,.7h.1m6-1.5h.1m24.2,1.2h.1m23.6,1.2h.1m.8-1h.1m.4,.2h.1m8.9-.7h.1m13.5,1.5h.1m-247.5,2.9h.1m4.6,0h.1m0-1h.1m.2-.5h.1m-.1,1.1h.1m.4,.9h.1m.4-.7h.1m1.4,.4h.1m.1-1.2h.1m.3-1.4h.1m.9,2.7h.1m6.3-.2h.1m.1-.1h.1m.3-2.4h.1m24.3,2.1h.1m12.7-1.8h.1m26.2,2.5h.1m0-2.3h.1m.8,1h.1m1.1-.1h.1m14.7,1.5h.1m1.2-.3h.1m7.6-.9h.1m1.8-1.7h.1m3.1,2.4h.1m14.1-2.3h.1m.1,2h.1m.4,.8h.1m0-1.9h.1m.3,.4h.1m0-.2h.1m.4,1h.1m.4,.1h.1m15.4,.1h.1m0,.3h.1m.1-1.3h.1m.5,1.4h.1m.5-1.9h.1m10.4-.4h.1m2.3,2h.1m2.2,.1h.1m.7-.6h.1m.2-.7h.1m5.5-.5h.1m0,2h.1m.4-1.1h.1m1.4-1.2h.1m10.2,.6h.1m0-.7h.1m0,1.2h.1m16.9,.2h.1m22,1h.1m1.9,.1h.1m1.4-2.5h.1m12,.5h.1m16.3,.6h.1m-255.6,3.9h.1m10.4-1.9h.1m1.4,.4h.1m1.3,.9h.1m0,.8h.1m.6-1h.1m.5-1.4h.1m.7-.1h.1m.1,1.6h.1m1.5-.3h.1m2.8-1.1h.1m.9,2.2h.1m1,0h.1m.9-1.5h.1m30.7,1.4h.1m1-2.4h.1m16.1,.4h.1m.2-.1h.1m13.9,.1h.1m1.2,1.6h.1m15.8-.3h.1m.3,.2h.1m.2-.9h.1m.3,1.5h.1m0,.1h.1m-.1-.8h.1m0-.2h.1m6.6-1.3h.1m1.9,1.3h.1m.2-1.6h.1m1,1.9h.1m.7-.9h.1m.3,.1h.1m14.6-.1h.1m1.4,.7h.1m-.1-.9h.1m0,.3h.1m.3,.5h.1m.4,1h.1m0-2.1h.1m16-.1h.1m12.2,.3h.1m9.5-.7h.1m.4,0h.1m.4,1h.1m-.1,1.5h.1m1.8-.4h.1m10.8-.7h.1m1-.3h.1m0-.5h.1m0,.9h.1m35.7,.4h.1m2.4-1.8h.1m.1,.6h.1m.5-.2h.1m0,.2h.1m14.5-.5h.1m12.2,.4h.1m-237.6,2.4h.1m27.9,2.9h.1m10.6-2.3h.1m.4,1.6h.1m.5-.8h.1m-.1-1h.1m16.9,0h.1m14.3,1h.1m.4,1.5h.1m15-1.5h.1m.8-1.4h.1m.1,2.7h.1m.1-1.5h.1m0,1.2h.1m0,.1h.1m.2,.4h.1m0-2.4h.1m.2,2.2h.1m8.8,0h.1m.4-2.5h.1m56.8,.1h.1m2,2.2h.1m.2-.8h.1m.5,.1h.1m.1,.8h.1m.2-2.6h.1m38.1,2.4h.1m13.2-1.6h.1m15.5,1.9h.1m2.5-2.7h.1m10,.4h.1m.4,2.2h.1m-226.4,3.3h.1m3.7-.6h.1m.2,.1h.1m10.9-.9h.1m27.1,.2h.1m.7-1.1h.1m15.5,1.2h.1m1-.2h.1m14.7-.6h.1m.2,.5h.1m1.1,.1h.1m0-.8h.1m.6,.2h.1m7.6,1.3h.1m1-.7h.1m10.1,.8h.1m28.4-1h.1m11.7-1.4h.1m8.7,1.5h.1m.3,1h.1m37.8-1.5h.1m42.5,.4h.1m1.4-.5h.1m-250.5,4.7h.1m6.8-2.4h.1m11.7,2.6h.1m19.1-1.3h.1m.6,.6h.1m3.4,.4h.1m7.7-.7h.1m.4-1.5h.1m.4,.7h.1m-.1,.3h.1m.3,1.3h.1m.1-2.3h.1m.1-.3h.1m1.3,2h.1m30.4-2h.1m14.2,2.5h.1m.4-2.5h.1m-.1,.4h.1m.1,1h.1m.2-1.4h.1m9.2,2.2h.1m.2-.7h.1m.1-.8h.1m.2-.7h.1m.4,2.4h.1m-.1-1h.1m.1,.5h.1m0-.9h.1m1.1,.5h.1m1.5,1h.1m7.3-2h.1m1.3,1.2h.1m12.1,.4h.1m14.2-.4h.1m23.1,.3h.1m15.4-.1h.1m.1-.7h.1m0-.4h.1m0-.5h.1m.5,2.3h.1m.4-.5h.1m37.4-1.3h.1m11.8,.7h.1m0,0h.1m.1,1.3h.1m.4-1.4h.1m.5-.3h.1m13-1h.1m-235.6,4.4h.1m19.9,1.3h.1m2.3-.5h.1m11.4-.4h.1m.8-1.4h.1m22.6,1h.1m3.8,.4h.1m.9,.5h.1m.4-.1h.1m2.5-1.9h.1m16.2,1.1h.1m.1,.4h.1m6.6,.1h.1m4-1.6h.1m0,.1h.1m-.1,.2h.1m3.5-.5h.1m7.6,.1h.1m26.7,.3h.1m71.1-.1h.1m8.6,2.4h.1m1.1-.3h.1m10.3-1.3h.1m.3,1.6h.1m.2-1.4h.1m-242.5,2.4h.1m.5,1.4h.1m32.9-1.7h.1m3-.1h.1m.4-.3h.1m.1,2.3h.1m-.1-2.1h.1m.6,.3h.1m2.8,0h.1m12-.3h.1m1,1.2h.1m0,1.3h.1m.4-.2h.1m.7,.2h.1m16.3-.9h.1m.8,.9h.1m.2-1.4h.1m0-1h.1m25.7,.2h.1m.9,.7h.1m.8-.4h.1m.2,0h.1m22.1,1h.1m14.1,0h.1m37.9,0h.1m.1-1.3h.1m.2-.2h.1m9.6,1.9h.1m2.6-.9h.1m.3-1.2h.1m8,2.5h.1m1.3-.6h.1m44.3-.2h.1m2.1,.5h.1m10.7-.4h.1m-256.8,2.6h.1m.2,.7h.1m.2-.9h.1m.4,.8h.1m.3-2.3h.1m.1,.2h.1m10.7,2.4h.1m3.6-.7h.1m.8,.1h.1m1.7-.9h.1m.3-.5h.1m3.6-.6h.1m32.5,.7h.1m.8,1.5h.1m.6-.7h.1m15.2-.5h.1m.8,1.7h.1m7.6-.3h.1m40.2-2.1h.1m1.7,1.3h.1m4.1-.1h.1m33.5,1.4h.1m.5-2.4h.1m.2,.7h.1m.4,1.6h.1m14.3-2.8h.1m-.1,2.5h.1m43.2-1.6h.1m22.3,.6h.1m1.8,.5h.1m-.1-.4h.1m-244.9,4.3h.1m1.6-2.4h.1m.5,1.1h.1m14-.7h.1m3.4-.5h.1m51.6,.2h.1m0,1.9h.1m1.1-2.5h.1m.6,1.5h.1m.7,.5h.1m26.7-1h.1m0,.9h.1m20.9-1.6h.1m.5,.5h.1m1.7-.3h.1m12.6,.5h.1m92.3,1.4h.1m15.5-1.7h.1m0,2.2h.1m-245.2,2.6h.1m.7-.1h.1m.5-2.3h.1m.3,1.8h.1m.2-.8h.1m.5-.2h.1m46.8,1.7h.1m2.7-1.8h.1m18.7-.3h.1m1.1,.7h.1m.5-.7h.1m0,1.1h.1m8.2-1.3h.1m18.6,2h.1m.5-.2h.1m.8-.3h.1m.3-1.8h.1m7.7,2.9h.1m1.6-.5h.1m2.9-.1h.1m1-.4h.1m8.7-1.7h.1m33.8,0h.1m18.1-.2h.1m.8,1h.1m.8-.3h.1m-.1,1.3h.1m1.1-.8h.1m2.6,.7h.1m1.7-1.2h.1m.6,1.8h.1m1.8-1.9h.1m25.7-.6h.1m13.9,1.7h.1m.4-1.3h.1m.4,2.3h.1m1.9-.3h.1m.1,.3h.1m1.2-.6h.1m14-1.2h.1m.8,2h.1m.6,0h.1m-246.7,3h.1m0-1.9h.1m1.3,.4h.1m9.3-.7h.1m.9,.6h.1m1.9,1.6h.1m11.4-.4h.1m.7-.2h.1m23.8-.9h.1m24.5,1.1h.1m1.8-2.1h.1m6.4,1h.1m1.5,.7h.1m.6-.6h.1m13.6,1.3h.1m.6-.8h.1m0-1.5h.1m0,2.4h.1m0-.1h.1m.2-1.3h.1m0,.7h.1m.5-.7h.1m7.3-1.5h.1m1.9,1h.1m7.3,.8h.1m1-1h.1m1.3-.5h.1m49.4-.3h.1m14.3,.5h.1m1.2,1.9h.1m4.3-1.5h.1m2.3,1h.1m1.3-.9h.1m13.1,1.4h.1m3.5,.5h.1m13-2.9h.1m4.6,2.7h.1m.2-2.1h.1m17.6-.4h.1m1.8,2.4h.1m10.1-.9h.1m0-1.4h.1m-258.3,4.9h.1m12.9-1.6h.1m.4,1.2h.1m1.6-1.1h.1m8.7,2h.1m-.1-.8h.1m1.1-1.4h.1m.3,1.4h.1m-.1-1.1h.1m30.9,1.4h.1m23.5-2.1h.1m4.3,.2h.1m.4,1.6h.1m13.3-.4h.1m.6,.3h.1m1.2-1.7h.1m8.3,2.4h.1m.6-.7h.1m.2,.6h.1m9.3-2.4h.1m.3,1.5h.1m10.2-.3h.1m42.7-.9h.1m10.8,0h.1m.7,2.2h.1m-.1-1.8h.1m.8-.2h.1m0,2h.1m1.1-2.1h.1m58.5,.1h.1m0-.2h.1m1.4,1.3h.1m.1,1.3h.1m.9-2.5h.1m8.8,1.3h.1m.3-1.7h.1m.1,2.7h.1m.1-1h.1m.2-1.6h.1m0-.1h.1m.3,2.3h.1m-259.9,1.6h.1m.2,.6h.1m.8-.6h.1m0,.1h.1m.4,1.4h.1m0-1.5h.1m5.8,1.9h.1m7.4-.4h.1m0-1.1h.1m.8,.1h.1m.9,0h.1m.1,.6h.1m7.3-1.6h.1m.2,1.9h.1m0-1.7h.1m.3-.6h.1m9.4,.7h.1m0,1.3h.1m-.1,.4h.1m1.8-1.8h.1m11.5,.4h.1m25.1,.8h.1m0-.5h.1m31.9,1.2h.1m2-.9h.1m1.4-.6h.1m0,.6h.1m.1-1.1h.1m.2-.1h.1m1,1.5h.1m.3-.8h.1m8.2-.7h.1m31,1.9h.1m-.1-.9h.1m.4-.9h.1m.8,2.1h.1m33.5-1.9h.1m.4,2.1h.1m10.6-1.1h.1m1.4,.7h.1m29.3-.1h.1m18.8-.8h.1m.4-.6h.1m.9,1.1h.1m.7-1h.1m.1,1.4h.1m7.4-1.4h.1m.1,.4h.1m.6,.7h.1m0-1.1h.1m.1,1.7h.1m.1-2.2h.1m.4,.2h.1m-259.5,3.7h.1m.5-.2h.1m-.1,.3h.1m.3-1.3h.1m0,1.7h.1m.4,.5h.1m12.3-1.7h.1m.1,1h.1m0-1.5h.1m.1,2.2h.1m0-1.5h.1m2.4,.2h.1m.7,1.8h.1m12.2-1h.1m2.7-.9h.1m4.8-.6h.1m10.8,2.1h.1m11.2-.2h.1m.4,.4h.1m-.1-2h.1m1.4,1.7h.1m10.6-2.2h.1m.4,.2h.1m.2,1.5h.1m.3,.1h.1m.2-1.8h.1m-.1,2.7h.1m14-2.6h.1m.1,2.2h.1m.4,.4h.1m.4-.7h.1m15.4-1.6h.1m.5,1.9h.1m0-2h.1m1.2,1.1h.1m11.9-.6h.1m2.2-.6h.1m12.5,1.1h.1m.1-.8h.1m.2,.7h.1m16.5,1.4h.1m1.1-2.5h.1m0,.9h.1m0,.3h.1m.4,1h.1m18.5-2.4h.1m27.7,1.8h.1m16.1-.2h.1m10.6-.7h.1m23.6-.8h.1m0,1.9h.1m1.3-2.1h.1m1.7,2.5h.1m1.3-.6h.1m2.2-1.9h.1m.2,0h.1m.3,.5h.1m1,.9h.1m.6-1.2h.1m-.1,.7h.1m.5,.6h.1m-259.2,3.8h.1m.5,.4h.1m.4-1.7h.1m.3,.4h.1m.1,.8h.1m13.3,.1h.1m.2-2.3h.1m1,.5h.1m3.4,.9h.1m12.6-.5h.1m.2,.5h.1m10.5,.5h.1m.1-1.3h.1m.8,1.4h.1m.3-.1h.1m6.9,.5h.1m19.8-2.4h.1m.5,.3h.1m15.8,2.5h.1m-.1-.5h.1m.1,.6h.1m13.8-2.8h.1m31.3,1.3h.1m1.3-.9h.1m21.6,.5h.1m11.8-1h.1m16.7,2.1h.1m.5-.5h.1m10.9-1.2h.1m0,.2h.1m19-.2h.1m14.3,2.3h.1m2-.6h.1m13.5-.2h.1m11.7,1h.1m.9-2.4h.1m-259.8,5h.1m.7-2h.1m.2,.6h.1m.4,.7h.1m.1-1.4h.1m.1,2.1h.1m17.7-.1h.1m11.7-.6h.1m56-1.5h.1m.7-.2h.1m1.2,2.8h.1m11.7-1h.1m.2-1.4h.1m1.3,1.5h.1m.4-.5h.1m14.8-.7h.1m16.6-.3h.1m10.3,1.9h.1m3.6-2.2h.1m1.6,.4h.1m1.5,.3h.1m.4-.2h.1m28.9,1.2h.1m3.3-.3h.1m7.4,.6h.1m.4,.5h.1m0-1.7h.1m32.6,1.1h.1m.5-1.1h.1m.1,1.5h.1m.4-1h.1m19.9,1.3h.1m.9-1.4h.1m-249.1,2.6h.1m.4,1.9h.1m.6-.9h.1m-.1-1h.1m4.2-.2h.1m13.9,2h.1m.3-.9h.1m2.5,.5h.1m15.1-.4h.1m6.2-1h.1m.3,1.8h.1m.7-.7h.1m13.1-.7h.1m32.9-1h.1m52,.3h.1m.1-.5h.1m.5,.7h.1m.3-.2h.1m28.1,1.2h.1m19.7-1h.1m.1-.9h.1m.2,1.5h.1m-.1,1.1h.1m-.1-2.6h.1m.4,.7h.1m.2,2h.1m14.9-.1h.1m1.3-.8h.1m15.9,.9h.1m1.2-.5h.1m.4-.1h.1m-225.8,3.2h.1m17.3-1.2h.1m.1-.7h.1m2.7,1.8h.1m12.3-1.1h.1m.5,1.2h.1m6.9-.2h.1m1.4-.6h.1m1.6,0h.1m1-.6h.1m7.2,.6h.1m4.9,.6h.1m6.2-.6h.1m33.1-.4h.1m.1,.7h.1m.5-.2h.1m0-.6h.1m.2-.1h.1m-.1,.5h.1m.6-1h.1m0,2.5h.1m.3-1h.1m13.9,.5h.1m.7-1.5h.1m0,1.3h.1m15.1-1.6h.1m12.3,.7h.1m48.9,.2h.1m.8-.4h.1m-.1,.4h.1m.2,1.3h.1m.3-2.3h.1m.9,1.5h.1m-159.1,2.6h.1m18.5-1.2h.1m3.7,2h.1m.1-1.3h.1m.4,1.4h.1m1.3,.4h.1m3.1-2.6h.1m35.6,.8h.1m.4,1.6h.1m.1-2.2h.1m0,.8h.1m.9-.8h.1m12.1,.4h.1m29.6-.5h.1m.2,2h.1m.4-2h.1m.4-.3h.1m10.4,0h.1m22.1,1h.1m15.5,0h.1m.3,1.5h.1m.9-.8h.1m.3,.7h.1m.4-2.4h.1m.4,1.4h.1m.1-.1h.1m.1,0h.1m11.9,.5h.1m33,1h.1m-237.7,.4h.1m23,1.5h.1m7.9-1.5h.1m.6,.9h.1m.7,1.3h.1m.4-.9h.1m.4-1.1h.1m12.3,1.2h.1m6.5-.8h.1m2.3-.4h.1m1.2,.9h.1m8,1.4h.1m.1-.7h.1m0,.3h.1m.4-1.4h.1m6.5,1h.1m10.4,.9h.1m-.1-.8h.1m.2-.3h.1m.2-.4h.1m.1,.6h.1m10.2-1h.1m2.3-.5h.1m.1,1.6h.1m.9-.7h.1m.4-.4h.1m.5-.6h.1m10.2,.4h.1m2.3-.8h.1m2.6,2.2h.1m2.8-1h.1m.3,1.7h.1m2.7-.2h.1m2.5-1.2h.1m32.5-1h.1m.3,1.3h.1m33.8-1.5h.1m.3,.4h.1m.1-.7h.1m1.2,1.2h.1m1.8,.1h.1m1.5-.5h.1m-191.8,3.6h.1m20.6-.2h.1m.7,.6h.1m.6,.3h.1m7-1.9h.1m.9,1.3h.1m.1-.6h.1m9.4,1.6h.1m11.4-1.1h.1m.5,.1h.1m1.1-.1h.1m6.8-.5h.1m-.1-.5h.1m1.4,1.9h.1m.2-.8h.1m17.6,.3h.1m0-.7h.1m.1-.7h.1m4.3,.4h.1m5.4,1h.1m5.1-.1h.1m6-.3h.1m9.4,.5h.1m5.5,.5h.1m.7,.2h.1m48.6-1.5h.1m.4,1.3h.1m14.9-.4h.1m.6-2h.1m26.7,.8h.1m.3,.2h.1m6.7-.6h.1m.7-.3h.1m.9,.7h.1m15.9,2.1h.1m.4-.2h.1m-.1-.6h.1m.7,.2h.1m-212.4,2.6h.1m5.7-1.2h.1m1.6,.7h.1m11.1-1.2h.1m10,.8h.1m1.3,.7h.1m.7-.2h.1m27.7,1h.1m6.6-2h.1m2.9,0h.1m4.5,.5h.1m14.4,1.6h.1m6.5-1.4h.1m.3,.5h.1m.1,1.2h.1m1.1-2.3h.1m.7,1.1h.1m43-.3h.1m0,.6h.1m.5-.5h.1m.2-1.4h.1m16.9,1.2h.1m.1,1.3h.1m16.8,.3h.1m5.3-.4h.1m29.1-.1h.1m1.5,.5h.1m.8-1h.1m.6,1h.1m-213.5,.1h.1m.3,.6h.1m1.1,0h.1m18.9-.2h.1m7.3,2.4h.1m18.9-1h.1m12.5-1.3h.1m.1,1.5h.1m-.1-.9h.1m0,1.8h.1m14.3,0h.1m8.9-1.7h.1m3.3,1.1h.1m8.8-.6h.1m4.4-1.4h.1m9.8,.9h.1m22.5-1.2h.1m1.4,2.9h.1m1.7-.4h.1m.1-.6h.1m1.5,.5h.1m19.6,0h.1m.3-.3h.1m.3-.8h.1m.1,1.3h.1m7.7-.8h.1m12.3,.7h.1m1.8-.5h.1m29.9,.3h.1m1.5-1h.1m1.2-1h.1m.4,2.4h.1m10.2-.3h.1m-249.1,1.4h.1m24.6,2.1h.1m19.4-1.1h.1m4-.9h.1m3,.4h.1m27.5,.2h.1m4.7-.5h.1m.9-.1h.1m11.6,.8h.1m2.2-1.2h.1m0,1h.1m.5-1.1h.1m9.3,.1h.1m12.4,2h.1m14.9,.2h.1m.1-2.6h.1m.1,.6h.1m.2-.1h.1m23.1-.3h.1m.4,1.6h.1m1.1,.5h.1m12.6-1h.1m5.6,1h.1m.8-.7h.1m1.9,.8h.1m.9-.5h.1m.4-.8h.1m1.5,.9h.1m28.5,.3h.1m14.5-.5h.1m5.9-.9h.1m1.5,.7h.1m.1,1.1h.1m.7-2.7h.1m.2,.5h.1m.9,1.6h.1m.4-.9h.1m0,.6h.1m.3-1h.1m-189.8,3.6h.1m33.4-.1h.1m.1-1.4h.1m13.7,.3h.1m0,.6h.1m.4,.4h.1m-.1-.6h.1m.7-.7h.1m16.9,1h.1m6.4-.3h.1m11,2.2h.1m1.6,0h.1m5.2-.2h.1m17.9-1.6h.1m.9,.5h.1m.4,1h.1m.3-.7h.1m0-.2h.1m0-.3h.1m.4,.6h.1m12.6,.5h.1m1.1,.2h.1m3.9-2.1h.1m6.7-.2h.1m.2,1h.1m38.9,1.1h.1m1.4-2.2h.1m10.3,.6h.1m11.1,1.6h.1m-226.2,3h.1m28.7,0h.1m12.1-2.2h.1m6.8,.3h.1m4.3,1.8h.1m10,.5h.1m1.3,0h.1m13.3-2h.1m.6,1.7h.1m.9,.3h.1m13.5-.3h.1m1-.8h.1m5.7,.2h.1m-.1-.7h.1m.5,1.4h.1m4.6-1.5h.1m6.5,1.3h.1m1.1,.2h.1m25.2-.8h.1m.4,.6h.1m-.1-2.1h.1m.4,1h.1m13,.3h.1m.4-.7h.1m9.5,1h.1m16.2,.1h.1m.2,.2h.1m.1-.9h.1m35.8-1.2h.1m.2,.4h.1m.6,.7h.1m-218.7,4.6h.1m13,0h.1m23.5-1.1h.1m15.2-.8h.1m.7,.1h.1m13,.3h.1m1.2,.3h.1m12.6-.2h.1m2.1,.6h.1m11.1-1.8h.1m.2,2.3h.1m1.7-1.9h.1m6.2,1.7h.1m0,.5h.1m.4-.5h.1m-.1-1.9h.1m.2,1.2h.1m1.5-1.3h.1m-.1,1.2h.1m.6-.9h.1m7.9,1.1h.1m.3,.7h.1m.1,.4h.1m.7-1.7h.1m24.7,1.2h.1m.3-.2h.1m2.1,.7h.1m-.1-1.7h.1m.1-.7h.1m13.1,1.4h.1m1-.9h.1m24.1,.4h.1m.4,.6h.1m0-.1h.1m1.1-.2h.1m.4,.5h.1m16.4,.2h.1m17.2-.6h.1m1,.1h.1m.6-.5h.1m9.4-1h.1m1.9,2.1h.1m-148.5,1.7h.1m19.8-.9h.1m.2,.6h.1m1-.4h.1m.8,1.2h.1m10.6-1.3h.1m12.5,.4h.1m12.2-.8h.1m.9,1.3h.1m12.8,.1h.1m1.6-.8h.1m.1-.4h.1m25.7-.2h.1m.3,.8h.1m1-.6h.1m0,1h.1m.8-1.2h.1m1,1.2h.1m3.8,.2h.1m2-1.2h.1m24.9,1.1h.1m-.1-.1h.1m1.4,.2h.1m-.1-.9h.1m.5,0h.1m17.8,1h.1"/><path stroke="#6cf07c" d="M94.4,190.5h.1m5.1-.1h.1m3.5,.5h.1m52.3-.4h.1m2.6,0h.1m65.8,.6h.1m6-1.2h.1m19.3,.9h.1m11.8,.6h.1m40.6-1h.1m-254.1,3.3h.1m15.9,1.2h.1m1.8-.1h.1m.2-1.9h.1m20.1-.5h.1m10.5-.4h.1m22.8,2.2h.1m.3-1.2h.1m4.6,1.1h.1m20.3,.4h.1m.3-.3h.1m31.6-.8h.1m1.2,0h.1m-.1,1.5h.1m45.4-1.5h.1m35.2,.8h.1m.8-.7h.1m.1,1.4h.1m.3-.9h.1m.2-1h.1m35.9,.4h.1m2,.1h.1m5-1.5h.1m2.5,.1h.1m-249.2,5.5h.1m.5-.6h.1m5.3,.3h.1m.9-2h.1m.2,0h.1m.8,.2h.1m34.5,0h.1m.9,1.3h.1m1.1,1.1h.1m1.4-2.8h.1m4.4-.1h.1m7.7,1.5h.1m27.6,.5h.1m.4-1.4h.1m1.3,1.7h.1m-.1-1.5h.1m-.1,1.7h.1m10.4-.6h.1m15.8,1h.1m27.9-2.4h.1m5.2,1.3h.1m13.6,1.1h.1m.2,0h.1m3.3-2.5h.1m17,1.6h.1m11.6,0h.1m3.6,.9h.1m2.2,0h.1m0-2.6h.1m.4,.2h.1m38.9,2h.1m1-1.2h.1m.1-.7h.1m1.4,.8h.1m-237,2.9h.1m.8,.6h.1m15.6-.1h.1m3.4,.2h.1m-.1-2h.1m18,.6h.1m1.8,.1h.1m14.4,2h.1m20.7,.2h.1m16-2.6h.1m1.5-.3h.1m8.6,1.9h.1m37.1-.5h.1m2.1,.9h.1m15.2,.2h.1m36.6-2.5h.1m-.1,.4h.1m23.3-.1h.1m-.1,.2h.1m.2,.4h.1m.5,.8h.1m17.3-.7h.1m.3,.3h.1m0-.5h.1m-226,4.6h.1m13.3,.1h.1m30.2-.9h.1m13.2,.3h.1m2-.1h.1m12.3,.4h.1m1.6,.4h.1m0,.3h.1m4.5-.6h.1m3.1,.4h.1m.8-1.9h.1m-.1,.4h.1m12.2-1h.1m2.9,.2h.1m17.2,2.1h.1m70-2.3h.1m1-.2h.1m39.2,1.9h.1m-182.1,3.5h.1m.3-.9h.1m.4-.3h.1m.2,1.7h.1m2.5-.4h.1m7.1,0h.1m19.4-.2h.1m14.4-1.8h.1m27-.4h.1m42.8,1.4h.1m.6,.4h.1m20.4,.1h.1m36.6-.1h.1m-201.6,2.5h.1m14.9-.4h.1m0,0h.1m4-.2h.1m10.5,.4h.1m2.6,.7h.1m12.4,.9h.1m9.5-1.9h.1m2.8-.9h.1m.5,1h.1m40.8,.5h.1m.1,.2h.1m.7-1.2h.1m.3,2.2h.1m.1-2.5h.1m17.3,1.6h.1m23,.1h.1m4.7-.9h.1m3.6,.9h.1m39-.6h.1m.6-.9h.1m-186,2.9h.1m3.7,0h.1m37.7-.1h.1m23.3,.2h.1m1.1,.1h.1m.7-.1h.1m17.7,1h.1m10.2,1.1h.1m.1-1.6h.1m.2-.3h.1m1.4-.1h.1m15.9,.5h.1m11.4-.6h.1m1.8,.6h.1m19.9,1.2h.1m14-1h.1m23.9,.5h.1m0,.3h.1m13.2-1.9h.1m16.4,2.4h.1m-258.5,.9h.1m71.7,.6h.1m11.5,.6h.1m1.7-1.1h.1m1.2,2.1h.1m12.6-.1h.1m11.2,0h.1m27.1-1.1h.1m1.1,.1h.1m1.2-.9h.1m-.1-.6h.1m.7,.2h.1m11.9,1.7h.1m23.8-1.7h.1m42.2,2.4h.1m9.1-2.6h.1m.5,.3h.1m0,1.2h.1m30.5,.3h.1m-206.4,3.2h.1m6.4,.9h.1m12.6-.9h.1m.2-1.2h.1m6.8-.1h.1m2.5,2.2h.1m.4,0h.1m14.4-1.4h.1m5.9-1.5h.1m5,.4h.1m1,.5h.1m.1,0h.1m12.3,0h.1m.7,1.6h.1m8.9-.4h.1m33.9-.2h.1m.4,.8h.1m24.5,.1h.1m1-1.8h.1m22.1,.4h.1m.4,1.4h.1m12.5-.4h.1m.8-2.2h.1m20.4,0h.1m-248.1,5h.1m.1-1.3h.1m26.5,.7h.1m4.6-.8h.1m3.1-.3h.1m16.2,.7h.1m0,1.4h.1m2.3-2.6h.1m16,1.7h.1m.8-1.6h.1m9.9,1.9h.1m0,.2h.1m.1-1.6h.1m.4-.1h.1m.5,1.1h.1m.1-.4h.1m0,.3h.1m-.1,.5h.1m.6-1.3h.1m82.6,1.2h.1m37.2-1.1h.1m24.9,1.9h.1m18-2.4h.1m1.9,.7h.1m3.4,1.9h.1m-241.5,1.5h.1m.3,.4h.1m-.1,.2h.1m1.5,0h.1m13.4,0h.1m1.4-.6h.1m23.3-1h.1m.6,.4h.1m14.1-.4h.1m2.5,.1h.1m12.1,1.7h.1m.5,.4h.1m.1-1.8h.1m47.9,.8h.1m.5-1.1h.1m0,.9h.1m.1,.7h.1m48.5-1.8h.1m2.7,1h.1m15.8,1.2h.1m12.2-1.5h.1m1,.4h.1m.4,.1h.1m.4-.5h.1m13.5,1.1h.1m.2-.2h.1m8.4-.7h.1m8.4,1h.1m14.9-.3h.1m-249.5,4h.1m2.4-2.5h.1m3.9,.1h.1m21.7,1.6h.1m0-1.5h.1m1.9,1.9h.1m12.1-2.2h.1m15,1.1h.1m4.2-1h.1m8.9,.5h.1m.3,1.6h.1m-.1-1.1h.1m0,.6h.1m1.4-1.6h.1m12.4,2.1h.1m12.4-1.9h.1m24,1.5h.1m.4,.3h.1m1.1-1h.1m18.3,1.3h.1m1.1-.1h.1m35.5-1.7h.1m10.5,1.7h.1m1.7-.6h.1m14-.4h.1m7.3,1.3h.1m3.2-2.5h.1m8,.7h.1m.5-1h.1m0,2.1h.1m.3-.9h.1m1,.3h.1m5.5-.4h.1m.3-.2h.1m1.3-1h.1m0,1.4h.1m.3-.1h.1m-.1,.7h.1m-234.4,2.4h.1m.8-1.4h.1m26.2,2h.1m.7-.1h.1m.8,.6h.1m9.3,0h.1m.9-1.7h.1m-.1,.7h.1m1.9-.3h.1m14.6,.8h.1m14.5,.3h.1m15.8-1.5h.1m33.5-.6h.1m2.1-.2h.1m-.1,1.5h.1m19.4-1.3h.1m1.8,.3h.1m11.6,0h.1m33.2,1h.1m-.1,.9h.1m-.1-1.4h.1m34.4,.3h.1m.2-.9h.1m.8,1h.1m6.8,1.3h.1m2-1.6h.1m.3-.9h.1m15.9,2.2h.1m-255.8,2.4h.1m3.7-1.1h.1m20.3,2.2h.1m7.2-.1h.1m.3-.9h.1m.1-1.1h.1m0,1.2h.1m28,.9h.1m.7-2.2h.1m17,1.8h.1m33,.4h.1m35-.8h.1m46.8,.3h.1m17.9-1.8h.1m2.2-.4h.1m.6,.2h.1m13.6,.5h.1m.1,1.1h.1m.1-1.2h.1m8.4-.5h.1m.2,.6h.1m.9,.8h.1m1.4-1.7h.1m-239.2,5.5h.1m14.6-.4h.1m1.4-1.3h.1m15.5-.1h.1m.1-.4h.1m1.5,1.1h.1m0-1.4h.1m21.8,2.3h.1m5.2-1.9h.1m30.7,0h.1m1.5,1.6h.1m18.8,.5h.1m.2-2h.1m17.1,1.8h.1m2.3-1.3h.1m6,.9h.1m1.1,1h.1m6.8-1.9h.1m.2,.7h.1m.1,.1h.1m.4-.3h.1m7.2-.7h.1m14,1.7h.1m1.2-2.1h.1m56.1,.1h.1m1.2,2.1h.1m-226.5,2.1h.1m17.5-1.4h.1m34.6,2.4h.1m25.8-1.6h.1m0,.9h.1m32.3-1.6h.1m2.3,2.5h.1m2.5-.4h.1m11.1-1.5h.1m.4-.1h.1m14.5,1.9h.1m15.8-.6h.1m8-.9h.1m1.3,.5h.1m1.6,1.1h.1m0-2.5h.1m4.7-.4h.1m26,2.9h.1m22.9-2.2h.1m1.4,1.3h.1m7.9-1.6h.1m.7,1.1h.1m13-.6h.1m4.5,.9h.1m1.2-.4h.1m3-.5h.1m-250.4,3.4h.1m11.9-.5h.1m17.9,.3h.1m-.1-.7h.1m.8,.1h.1m1.2-.1h.1m27.8,1.1h.1m.3,.9h.1m37.3,.5h.1m6.9-2.5h.1m33.7,.1h.1m16,.5h.1m6.3-.1h.1m1.6,1.3h.1m.4-.6h.1m28.4-1.2h.1m1.6,2.2h.1m1.6-1.3h.1m20-1.1h.1m12.3,.3h.1m15.9,2.2h.1m5.9-.8h.1m-247.7,1.3h.1m1.1,0h.1m.9,1.2h.1m5.9,.4h.1m2.3,.3h.1m10.9,.6h.1m.9-1.3h.1m9.4-1h.1m.2,.5h.1m.7,1h.1m.2-.6h.1m25,0h.1m0,.6h.1m14.3-.5h.1m.5-.9h.1m.8,2h.1m16.3-2.5h.1m10.4,1h.1m1-.5h.1m16.4,.2h.1m0,2.2h.1m36.8-1.5h.1m.7,1h.1m1.2-1.7h.1m.5-.4h.1m.7-.2h.1m0,.4h.1m.4,.9h.1m0,1h.1m.2-1h.1m26.4,.8h.1m10.2-1.8h.1m13.9,.3h.1m27.8-.4h.1m-241.6,3.3h.1m.7,.3h.1m58.1,1.7h.1m1.6-.3h.1m33.1-2h.1m9.4,.2h.1m18,.2h.1m18.2,.5h.1m13.9-.1h.1m1.9,.8h.1m1-.9h.1m.3-.8h.1m1.6,.5h.1m3.6-.5h.1m.1,2.3h.1m24.3-.6h.1m.9-1.6h.1m.4-.3h.1m12.1,1.2h.1m.8,1.2h.1m.4-.6h.1m2.5-1.6h.1m4.7,.6h.1m6,1.8h.1m15.9-2h.1m1,1.7h.1m11.7-1.2h.1m-244.8,3.8h.1m17.9,.4h.1m.4-1.4h.1m13.6,1.5h.1m.8-1.5h.1m21,1.6h.1m2.6,0h.1m36,.1h.1m.5-1.3h.1m35.6,.6h.1m71.5,0h.1m1.1-1.5h.1m.4,.6h.1m11.2,1.5h.1m.7-.7h.1m.4-.8h.1m3.9,.9h.1m-219.6,2.5h.1m.5,0h.1m31,1.3h.1m.3-2.3h.1m.4,2.3h.1m.2-1.2h.1m1.6,1h.1m.3,.4h.1m11.2-.5h.1m6.7,.4h.1m1.9-.3h.1m1.4-1h.1m.8,1h.1m1.5-2.1h.1m17.4,1.8h.1m.7-.6h.1m.1-1.2h.1m15.5,1.3h.1m10.5-1h.1m39.2,.7h.1m5.5,.5h.1m32.6-1.2h.1m.2,1.5h.1m.9-1.8h.1m.2-.3h.1m16.4-.1h.1m.5,.9h.1m1.3-.5h.1m12.3,2.5h.1m2.9-2.6h.1m.1,0h.1m14.8,1.1h.1m1,0h.1m9.2-.7h.1m5.1,1.6h.1m2.4-.7h.1m-241.5,4.3h.1m21.3-.4h.1m1.2-1.7h.1m1.1,2.1h.1m0-2.5h.1m20.2,2.1h.1m1.2-.2h.1m.1-1.3h.1m.2-.1h.1m19.6,.5h.1m-.1,1.3h.1m1.4-.4h.1m.1-.3h.1m.2-1.6h.1m.1,2.4h.1m2.2-1.9h.1m.2,.6h.1m14,1.1h.1m.5-.3h.1m72.5,.3h.1m1-.8h.1m13.2-1.3h.1m13.2,.8h.1m.1,.7h.1m1,.5h.1m-.1-.1h.1m6.6,.3h.1m9.7-.8h.1m-219.7,3.1h.1m-.1,.8h.1m.4-1.3h.1m.1-.9h.1m13.7-.1h.1m22.9,.7h.1m.9-1.2h.1m0,1.4h.1m0-.9h.1m.9,.9h.1m20.8,.5h.1m9.8-1.9h.1m1.9,.9h.1m7.8,1.9h.1m.4-.8h.1m0-1h.1m.4-.1h.1m.4-.9h.1m.6,.7h.1m-.1,.7h.1m.9,1h.1m11-.4h.1m27-.9h.1m.6-.2h.1m20.9,2h.1m30.6-2.4h.1m.4,0h.1m.1,1h.1m-.1,.9h.1m0-1.4h.1m1.3-.5h.1m8.3,1.4h.1m1.1-.5h.1m.2-.7h.1m0,.8h.1m12.8,0h.1m2.5-1.5h.1m8.4,.6h.1m2.9,1.8h.1m25.9-1.6h.1m15,.3h.1m1.4,.3h.1m-256.9,1.6h.1m11.5,1.5h.1m10.3-1.2h.1m2.7,2.6h.1m1.7,0h.1m3.7-1.4h.1m1.9,0h.1m11.4,.3h.1m14.7-.1h.1m-.1,.2h.1m.9,.5h.1m11.9,.1h.1m8-.9h.1m2.1,.3h.1m.5,.3h.1m18-.7h.1m16.5-1.1h.1m5.3-.2h.1m0,2.1h.1m.7-.7h.1m8.6,1.2h.1m1.1-.8h.1m4.1,.4h.1m5.9-2h.1m.4-.1h.1m15.5,2.2h.1m24.8-1.2h.1m-.1,1.2h.1m.4-2.5h.1m.5,.2h.1m-.1,.8h.1m.7,.9h.1m.5-1h.1m12.3,.2h.1m.5,1.3h.1m.9,.3h.1m.3-2.1h.1m.1-.1h.1m12.3,.9h.1m6.6-.8h.1m11.8,2.1h.1m11.9-1.6h.1m-229.4,3.9h.1m13.6-.2h.1m.6,.1h.1m39.9-.4h.1m8.7,.9h.1m.4-1h.1m.4,1.2h.1m.2-2.1h.1m.1,.8h.1m.6,1.2h.1m.6-1.1h.1m18.3,.6h.1m.6,.4h.1m.4,.2h.1m-.1-.1h.1m2.2,.3h.1m17.1-1.4h.1m14.8-.7h.1m0,2.2h.1m.7-2.6h.1m.3,1h.1m24.9,0h.1m1.9,.6h.1m11.7-.4h.1m8.5-.6h.1m.2,1.6h.1m27.2-2.1h.1m.2,1h.1m.3-.9h.1m0,1.2h.1m31.4-.5h.1m-240.8,3.9h.1m4.4-1.2h.1m11.2,.8h.1m51.6-1.1h.1m2.7,1.9h.1m.7-1.1h.1m4.6,1.3h.1m0-.5h.1m20.6-1.8h.1m0,.5h.1m.2,1.2h.1m.4-1h.1m.4,.4h.1m20.4,.3h.1m2.7-1.4h.1m11.9,.3h.1m7.4-.7h.1m38.8,1.9h.1m1.4,.5h.1m.3-2.3h.1m27,1.6h.1m3.4,.9h.1m14.1-1.6h.1m27.6,.4h.1m-252.9,2.7h.1m17-.1h.1m25.8,1.5h.1m-.1-1.2h.1m27.4-1.3h.1m1,1.7h.1m2-.9h.1m.3-.8h.1m.7,1.5h.1m18.2,1.4h.1m.9-1.2h.1m.5-.2h.1m1.1-1.2h.1m7.9,2h.1m3.5-1.6h.1m5.8-.4h.1m1.4,2.2h.1m7.3-1.3h.1m1.7,.7h.1m2.8,1h.1m20.4,0h.1m32.7-2.9h.1m43.4,.2h.1m1.7,.2h.1m25.8,.2h.1m-256,3.3h.1m3.5,1.6h.1m21.2-.6h.1m.1-.5h.1m10.2,.8h.1m12.7-2.1h.1m.3,2.4h.1m.4-1.4h.1m2,0h.1m1-.2h.1m20,.7h.1m9.2,0h.1m15.7-.6h.1m1-.6h.1m.5,.1h.1m.8-.5h.1m32,1.2h.1m.3,.4h.1m37.5-.5h.1m.7,.4h.1m.7-1.3h.1m0,1.4h.1m32.2-.7h.1m21.9,1.6h.1m.4-2h.1m.2-.4h.1m28.4,1.3h.1m.7-.5h.1m.8,2h.1m.2-1.9h.1m-258.9,2.1h.1m-.1,2.7h.1m34-.1h.1m.2,.1h.1m1-1.4h.1m13-.7h.1m.2,0h.1m11.1,1.7h.1m.9,0h.1m29.7-1.5h.1m9.1,1.2h.1m0-1.3h.1m9.8,.6h.1m41.2-.9h.1m20.2-.2h.1m26.8,2.3h.1m.4,.1h.1m0,.2h.1m27.2-2.9h.1m0,1.4h.1m.4-.6h.1m.8-.1h.1m13.9,.3h.1m1,1.9h.1m3.6-2h.1m11.4-.8h.1m.2,2.2h.1m.6-1.1h.1m-245.3,2.8h.1m19.4-.6h.1m1.2,.1h.1m12.2,2.4h.1m12.6-2.5h.1m2,0h.1m1.1,.4h.1m9.7,.6h.1m35.2,.9h.1m3.6-.8h.1m8.8,1.1h.1m28.9-.1h.1m1.3-1h.1m17.9-.1h.1m.7,1.4h.1m26.7-.2h.1m0-1.1h.1m.9,1.4h.1m.7-.5h.1m26.7-1.9h.1m.4,.5h.1m22.4-.6h.1m5.8,1.4h.1m.7,.1h.1m1,.6h.1m1.3,0h.1m-256.7,2.5h.1m8.5-2h.1m4.2,2.4h.1m17.8-1.5h.1m.2-.1h.1m.5,2h.1m.3,0h.1m.1-2.2h.1m.8-.3h.1m7.1,.6h.1m1.4,.7h.1m.8,0h.1m6.4,.3h.1m4.9,.1h.1m1-.6h.1m-.1,1.1h.1m.9,.3h.1m1.5-1.7h.1m.2,1.7h.1m.4-1.4h.1m12.8-.9h.1m30.5,1.7h.1m13.5-1.2h.1m1.3,.2h.1m1.3,.2h.1m14.7,.6h.1m27.7,.8h.1m5.6-1.8h.1m-.1,1.1h.1m1.2-1.7h.1m27.4,.3h.1m1.5,.2h.1m13.3,1.9h.1m8.8-1.9h.1m22.7,.9h.1m11-1.5h.1m2.5,0h.1m-257.4,3.4h.1m10.3,1.3h.1m.5-1h.1m20.4,.4h.1m.1,.6h.1m23.2-.3h.1m1.6-.2h.1m.1-1.5h.1m.9,2.6h.1m-.1-2.1h.1m0,.9h.1m1.3,0h.1m31.6,1.2h.1m24.2-.1h.1m1.5-.3h.1m1.8-1.8h.1m20.3,1.6h.1m1.4-.5h.1m1.5-.3h.1m61.9,1h.1m28.2-1.4h.1m12.7-.3h.1m-244.2,3.4h.1m.5-.3h.1m18.4,.6h.1m6.3-1.2h.1m9.4,1.8h.1m5.4-.7h.1m3.9,1.2h.1m12.1-1h.1m10.2-1.2h.1m18,2.8h.1m6.4-1.1h.1m1.4,.6h.1m21.9-1.5h.1m37.1,1.6h.1m39.7-2.5h.1m.4,2.2h.1m15.6-1.7h.1m16.7,.8h.1m18.3,1.6h.1m0-1.8h.1m.9-.3h.1m-243.2,4.9h.1m16.5,.2h.1m-.1-2.4h.1m1.8,.5h.1m12.2-1h.1m6.6,1.9h.1m4.5-1.8h.1m.4,1.6h.1m1.3,1h.1m41.5-2.7h.1m27.1,.2h.1m.2,.8h.1m15.9-.1h.1m10.8,.1h.1m1,.1h.1m-.1,.9h.1m.6,.8h.1m0-2.4h.1m.3,2.1h.1m30.7-.4h.1m17.8,.7h.1m.5-1.4h.1m15.4-1.4h.1m33.8,1h.1m.9-.5h.1m-223.5,3.5h.1m4.1,1.6h.1m16.6-2.1h.1m2.3,.3h.1m.4,1.2h.1m1.2-.2h.1m-.1-.7h.1m12.6,.4h.1m0,0h.1m.5,.6h.1m1.7-1.2h.1m0,.2h.1m14.2,1.2h.1m23.6-.1h.1m14.9-1.3h.1m3.5,1h.1m11.8-1h.1m42.8,1h.1m.8,.5h.1m2-1.8h.1m16.6,1.2h.1m11.7,.1h.1m2.4-1.5h.1m26.2,2h.1m-229.8,3h.1m10.5-.4h.1m21.3-1.9h.1m21.9,1.1h.1m0,.7h.1m.2-1.4h.1m.4,0h.1m-.1,1.1h.1m.9-1.2h.1m16.2-.3h.1m9.8-.1h.1m.8,2.8h.1m12.2-.8h.1m.1-.7h.1m11.5-.1h.1m6.9,1.4h.1m.7-1.1h.1m.6,.5h.1m.3,.5h.1m74.6-1.7h.1m42.3-.2h.1m4,1.9h.1m.4-1.8h.1m-228.5,2.4h.1m23.4,.1h.1m10.1,1.5h.1m10.2-.7h.1m.1,1.5h.1m.9,0h.1m.5-1.2h.1m.2,.4h.1m.1-.3h.1m.4,1.4h.1m.1-.8h.1m0,0h.1m.1-2h.1m.3,2.7h.1m6.3-.6h.1m1.3,.4h.1m0-.6h.1m11,.8h.1m20.5-1.7h.1m3,1.6h.1m3.5-1.7h.1m13.6-.2h.1m0,.3h.1m47.9,1.7h.1m.4-1.3h.1m1.6,.3h.1m15.7,.8h.1m.2-2.3h.1m5.1-.2h.1m31.3,2h.1m16.6,.4h.1m-230.9,2.9h.1m3.8,.6h.1m23.5-.7h.1m10.1-2.2h.1m9.4,2.3h.1m-.1-1.9h.1m1.3,.6h.1m30.4,1.9h.1m.5-.9h.1m.4-1.2h.1m3.7-.8h.1m.5,1.6h.1m9.5,.9h.1m11.1-.9h.1m1.7-1.1h.1m52.4,.9h.1m.1-.9h.1m.7,.7h.1m15.4,.3h.1m.9-1.5h.1m.3,1.2h.1m0-.5h.1m.6,.6h.1m7.6,.1h.1m.7,.7h.1m.4,.8h.1m16.6-1h.1m-180.6,1.1h.1m21.7,1.7h.1m.6-.9h.1m-.1,1.7h.1m.8-2.3h.1m-.1,.9h.1m.3,1h.1m.1-.6h.1m15.7,1.4h.1m1.1-2.3h.1m.8,1.3h.1m.2,.6h.1m.8-1.9h.1m11.3,1.8h.1m.5-.5h.1m13.3-.6h.1m1.4,.9h.1m0-2.2h.1m.2,.3h.1m0,1.5h.1m1.1-.4h.1m50.1,.4h.1m8-1.3h.1m.4,2.1h.1m.9-.7h.1m1,1h.1m4.8-.8h.1m16.5-.3h.1m.4-1.4h.1m7.2,.8h.1m2.4-.4h.1m9.3,1.7h.1m1.2-1.5h.1m.5,.6h.1m-185.7,2.7h.1m4.9,1.5h.1m.9-1.7h.1m20.8,.8h.1m2.4-.5h.1m1.3-.4h.1m.1-1h.1m2.3,.2h.1m13.4,2h.1m1.1-.1h.1m.9,.4h.1m0-1.5h.1m.3,.9h.1m.4-.1h.1m14.4-.9h.1m14.7-.9h.1m15.9,.9h.1m3.5,1.5h.1m2.9-.4h.1m.5-.5h.1m14.1,1.2h.1m22.7-2.7h.1m21.6,2.4h.1m0,.1h.1m.9-1.6h.1m.5,.3h.1m19.4,1.7h.1m1.2-2.4h.1m10.5,.6h.1m17-.1h.1m4.3-.1h.1m.5,.3h.1m.3-.3h.1m1.8,1.5h.1m.7-1.4h.1m.4-.3h.1m7.6,.7h.1m-223.3,2.4h.1m13.2,1.8h.1m98.3-.5h.1m9.8-1h.1m14.6-.2h.1m18.3-.7h.1m2,1.7h.1m19.9-1.2h.1m.4,.4h.1m0,1.1h.1m.8-1.2h.1m34.5,.4h.1m.1-.4h.1m.4,.4h.1m-.1-1h.1m-200.5,3.4h.1m17.7,1.6h.1m4.8-2.2h.1m.1-.2h.1m47.3,2.9h.1m7-.4h.1m7.8-1.4h.1m1.7,1.6h.1m34.9-2.1h.1m.4-.1h.1m1.5-.5h.1m.3,.1h.1m12.6,1.2h.1m.7,.7h.1m.4-.6h.1m-.1-1.4h.1m0,.6h.1m60.3,2.3h.1m.9-2.2h.1m1,1.2h.1m-217.1,2.1h.1m91.8,.9h.1m.5-1.9h.1m8.9,2.9h.1m.4-.6h.1m1.3-1.4h.1m22.6,1.9h.1m11.9-2.7h.1m.2,2.5h.1m.4-.9h.1m.5,.8h.1m-.1-2h.1m12.3,1.8h.1m0,.3h.1m.1-1.4h.1m.6-1.2h.1m.6,1.6h.1m.1-1.2h.1m.5,1.5h.1m24.5,.7h.1m12.3,.3h.1m.4-1h.1m15.1,.6h.1m8.4-2.5h.1m9.7,1.9h.1m1.9,.1h.1m0,.9h.1m0-1.4h.1m1.5,1.2h.1m-179.7,2.2h.1m1.1-1.2h.1m41.4,.6h.1m8.6-.3h.1m36.6-.3h.1m0,1.1h.1m27.5-.3h.1m16-.8h.1m27.4,.8h.1m3.4,.1h.1m12.1,0h.1m.7,.3h.1m.7-.2h.1m.8-.8h.1m.9,.7h.1m.1-.7h.1m.3-.3h.1m5.1-.3h.1"/><path stroke="#33e033" d="M55.2,191.4h.1m11.3,.4h.1m20.1-.1h.1m12.6-1.6h.1m.6-.1h.1m.2,1h.1m.7,.4h.1m.3-.5h.1m.5,.5h.1m.1-1.1h.1m30.3,1.2h.1m17.8,.4h.1m6.7-.2h.1m0-1.2h.1m.5,.6h.1m.5,.3h.1m0-1.1h.1m.8-.2h.1m1.7-.1h.1m17.9,1.4h.1m8.9-1.2h.1m0,.7h.1m-.1,.5h.1m1.3,.5h.1m0-1.7h.1m-.1,1.2h.1m.3,.5h.1m0-1.8h.1m6.8,.4h.1m12,1.2h.1m.2-1.3h.1m.6-.2h.1m1,.8h.1m.7-.6h.1m11.9,.6h.1m.3,.5h.1m35.5-.8h.1m36.4,.8h.1m4.3-.8h.1m6.1,.6h.1m-189.3,3.2h.1m.6-.1h.1m.2-1h.1m29.6,.2h.1m27.2,1.1h.1m9.8,.2h.1m.7-.8h.1m.3-1.1h.1m0,0h.1m.2,1.4h.1m.1-2.4h.1m.1,2.4h.1m.1-1h.1m19.6,.9h.1m0-.9h.1m.4-.5h.1m-.1-.9h.1m.8,1.4h.1m11.9,1h.1m37.2-.1h.1m.7,.6h.1m.4-.1h.1m.7-2.8h.1m28.6,2.4h.1m7.4-.9h.1m1.8,.7h.1m.7,.4h.1m-240.8,3.2h.1m4.5-1.8h.1m37.5,1.2h.1m.5-1.8h.1m2.3,.6h.1m7.2,.9h.1m6.1,.9h.1m38.2,.1h.1m1.2-.6h.1m.3-.8h.1m-.1-1h.1m1,1.8h.1m1.3-1.4h.1m11.9-.2h.1m1,1.8h.1m-.1,.2h.1m.4,.2h.1m.3-1.5h.1m31.3-.1h.1m-.1,.3h.1m1.5-.7h.1m12.6,1.8h.1m1.1-1.4h.1m.1,1.4h.1m0-1h.1m.5-.3h.1m.3-1.4h.1m19.8,2.5h.1m10.6-.9h.1m1.1,.8h.1m-.1-1h.1m2.5,1.3h.1m1.1-1.2h.1m1.5-.2h.1m.2,0h.1m11.3,.9h.1m9.8-.2h.1m5.4-.6h.1m13.5-1.2h.1m-240.1,5.2h.1m3.8-.9h.1m19.2,0h.1m71.7-.3h.1m-.1,.7h.1m.8-1.5h.1m15,2.5h.1m.4-.9h.1m0,.9h.1m.1-2.4h.1m.1,0h.1m1.3-.5h.1m11.9,.5h.1m31.9,1.9h.1m.5-.3h.1m-.1-1h.1m.1,.3h.1m.4,.8h.1m.6-.7h.1m6.9-.5h.1m8.2,.1h.1m.6,.9h.1m-.1,.9h.1m0-2.9h.1m0,1.4h.1m.4-.9h.1m.3,2.2h.1m.4-1.6h.1m.1,1h.1m0-2.1h.1m10.5,.7h.1m6.5-.7h.1m.4,.4h.1m.4,1.9h.1m-.1-1.8h.1m.4,2h.1m-.1,.2h.1m1.2-2.1h.1m.8,2.1h.1m-.1,.2h.1m.3,0h.1m22.2-1.9h.1m2.2-.4h.1m15.2,.4h.1m-228.2,4.1h.1m61.7,.6h.1m21.2-1.7h.1m-.1,.3h.1m.4,.4h.1m11.7-.3h.1m4.1-.6h.1m.7,0h.1m.4-.6h.1m24.2,1h.1m18.7,1.3h.1m0-.2h.1m.8-.3h.1m.4-.1h.1m.3-1.9h.1m-.1,.4h.1m11.8-.1h.1m3.1,2.2h.1m.9-.5h.1m.9,0h.1m-.1,.2h.1m-.1-.3h.1m2.2-1.4h.1m18.4,1.6h.1m.8-.3h.1m21.5,.8h.1m2.7-.1h.1m-205.1,.6h.1m13.2,.4h.1m1.1,2.4h.1m39.7-1.5h.1m15.6,.5h.1m8.9-.4h.1m1.3,1h.1m2.1-.1h.1m3.1-.4h.1m3.6-1.1h.1m1.6-.7h.1m41.1,2.6h.1m4-.3h.1m1.3-.5h.1m0-1.5h.1m17.3,1.5h.1m2.7-1.5h.1m.6-.1h.1m.5-.4h.1m18.8,1.8h.1m.4-.3h.1m0,.4h.1m-.1-1.1h.1m.4-.5h.1m0,.5h.1m2.4,1.7h.1m20.8-.5h.1m.4,.9h.1m11.3-.3h.1m-225,2.8h.1m-.1-.4h.1m.9-1.5h.1m.3-.4h.1m.8,.2h.1m.1,1.6h.1m.2-.6h.1m43.9,.2h.1m6.6-1.5h.1m13.9,.9h.1m13.5,0h.1m11.7,.5h.1m0-.3h.1m29.3,.9h.1m18.8-.1h.1m.1-1.2h.1m-.1,1.9h.1m.1-1.2h.1m.1,.1h.1m0-1.1h.1m.8,1.9h.1m.2-1.8h.1m.2,1.4h.1m1.3-1.4h.1m.3,.2h.1m1.6,.4h.1m0-1.1h.1m15.7,2.5h.1m2.1-1.3h.1m.2,1.5h.1m.9-1.3h.1m19.4-1.4h.1m1.1,.3h.1m24.3,1.9h.1m25.4,0h.1m.8-.3h.1m1.5,.4h.1m-243.3,3.2h.1m1.6-.9h.1m.6,.3h.1m.1-1.5h.1m.3,.1h.1m.5,.5h.1m.1-.2h.1m.6,.3h.1m.1-.7h.1m.1-.2h.1m5.6,1.3h.1m16.6,1.2h.1m.3-1.3h.1m1.6-.9h.1m8.7-.1h.1m.3-.4h.1m1,1.3h.1m.6-.3h.1m55.3,1.9h.1m1.1-2.3h.1m17.2-.4h.1m10.3,.7h.1m.3-.5h.1m-.1,1.2h.1m.4,.9h.1m0-2.4h.1m15.7,1.6h.1m.1,.2h.1m.4-.4h.1m.1-.1h.1m16.3-1.4h.1m2.8,1.9h.1m3.1,.4h.1m.6-.5h.1m0-.5h.1m.3,.9h.1m1.4-1.2h.1m9.4,.7h.1m21.4,.8h.1m38.9,0h.1m.7-.1h.1m.7-2.1h.1m0,.7h.1m0,1.4h.1m.1-1.5h.1m-240.9,4h.1m.2-.3h.1m1.2,.4h.1m-.1-1.1h.1m0,1.1h.1m.1-1.5h.1m1.8,.5h.1m.2-.5h.1m8.1,.4h.1m11.7,1.5h.1m.6,.2h.1m0-.1h.1m.5-.4h.1m3.2-1.1h.1m43.4,1.6h.1m23-1.2h.1m18.2,.1h.1m0-.8h.1m12.5-.1h.1m.4-.3h.1m12.6,.7h.1m1.2,.8h.1m.6-.5h.1m22.1-.5h.1m2.5,.4h.1m12.8-1h.1m55,2.5h.1m1,.1h.1m.7-.9h.1m.2-.2h.1m.1-.1h.1m1-.4h.1m0,1.3h.1m.2,.4h.1m0-1h.1m-249.7,3.8h.1m.1-.7h.1m.3-1.3h.1m7.5,.4h.1m.3,.7h.1m.5,0h.1m.8-.2h.1m.1,.4h.1m.1-.1h.1m.3,.5h.1m.3-2.3h.1m20.5,1.8h.1m1.5,.3h.1m1-.4h.1m.4-1.2h.1m.8,1.4h.1m1.4-2h.1m.3,.2h.1m.1,.4h.1m13.9,.3h.1m.5,.5h.1m10.2,.7h.1m3,.3h.1m1.8-1.3h.1m.3,1h.1m2.5-1.9h.1m0,1.5h.1m3.7-1.3h.1m8.3,.6h.1m12.7,.5h.1m.7-1h.1m0,1.3h.1m.6-.3h.1m34.8,.5h.1m14.9-1h.1m.4,.8h.1m.9,1h.1m39.9-.7h.1m.5-.5h.1m.2,1.3h.1m.2-.8h.1m20.8,.5h.1m.6-.9h.1m1,.2h.1m5.5-1.9h.1m27.3,2.7h.1m.1-.2h.1m.2-1.5h.1m.4-.8h.1m.2,1.5h.1m.6-1h.1m1-.6h.1m-250.5,4.9h.1m.3-1.2h.1m.1-.4h.1m.7,.7h.1m0,1.6h.1m1.7-2.7h.1m0,.1h.1m25.1,1.4h.1m-.1,.9h.1m1.2-.1h.1m3.3-1.6h.1m.7-.2h.1m.7,.7h.1m.9,0h.1m.2-.8h.1m.2,0h.1m31.8,1.6h.1m25.5-1.3h.1m87.4,2.2h.1m6.2-1.3h.1m.9,1.2h.1m1.5-.5h.1m.2-1.9h.1m0,1.6h.1m.9-.8h.1m.2-.3h.1m4.1,.9h.1m14.9,.3h.1m.9-1.1h.1m0,.6h.1m.3-1.1h.1m.2,1.6h.1m.2-.2h.1m12.3,.6h.1m.2-.4h.1m.7,.4h.1m-.1-1.8h.1m.8,.4h.1m.4,.8h.1m-.1-.4h.1m17.1,.2h.1m-233.7,4h.1m14.8-.3h.1m.4-.5h.1m.5-1.3h.1m.4,.9h.1m40.3,.8h.1m1.1-2.3h.1m46.7,2.4h.1m34.4-.3h.1m24.7,.1h.1m.1-.3h.1m.4-.6h.1m.4,1.4h.1m0-1.5h.1m.9-.2h.1m9.9-.7h.1m-.1,1.7h.1m22.9-1h.1m1.8-.6h.1m10.8,1.5h.1m.7-.3h.1m.2-.6h.1m.5-.1h.1m1.7,.1h.1m6.9,1.5h.1m1-.8h.1m3.4-.3h.1m4.1,.5h.1m-233.3,3.1h.1m.1,.7h.1m8.4-1.7h.1m.3-.5h.1m4.9,.4h.1m.2-.3h.1m-.1,1.3h.1m.6-1.7h.1m12.6,1.6h.1m2.1-1.5h.1m7.4-.3h.1m2.2,2.5h.1m0-.8h.1m.1,.2h.1m0-.1h.1m.3-.4h.1m1-.5h.1m22.2,1.6h.1m6.1-.6h.1m85.2,1h.1m7.7-.3h.1m.5,.3h.1m.5-1.8h.1m1,.7h.1m.8-1.6h.1m0,.3h.1m23.5,.9h.1m21.4,1.4h.1m.2,0h.1m0-.8h.1m.3-2h.1m0,2.4h.1m0-.6h.1m.2-.6h.1m.2,.2h.1m9,1.1h.1m0,0h.1m.9-1.4h.1m0,.1h.1m1.5-.5h.1m5.8-.2h.1m.7,.3h.1m.2,1.1h.1m1.5-1.1h.1m-238.3,4.1h.1m1.3,.2h.1m1.3-.2h.1m1.3-.9h.1m27.7-.9h.1m8.2,1.4h.1m.2,1.4h.1m.2-2.6h.1m-.1,1.2h.1m.5-1.5h.1m1.9,2.5h.1m14.1-.5h.1m.4,.5h.1m.1-1h.1m.1,.8h.1m.2-.2h.1m.9-.8h.1m-.1,1.2h.1m2.9-2.3h.1m.7-.2h.1m-.1,.2h.1m11.6-.2h.1m15,1.4h.1m6.3,1h.1m.2-.6h.1m1.1-.3h.1m.5-.1h.1m1.3-.1h.1m9.9,.2h.1m33.5-.5h.1m1.1,.4h.1m15.7,.1h.1m-.1,.9h.1m.4-2h.1m1.8,.4h.1m2.6-.1h.1m.7-.4h.1m16.1,.8h.1m9.7-.3h.1m18.7,.7h.1m.8,.8h.1m.1-.3h.1m.5,.8h.1m.4-.9h.1m.1,.5h.1m.2-1.5h.1m.2-.4h.1m1.2,.2h.1m11.1-.5h.1m.4-.2h.1m.1,1.9h.1m.3-1.5h.1m.1,1h.1m7.6-1.4h.1m1,2.7h.1m15.6-1.8h.1m-256.2,5h.1m1.4-1.5h.1m.4,.5h.1m.2-.2h.1m.1,.6h.1m.7-1.9h.1m.4,1.4h.1m2.2-1.8h.1m13.1,2.9h.1m.1-.9h.1m0,.4h.1m.6-1.3h.1m.2,.6h.1m.4,.7h.1m0,0h.1m4.7,0h.1m7.5,.2h.1m1-1.8h.1m7.3,1.2h.1m.5,.1h.1m.5-.6h.1m.2,.1h.1m1.3-1.6h.1m.3,.5h.1m13.1,2.4h.1m.9-1.3h.1m-.1,.9h.1m.8,.4h.1m1.7-2.4h.1m32.9,.1h.1m.2-.2h.1m0,.8h.1m.3,.4h.1m.7,.7h.1m.1-1.4h.1m.8,1.6h.1m-.1-1.1h.1m.9-1h.1m1.6,.2h.1m.1-.1h.1m11.4-.2h.1m46,2.6h.1m2.9-2h.1m.7-.9h.1m25.2,2.9h.1m3.2-1.5h.1m2.9-.1h.1m23-1h.1m9.6,2.6h.1m.3-.9h.1m.1,.9h.1m9.4-.5h.1m.2-2h.1m1.1-.2h.1m.9,.5h.1m5.8-.3h.1m.1,2h.1m-244.5,1.5h.1m.4,1.1h.1m.1-1h.1m.8-.2h.1m.4-.4h.1m.2,.5h.1m.5-.4h.1m6.1,2.1h.1m.8-.3h.1m4.3,0h.1m-.1-1.8h.1m3.4,.2h.1m.5,.7h.1m-.1-1h.1m.2,.2h.1m0,1.3h.1m.1-.8h.1m.1-1h.1m0,.3h.1m0,0h.1m3.8,.4h.1m6,.6h.1m2.4-1.1h.1m.6,2.2h.1m6.1-1.5h.1m-.1,.9h.1m.1-1.1h.1m.9,1.1h.1m.3,.7h.1m1.3-2.3h.1m10.9-.3h.1m3.6,1.5h.1m.5,.9h.1m.6-1.7h.1m.2-.5h.1m.6,2.1h.1m-.1,.3h.1m19.5-2.2h.1m9.7,2.3h.1m3.6,.1h.1m.6-.9h.1m.4-1.5h.1m0,.2h.1m.6,1.3h.1m.6,0h.1m-.1-.8h.1m.4,.8h.1m.7-.8h.1m32.9,.3h.1m16.6,1h.1m7.7,.1h.1m.3-1.1h.1m.3,1.5h.1m2-1h.1m1.6-.5h.1m.2,0h.1m1-1.3h.1m.3-.1h.1m7.8,2h.1m2.5,.6h.1m13.2-1.1h.1m1.9,.6h.1m1.3-1.2h.1m.3-.4h.1m13.4,2.2h.1m3.1,.2h.1m.3-1.5h.1m1.3,0h.1m.1-1h.1m19.2,1.5h.1m.2-1.1h.1m0-.5h.1m8.5,2.4h.1m.4-1.6h.1m.3-.2h.1m0-.5h.1m.4-.3h.1m17.3,2.6h.1m1.5,.1h.1m.4-1.4h.1m.3,.3h.1m.1,.8h.1m.1-.3h.1m-259.4,.9h.1m-.1,1.8h.1m.2-.9h.1m.3,.4h.1m-.1,1.5h.1m.5-1.3h.1m.5-.2h.1m.1-.7h.1m.6,2.2h.1m35.1-1.3h.1m.3,1.1h.1m0-1h.1m-.1,.2h.1m.2-.9h.1m.6-.5h.1m0,.8h.1m.2-.5h.1m.5,.4h.1m.6-.9h.1m-.1,.2h.1m.6,.1h.1m.2,.8h.1m.5-.4h.1m13,1.4h.1m.3-.4h.1m0,0h.1m.2,.6h.1m.2,.2h.1m.9-2.4h.1m.1,1.7h.1m.2-.1h.1m.1,.5h.1m-.1-.1h.1m0-1.1h.1m0,.7h.1m.3-.7h.1m23.5,1h.1m15.7-2h.1m13.8,2.6h.1m8.1-.3h.1m1-.9h.1m2.9-.9h.1m3.6,1h.1m21.3-.8h.1m4.8-.9h.1m1.9,.4h.1m6,.5h.1m1.6,1h.1m2.2,.3h.1m1.9,0h.1m.2-.9h.1m0,1.5h.1m0-2.1h.1m11,.2h.1m3.8,1.8h.1m.8-1.2h.1m2.2-1.3h.1m14.3,2.4h.1m2.2-1.9h.1m2.1-.4h.1m19.4,2.1h.1m.6-.2h.1m.8-.4h.1m.3-1h.1m.2,1h.1m9.2-.9h.1m19.6,.8h.1m-.1-.3h.1m.5-.6h.1m1-.4h.1m-260.3,4.8h.1m.2-1.4h.1m.3,0h.1m0-.9h.1m.1,.5h.1m.2,1.9h.1m.1-2.2h.1m.4,1.1h.1m6.6,.7h.1m28.2,.5h.1m.4-.5h.1m.2-1.6h.1m.9-.1h.1m3.2,.2h.1m.7-.5h.1m.6,2.4h.1m.2-1.9h.1m4.1,1.9h.1m6.7,.5h.1m.6-.4h.1m-.1-.5h.1m1.3-1.7h.1m0,.7h.1m0,1.5h.1m8.9-2h.1m5.2,2.4h.1m4.2-.7h.1m38.9-.1h.1m2.8-1.1h.1m.7,.4h.1m2.7-1.3h.1m11.7,2.7h.1m14.4-.3h.1m2.6-.3h.1m14.6,.1h.1m1.8-.8h.1m0-1h.1m.2,1.6h.1m-.1,.5h.1m.2-1.8h.1m.2,.2h.1m0-.5h.1m-.1,1.6h.1m0,.6h.1m.3-1.2h.1m1.9,1h.1m0-.3h.1m0-.7h.1m29.8,1.1h.1m1.1-2.1h.1m0,1.5h.1m.3,0h.1m.1-.5h.1m.1-.1h.1m.2-1.4h.1m.5,1h.1m0,.8h.1m1.7-1.5h.1m19.4,1.3h.1m.4,.9h.1m.3-1.8h.1m.6-.5h.1m1.3-.2h.1m10.7,0h.1m10.6,2.1h.1m7-.7h.1m3.4-1h.1m.2,1.6h.1m-260,1h.1m0,0h.1m7.8,2.2h.1m4.5-2.1h.1m3.4,.8h.1m1.3,2h.1m15.1-.3h.1m1.3-1.2h.1m-.1,1.2h.1m12.4-.1h.1m5.8-2.2h.1m1.1,.9h.1m.2-.7h.1m.5,1.4h.1m0-.5h.1m.7-.4h.1m.2-.5h.1m89,2.1h.1m1.5-.9h.1m.1,.5h.1m0-1.2h.1m16.5-1h.1m1,2.9h.1m0-1.7h.1m.2,1.6h.1m0-2.1h.1m0,2h.1m-.1-1.8h.1m.8,0h.1m.4,1.1h.1m.3-1.6h.1m.3,.9h.1m0-.9h.1m.6,0h.1m0,.8h.1m.8-1.2h.1m.2,1.3h.1m.2-.3h.1m13.9,1.5h.1m15.1-1.1h.1m3-1h.1m42.5,2h.1m4.7-2.1h.1m-237.9,5.6h.1m-.1-2.9h.1m19.2,2.9h.1m0-.5h.1m.8-.6h.1m.6-1.4h.1m9.3,2.2h.1m1.3-2.6h.1m1,2.2h.1m24.7-1.1h.1m43.3,1.5h.1m10.2-.4h.1m4.3,0h.1m1.7-.3h.1m1-.4h.1m11.3,.4h.1m1.2-.6h.1m1,1h.1m.2-1.8h.1m.5-.3h.1m.2,.1h.1m.6,.3h.1m.6-.5h.1m16.7,.1h.1m0,1.8h.1m.9-.1h.1m-.1-.1h.1m.7-1.6h.1m.7,1.1h.1m1.3-.3h.1m.5-1h.1m.6,.2h.1m11,2.3h.1m2.1-2.1h.1m.2,1.8h.1m.2-1.3h.1m1.6-.7h.1m11.5,2h.1m1-.2h.1m0-.3h.1m13.4,.8h.1m5.3-2.3h.1m7.2,1.8h.1m.9,.1h.1m.3,.2h.1m17.7-.6h.1m-233.8,3.3h.1m.8-.8h.1m.3-1.2h.1m.4,.9h.1m.4,1.9h.1m.2-1.3h.1m.5-.3h.1m12.2,1.2h.1m.5-1.4h.1m1.3-.5h.1m.1,1.8h.1m1.2,.2h.1m1.5-1.5h.1m.9,.4h.1m10.8,.5h.1m.2,.8h.1m.8-.4h.1m7.9-.4h.1m.8,1h.1m.4-.8h.1m.5-2h.1m0,.9h.1m0,1.4h.1m15.5,.1h.1m17.9-.6h.1m16.9-1.8h.1m16.9,.4h.1m1.1,.9h.1m1.9-1.2h.1m1.7,.6h.1m10.9,2.1h.1m.8-1.3h.1m.7,.8h.1m2.4-1.3h.1m19,1.8h.1m1-.7h.1m1.4,.5h.1m.7-1.6h.1m5.8,.1h.1m2.7,1.2h.1m1,.5h.1m4.4-1.2h.1m.9-.8h.1m0,.1h.1m.5-.6h.1m.8-.1h.1m0,.7h.1m.3-.4h.1m10.3,.6h.1m8.9,.2h.1m10.4,.8h.1m.6,.3h.1m1.2-2.5h.1m.3,.4h.1m11.8-.2h.1m.1,1.3h.1m.2,1.1h.1m.5-1.3h.1m.1-1.1h.1m7.1,.3h.1m1.2,0h.1m1.3,.2h.1m2.3,.5h.1m-230,3.3h.1m.3,.5h.1m1-1.1h.1m0-.4h.1m0,1.1h.1m.5-1.2h.1m12.1,1.5h.1m.1-.5h.1m.8-.9h.1m.6-.5h.1m18.2,2.4h.1m3.8,.3h.1m.7-.2h.1m.8-.3h.1m1.2-1.5h.1m.9,.3h.1m1.1-.1h.1m.3,.9h.1m.3-1.8h.1m4.9,1.5h.1m4.8,1h.1m4-.5h.1m.3-.5h.1m.2,0h.1m.3,.1h.1m.4,.3h.1m2.8-.3h.1m11,.8h.1m4,.1h.1m25.4-1.9h.1m3.3,.6h.1m-.1,.2h.1m.5,.8h.1m1.6-1.3h.1m0,1h.1m0-.8h.1m1.1-1.1h.1m.1,.1h.1m18.5,1.5h.1m14.7,.7h.1m.3-.4h.1m4.6,0h.1m.8-.5h.1m.1,.5h.1m.2-.9h.1m.3,.2h.1m.5,.8h.1m10.8-1.1h.1m-.1-.9h.1m.3,2h.1m1.7,.4h.1m1-2h.1m.2,1.3h.1m.6-.4h.1m2.4-1.1h.1m.8,0h.1m21.7,.9h.1m5.7,1.4h.1m18.8-2.3h.1m24.5,1.7h.1m.7,.3h.1m1.5,.4h.1m-.1-.6h.1m.2,.5h.1m0-2h.1m.3,.9h.1m.7-.5h.1m-252.1,4.4h.1m11.4-.5h.1m.8,.8h.1m4.5-.3h.1m1.7-1.8h.1m.2-.4h.1m10.6,.7h.1m.5,.1h.1m4.2,1.6h.1m4-.7h.1m.5,1.1h.1m.8-1.3h.1m1.8,.9h.1m.1,.2h.1m.9-2.2h.1m1.5,2.4h.1m-.1-2.5h.1m.2,1.9h.1m.5-1.3h.1m15,.3h.1m.1-.4h.1m.1,0h.1m1.4-.3h.1m.6-.3h.1m17,1.1h.1m0,1.2h.1m0,.3h.1m.1-1.4h.1m1.7-.8h.1m-.1,1.6h.1m0-.7h.1m.8-1.6h.1m.1,.9h.1m.7,.6h.1m25.2,1.1h.1m1.7-1.5h.1m.2-.6h.1m2.1-.4h.1m-.1,1.3h.1m33.4-.4h.1m7.9-.6h.1m9.1,2h.1m3-1.9h.1m0,1.1h.1m0-.7h.1m3.2,.9h.1m.3-1.2h.1m.9-.2h.1m.1-.3h.1m.1,.9h.1m13.3,1.4h.1m.1-1.9h.1m13.5,1.5h.1m.1,.1h.1m.3-.5h.1m.5,.7h.1m8.8-.4h.1m8.4-.4h.1m26.9-.9h.1m-.1,1.9h.1m.5-.8h.1m0-1.4h.1m.2,1.7h.1m.9-2h.1m.4,.7h.1m1.2-.6h.1m6.8,.9h.1m-256.2,3h.1m9.3,.5h.1m.5,1.3h.1m.9-.7h.1m-.1-1.9h.1m2.6,1h.1m.6-1.2h.1m.5,.6h.1m.3,.1h.1m2.1,.8h.1m12.4,1.4h.1m.3-.1h.1m.3-1.8h.1m.1,1.1h.1m1.3,.1h.1m7.1-1.5h.1m.4,1.3h.1m.6,.5h.1m.4-1.9h.1m0,1.2h.1m1.3-1.6h.1m16.5-.2h.1m.4,0h.1m.1,.4h.1m0,.8h.1m1.6-1.2h.1m7.7,.4h.1m9.3,2.5h.1m.1-1.9h.1m.5,1h.1m1.5,.5h.1m.8,.4h.1m.9-2.9h.1m.4,.1h.1m6.9,1.4h.1m6.3,1.3h.1m23.5-.7h.1m.5-.3h.1m.7,.7h.1m11.1-1.5h.1m1,0h.1m9.8-.3h.1m.1,1.6h.1m1-1.9h.1m14.1,1.9h.1m7.7-2.3h.1m1,1.4h.1m16.3-.2h.1m.3-.4h.1m1.1-.8h.1m9.9,1.9h.1m1,.4h.1m.7-1.7h.1m.6-.2h.1m.9,0h.1m-.1,1.3h.1m0-.3h.1m.4,.3h.1m15.2-.3h.1m.8-1h.1m1.1,1h.1m13.2,1.5h.1m11-2.5h.1m3.3-.4h.1m5.8,2.6h.1m.6-1.5h.1m-.1,1.3h.1m3.2-2.1h.1m.2,.7h.1m0,.5h.1m-247,2.6h.1m.4,1h.1m.7-.6h.1m4.8-1.3h.1m12.5,2.1h.1m.2-.8h.1m.3,.4h.1m0-.6h.1m1.3-.7h.1m.9-.5h.1m9-.1h.1m16.8,1.7h.1m.7-1.3h.1m1.8,1.1h.1m.2,.4h.1m17,.7h.1m1-1.6h.1m.6,1.9h.1m.2-.5h.1m1.1-2.4h.1m10.2,.6h.1m.3-.2h.1m1.5-.1h.1m0,.4h.1m1.1,.4h.1m3.3-.5h.1m22.2,0h.1m10.2,.9h.1m4.1,1.3h.1m.8-.6h.1m2.5-.1h.1m.2-1.9h.1m.2,.2h.1m.4,0h.1m1.8,.5h.1m18.6,2h.1m14.1-1h.1m9.5,0h.1m.3,.3h.1m12.4-.8h.1m.3-1.4h.1m.2,.5h.1m1,2.4h.1m12-.4h.1m.3-1h.1m1.2,.7h.1m1.3-.8h.1m18.9-1.2h.1m8.1,1.2h.1m1-.5h.1m10.3,1.2h.1m-247.6,3.8h.1m.8-.7h.1m2.2,.2h.1m.1-.9h.1m.5-1.5h.1m.2,1.5h.1m.5,.7h.1m18.8-2.1h.1m.2,.7h.1m21.4,1.7h.1m7.6-2.1h.1m10.9,0h.1m.7,1.3h.1m7.5-.8h.1m1.5-.9h.1m0,1.4h.1m7.8,1.2h.1m1.7-1.1h.1m0,.3h.1m.1-.9h.1m0,1h.1m.6-.8h.1m9.5,.1h.1m18.2,1.5h.1m.2-.2h.1m1-.8h.1m11.8,.5h.1m1.3,.6h.1m.3-.3h.1m.1-2.4h.1m.5,.5h.1m.1,1.9h.1m.1-.7h.1m0-1.2h.1m1.2,.2h.1m21,1.6h.1m25.5-.4h.1m10.4-.6h.1m.3-.3h.1m.6,1h.1m0-1.5h.1m1,1.1h.1m0,.2h.1m.4-1.1h.1m12.8,1.8h.1m0-1h.1m.6-.1h.1m.1,.7h.1m13-1.3h.1m5.1,1.5h.1m.8-.8h.1m1.3-1.5h.1m.6,.6h.1m-230.1,5h.1m1.4-1.6h.1m.2,1.8h.1m1-2h.1m.3-.6h.1m.1,.1h.1m-.1,1.6h.1m1.2,.4h.1m.3,.2h.1m.2-.9h.1m.7-1.3h.1m.8,.4h.1m1.5,.2h.1m1.2-.2h.1m.9,1.4h.1m.1,0h.1m.3,.7h.1m0-.6h.1m-.1-1.9h.1m1.2,1.5h.1m0,.1h.1m11.8-.7h.1m-.1,.4h.1m0-.1h.1m21-1h.1m17.3-.6h.1m.6,0h.1m6.7,1h.1m.4,1.3h.1m.4-1.1h.1m0,1.5h.1m.2-.6h.1m1.2,.3h.1m1.1,0h.1m1-1h.1m.2-.4h.1m.1,0h.1m5.4,1.4h.1m.9-.2h.1m1.6,.3h.1m1.7-1.7h.1m.8,.6h.1m16.2-.4h.1m0,1.1h.1m.1-1.2h.1m6.2,1.8h.1m5.1-2.3h.1m.6-.3h.1m.2,.9h.1m.4,.9h.1m-.1-.4h.1m5.4,.5h.1m8.4-.8h.1m1,.2h.1m0,0h.1m.5,.4h.1m20.2,.9h.1m2.1-2.6h.1m.4,.9h.1m.7-1h.1m16.4,2.9h.1m5.3-1.6h.1m1.2,.2h.1m.2,.5h.1m1.9-2h.1m.9,1.3h.1m-.1,.4h.1m5.3-.6h.1m.9,.4h.1m-.1,.5h.1m.2,.5h.1m.3-1.4h.1m0-.4h.1m0,1.3h.1m.2-1.6h.1m0,.5h.1m.7,1h.1m.1-.2h.1m.5-1.7h.1m8.4,1.9h.1m4.8,.5h.1m0-.1h.1m2.1-1.6h.1m.6-.7h.1m15.8,2h.1m1.7-.6h.1m.8,.6h.1m.1-.3h.1m27.1-.8h.1m0,.1h.1m-258,4.9h.1m1.4-1.1h.1m.6,.9h.1m.9-1.5h.1m.3-1h.1m2.3,1.4h.1m3.1,.7h.1m4.3-1.4h.1m.2,.6h.1m.2-1.5h.1m1.3,1.4h.1m1.2-.9h.1m8.2,.7h.1m1.1-.9h.1m22,1.1h.1m1.5-1.4h.1m24.9,2.8h.1m.1,.1h.1m1.1-1.8h.1m0-.8h.1m.3,1.2h.1m.5-1.2h.1m.2,.6h.1m0,.9h.1m.1-.8h.1m.3,.1h.1m1,1.7h.1m.6-.9h.1m.9,0h.1m1.2-.4h.1m.3,1h.1m-.1-1h.1m1.1,.2h.1m1.1-.7h.1m.4-1h.1m13.5,1h.1m10.1,0h.1m2.2,.2h.1m19,.2h.1m.2,.6h.1m.4,.1h.1m.4-.5h.1m.4-1.2h.1m.4,.7h.1m12.4-.4h.1m.4,.9h.1m2.4,1h.1m5-.9h.1m-.1,.8h.1m19.9-.1h.1m1.3-1.5h.1m14.4,.1h.1m1.5-.5h.1m15.4,2.4h.1m.5-2.4h.1m17.6,.7h.1m3.1,.8h.1m7.4,.9h.1m19.7-1.4h.1m-257,2.4h.1m.9-.6h.1m12.9,.9h.1m10-.7h.1m.3,.3h.1m24.9,1.7h.1m.4-.9h.1m.5-.6h.1m5.9,1.5h.1m17-1.4h.1m.5,1h.1m.9-.5h.1m.1,.8h.1m1.2-2.3h.1m2.9-.1h.1m1.2,.5h.1m2.4,.5h.1m.3,.1h.1m1.4-.6h.1m47.5,.6h.1m.9-.6h.1m-.1-.1h.1m14.7,.6h.1m2.6,.5h.1m-.1-1.1h.1m.3,1.2h.1m.8,.8h.1m.5-1.3h.1m-.1,.4h.1m.4-.7h.1m17.5,.9h.1m16.4-1.7h.1m13.5,1h.1m2.2,1.5h.1m.2-.1h.1m.7-.5h.1m.3,.1h.1m.8-1.5h.1m3.6,1.2h.1m18.5-1.3h.1m28.3,2h.1m2,.1h.1m-258.8,1.1h.1m1.7,2h.1m20.7,.1h.1m.5-.2h.1m1-.1h.1m.2-.1h.1m21.5,.6h.1m8.7-2.9h.1m2.9,2.8h.1m.4-2.8h.1m1.4,1.8h.1m0,1.1h.1m3.9-2.1h.1m5.9,.1h.1m1.9-.3h.1m1.4-.3h.1m31.8,2.1h.1m4.8-1.4h.1m22.3,1.5h.1m18.3-2.1h.1m19.2,0h.1m28.4,.2h.1m.9,1.9h.1m.1-.5h.1m54.7-.3h.1m2,1.2h.1m-240.8,1.1h.1m2.7,1.6h.1m3.2-.6h.1m.4-1.1h.1m.6-.6h.1m5.8,1.1h.1m4.3-.3h.1m-.1,.9h.1m2.3-1.6h.1m4,2.1h.1m3.1,.3h.1m.3-.8h.1m.3,.4h.1m.5-.2h.1m1.1-1.4h.1m12.8,1.9h.1m.7-1.3h.1m.5,.1h.1m12.6-.4h.1m.1,1h.1m31.4-.5h.1m13.9-1.2h.1m51.5,0h.1m25.8,.6h.1m.4,.4h.1m.4,0h.1m28.6,1.5h.1m20.6-.3h.1m9.8-2.6h.1m-256.1,3.4h.1m17.7,2.5h.1m-.1-.9h.1m-.1,.6h.1m.2-1h.1m13,1.3h.1m11.7-2.8h.1m1.2,1.1h.1m.2-.6h.1m0-.1h.1m9.9,1.9h.1m14.8-.3h.1m1.6,.4h.1m0,0h.1m.9-2h.1m.5,2.1h.1m29.6,.1h.1m1.8-2.7h.1m12.1,2.9h.1m.5-.9h.1m1.2-1.5h.1m.1,.7h.1m10.7,.6h.1m14,.8h.1m.3,.3h.1m3-2h.1m.3,1.3h.1m19.1-.4h.1m.3-.4h.1m.9-1h.1m.6,2.3h.1m27.4-.5h.1m.1-.2h.1m13.4,.5h.1m7.9-2.2h.1m9.5,2.2h.1m11.6-.6h.1m5.4,0h.1m2.6,.6h.1m.5-.5h.1m1.9-.6h.1m4-1h.1m3.7,1.7h.1m-260.4,1.3h.1m1.2,2.2h.1m7.4-1.6h.1m1.9-.6h.1m21.5-.3h.1m.6,.1h.1m7.6,2.7h.1m2.5-2.8h.1m12.4,1.8h.1m1.8-1.2h.1m.1,0h.1m.9,1.7h.1m10.7-.4h.1m.1,0h.1m.7,.4h.1m.2-2.4h.1m.7,1.1h.1m.4-.9h.1m30.2,2.7h.1m.5,0h.1m14.1-2h.1m.2,0h.1m-.1,1.5h.1m0,.1h.1m.4-2.3h.1m.3,2.1h.1m.2-1.2h.1m.1-.9h.1m14.4,1.6h.1m.2,.2h.1m.2,.7h.1m.9-.8h.1m0,.1h.1m.1-.5h.1m.6,.5h.1m.9-.5h.1m.5,.4h.1m8.7-.4h.1m.5,.5h.1m22.9,.4h.1m13.3-.1h.1m.2,.1h.1m.8-.1h.1m1.3-.8h.1m17.6,1h.1m6.7-.7h.1m.1,.4h.1m.7-.5h.1m35.3,.7h.1m0-.2h.1m.5-.1h.1m.8-.5h.1m.1-1.3h.1m.1,.1h.1m.7,.1h.1m.2-.5h.1m-245.8,3.9h.1m.2,.5h.1m.3-.7h.1m.4-.3h.1m15.8,.5h.1m17.4,1h.1m.2,.4h.1m.7-1.9h.1m2.7,1.3h.1m.5,.2h.1m14.4-.7h.1m8.9,.8h.1m-.1,.8h.1m0-.9h.1m.7-.6h.1m.5,.9h.1m18.9,.7h.1m1-.5h.1m.8,.1h.1m.5,0h.1m.2,.3h.1m6.2-1.3h.1m4.8-.7h.1m.1-.4h.1m.8,.6h.1m12.4-1h.1m0,1.6h.1m.1-.7h.1m.5-.6h.1m.1,2.6h.1m1-2.7h.1m14.8,2.7h.1m.6,0h.1m.5-1.2h.1m.1-.8h.1m0-.9h.1m0,2.9h.1m.4-.5h.1m0-2.2h.1m-.1,1.2h.1m1.2-.6h.1m40.1,.6h.1m3.1-1h.1m.2-.4h.1m1,.9h.1m29.7-.3h.1m.4-.6h.1m33.7,2.4h.1m1.6,.1h.1m.5,.4h.1m.6-2.7h.1m.2,2.1h.1m-244.8,2.1h.1m15.1,1h.1m3.9-.9h.1m10.9,.7h.1m4.6-1.2h.1m.1-.7h.1m1.4,.1h.1m4.9,.1h.1m8.9,2h.1m1.4,.1h.1m11-1.6h.1m.7,1.1h.1m.4-1.4h.1m-.1-.2h.1m0,1h.1m.3-1h.1m.5,0h.1m9.5,1.8h.1m.4-.9h.1m.3,.5h.1m1.1,.9h.1m5.8-1.9h.1m.2,1.4h.1m.1-.1h.1m1.1-.9h.1m25.1,1.4h.1m.6-.3h.1m1.8-2.3h.1m15.8,2.6h.1m.8-.5h.1m.5-1.7h.1m10.1-.2h.1m.7,.6h.1m10.1,2h.1m19.3,0h.1m52,0h.1m1-2.6h.1m.7,2h.1m16.5-1.4h.1m.4-.6h.1m.8,.3h.1m.4-.3h.1m-229.5,4.7h.1m.2-1.8h.1m.2,2.6h.1m.5-2.6h.1m0,.5h.1m.5,1.1h.1m11.7-.3h.1m.7,1h.1m.1-.2h.1m7.2-1.8h.1m5.3,2.3h.1m10-.9h.1m-.1-1.7h.1m.3,1.7h.1m0-1.4h.1m.5,.4h.1m.4,.1h.1m1.4,.3h.1m.3-.7h.1m.5-.1h.1m.4-.3h.1m.5-.2h.1m.6,.6h.1m.7,1.2h.1m5.3-1.8h.1m.6,0h.1m6.4,2.5h.1m2.4-1.4h.1m1.2-.6h.1m.3-.2h.1m.8,1.7h.1m1.4-1.6h.1m32.1-.4h.1m1.7,2.7h.1m.3-.8h.1m0,.1h.1m10.7,.4h.1m3-1.1h.1m.2,.2h.1m15.5,.9h.1m.3,0h.1m11.1,0h.1m18-2.4h.1m7.5,2.9h.1m.8-.7h.1m1.6,.6h.1m8.7-.9h.1m2.3-.1h.1m26.9,1.1h.1m2.1-2.1h.1m.6-.3h.1m.6-.5h.1m16.4,2.9h.1m-239.1,.5h.1m8.5,2.3h.1m.2-.1h.1m.4-.2h.1m1.3-.4h.1m.2,.1h.1m0-1.5h.1m-.1,.8h.1m.7,.5h.1m-.1-.9h.1m11.1-.3h.1m9.3,.8h.1m12.5,.5h.1m2.2,0h.1m.1-1.2h.1m3.1-.8h.1m3.2,2.9h.1m.2-1.9h.1m1.8,1.3h.1m8,.1h.1m17-2h.1m.3,.7h.1m2.7-.7h.1m4.6,.6h.1m15.8,1.9h.1m2.5-2.4h.1m.3-.5h.1m.9,0h.1m1.9,.1h.1m1.3,.8h.1m.6,.6h.1m.6,.9h.1m.5-1.3h.1m1,.4h.1m.7,.4h.1m.7,.6h.1m2.3-1.9h.1m48.8,1.4h.1m.1-2h.1m14.7,2.5h.1m24.5-.7h.1m4.5,1h.1m2.9-.3h.1m.5-.7h.1m.3-.2h.1m.2,.6h.1m.1-1.8h.1m0,1.7h.1m.3-1.1h.1m.3,0h.1m.8-.8h.1m12.3,1.2h.1m2.4,.6h.1m2.1,0h.1m.1,.1h.1m.3-.7h.1m.2-1h.1m.9,1.5h.1m-233.2,3.6h.1m1.4-1h.1m.3,.5h.1m1.1,.7h.1m1.1-1.8h.1m.1,.4h.1m.2-.6h.1m.2,.3h.1m43.1,.4h.1m.9,.6h.1m2.1,.9h.1m33-.8h.1m6.3,.8h.1m.6-1h.1m2.7,.5h.1m1.9-.5h.1m.7,.6h.1m-.1-.5h.1m.6-1.4h.1m0,1.2h.1m.5,.6h.1m.6-.9h.1m8.7,1h.1m1.3-1.8h.1m2-.3h.1m20.9,2h.1m0,.4h.1m.9-.3h.1m-.1-.1h.1m.7-1.6h.1m.5-.1h.1m26.1,1.3h.1m1.1-1h.1m.6,.5h.1m.1,.7h.1m38.9-2.2h.1m11.8,2h.1m2.4-.1h.1m15-1.5h.1m1.1,1h.1m-234.1,4h.1m.6-.2h.1m1.4-1h.1m.3-.1h.1m-.1-.1h.1m.5-.8h.1m20.6,2.4h.1m2.7-.9h.1m1.7-1.6h.1m.4,1.5h.1m4.1-.5h.1m7.1,.1h.1m8.9-.2h.1m.7-1h.1m5,1.9h.1m.5,.6h.1m.5-.3h.1m1-.8h.1m.5-.6h.1m1.3-.8h.1m9.4,2.6h.1m.2-.6h.1m.5,.9h.1m.5-1h.1m.2,.6h.1m9-.3h.1m4-1.1h.1m4.2-.1h.1m.1,.2h.1m2.3-.4h.1m4.1,.2h.1m.3-.5h.1m.3,.4h.1m1.1,1.5h.1m.7-2h.1m1.1,.6h.1m8.1,.9h.1m.6-.5h.1m.4,.1h.1m10.9,1.4h.1m12-.1h.1m11.8-1.3h.1m9.4,.9h.1m8.4-1.6h.1m.4,.9h.1m.3-1.2h.1m.2,0h.1m.2,0h.1m.8-.5h.1m13.9,2.9h.1m1.9-1.2h.1m21.8,.2h.1m.1-.5h.1m1.7,1h.1m.1-2.2h.1m47,.8h.1m.3,1h.1m-253.7,3.5h.1m1.1-1.4h.1m.8,.9h.1m.6-.7h.1m9.3,1.3h.1m12.5-1.2h.1m1.1,.2h.1m2.8-.7h.1m22.4-.8h.1m3.8,1.6h.1m13.2-.3h.1m1.2-.3h.1m51.1-1.1h.1m12.8,.2h.1m13,2.7h.1m1.7-.2h.1m6.1-1.3h.1m.5,.5h.1m3,.1h.1m.6-.4h.1m19.9,.4h.1m1.1-.4h.1m8.8-.5h.1m-.1,1.3h.1m.5-.5h.1m.1-1.9h.1m-.1,1h.1m0,.7h.1m.9-.8h.1m0,.7h.1m10.9-.7h.1m.3-.9h.1m1.1,0h.1m.7,.4h.1m3.6,0h.1m1.7,.6h.1m36.9,1.5h.1m.4-1.1h.1m.2,1.5h.1m.6-.3h.1m0,.3h.1m2.1-1.9h.1m-254.7,4.2h.1m1.6-1.8h.1m.5,1.5h.1m.7-1.5h.1m43.1,1.6h.1m4.3,.4h.1m.5,.2h.1m0-2.4h.1m-.1,1.8h.1m.2,.5h.1m.8-.6h.1m.7,.4h.1m.8-2.2h.1m-.1,2.7h.1m1.6-2.4h.1m13.1,2.2h.1m12-.9h.1m4-.3h.1m11.3,1.1h.1m.7-1.7h.1m51.9,1.2h.1m.1,.6h.1m.8-2.2h.1m.1,2.2h.1m.7-.9h.1m0-.7h.1m.1,0h.1m.8,.5h.1m26.9,1.4h.1m2.3-1.5h.1m.3,1h.1m1.1,.1h.1m3.7,.2h.1m1.2-.1h.1m3.2-2.5h.1m1.3,2.2h.1m9,.1h.1m.1-.6h.1m26.5,.4h.1m.1,.3h.1m.6,.1h.1m1.5-1.4h.1m5.3,.5h.1m11.7-.9h.1m1.4,.2h.1m-250.6,3.9h.1m0-1.7h.1m24.7,2.7h.1m.8-2.4h.1m26.2-.4h.1m10.2,2.8h.1m4-.7h.1m28.7-2h.1m16.1,1.1h.1m11.5-.3h.1m22.3,1.4h.1m-.1-.6h.1m.3-.7h.1m.4-.1h.1m.7,.6h.1m.8-.7h.1m.4,1.1h.1m.1-2h.1m.1,1h.1m0-.7h.1m.1,1h.1m.8-1.2h.1m29.1,.9h.1m.6,1.7h.1m1.9-1.3h.1m3.2,0h.1m1.5-1.2h.1m2.3,.2h.1m25.6-.2h.1m11.3,2.7h.1m1.1-2.4h.1m.7,1.5h.1m0-.6h.1m.9,.1h.1m8.8,1.1h.1m.5-.6h.1m-214.9,2.9h.1m.1,0h.1m.6-.9h.1m11.3-.7h.1m-.1,.6h.1m21.7,1.5h.1m1.9-1h.1m1.8-1.1h.1m15.4,.7h.1m4.6-1h.1m2.9,.9h.1m22.5,1.6h.1m7.2,.1h.1m.5-2.1h.1m4.1-.5h.1m.7,2.4h.1m14.3-.7h.1m.6-.2h.1m.4-.1h.1m1.1,1.1h.1m5.3-1.5h.1m1.8-.4h.1m.1-.6h.1m1.3,.9h.1m0-.8h.1m29.1,1.8h.1m48.9-.9h.1m.1-.5h.1m.1,.4h.1m.1-.5h.1m.3,.6h.1m-.1-.1h.1m1-.9h.1m23.7,1.1h.1m-229.7,4.1h.1m2.1-1.5h.1m.4-.7h.1m28.3,.5h.1m-.1,.7h.1m.1,.7h.1m-.1,.4h.1m.2-.3h.1m0-1.5h.1m.5-.5h.1m3.3,.3h.1m.3-.1h.1m30.4,1.9h.1m15.9-1.1h.1m1.4,0h.1m.8-.5h.1m9.2,.9h.1m8.1,.5h.1m.3-.5h.1m51.3,0h.1m1.2-.2h.1m59.7,1.7h.1m11.7-.7h.1m.2-.3h.1m.1,.2h.1m.3,.6h.1m0-1.3h.1m.3-.8h.1m1.1,1.7h.1m-232.7,2.7h.1m.7-.4h.1m.1-.2h.1m.4,.1h.1m0-.1h.1m.5-.1h.1m29.6-.8h.1m1.7-.3h.1m.2,.2h.1m.5,0h.1m.7-.4h.1m19.5,1.8h.1m27.9,.1h.1m1.1-1.2h.1m11.1,1h.1m1.9-1.1h.1m7,.6h.1m25.3,.7h.1m26.5,0h.1m-.1-.9h.1m29.9,.4h.1m5.2-.6h.1m26-.2h.1m10,1.3h.1m2-1.9h.1m2.9,0h.1m0,1.5h.1m.3-1.1h.1m0-.4h.1m2.9,1h.1"/><path stroke="#6e8c22" d="M132.2,190.3h.1m20.3,.4h.1m0,.2h.1m4.7,.2h.1m55.1-.4h.1m-66,3.5h.1m29.3,.2h.1m110.6,.1h.1m-112.2,1.3h.1m.6,.6h.1m.5-.2h.1m111.1-.7h.1m-115.7,3.2h.1m34.1-.5h.1m13.8,1.1h.1m.5,1.5h.1m1.8-2.6h.1m34.5,.7h.1m-176.7,2.1h.1m64.5,0h.1m19.7,2.2h.1m4-.8h.1m30-.9h.1m18.5-.5h.1m1,1.2h.1m36.7,1.5h.1m-186.2,2.5h.1m90.5,.7h.1m3-2.7h.1m3.2-.1h.1m45.5,.9h.1m1.3,.5h.1m-148,4.4h.1m139.7-.8h.1m2.4-1.5h.1m1.5,.4h.1m3.8-.5h.1m.8,.4h.1m17.8-.8h.1m19.6,.8h.1m51.7-.1h.1m.9,2.1h.1m1.1-2.9h.1m.1,0h.1m1.9,2.4h.1m-217.2,1.1h.1m.9,.9h.1m.6-.3h.1m112.3-.8h.1m1,.2h.1m1.1-.1h.1m-8.7,5.2h.1m2-1.6h.1m0,.3h.1m.3-.4h.1m-.1,1.6h.1m0-2.3h.1m-141.7,5.7h.1m.5-.3h.1m27.4-2.6h.1m27.9,1.9h.1m27.9,.2h.1m12.8-.6h.1m81.3,1.4h.1m1.1-.7h.1m57.1-1.3h.1m-153.6,3h.1m95.4-.3h.1m37.2,2.2h.1m.3-2.8h.1m0,1.9h.1m.4-1.8h.1m16.4,2.7h.1m-57.6,.7h.1m12.6,2h.1m.5-.1h.1m.5-.9h.1m.3-.4h.1m22.8,.9h.1m19.2-.2h.1m.7-1.7h.1m-234.7,4.2h.1m95.6,1h.1m59.9,.2h.1m57.4-.2h.1m-214.4,3.1h.1m.7-1.8h.1m56.2,.3h.1m35.3,1.5h.1m3.4-1.4h.1m.3,.5h.1m57.3,1.4h.1m1.8,0h.1m-141.9,2.3h.1m92.1-1.3h.1m2.1-.7h.1m42.8,1.9h.1m.5-.1h.1m3.3-1h.1m24.9,1.5h.1m.1-.1h.1m1.9-.3h.1m-187.1,.9h.1m152.3,2.4h.1m5.5-.5h.1m25.8,0h.1m1.1-1.1h.1m17.6,0h.1m-207.1,3.1h.1m42.5,.6h.1m37.7-.7h.1m.1,1.6h.1m7.5-1h.1m4.2,.4h.1m37.6-1.8h.1m27.1,0h.1m12.7,2.9h.1m13.9-1.4h.1m.3-.1h.1m17.9-1.2h.1m.7-.2h.1m1.7,1.7h.1m1.4-.9h.1m.5-.3h.1m18.5,2.2h.1m-226.8,1.9h.1m57.4,.7h.1m.5-.8h.1m29.8-1.4h.1m33.8,.2h.1m47.1,.2h.1m-115.8,3.6h.1m1.1,.6h.1m76.7,1.2h.1m116-1.3h.1m-118.6,3.4h.1m15.4-.8h.1m.4,.8h.1m1.5-1.5h.1m38.3,.7h.1m27.9,.6h.1m-187.4,3.1h.1m2.2,.1h.1m24.8-.1h.1m0-.6h.1m67.7,1.1h.1m20-1.9h.1m0,1h.1m.8-.7h.1m38.8-.8h.1m12.2,.4h.1m-170,5.1h.1m2.1-2.4h.1m21.9,2.4h.1m20-1.7h.1m16.1,1.5h.1m32.2-1.6h.1m21.9,.7h.1m.3-1h.1m15.5,2.5h.1m5.8-.6h.1m12.2-2.1h.1m.1,1.8h.1m4.8-1.8h.1m75.4,.3h.1m.4,.9h.1m-231.4,2.2h.1m59.2,.3h.1m3.6-.9h.1m41.8,2.9h.1m24.4-2.1h.1m2-.4h.1m19.9,0h.1m.9,1.8h.1m.9-1.3h.1m72.9,.6h.1m-234.2,3.9h.1m1.7,.4h.1m1.2-1.9h.1m25.9,0h.1m59.8,.7h.1m.5-.9h.1m3.4-.2h.1m42-.3h.1m12.8,.1h.1m4.4,1h.1m2.4-1.2h.1m78.4,1h.1m11.5-.6h.1m-161,4.2h.1m45.3-.8h.1m18.9-.5h.1m-149.3,4.9h.1m.6-.5h.1m18.5-1.8h.1m58.2,2.7h.1m107.3-1.8h.1m-193.9,3.6h.1m2.7-.5h.1m1.7-.5h.1m4.3,.7h.1m3.4,.4h.1m11.9,1.1h.1m20.3-.2h.1m.9,0h.1m1.7-.2h.1m.5-1.8h.1m39.7,.3h.1m28.6,0h.1m36.5,1.7h.1m-154,2h.1m12.7,0h.1m9.6-1.1h.1m.2,.9h.1m1.3-1.3h.1m145.5,2h.1m17.9-1.9h.1m12.7,3.4h.1m2,.4h.1m1.5-.4h.1m-.1-.1h.1m-8.5,2.6h.1m.4,1h.1m3.3-.8h.1m-182.6,5.1h.1m1.1-.8h.1m1.3-.1h.1m.6-.4h.1m8.6,.5h.1m71.1,.4h.1m1.9-.3h.1m.2,.8h.1m.5-1h.1m-95.2,3.9h.1m239.6-1.3h.1m-244.3,4.7h.1m2.5-1.8h.1m2.4-.3h.1m29.9-.2h.1m27.3,1.8h.1m73.9-1.2h.1m1.3,.1h.1m1.3-.3h.1m1.1-.8h.1m36.5,1.4h.1m.7-1.4h.1m9.1,.3h.1m.4,1.1h.1m-188.2,3h.1m29.9,1.1h.1m2.6,.4h.1m1.7-.5h.1m0-2.4h.1m1.2,1.8h.1m58.2-.3h.1m.8,0h.1m.3-.4h.1m72.5,1.8h.1m3.3-1.4h.1m2.4-1.5h.1m-178.3,3.8h.1m.4-.8h.1m.7,0h.1m33.9,1.1h.1m17.9,1.4h.1m1.3-.8h.1m7.6-1h.1m21.7,.2h.1m.9-.6h.1m137.5,1.6h.1m-193.8,2.2h.1m.1,1.1h.1m.3-.7h.1m.1,.4h.1m16.1,.8h.1m4.5,.2h.1m-.1-2.3h.1m.6-.1h.1m1.5,2.3h.1m1.1-1.6h.1m19.9-.7h.1m38.9,2.1h.1m86.8-1.4h.1m-153.5,4.3h.1m2.9-1.9h.1m57.5,1.4h.1m-100,2.5h.1m38.4-1h.1m.6-.3h.1m30.6,2.1h.1m22.8-.8h.1m4.3-.5h.1m35.5-1h.1m-107.9,4h.1m.8,.5h.1m.7-.2h.1m25.6,1.1h.1m3.6-.4h.1m13.6-1.1h.1m10.2,.7h.1m1.9,0h.1m.1,.8h.1m4.6-2h.1m3.3,.1h.1m.2,.3h.1m4.2,0h.1m26.8,1.2h.1m78.8-.6h.1m-206.1,4.4h.1m-.1-.3h.1m2.5-1h.1m23.7-.2h.1m.2-.8h.1m2.5-.2h.1m29.2,.1h.1m11.5,2.3h.1m93.1-1.8h.1m41.1,.1h.1m.3-.8h.1m44.5,1h.1m.3-.2h.1m.9,.2h.1m2.5-.9h.1m.4-.3h.1m-256.7,4.9h.1m.2,.5h.1m45.4-1.5h.1m1,1.6h.1m52.1-.2h.1m51.6-.4h.1m.4-1h.1m1,.6h.1m38.1,.9h.1m-.1,.3h.1m.8-.7h.1m-152.1,2.7h.1m25.3,.3h.1m3.4-.4h.1m79,1.2h.1m.6-1.9h.1m37.3,1.5h.1m.6,0h.1m1.1-.4h.1m41.4-1.1h.1m-195.8,3.5h.1m.5,.4h.1m.1,.6h.1m24-1.3h.1m5.1-1.1h.1m1,1h.1m19.8,.6h.1m32.1-.7h.1m4.6-.6h.1m65-.2h.1m40.5,.7h.1m-173.6,2.9h.1m159.1,2.2h.1m2.5,1.8h.1m37.3-.4h.1"/><path stroke="#a0522a" d="M157,190.2h.1m-10.2,3.2h.1m.8,1h.1m1.4-2.1h.1m28.1,1.7h.1m1.3,.9h.1m117.4-2.9h.1m-117.9,3.8h.1m44.5,.9h.1m59.3-.2h.1m5-1.3h.1m-148.8,5.3h.1m64-.3h.1m16.2-.2h.1m1.4-.7h.1m.2-.7h.1m.4-.6h.1m.2,.6h.1m-173.8,3.5h.1m24.9,1.6h.1m92.8-1.7h.1m.6-.3h.1m33.4,1.2h.1m17.8-1h.1m13.8,2h.1m-161.4,3h.1m61.2-2h.1m31.1,.5h.1m.6-.5h.1m0-.3h.1m2.4,.3h.1m3.1-.7h.1m83.5,1.7h.1m2.2-1.7h.1m-26.2,5.7h.1m15.7-.5h.1m6.4-2.3h.1m50.3,1.1h.1m1.8-.2h.1m-214.1,2.9h.1m44.6,.4h.1m105.6-.9h.1m-154.7,5.4h.1m-26.9,1.3h.1m22.7,1.8h.1m.6-1.6h.1m.9,.2h.1m25.7,.7h.1m1.4,.3h.1m6.6-1h.1m13.2-.1h.1m0-.5h.1m.5,.6h.1m24.9,0h.1m11.3-.5h.1m1.9,.7h.1m1.1-1.3h.1m1.3-.4h.1m25.8,.4h.1m-113.7,2.6h.1m25,.6h.1m2.4,.4h.1m1.5-.9h.1m.8,.3h.1m27.2,.7h.1m2.6-1.1h.1m162,5.2h.1m-191.6,2.2h.1m.9,.1h.1m1.4,.9h.1m.8-.9h.1m57,1.4h.1m-61.1,1.1h.1m1.4-.6h.1m.8,.1h.1m36.2,0h.1m15.8,2h.1m41.5-.7h.1m.6-1.8h.1m-1.1,5.5h.1m45.3,.4h.1m3.8-1.9h.1m.5-.5h.1m.6,1h.1m1.1-.4h.1m-208.2,2.4h.1m7.8,1.8h.1m116.2-.5h.1m.1-1.2h.1m25.5,2.3h.1m4.5-.4h.1m-.1-1h.1m10.7-.1h.1m18.5,.5h.1m.7-1.9h.1m15.1,2.5h.1m.9-1h.1m.8,.8h.1m50.8-1.5h.1m-170.3,4.7h.1m2.2-.8h.1m2.8-.6h.1m4-.9h.1m17.8,1.7h.1m4.4-.5h.1m.1,1.1h.1m8-2.5h.1m0,1.4h.1m27.8-.9h.1m7.1,.5h.1m39.7-.6h.1m1.4,1.5h.1m50.7,.2h.1m-256.5,1.5h.1m75.1-.3h.1m37.1,.7h.1m88.2,1.5h.1m47.8-.5h.1m-5.3,2.8h.1m-115.2,2.7h.1m1.9,.5h.1m11.9-.6h.1m2.5-.9h.1m1.3-.5h.1m17.6,2.9h.1m19.2-2.9h.1m38.1,.1h.1m-209.3,2.9h.1m72.4,2h.1m36.4,.7h.1m.6-1.8h.1m2.9-.9h.1m12,2.1h.1m.5,.7h.1m1.6-.9h.1m-59.2,3h.1m35,.6h.1m2.9-2.4h.1m55.3,.4h.1m-.1,1h.1m4-1h.1m76.3-.3h.1m-179.7,3.8h.1m1.5-.1h.1m33.1,1.2h.1m.9-1.2h.1m22.4-.5h.1m38.9,1.4h.1m36.2-1h.1m37.7,1.3h.1m12.7,.4h.1m.6-.8h.1m-217.4,2.8h.1m3.4-1.3h.1m57.4,2.2h.1m3-1.8h.1m19.4,1.6h.1m2.5-2h.1m16.1,1.3h.1m97.2,1.1h.1m1.6-.2h.1m-231.3,3.4h.1m1.2-.5h.1m80.2-.8h.1m1.7,.4h.1m41.1-1.8h.1m6.3,.9h.1m.6-.8h.1m90.7,1.7h.1m1.8-.6h.1m1.2-.1h.1m1.9-.6h.1m.7,.3h.1m-231.2,4.9h.1m.4-.1h.1m.8-2.1h.1m2.5,.3h.1m17.7,.5h.1m23.7-.8h.1m37.6,1h.1m.1,.2h.1m0,.9h.1m-90,.7h.1m4.3,1h.1m43.6,.9h.1m36.5-.7h.1m-83.5,2.4h.1m.8-.6h.1m35,.9h.1m1.1-.8h.1m1.4,.2h.1m2.9-.7h.1m.9,.7h.1m1.7-.1h.1m36,2h.1m.7-1.6h.1m88.1,.9h.1m.6,.2h.1m31.6-.5h.1m.1,0h.1m-168.9,1.4h.1m33.5,2.4h.1m1.5-.7h.1m10-.6h.1m120.1,.8h.1m1,0h.1m2.7-.2h.1m1-1.7h.1m-184.2,5.9h.1m82.8-.9h.1m91.7-.4h.1m0-.6h.1m-153.8,4.4h.1m57.3,.4h.1m.4-2h.1m0,1.5h.1m-91.6,3.1h.1m1.7-.1h.1m-2.1,2.1h.1m28.8,1.1h.1m141.8-1h.1m.9,1.2h.1m10.7-2.1h.1m.5,0h.1m-191.6,3h.1m.2,.1h.1m2.1,1.6h.1m1.5-1.8h.1m27.8,1.4h.1m4-1h.1m.8,1.3h.1m60.5-1.8h.1m74.1,1.5h.1m.6-.4h.1m.8,0h.1m.6-.6h.1m1.6,.5h.1m-176.1,3.3h.1m.6-1.7h.1m28.1,2.5h.1m3.8-2.1h.1m3,0h.1m17.7,1.1h.1m1.1,.8h.1m29.8-.6h.1m89.6-1.3h.1m48.9,1.1h.1m-210.6,3.6h.1m13.4,.7h.1m.5-.2h.1m.1-2.4h.1m.9,.7h.1m.9,1.1h.1m.4-1.6h.1m1.1,2.2h.1m17.2-.2h.1m1.9,.2h.1m.3-.3h.1m58.6-1.8h.1m.1,.4h.1m1.5,0h.1m.9,1.6h.1m10.2,.3h.1m0-.8h.1m.4-.1h.1m0-.8h.1m.4,.5h.1m2.3-.6h.1m67.2,.9h.1m2.6,.5h.1m0,.1h.1m.5-.8h.1m-172.9,2.3h.1m24-1h.1m.5,1.6h.1m1.5-1.1h.1m73.2,.2h.1m62,1.8h.1m6.4-.6h.1m24.4,.9h.1m-111.5,1.2h.1m105.6-.1h.1m.6,1h.1m-205.5,2.2h.1m51.3,1.3h.1m.4-1.4h.1m.3,1.9h.1m.4-.9h.1m1.5-1.4h.1m2.1,1.4h.1m25.2,.6h.1m4.4-2.6h.1m9.7,1.8h.1m21.2,1.1h.1m4.9,0h.1m1.8-1.4h.1m77.8,.6h.1m-180.2,2h.1m.2-.7h.1m25.8,1.5h.1m.1,.2h.1m.7-1.9h.1m3.6,.4h.1m48.6,0h.1m.8-.5h.1m.8,1.4h.1m16.2,.4h.1m80.4-.9h.1m28.9,.8h.1m.3,1.1h.1m.1-1.9h.1m0,1h.1m15.1,.9h.1m2-1.7h.1m-200.6,3.2h.1m1.9-.7h.1m39,1.5h.1m1.1-.2h.1m0,.9h.1m.9-.7h.1m0,.6h.1m53.9-2.8h.1m1.5,.6h.1m33.3,2.2h.1m.4,.1h.1m46.7-2.9h.1m16,1.9h.1m.1-1.1h.1m-205.7,3.2h.1m4.5-.8h.1m4.1,1.4h.1m11.9,.4h.1m23.5,0h.1m9.5-1.8h.1m86.9,1.7h.1m43.9-1h.1m-195,4.1h.1m.8,.7h.1m3.9-2.3h.1m15.3,.7h.1m.5,1.5h.1m.8-.2h.1m.9-.5h.1m20.1,.1h.1m32.8-1.1h.1m6.2,.5h.1m.4-.5h.1m19.6,.5h.1m84.9,1.5h.1m0-1h.1m1.4,.6h.1m1.9-1.1h.1m-191.4,2.1h.1m41.4-.1h.1m1.3,.1h.1m27.5,.5h.1m114.6,1.8h.1m-9.6,2.2h.1m6.3-.7h.1"/><defs><filter id="blurD" x="-20%" y="-50%" width="140%" height="200%"><feGaussianBlur stdDeviation="1"/></filter></defs><path d="M252,256 Q270,253 285,254.5 T309,254 L309,259.5 Q290,260 270,259 T252,257.5Z" fill="#fff" opacity="0.85" filter="url(#blurD)"/></g><rect x="49.0" y="191.2" width="258.4" height="130.8" fill="none" stroke="#8a8a8a" stroke-width="0.9"/><defs><linearGradient id="ggreen" x1="0" y1="0" x2="0" y2="1"><stop offset="0" stop-color="#c2f7a8"/><stop offset="1" stop-color="#fbfff8"/></linearGradient></defs><rect x="348.20" y="222.52" width="2.92" height="75.48" fill="url(#ggreen)" stroke="#7ee84e" stroke-width="0.8"/><rect x="351.12" y="257.27" width="2.92" height="40.73" fill="url(#ggreen)" stroke="#7ee84e" stroke-width="0.8"/><rect x="354.05" y="251.89" width="2.92" height="46.11" fill="url(#ggreen)" stroke="#7ee84e" stroke-width="0.8"/><rect x="356.97" y="259.00" width="2.92" height="39.00" fill="url(#ggreen)" stroke="#7ee84e" stroke-width="0.8"/><rect x="359.90" y="259.29" width="2.92" height="38.71" fill="url(#ggreen)" stroke="#7ee84e" stroke-width="0.8"/><rect x="362.82" y="257.27" width="2.92" height="40.73" fill="url(#ggreen)" stroke="#7ee84e" stroke-width="0.8"/><rect x="365.74" y="255.15" width="2.92" height="42.85" fill="url(#ggreen)" stroke="#7ee84e" stroke-width="0.8"/><rect x="368.67" y="249.47" width="2.92" height="48.53" fill="url(#ggreen)" stroke="#7ee84e" stroke-width="0.8"/><rect x="371.59" y="247.86" width="2.92" height="50.14" fill="url(#ggreen)" stroke="#7ee84e" stroke-width="0.8"/><rect x="374.52" y="235.19" width="2.92" height="62.81" fill="url(#ggreen)" stroke="#7ee84e" stroke-width="0.8"/><rect x="377.44" y="244.20" width="2.92" height="53.80" fill="url(#ggreen)" stroke="#7ee84e" stroke-width="0.8"/><rect x="380.36" y="236.80" width="2.92" height="61.20" fill="url(#ggreen)" stroke="#7ee84e" stroke-width="0.8"/><rect x="383.29" y="242.07" width="2.92" height="55.93" fill="url(#ggreen)" stroke="#7ee84e" stroke-width="0.8"/><rect x="386.21" y="245.01" width="2.92" height="52.99" fill="url(#ggreen)" stroke="#7ee84e" stroke-width="0.8"/><rect x="389.14" y="238.93" width="2.92" height="59.07" fill="url(#ggreen)" stroke="#7ee84e" stroke-width="0.8"/><rect x="392.06" y="246.94" width="2.92" height="51.06" fill="url(#ggreen)" stroke="#7ee84e" stroke-width="0.8"/><rect x="394.98" y="241.05" width="2.92" height="56.95" fill="url(#ggreen)" stroke="#7ee84e" stroke-width="0.8"/><rect x="397.91" y="251.09" width="2.92" height="46.91" fill="url(#ggreen)" stroke="#7ee84e" stroke-width="0.8"/><rect x="400.83" y="253.21" width="2.92" height="44.79" fill="url(#ggreen)" stroke="#7ee84e" stroke-width="0.8"/><rect x="403.76" y="266.39" width="2.92" height="31.61" fill="url(#ggreen)" stroke="#7ee84e" stroke-width="0.8"/><rect x="406.68" y="265.48" width="2.92" height="32.52" fill="url(#ggreen)" stroke="#7ee84e" stroke-width="0.8"/><rect x="409.60" y="266.89" width="2.92" height="31.11" fill="url(#ggreen)" stroke="#7ee84e" stroke-width="0.8"/><rect x="412.53" y="266.89" width="2.92" height="31.11" fill="url(#ggreen)" stroke="#7ee84e" stroke-width="0.8"/><rect x="415.45" y="262.15" width="2.92" height="35.85" fill="url(#ggreen)" stroke="#7ee84e" stroke-width="0.8"/><rect x="418.38" y="264.26" width="2.92" height="33.74" fill="url(#ggreen)" stroke="#7ee84e" stroke-width="0.8"/><rect x="421.30" y="254.50" width="2.92" height="43.50" fill="url(#ggreen)" stroke="#7ee84e" stroke-width="0.8"/><rect x="424.22" y="263.47" width="2.92" height="34.53" fill="url(#ggreen)" stroke="#7ee84e" stroke-width="0.8"/><rect x="427.15" y="270.06" width="2.92" height="27.94" fill="url(#ggreen)" stroke="#7ee84e" stroke-width="0.8"/><rect x="430.07" y="266.89" width="2.92" height="31.11" fill="url(#ggreen)" stroke="#7ee84e" stroke-width="0.8"/><rect x="433.00" y="255.56" width="2.92" height="42.44" fill="url(#ggreen)" stroke="#7ee84e" stroke-width="0.8"/><rect x="435.92" y="252.39" width="2.92" height="45.61" fill="url(#ggreen)" stroke="#7ee84e" stroke-width="0.8"/><rect x="438.84" y="255.03" width="2.92" height="42.97" fill="url(#ggreen)" stroke="#7ee84e" stroke-width="0.8"/><rect x="441.77" y="234.47" width="2.92" height="63.53" fill="url(#ggreen)" stroke="#7ee84e" stroke-width="0.8"/><rect x="444.69" y="246.33" width="2.92" height="51.67" fill="url(#ggreen)" stroke="#7ee84e" stroke-width="0.8"/><rect x="447.62" y="242.38" width="2.92" height="55.62" fill="url(#ggreen)" stroke="#7ee84e" stroke-width="0.8"/><rect x="450.54" y="243.69" width="2.92" height="54.31" fill="url(#ggreen)" stroke="#7ee84e" stroke-width="0.8"/><rect x="453.46" y="234.73" width="2.92" height="63.27" fill="url(#ggreen)" stroke="#7ee84e" stroke-width="0.8"/><rect x="456.39" y="228.14" width="2.92" height="69.86" fill="url(#ggreen)" stroke="#7ee84e" stroke-width="0.8"/><rect x="459.31" y="234.73" width="2.92" height="63.27" fill="url(#ggreen)" stroke="#7ee84e" stroke-width="0.8"/><rect x="462.24" y="239.21" width="2.92" height="58.79" fill="url(#ggreen)" stroke="#7ee84e" stroke-width="0.8"/><rect x="465.16" y="239.21" width="2.92" height="58.79" fill="url(#ggreen)" stroke="#7ee84e" stroke-width="0.8"/><rect x="468.08" y="235.26" width="2.92" height="62.74" fill="url(#ggreen)" stroke="#7ee84e" stroke-width="0.8"/><rect x="471.01" y="243.69" width="2.92" height="54.31" fill="url(#ggreen)" stroke="#7ee84e" stroke-width="0.8"/><rect x="473.93" y="255.56" width="2.92" height="42.44" fill="url(#ggreen)" stroke="#7ee84e" stroke-width="0.8"/><rect x="476.86" y="249.23" width="2.92" height="48.77" fill="url(#ggreen)" stroke="#7ee84e" stroke-width="0.8"/><rect x="479.78" y="256.35" width="2.92" height="41.65" fill="url(#ggreen)" stroke="#7ee84e" stroke-width="0.8"/><rect x="482.70" y="262.94" width="2.92" height="35.06" fill="url(#ggreen)" stroke="#7ee84e" stroke-width="0.8"/><rect x="485.63" y="264.26" width="2.92" height="33.74" fill="url(#ggreen)" stroke="#7ee84e" stroke-width="0.8"/><rect x="488.55" y="234.73" width="2.92" height="63.27" fill="url(#ggreen)" stroke="#7ee84e" stroke-width="0.8"/><rect x="491.48" y="217.33" width="2.92" height="80.67" fill="url(#ggreen)" stroke="#7ee84e" stroke-width="0.8"/><rect x="348.2" y="190.4" width="146.20" height="107.60" fill="none" stroke="#555" stroke-width="0.9"/><line x1="348.2" y1="298" x2="346.7" y2="298" stroke="#555" stroke-width="0.8" /><text x="345.6" y="301.2" font-size="9" text-anchor="end" font-weight="normal" fill="#000" font-family='"Liberation Sans", sans-serif' >200</text><line x1="348.2" y1="244.2" x2="346.7" y2="244.2" stroke="#555" stroke-width="0.8" /><text x="345.6" y="247.4" font-size="9" text-anchor="end" font-weight="normal" fill="#000" font-family='"Liberation Sans", sans-serif' >400</text><line x1="348.2" y1="190.4" x2="346.7" y2="190.4" stroke="#555" stroke-width="0.8" /><text x="345.6" y="193.6" font-size="9" text-anchor="end" font-weight="normal" fill="#000" font-family='"Liberation Sans", sans-serif' >600</text><line x1="348.2" y1="271.1" x2="347.2" y2="271.1" stroke="#555" stroke-width="0.6" /><line x1="348.2" y1="217.3" x2="347.2" y2="217.3" stroke="#555" stroke-width="0.6" /><line x1="348.2" y1="298" x2="348.2" y2="299.5" stroke="#555" stroke-width="0.8" /><text x="348.2" y="308" font-size="9" text-anchor="middle" font-weight="normal" fill="#000" font-family='"Liberation Sans", sans-serif' >−90</text><line x1="384.8" y1="298" x2="384.8" y2="299.5" stroke="#555" stroke-width="0.8" /><text x="384.8" y="308" font-size="9" text-anchor="middle" font-weight="normal" fill="#000" font-family='"Liberation Sans", sans-serif' >−45</text><line x1="421.3" y1="298" x2="421.3" y2="299.5" stroke="#555" stroke-width="0.8" /><text x="421.3" y="308" font-size="9" text-anchor="middle" font-weight="normal" fill="#000" font-family='"Liberation Sans", sans-serif' >0</text><line x1="457.9" y1="298" x2="457.9" y2="299.5" stroke="#555" stroke-width="0.8" /><text x="457.9" y="308" font-size="9" text-anchor="middle" font-weight="normal" fill="#000" font-family='"Liberation Sans", sans-serif' >45</text><line x1="494.4" y1="298" x2="494.4" y2="299.5" stroke="#555" stroke-width="0.8" /><text x="494.4" y="308" font-size="9" text-anchor="middle" font-weight="normal" fill="#000" font-family='"Liberation Sans", sans-serif' >90</text><line x1="366.5" y1="298" x2="366.5" y2="299" stroke="#555" stroke-width="0.6" /><line x1="403" y1="298" x2="403" y2="299" stroke="#555" stroke-width="0.6" /><line x1="439.6" y1="298" x2="439.6" y2="299" stroke="#555" stroke-width="0.6" /><line x1="476.1" y1="298" x2="476.1" y2="299" stroke="#555" stroke-width="0.6" /><text x="421.5" y="316.6" font-size="9.4" text-anchor="middle" font-weight="normal" fill="#000" font-family='"Liberation Sans", sans-serif' >Orientation (deg)</text><text x="0" y="0" font-size="9.4" text-anchor="middle" font-weight="normal" fill="#000" font-family='"Liberation Sans", sans-serif' transform="translate(331.4,245.5) rotate(-90)"># Bacteria</text><rect x="426.4" y="192" width="19.8" height="10.3" fill="url(#ggreen)" stroke="#7ee84e" stroke-width="0.9"/><text x="449" y="200.9" font-size="9" text-anchor="start" font-weight="normal" fill="#000" font-family='"Liberation Sans", sans-serif' >Orientation</text><text x="448.2" y="217.2" font-size="10.4" text-anchor="start" font-weight="normal" fill="#000" font-family='"Liberation Sans", sans-serif' >N=19000</text><ellipse cx="373.70" cy="201.80" rx="2.5" ry="5.0" transform="rotate(-90.0 373.70 201.80)" fill="#ecd8c6" stroke="#3a3a3a" stroke-width="0.65" stroke-dasharray="1.3 0.9"/><ellipse cx="365.71" cy="204.40" rx="2.5" ry="5.0" transform="rotate(-126.0 365.71 204.40)" fill="#ecd8c6" stroke="#3a3a3a" stroke-width="0.65" stroke-dasharray="1.3 0.9"/><ellipse cx="360.77" cy="211.20" rx="2.5" ry="5.0" transform="rotate(-162.0 360.77 211.20)" fill="#ecd8c6" stroke="#3a3a3a" stroke-width="0.65" stroke-dasharray="1.3 0.9"/><ellipse cx="360.77" cy="219.60" rx="2.5" ry="5.0" transform="rotate(-198.0 360.77 219.60)" fill="#ecd8c6" stroke="#3a3a3a" stroke-width="0.65" stroke-dasharray="1.3 0.9"/><ellipse cx="365.71" cy="226.40" rx="2.5" ry="5.0" transform="rotate(-234.0 365.71 226.40)" fill="#ecd8c6" stroke="#3a3a3a" stroke-width="0.65" stroke-dasharray="1.3 0.9"/><ellipse cx="373.70" cy="229.00" rx="2.5" ry="5.0" transform="rotate(-270.0 373.70 229.00)" fill="#ecd8c6" stroke="#3a3a3a" stroke-width="0.65" stroke-dasharray="1.3 0.9"/><ellipse cx="381.69" cy="226.40" rx="2.5" ry="5.0" transform="rotate(-306.0 381.69 226.40)" fill="#ecd8c6" stroke="#3a3a3a" stroke-width="0.65" stroke-dasharray="1.3 0.9"/><ellipse cx="386.63" cy="219.60" rx="2.5" ry="5.0" transform="rotate(-342.0 386.63 219.60)" fill="#ecd8c6" stroke="#3a3a3a" stroke-width="0.65" stroke-dasharray="1.3 0.9"/><ellipse cx="386.63" cy="211.20" rx="2.5" ry="5.0" transform="rotate(-378.0 386.63 211.20)" fill="#ecd8c6" stroke="#3a3a3a" stroke-width="0.65" stroke-dasharray="1.3 0.9"/><ellipse cx="381.69" cy="204.40" rx="2.5" ry="5.0" transform="rotate(-414.0 381.69 204.40)" fill="#ecd8c6" stroke="#3a3a3a" stroke-width="0.65" stroke-dasharray="1.3 0.9"/><line x1="373.7" y1="217.4" x2="373.7" y2="195.6" stroke="#222" stroke-width="0.9" stroke-dasharray="1.8 1.6"/><line x1="373.7" y1="217.4" x2="359.5" y2="199.2" stroke="#222" stroke-width="0.9" stroke-dasharray="1.8 1.6"/><text x="358.6" y="197.2" font-size="7" text-anchor="start" font-weight="normal" fill="#333" font-family='"Liberation Sans", sans-serif' >45°</text><text x="375.6" y="197.2" font-size="7" text-anchor="start" font-weight="normal" fill="#333" font-family='"Liberation Sans", sans-serif' >0°</text><defs><clipPath id="cpf"><rect x="545.8" y="190.4" width="130.6" height="129.4"/></clipPath></defs><rect x="545.8" y="190.4" width="130.6" height="129.4" fill="#fff" stroke="none" stroke-width="1" /><g clip-path="url(#cpf)" fill="none" stroke-linecap="round" stroke-width="2.6"><path stroke="#ee2020" d="M544.6,214.3l1.3,-1.1M542.3,211.3l0.8,-1.3M543.5,210.6l1.5,-1.5M549.2,204.9l0.9,-1.3M546.8,210.9l1.1,-0.8M552.5,200.5l1.6,-0.5M553.9,202.4l1.2,-1.3M552.0,204.3l1.7,-0.1M560.3,199.9l1.5,-1.2M558.0,201.9l2.0,-0.6M557.1,197.6l1.7,-1.0M561.1,197.3l2.0,-0.6M561.8,200.5l1.5,-0.8M566.4,190.8l2.0,-0.2M566.8,197.0l2.0,-0.6M567.1,198.2l1.3,-0.6M569.7,192.1l1.5,-1.0M572.7,194.9l1.9,0.0M568.9,194.5l1.7,-1.3M566.7,192.8l1.1,-0.5M566.1,192.9l2.0,-0.8M567.2,191.0l1.9,-0.3M566.6,195.9l1.3,-0.6M578.3,192.7l1.4,-0.2M580.9,192.5l1.5,0.2M583.5,189.1l1.8,-0.6M582.6,189.7l2.1,0.1M583.3,194.3l1.7,-0.0M576.6,189.0l1.3,-0.7M581.5,190.7l2.1,0.6M575.3,195.0l1.7,-0.3M574.4,192.7l1.6,0.4M582.9,188.0l2.0,0.2M579.2,188.9l1.6,-0.4M582.9,189.7l1.7,0.1M582.6,188.9l1.6,-0.4M575.8,191.7l1.9,0.0M593.5,190.5l1.8,-0.4M588.6,193.1l1.6,-0.1M589.1,190.2l1.5,-0.3M589.4,190.2l1.7,0.9M588.8,191.7l1.7,0.1M589.0,188.0l1.5,0.1M590.1,192.5l1.5,0.0M589.3,188.4l2.0,0.2M589.8,195.3l1.9,-0.7M585.3,189.0l1.5,-0.1M585.4,188.9l1.3,0.1M606.6,194.3l1.8,-0.8M600.2,192.7l1.9,0.3M600.9,193.3l1.7,0.3M609.2,190.7l1.2,0.6M602.4,190.1l1.7,0.0M606.6,196.4l1.9,0.5M595.1,190.3l1.7,0.4M597.5,191.4l1.8,0.5M609.4,192.8l1.3,0.9M604.8,196.1l1.9,-0.6M601.5,193.1l1.4,0.5M603.1,194.9l1.2,0.8M595.3,188.8l1.8,-0.3M596.5,188.8l2.0,0.1M594.5,194.3l1.4,0.1M608.4,192.5l1.7,0.4M603.2,190.8l1.7,-0.6M603.2,191.3l1.2,0.2M599.0,193.4l2.2,-0.1M598.9,192.6l1.2,-0.2M606.0,193.1l2.1,0.0M617.6,191.9l1.5,0.3M628.7,195.1l1.2,-0.2M613.5,194.2l1.9,-0.1M609.4,196.1l1.8,0.2M611.7,196.7l1.9,0.4M628.1,199.0l2.1,0.4M623.1,195.4l1.1,0.4M615.5,194.0l2.0,-0.1M617.3,191.8l1.9,1.0M613.3,195.7l1.6,-0.3M627.9,196.2l1.8,0.5M613.4,191.1l1.3,1.0M612.8,196.0l1.7,-0.1M626.3,198.2l1.9,-0.4M617.6,191.6l1.8,0.3M612.6,194.3l1.7,0.3M617.5,198.0l1.3,0.2M621.7,198.6l1.2,-0.3M622.2,195.4l1.3,-0.7M618.2,194.8l1.6,-0.0M625.6,194.0l1.3,0.2M629.5,193.6l1.4,0.3M633.4,194.5l1.4,-0.6M632.4,194.2l1.7,-0.1M635.2,192.7l1.7,-0.4M643.7,195.5l1.9,-0.3M643.4,193.9l1.9,-0.8M630.7,195.9l1.5,0.1M633.1,199.0l1.9,-0.2M642.0,195.7l1.7,-0.3M639.9,195.2l2.1,-0.1M639.9,196.6l1.4,0.1M629.9,193.7l1.9,-0.3M632.4,192.3l1.9,0.5M639.4,193.0l1.5,-0.1M632.5,192.2l2.1,0.3M640.4,191.9l1.8,0.2M649.9,195.0l2.0,-0.5M647.4,189.2l1.2,-0.6M643.6,190.3l2.0,0.1M648.0,189.3l1.9,-0.5M649.7,194.2l2.1,-0.4M651.2,194.9l1.9,-0.8M647.8,196.1l1.5,-0.4M645.0,195.5l1.6,-0.3M652.0,190.2l1.2,-0.5M648.3,189.5l1.7,0.1M657.4,189.9l2.0,-0.7M657.5,190.2l1.6,0.3M652.7,188.1l2.1,-0.5M658.2,192.2l2.1,-0.0M655.4,188.8l2.0,-0.2M654.2,189.0l1.2,0.3M657.0,190.6l1.6,-1.0M659.7,189.5l2.0,0.2M551.3,215.1l0.9,0.9M548.5,214.6l1.4,1.1M555.9,219.9l1.2,1.6M557.6,223.2l1.1,1.5M566.4,226.1l1.7,0.3M558.7,225.8l1.3,1.0M566.0,225.9l1.3,0.8M560.8,224.9l1.5,1.3M561.6,225.2l1.9,0.5M566.0,230.1l1.8,-0.2M570.2,229.4l2.0,0.1M566.7,231.5l1.2,0.5M569.3,231.6l1.5,0.8M567.0,228.6l1.7,1.4M568.8,230.5l1.6,0.2M565.6,232.3l1.2,0.1M569.5,231.5l1.5,0.9M566.0,225.9l2.0,0.7M580.0,230.1l1.5,-0.6M576.7,230.0l1.4,-0.3M575.8,228.6l1.3,-0.4M579.9,231.5l1.6,0.0M571.8,228.4l1.5,-1.2M580.6,231.8l1.2,-1.6M575.9,228.9l1.3,-1.0M571.6,228.8l1.7,-0.4M576.2,230.2l1.4,-1.1M574.1,233.4l1.5,-0.1M581.6,226.1l1.3,-0.9M583.2,224.8l1.9,-0.8M585.2,225.7l1.8,-0.7M585.5,227.2l1.6,-0.4M587.3,226.7l1.3,-0.7M584.0,230.3l1.3,-0.4M580.3,226.3l1.2,0.4M589.3,225.9l1.3,-0.5M589.8,228.7l1.2,-0.5M591.9,220.9l1.4,-0.9M596.2,224.3l1.4,-0.4M594.4,225.0l2.0,-0.9M589.9,226.4l1.2,-1.0M590.7,225.1l1.6,0.1M599.3,222.8l2.0,-0.5M598.8,222.1l1.2,-0.0M596.4,220.2l2.0,-0.9M599.7,219.7l1.1,-0.4M598.5,219.5l1.0,-0.8M601.5,224.2l1.4,-0.9M603.0,223.1l1.7,0.3M604.3,221.4l2.0,-0.2M608.9,219.9l2.1,0.2M605.8,220.4l1.7,0.3M610.5,223.4l1.6,0.8M610.5,224.4l1.5,0.2M605.1,218.9l1.8,0.1M605.8,222.5l1.1,0.5M601.3,221.0l1.8,0.0M604.9,219.6l2.1,0.7M609.5,218.3l1.9,0.5M603.5,221.8l1.8,0.5M593.8,196.3l0.5,2.0M605.2,216.1l1.3,0.3M610.7,222.3l1.2,1.2M623.4,251.5l-1.8,1.0M620.2,249.0l-1.8,0.5M627.9,249.4l-1.6,-0.1M646.8,201.1l1.5,1.5M641.2,200.4l1.5,0.5M645.0,197.8l1.5,1.0M646.2,203.0l1.5,0.9M655.6,209.8l1.7,1.3M652.9,207.3l0.9,2.0M649.7,206.5l1.7,0.9M654.2,205.1l1.4,0.5M663.5,215.9l1.2,1.8M664.9,217.5l1.2,1.3M674.5,228.0l1.2,1.2M675.6,236.6l-0.6,1.8M673.7,229.7l0.2,1.7M677.2,230.1l-0.4,1.7M676.5,245.2l-0.6,1.5M677.6,246.1l-0.2,1.3M673.6,245.4l-0.1,1.4M649.9,210.6l-1.4,1.3M649.3,217.5l-1.1,1.5M640.1,219.1l-0.9,1.2M631.7,232.4l-0.9,1.5M617.1,251.0l-1.2,1.6M620.5,251.7l-0.4,1.5M617.7,247.5l-1.0,1.1M648.7,211.6l1.7,0.8M650.1,211.4l1.5,0.0M645.6,214.9l1.4,0.2M647.1,212.6l1.5,0.2M648.6,210.7l1.8,0.3M644.8,213.9l1.7,0.6M654.2,214.6l1.7,0.4M658.9,213.4l1.9,0.4M658.2,216.6l1.3,-0.2M663.7,215.9l1.2,0.5M654.4,212.8l1.2,0.4M660.2,214.7l1.4,1.2M662.7,218.5l1.8,-0.2M658.6,213.2l1.7,0.4M661.9,217.2l1.8,1.1M662.6,216.0l1.8,-0.3M638.2,240.1l1.3,1.6M643.1,238.1l1.4,1.6M633.9,236.5l1.8,0.8M639.8,236.7l1.5,0.5M636.1,238.9l0.9,1.1M640.5,238.5l1.0,1.2M648.2,242.2l1.5,-0.3M652.5,241.4l2.0,-0.3M646.6,240.3l2.0,-0.8M644.6,240.0l1.6,-0.0M646.8,238.3l2.0,0.3M644.5,239.0l1.6,-0.7M647.4,243.6l1.2,-0.5M646.9,238.8l1.6,-0.3M661.2,234.8l1.9,0.2M656.7,240.4l1.7,-0.0M654.4,238.9l1.8,-0.2M660.3,235.4l1.8,-0.7M662.5,235.3l1.3,-0.3M665.9,237.1l1.8,0.0M673.0,235.6l1.8,-0.4M667.0,235.8l1.7,-0.6M674.0,231.1l2.0,-0.1M671.6,233.2l1.9,-0.2M669.2,235.3l1.2,-1.1M667.5,237.0l1.5,-0.4M671.9,235.7l1.5,-0.4M666.2,232.8l1.7,-0.3M674.8,232.3l1.8,0.2M548.1,259.9l2.1,-0.3M545.2,259.8l1.9,-0.6M552.6,261.3l1.8,-1.1M546.2,261.6l1.2,-0.4M555.7,258.3l1.6,-0.5M551.2,259.7l1.6,-0.1M556.4,262.9l1.4,-0.2M549.7,264.2l2.1,-0.0M545.4,260.6l1.7,0.1M548.0,260.3l1.7,-0.6M555.3,263.4l1.4,-0.7M558.9,259.5l1.5,-0.1M566.7,258.1l1.2,-0.2M561.6,260.0l2.1,-0.4M559.6,260.0l1.3,0.2M559.0,257.3l2.1,-0.4M564.5,257.7l1.9,0.2M558.6,259.6l2.0,-0.4M564.1,262.6l1.2,0.2M565.2,262.8l1.2,0.1M568.5,260.2l1.9,0.4M558.4,261.9l1.6,0.2M569.7,258.0l2.0,-0.3M568.5,257.4l1.4,-0.2M575.4,263.3l1.5,-0.0M578.9,259.2l2.0,1.0M583.4,260.2l1.4,-0.0M576.0,259.2l1.6,1.0M575.2,263.0l2.0,0.4M573.4,261.6l1.6,0.4M578.2,263.0l1.3,0.4M585.0,260.1l2.1,0.6M574.7,257.6l1.9,0.4M583.3,262.1l1.4,0.5M573.3,260.7l1.8,0.8M575.3,259.8l2.1,-0.0M588.1,259.8l1.4,-0.4M592.0,262.8l1.4,0.2M589.9,259.8l1.7,-0.4M585.7,262.0l2.0,-0.2M588.0,258.3l1.5,-0.1M597.0,260.7l1.5,0.1M590.7,260.2l1.7,-1.3M590.0,261.6l1.6,-0.8M597.3,259.2l1.1,-0.8M593.3,258.1l1.6,0.6M592.4,259.8l1.8,-0.2M610.1,254.9l1.6,-0.2M607.2,259.8l1.7,0.1M606.3,260.8l1.6,-0.0M600.8,257.0l1.5,-0.3M601.7,258.4l1.6,0.3M607.4,261.0l1.5,-0.9M610.8,256.4l2.1,-0.3M603.7,260.9l1.9,-0.9M610.6,259.3l1.4,-0.1M604.0,257.4l2.0,-0.8M612.2,257.0l1.4,-0.7M599.0,259.1l2.0,-0.8M608.4,259.2l1.8,0.1M616.2,255.7l0.8,-1.4M557.8,301.1l1.7,0.7M562.4,303.6l1.3,0.9M564.1,302.3l2.0,0.8M558.4,299.4l1.0,1.0M557.1,300.2l1.1,1.7M570.7,308.8l1.2,0.4M570.2,306.8l2.0,0.7M573.1,306.8l2.1,0.5M570.9,309.8l1.3,0.9M567.3,308.5l1.2,0.7M572.1,307.2l1.9,1.0M571.1,309.0l1.4,0.2M574.4,311.6l1.6,1.1M570.2,305.2l1.9,-0.1M577.6,309.9l1.8,0.5M570.4,305.8l1.3,0.4M579.1,308.5l1.5,-0.1M585.3,313.5l1.6,0.7M589.6,309.4l1.3,0.2M590.2,313.4l1.8,-0.9M589.3,308.4l1.5,0.7M587.6,308.7l1.7,0.7M589.7,310.2l1.3,-0.4M583.7,312.3l1.7,0.9M591.0,310.1l1.8,-0.2M585.0,309.7l1.7,0.2M586.7,310.1l1.7,-0.5M580.4,311.8l1.8,0.3M586.4,312.7l1.7,0.8M593.4,308.3l1.8,-0.8M592.0,310.4l1.4,-0.5M597.9,305.8l1.5,-1.1M601.7,307.1l1.3,-1.0M598.8,310.4l1.2,-0.7M599.7,308.7l0.9,-1.1M592.2,310.5l0.9,-1.6M600.3,308.3l1.0,-0.8M597.5,310.5l1.4,-1.0M609.4,291.1l-0.6,1.4M603.5,299.9l-0.9,1.3M605.7,296.3l-0.4,1.7M601.7,310.3l0.8,1.6M567.4,320.6l0.6,1.9M615.6,261.1l1.0,1.8M615.1,261.5l-0.6,1.8M620.6,268.6l-1.0,1.3M621.3,275.0l-0.2,2.1M614.6,269.8l0.1,1.8M621.6,271.8l-0.5,1.5M622.1,274.1l0.2,1.9M615.1,292.5l-0.1,2.2M621.2,286.1l0.1,1.6M616.6,298.4l-0.0,1.2M621.9,304.8l0.9,1.9M621.9,304.2l1.1,1.2M625.6,322.0l1.1,1.4M625.1,311.0l0.7,1.1M623.0,314.8l0.9,1.0M615.3,314.9l1.1,1.3M629.0,315.3l1.1,0.8M632.8,279.0l1.6,0.4M631.7,282.4l1.4,-0.2M627.5,278.7l1.3,0.1M624.3,277.5l1.2,-0.2M634.1,282.2l2.2,-0.2M631.4,281.8l1.3,-0.2M630.6,283.1l1.4,0.2M628.4,283.1l1.8,0.9M627.0,281.9l1.4,0.0M624.3,281.9l1.9,0.2M626.3,281.1l1.6,-0.2M624.1,280.2l1.5,-0.1M632.1,281.6l1.3,0.9M635.3,280.7l1.4,0.4M628.2,282.2l1.5,-0.2M645.6,282.5l2.1,-0.1M643.0,283.0l1.6,0.1M638.9,278.4l1.7,0.7M647.9,281.3l1.7,-0.5M637.9,280.1l2.0,0.0M639.2,283.6l1.2,0.2M640.5,283.7l1.8,0.0M638.5,282.9l1.8,0.4M649.2,283.8l1.6,-0.0M646.7,280.8l1.9,0.4M639.2,279.2l1.5,-0.1M663.5,277.6l2.1,-0.1M657.9,283.5l1.4,-0.2M658.9,280.0l1.4,-0.3M655.6,284.0l1.9,-0.2M658.1,278.0l2.1,0.6M661.9,277.9l1.5,0.4M664.1,278.0l1.3,-0.5M663.8,279.6l1.4,-0.1M657.0,282.0l1.6,-0.2M663.3,279.6l1.9,-0.1M657.0,282.9l1.2,-0.4M661.3,281.6l1.7,0.2M660.6,283.5l1.4,-0.3M661.5,282.2l2.0,-0.8M665.3,281.8l2.1,-0.3M672.7,276.0l1.5,-0.5M672.0,277.8l1.9,-0.8M673.0,275.8l1.9,-1.0M673.5,274.2l2.1,-0.7M672.3,277.5l1.6,-0.1M671.6,276.2l1.7,-0.7M672.3,278.1l1.4,-0.7M664.5,278.1l1.4,-0.5M673.0,275.9l2.1,-0.4M675.9,272.6l1.8,0.1M652.3,252.8l0.6,1.1M650.6,255.5l1.8,0.8M658.4,259.8l1.2,0.7M652.4,256.3l1.5,1.2M653.6,252.7l1.7,0.7M659.6,257.3l1.9,0.7M653.8,255.4l1.5,0.5M661.4,258.0l1.3,0.8M665.9,259.4l1.6,0.2M673.5,265.2l1.4,0.9M679.3,264.7l1.8,1.1M676.0,266.8l1.5,0.5M666.7,264.0l1.6,1.5M668.4,261.2l1.5,0.4M650.8,286.7l-2.1,0.5M654.1,288.6l-1.5,1.2M652.4,286.5l-1.5,0.8M637.6,298.1l-0.5,1.4M631.3,307.3l-1.1,0.7M633.7,306.7l-1.2,0.4M633.6,304.7l-1.8,0.9M612.3,303.1l1.5,0.6M615.6,303.0l1.9,0.3M612.7,303.1l1.6,-0.4M642.4,318.6l1.2,-1.6M643.0,316.5l0.6,-1.2M569.9,250.4l1.5,1.6M546.2,216.1l1.2,1.2M545.1,213.3l1.7,0.6M546.8,233.0l0.9,1.7M553.0,246.1l1.5,0.6M556.9,244.8l1.3,0.4M569.3,251.1l-1.0,1.6M561.1,230.5l1.4,1.1M548.6,224.3l1.4,0.2M559.6,250.2l1.5,0.9M550.7,251.1l-0.9,1.4M546.9,267.1l1.3,0.4M571.6,238.9l1.6,0.8M544.5,234.3l2.0,-0.4M549.1,249.7l1.3,1.4M560.8,270.1l2.0,0.6M550.0,283.9l1.8,0.8M556.0,289.3l1.5,0.9M545.1,297.6l0.8,1.6M551.8,235.6l1.3,1.3M557.7,247.5l1.9,0.2M571.8,256.4l1.4,0.3M556.9,255.1l1.2,0.7M551.7,264.6l1.3,0.7M551.6,256.1l1.0,0.8M553.9,285.3l1.5,0.8M569.9,241.8l0.4,2.1M548.3,246.0l1.3,0.7M567.3,241.9l0.9,1.0M558.5,280.3l-0.1,1.5M544.2,256.7l2.0,0.9M561.9,285.5l0.4,1.3M548.2,298.4l1.2,0.8M575.0,239.3l1.2,1.4M546.1,247.0l0.4,2.0M554.3,246.2l0.4,1.9M564.0,260.6l-0.5,1.9M617.7,313.5l1.8,1.1M621.9,302.9l0.7,1.8M622.2,312.3l1.6,0.5M630.7,320.9l1.2,0.6M628.4,317.4l1.4,0.5M632.2,304.8l1.1,1.0M628.2,314.7l1.4,0.7M622.2,314.3l1.0,1.0M628.3,315.0l1.3,0.8M636.3,313.6l0.1,1.4M623.2,306.3l1.5,0.9M632.5,304.4l2.0,0.8M628.6,316.5l-0.7,1.3M624.5,320.2l1.5,1.1M556.6,306.8l1.2,0.9M553.9,320.2l0.3,1.3M553.8,318.3l0.2,1.7M546.5,303.3l1.2,1.5M548.6,309.3l1.4,0.9M547.9,299.6l0.5,1.1M545.0,314.4l1.3,1.3"/><path stroke="#8a2a9a" d="M549.3,200.6l1.5,-0.4M558.8,197.8l1.4,-1.1M577.2,191.9l1.2,0.0M610.6,192.8l1.5,0.4M622.8,198.4l1.8,0.1M619.2,192.1l1.3,0.6M624.4,193.6l1.7,0.3M634.7,192.7l1.7,-0.2M652.9,189.8l1.6,-0.2M546.4,211.1l0.9,1.8M548.0,209.9l1.2,1.1M548.5,210.0l1.4,1.2M549.3,215.8l1.2,0.5M549.7,218.4l1.6,0.8M548.1,215.8l1.7,0.6M550.8,212.7l1.2,1.1M555.1,220.0l0.7,1.1M552.0,219.3l1.5,0.5M561.5,223.5l1.0,1.5M559.6,223.7l1.0,1.0M567.4,233.1l2.0,0.1M604.9,216.6l1.3,1.3M614.9,224.2l0.8,1.5M609.8,219.4l0.9,1.2M609.3,220.9l1.0,1.1M612.7,226.7l0.6,1.8M610.3,223.3l1.2,1.5M619.2,231.3l1.5,1.4M620.9,237.2l0.2,1.7M627.7,240.4l-0.4,2.0M627.2,245.8l0.3,1.2M619.7,252.2l-1.4,1.2M643.3,196.9l1.2,0.7M649.1,197.4l1.3,1.0M651.5,200.5l1.1,1.6M654.6,201.4l1.5,1.1M652.2,203.8l1.1,0.9M667.3,219.4l0.5,1.7M665.8,214.1l0.6,1.8M662.3,207.7l1.2,1.4M676.6,237.1l-0.5,2.1M677.0,249.5l0.9,1.2M673.3,248.1l-0.5,1.7M679.8,244.0l-0.8,1.5M671.4,258.2l0.7,1.7M614.5,252.1l0.3,1.7M644.5,214.0l1.0,0.7M646.3,210.8l1.3,0.2M657.6,214.7l1.2,0.3M666.9,220.7l1.2,1.6M641.0,237.1l1.2,1.6M635.3,236.7l1.1,1.2M641.0,238.0l1.7,0.6M639.2,238.8l1.0,0.7M653.0,242.2l1.6,-1.1M545.2,262.1l1.7,-0.4M563.6,262.1l1.6,0.2M571.4,261.6l1.6,0.3M574.9,259.0l1.1,0.8M574.6,262.5l1.5,0.1M575.2,261.4l1.9,0.9M585.1,260.5l2.1,-0.4M590.0,261.2l2.0,-0.2M608.5,255.1l1.5,-1.1M615.1,258.6l1.4,-0.4M561.3,301.2l1.9,0.9M558.0,300.6l1.6,1.1M573.6,308.5l1.8,-0.0M574.3,311.4l1.1,1.0M589.5,314.2l1.5,0.2M579.4,312.2l2.0,0.2M608.7,272.1l0.1,1.6M606.9,276.5l0.0,1.5M608.1,292.9l-0.5,1.3M603.2,317.8l-0.3,1.6M604.9,314.6l0.7,1.2M567.4,312.3l0.6,1.8M618.3,256.8l-0.7,1.6M623.9,254.0l0.5,1.4M613.3,271.4l0.2,1.7M619.3,274.4l0.4,1.8M618.7,287.7l-0.4,1.8M614.7,292.2l-0.2,2.0M612.7,300.5l0.1,1.7M623.2,305.7l0.5,1.6M623.3,311.0l1.1,1.4M616.0,316.8l1.3,1.4M626.9,317.1l1.2,1.0M620.8,315.5l1.0,1.7M623.7,314.5l1.0,1.7M628.6,280.5l1.5,-0.1M640.1,282.7l1.2,-0.5M641.8,283.0l1.8,0.7M677.2,277.0l1.3,-0.8M652.4,255.8l1.7,0.8M658.6,256.2l1.4,0.9M652.0,255.1l1.6,0.8M664.5,258.5l1.6,1.0M660.2,256.7l1.3,1.1M677.4,267.2l1.2,0.9M666.4,260.9l1.8,1.2M668.9,261.1l1.1,1.4M675.8,267.5l1.0,0.8M641.3,295.4l-1.7,1.3M609.2,302.9l1.8,0.5M550.0,225.7l1.5,0.9M546.6,217.2l1.4,1.6M571.1,245.4l0.8,1.4M555.2,239.5l1.0,1.7M553.2,297.4l1.9,1.1M550.5,259.6l1.7,1.1M557.1,276.8l1.3,1.6M549.9,230.2l0.4,1.9M546.3,213.2l-0.5,1.5M561.7,264.1l-0.3,1.6M551.3,263.2l0.8,1.0M569.0,249.7l0.7,1.3M552.3,280.8l0.5,1.2M573.5,234.7l0.1,2.2M565.5,257.6l0.4,1.3M550.9,255.4l1.3,1.2M557.2,227.9l1.1,0.6M545.2,215.5l1.4,0.6M559.1,251.8l0.9,0.8M558.9,269.6l1.5,1.6M547.5,221.1l1.5,1.0M548.4,222.2l0.9,1.8M551.0,219.0l1.5,1.5M546.0,212.5l-1.2,1.8M561.4,279.5l1.1,0.7M556.5,225.5l1.4,1.0M555.4,234.8l0.5,1.1M545.7,239.9l0.9,1.4M557.2,261.5l1.3,1.1M546.3,273.9l-0.2,1.9M623.7,298.0l1.2,0.9M620.2,297.2l1.5,0.7M624.3,307.0l-0.7,1.7M634.5,318.0l1.6,0.9M630.2,309.4l1.0,1.6M626.1,314.8l1.5,1.1M626.0,320.1l1.3,0.6M631.7,312.2l1.5,1.6M615.9,300.2l0.3,2.0M551.2,303.5l1.4,1.3M550.7,300.3l1.3,1.4M567.5,319.4l1.1,1.1M549.4,314.3l1.4,1.1M547.5,304.3l0.8,1.6M552.2,312.1l1.3,0.8M562.9,310.7l1.2,0.4M551.8,304.8l1.1,0.7"/><path stroke="#2020f0" d="M540.9,208.8l1.1,-1.5M608.7,191.8l1.7,1.0M617.7,197.0l2.0,-0.3M658.0,188.8l1.5,0.1M545.6,210.8l1.6,1.2M545.2,211.6l1.6,0.9M551.5,212.3l1.2,1.1M551.7,212.5l0.9,1.4M553.5,216.4l1.3,0.9M553.6,221.1l0.5,1.5M557.3,220.9l0.5,1.9M555.2,217.0l1.1,1.3M557.7,218.7l0.6,1.3M554.4,220.5l1.9,0.9M563.1,225.4l1.7,1.0M562.6,223.7l1.6,1.0M559.1,228.3l1.4,0.2M557.0,227.2l1.4,0.5M576.9,232.5l1.1,-0.5M598.1,191.2l0.7,1.1M596.2,197.8l0.6,1.5M597.0,197.4l0.7,1.6M593.2,192.4l0.5,1.6M599.9,211.8l0.3,1.6M602.9,212.8l0.6,1.3M597.7,208.8l1.3,1.5M604.9,214.2l1.4,1.1M603.1,219.7l1.5,1.1M603.7,215.4l1.0,1.0M609.4,219.8l1.5,1.5M614.9,222.7l1.6,1.3M609.7,225.4l1.7,1.3M610.6,224.0l1.4,1.0M607.8,219.1l1.3,1.4M610.1,223.8l1.6,0.7M612.8,222.3l0.9,0.9M616.0,233.3l1.9,1.0M616.7,226.2l1.1,1.6M617.4,224.9l0.7,1.0M615.1,231.5l1.0,1.7M617.0,227.6l1.3,1.6M618.3,232.3l0.5,1.2M619.6,229.1l1.5,1.4M623.1,235.1l0.5,2.0M623.4,231.8l1.0,0.7M621.1,233.0l0.9,1.4M625.5,235.0l0.2,1.4M627.6,242.8l0.7,1.7M623.9,243.1l0.2,1.5M625.7,240.2l0.3,1.6M624.5,236.7l0.5,2.1M627.5,247.3l-1.9,1.0M623.6,250.4l-0.8,1.0M642.7,196.4l1.6,0.7M644.3,198.3l0.9,1.3M649.3,202.3l1.2,0.9M647.2,204.0l1.5,1.1M648.3,204.5l1.2,1.2M645.1,196.2l1.3,1.2M647.8,204.4l1.7,1.1M648.2,196.5l1.6,0.5M659.2,206.5l1.1,1.3M656.8,202.7l1.7,0.9M648.7,205.5l1.2,1.2M650.6,202.6l1.5,0.8M655.9,207.8l1.7,1.1M649.3,205.8l1.8,1.2M663.8,219.1l0.7,1.6M662.8,218.0l0.7,1.3M664.6,215.2l1.2,0.5M663.9,218.6l0.8,1.3M662.6,214.1l0.9,1.1M665.5,221.3l0.8,1.5M662.5,213.1l1.8,1.1M663.6,213.4l0.4,2.1M668.4,216.0l1.3,1.1M671.2,224.4l1.3,1.4M668.9,227.7l1.3,1.6M665.7,224.8l0.8,2.0M671.9,222.1l1.8,0.9M669.6,218.8l1.3,1.5M671.5,224.2l1.4,1.3M668.7,222.2l0.3,1.7M670.3,219.4l0.7,1.0M670.4,233.3l0.5,1.3M677.7,237.1l-0.5,1.5M670.0,230.6l0.2,1.9M674.7,255.4l-0.5,1.7M672.3,259.2l-0.3,2.1M674.6,265.2l0.1,1.5M673.7,266.5l0.4,2.0M674.3,263.6l0.6,1.3M663.8,217.8l0.8,1.2M665.9,215.3l1.1,0.9M667.9,218.4l1.2,0.9M666.2,216.6l1.2,0.8M636.3,239.4l1.7,0.3M640.9,240.6l1.7,0.5M661.3,235.6l1.9,-1.2M560.9,257.7l2.1,-0.2M588.2,260.4l1.6,0.0M598.6,262.3l1.4,-0.6M615.8,252.6l1.4,-0.1M560.6,304.3l1.6,1.3M561.4,299.3l1.4,0.5M565.7,301.9l0.4,1.5M589.3,312.6l1.3,-0.4M594.5,313.2l1.4,-1.1M611.2,265.2l0.1,1.3M607.3,298.8l-1.0,1.7M600.8,315.1l0.1,2.2M601.4,316.9l0.4,1.3M567.8,319.6l0.6,1.2M564.9,308.1l0.0,1.5M570.7,314.6l0.4,1.5M569.6,310.2l1.0,1.8M615.0,259.8l-0.4,1.5M612.3,273.9l0.2,1.5M622.8,307.9l1.1,1.7M611.8,300.5l0.7,1.6M623.4,307.7l0.3,1.2M624.0,306.1l1.0,1.7M621.0,310.4l0.7,1.8M614.0,311.8l0.9,0.8M628.9,315.0l1.2,1.6M620.3,310.6l1.7,0.9M628.1,314.6l0.7,1.2M620.0,320.6l0.7,1.1M623.1,321.7l0.4,1.5M621.1,314.1l0.9,2.0M624.0,311.5l1.4,0.9M619.6,312.0l0.8,1.0M621.5,319.7l0.6,1.1M620.0,318.7l1.1,1.3M619.8,314.4l0.4,1.9M618.5,318.0l0.8,1.5M627.7,311.6l0.5,1.2M676.5,274.3l1.2,-1.1M651.2,254.5l0.9,0.9M652.9,253.7l1.2,0.6M669.8,264.1l1.5,0.5M672.8,261.5l1.3,1.4M668.4,264.7l1.5,0.5M678.4,267.2l1.3,0.7M621.4,317.2l-0.7,1.4M650.0,300.8l0.7,-1.2M559.3,226.3l1.3,1.6M551.5,295.2l0.8,1.5M544.6,263.6l1.0,1.2M546.0,271.5l1.1,1.3M575.6,253.7l0.7,1.2M560.8,265.9l1.1,1.6M556.8,262.9l1.2,0.3M550.2,221.7l0.7,1.8M551.3,281.2l0.4,1.2M544.8,279.6l0.9,0.9M567.0,250.6l0.5,1.1M548.1,301.3l0.6,1.4M562.5,253.4l0.9,1.0M575.1,245.4l1.1,0.6M555.0,285.2l0.7,1.4M575.5,238.8l1.0,1.8M566.2,236.7l1.1,1.8M556.6,260.4l0.4,1.2M555.5,248.9l1.5,1.6M559.3,226.1l1.1,1.8M550.0,256.3l1.1,1.8M574.8,252.0l1.1,0.6M545.0,298.9l0.7,1.3M552.1,226.9l0.4,1.4M559.9,278.2l0.6,1.1M546.8,293.9l1.2,1.4M569.1,244.7l1.1,1.1M559.8,284.5l0.9,0.9M560.5,273.6l1.0,1.3M562.1,239.7l2.1,0.0M559.8,260.5l1.5,1.2M548.3,296.6l0.4,1.4M545.4,211.8l0.2,1.4M545.6,238.7l0.4,1.7M545.9,226.3l0.5,1.3M560.5,280.0l1.2,0.6M563.6,255.6l1.6,1.2M573.3,252.0l1.2,0.9M568.0,243.2l0.9,1.2M560.8,257.6l0.6,1.7M565.5,247.1l0.7,1.8M558.6,298.1l0.1,1.5M561.1,240.5l0.7,1.1M567.1,244.0l1.3,0.8M544.7,243.7l1.2,0.9M544.6,237.6l1.3,1.3M556.0,237.3l0.3,2.2M560.3,289.5l1.7,0.9M564.2,231.2l1.3,1.6M556.7,285.9l1.0,1.0M545.9,273.8l1.1,1.6M556.3,246.0l0.8,1.1M558.1,227.2l1.1,0.9M548.1,229.9l1.3,1.0M550.3,224.2l0.7,1.7M547.0,246.4l0.4,1.4M560.6,259.1l-0.4,1.2M556.9,270.4l1.8,0.6M558.8,239.4l0.6,1.1M570.8,239.7l1.0,1.7M571.1,241.0l0.2,1.7M570.1,252.5l1.0,1.7M565.9,259.9l0.9,1.4M546.0,258.9l0.6,1.8M563.1,250.0l1.3,1.2M547.0,242.1l1.1,1.8M554.1,242.1l0.9,0.9M547.6,253.1l1.4,1.3M565.8,238.6l0.5,1.6M550.6,252.6l0.7,1.4M548.5,284.1l1.3,1.5M558.5,230.9l0.4,1.4M551.6,284.9l1.0,1.5M551.3,295.1l0.4,1.2M545.3,220.9l0.9,1.4M569.5,256.3l1.2,0.4M568.6,232.6l0.9,0.9M552.7,242.8l1.4,1.2M628.6,306.4l1.2,1.3M632.1,303.6l1.3,1.2M617.2,309.9l1.4,1.5M622.8,313.8l0.1,2.1M623.8,312.1l1.7,0.4M632.9,308.8l0.4,1.9M627.8,312.3l1.3,1.7M623.0,309.1l0.8,2.0M621.3,305.1l1.0,1.2M626.8,313.7l1.7,1.3M621.0,297.0l1.1,1.1M628.5,304.4l0.7,1.1M628.9,302.7l1.5,1.3M618.8,311.8l1.3,1.6M621.5,309.3l1.4,1.4M616.5,309.2l0.9,1.6M616.9,313.8l0.7,1.4M632.0,313.0l1.4,0.7M630.3,311.3l0.4,1.7M628.2,308.7l0.6,1.5M631.0,315.5l-0.3,1.9M621.5,300.7l0.9,0.9M635.6,311.9l1.2,0.9M569.9,318.9l1.6,0.9M550.5,304.2l1.3,0.7M571.4,320.9l0.1,1.8M550.8,313.8l0.9,1.2M556.6,300.3l1.4,1.5M568.6,314.5l0.5,1.1M552.0,311.9l1.4,1.3M557.9,304.2l1.6,0.6M549.6,311.6l2.0,0.8M555.1,318.8l1.6,1.2M556.0,307.5l1.1,1.4M546.0,316.9l1.0,0.9M548.6,311.9l1.4,1.1M559.0,316.6l0.1,1.8M562.4,319.4l1.4,1.2M552.5,312.2l1.6,1.4M544.7,309.6l1.3,1.0M557.9,306.8l0.5,1.5M560.9,318.6l1.1,1.7M549.9,308.7l0.9,0.9M562.2,305.6l0.9,1.9"/><path stroke="#3c8cff" d="M550.6,201.6l0.8,-1.1M562.1,193.4l1.4,-0.7M571.8,196.1l1.3,-0.3M606.6,191.9l1.6,-0.6M644.2,190.7l2.0,0.2M651.7,195.5l1.3,0.1M557.4,223.9l0.5,1.4M553.2,218.2l1.0,1.5M598.7,220.0l1.9,-0.4M602.3,217.5l1.9,-0.4M594.4,192.6l1.0,1.6M597.4,195.9l0.3,1.4M597.9,199.2l0.8,1.8M593.6,193.7l0.3,1.3M595.4,196.6l0.3,1.3M595.7,195.0l0.7,1.4M595.4,198.6l0.7,1.1M596.3,191.6l1.2,1.5M599.9,209.1l0.5,1.8M596.8,204.7l1.2,1.4M599.9,207.5l0.4,1.8M597.1,204.1l-0.4,1.8M601.9,211.2l0.8,1.0M600.6,208.9l0.8,1.8M598.3,211.4l0.4,1.3M600.1,204.1l-0.1,1.6M602.4,208.5l0.3,1.7M603.8,219.8l1.2,1.4M600.5,215.4l1.8,0.6M606.6,217.7l1.1,1.8M603.6,212.3l0.7,1.7M606.7,220.1l1.1,1.2M617.1,227.4l0.7,1.3M617.7,227.3l0.9,1.2M619.6,236.8l1.0,1.7M623.2,245.0l0.6,1.2M625.6,236.1l0.6,1.5M626.3,242.2l0.5,1.7M625.4,242.3l0.9,1.6M622.7,241.9l0.2,1.3M624.3,252.6l-0.9,1.2M643.4,199.2l1.1,0.7M648.9,197.7l1.4,1.3M646.3,199.3l1.3,1.0M651.2,203.1l1.6,1.1M654.9,201.3l1.0,1.3M653.8,200.3l1.5,1.5M658.9,209.8l0.9,1.1M657.4,211.0l1.1,1.5M664.6,210.5l1.7,1.4M660.2,212.4l1.5,1.1M667.7,218.3l0.8,1.3M662.6,207.7l0.9,1.3M658.9,210.9l1.1,1.4M666.5,221.3l1.4,1.6M669.9,220.2l0.7,1.6M673.8,227.1l0.7,1.6M672.3,229.4l0.8,1.9M671.7,227.6l0.4,1.2M670.9,221.7l0.7,1.6M672.1,232.0l0.2,1.3M677.9,239.0l0.5,1.2M670.0,235.4l0.6,1.1M669.9,232.0l0.4,1.1M673.9,235.9l0.9,1.6M673.6,237.5l-0.3,1.7M674.7,233.0l0.4,1.2M677.6,236.4l1.1,1.8M672.5,254.0l-0.5,2.1M678.6,253.1l-0.5,1.2M677.8,245.0l0.0,1.6M674.6,256.1l0.6,1.8M673.7,264.5l0.4,1.2M679.7,259.9l0.3,1.7M678.6,266.5l-0.2,1.7M676.4,263.5l0.9,1.7M679.6,266.3l1.2,1.5M644.4,240.3l1.5,-0.5M659.7,240.5l1.4,-0.5M662.7,236.7l1.9,-1.1M668.8,233.9l1.3,-0.4M555.6,260.0l1.2,-0.5M614.9,254.8l1.2,-0.5M560.6,300.2l0.9,0.8M561.0,297.0l0.8,1.5M563.2,306.3l1.7,1.0M607.2,271.0l0.7,1.5M605.9,271.9l0.4,1.8M610.5,272.8l0.2,1.3M610.4,261.4l0.4,1.7M611.8,279.8l1.0,1.6M605.6,315.2l0.1,1.3M601.1,319.0l-0.3,1.4M602.4,311.2l-0.1,1.2M567.2,318.9l-0.0,1.9M568.0,318.9l0.7,1.7M568.5,315.2l0.4,1.3M571.8,319.2l0.2,1.3M565.2,307.7l0.7,1.7M566.5,306.5l1.1,1.6M612.6,260.0l0.3,1.4M615.1,263.7l0.5,1.6M617.9,257.1l0.7,1.3M617.1,265.1l0.6,1.5M619.4,259.5l0.6,2.1M619.0,262.8l0.4,2.1M621.7,281.3l0.0,1.3M616.9,279.9l0.0,2.2M617.2,283.3l0.1,1.8M613.4,297.2l-0.5,2.0M616.3,286.7l-0.2,1.5M611.9,287.0l0.2,1.2M610.9,294.5l-0.1,1.7M614.6,283.7l0.4,2.1M616.6,309.6l0.6,1.9M611.2,305.0l1.1,1.9M621.7,307.1l0.8,2.0M613.1,300.2l1.2,1.4M616.5,306.8l1.2,1.6M617.7,299.2l0.9,1.6M622.4,309.4l1.2,1.7M620.0,308.0l0.5,1.2M621.1,308.6l-0.1,1.9M614.4,299.3l0.6,1.1M615.1,303.3l0.8,1.6M618.0,304.2l-0.1,2.0M622.1,305.6l-0.3,2.2M618.1,312.9l0.8,1.3M629.1,318.8l1.0,1.2M622.5,323.0l1.0,1.7M625.9,313.2l1.1,0.9M646.1,282.7l1.7,0.5M663.1,278.6l1.7,-0.3M674.9,275.7l1.6,-0.2M661.8,258.6l1.0,0.8M632.2,310.5l-1.2,1.4M550.5,267.8l0.2,1.3M545.7,264.7l0.5,1.3M548.2,245.2l0.3,1.6M559.6,265.9l0.4,1.3M545.2,216.1l0.2,1.2M551.6,228.6l1.0,1.8M551.9,274.3l0.7,1.5M557.2,282.6l0.9,1.9M547.7,282.9l0.7,1.2M546.0,216.1l0.2,2.1M556.6,292.0l0.8,1.1M559.6,238.5l1.3,1.7M562.6,274.2l0.5,1.8M553.4,278.9l0.9,1.8M558.2,246.6l0.7,1.7M556.4,256.1l1.2,1.8M551.6,268.7l0.3,1.5M570.5,250.4l1.0,1.3M556.7,297.4l1.2,1.6M553.1,236.9l1.0,1.8M562.0,239.5l0.6,1.6M563.2,255.9l1.3,1.2M545.1,287.5l1.0,1.2M567.8,255.6l0.6,1.6M552.1,265.5l1.2,1.5M549.0,243.8l0.4,2.1M569.0,237.2l0.8,1.4M568.5,242.5l0.6,2.1M560.9,242.9l0.4,1.4M558.3,254.9l0.5,1.3M545.1,240.0l1.6,1.2M549.8,302.1l0.7,1.3M566.6,251.6l1.0,1.9M559.1,292.5l0.1,1.3M555.7,264.1l0.6,1.7M560.5,291.2l0.9,1.8M552.3,227.3l0.8,1.3M560.2,262.8l0.6,1.6M551.6,281.1l1.4,0.6M547.5,275.3l0.4,1.7M563.7,244.8l0.9,1.3M545.9,281.6l0.7,1.8M564.0,256.1l0.6,1.4M554.3,254.6l0.8,1.0M558.7,288.1l0.4,1.6M551.9,219.4l1.0,1.2M549.1,296.6l0.5,1.8M558.6,289.3l0.4,2.0M555.1,261.4l0.6,1.1M558.6,225.8l0.7,1.3M575.2,237.3l1.3,0.9M565.9,236.2l0.1,1.3M559.4,294.6l0.9,1.0M621.8,302.9l1.0,1.1M618.3,299.3l0.5,1.2M624.2,297.8l0.4,1.4M627.8,300.3l0.4,1.6M620.5,316.7l0.6,1.5M626.9,306.5l1.0,1.7M618.3,296.0l0.2,1.2M616.6,316.2l0.4,1.6M621.7,314.6l0.8,1.2M620.4,317.8l0.8,1.2M549.9,321.0l0.4,1.1M566.4,314.9l0.4,1.1M552.9,313.6l0.8,1.4M546.4,301.7l0.3,1.6M551.3,318.6l0.5,1.3M564.9,313.9l1.1,1.7M559.3,310.3l0.8,1.4M562.6,314.3l0.6,2.1M564.7,316.2l1.2,1.5M567.5,318.0l0.4,1.3"/><path stroke="#5ee6ee" d="M552.9,199.1l1.4,-0.5M560.9,200.6l1.2,-0.2M586.2,190.8l1.2,-0.1M624.1,193.2l2.1,0.1M633.1,192.1l2.0,0.1M650.9,189.0l1.5,-0.0M656.3,193.5l1.8,-0.2M653.7,190.6l1.6,0.0M550.0,215.7l1.8,1.2M558.3,227.5l1.1,0.8M574.4,232.2l1.7,-0.8M582.2,226.8l1.1,-0.7M599.0,199.6l0.7,1.4M596.4,201.8l0.1,1.2M600.3,199.3l0.7,1.8M600.0,207.7l0.8,1.9M598.2,207.2l0.3,1.7M626.9,240.1l1.1,1.7M621.2,238.0l-0.3,1.9M674.1,231.5l-0.2,2.1M674.0,238.1l0.1,1.2M676.2,234.9l-0.0,1.3M674.2,234.8l-0.2,2.0M670.3,231.0l0.4,1.4M670.9,231.6l0.4,1.8M677.3,235.8l-0.4,1.8M679.1,250.8l-0.3,1.3M677.0,249.1l-0.5,1.2M674.6,244.2l-0.9,0.9M673.1,253.6l-0.3,2.1M678.1,260.5l0.4,1.9M679.4,262.6l0.5,2.1M678.0,264.3l0.5,1.2M671.9,260.7l1.4,1.5M677.3,263.0l0.5,1.6M678.6,262.6l0.5,1.3M680.0,264.1l0.1,1.8M650.8,212.5l-1.4,1.3M650.2,211.0l-0.6,1.4M643.6,217.3l-0.1,1.7M628.7,235.9l-1.5,1.6M644.2,238.6l1.6,-0.1M569.7,262.9l1.6,-0.6M599.5,261.9l1.3,0.3M599.1,256.7l1.6,-0.1M576.2,306.4l1.1,0.9M576.4,312.5l1.3,0.6M611.0,277.2l0.1,1.4M608.3,264.4l-0.2,1.9M606.6,267.9l-0.1,1.7M607.4,272.3l0.7,1.3M608.7,279.2l0.2,1.2M606.0,268.4l-0.1,1.6M606.7,268.0l-0.3,1.3M607.0,270.3l-0.0,1.7M608.4,277.1l0.3,1.8M605.6,268.5l0.3,1.7M608.2,294.1l-0.1,2.1M609.7,293.1l0.3,1.4M608.6,282.8l0.3,2.1M610.4,287.4l0.5,1.8M607.2,298.6l-0.5,1.2M602.9,302.2l-0.3,1.3M605.5,294.4l-0.3,1.6M600.5,311.9l0.7,2.0M602.9,307.0l1.1,1.7M602.1,318.8l-0.2,1.8M602.1,321.1l0.3,1.2M601.7,310.4l0.6,2.0M604.5,305.6l0.1,1.7M601.6,318.2l-0.5,1.4M602.7,318.6l0.3,1.7M601.4,320.0l-0.2,2.1M567.1,318.3l0.9,1.9M564.5,307.3l0.5,1.9M566.8,311.7l0.2,1.4M568.6,316.3l-0.4,1.5M620.5,261.1l0.5,2.1M623.7,257.9l-0.1,1.7M617.7,260.4l-0.7,1.9M621.7,253.4l0.2,1.4M617.0,253.9l-0.5,2.0M623.3,258.8l0.1,1.8M612.4,258.2l0.0,1.2M612.5,262.2l-0.3,2.1M613.6,259.2l-0.3,1.4M619.3,261.5l0.0,1.4M615.1,263.2l-0.3,2.1M616.0,256.3l0.4,1.8M616.1,253.6l-0.4,1.2M614.2,264.4l0.3,2.1M612.5,278.0l0.3,1.8M622.7,274.7l-0.2,2.2M615.6,268.1l0.6,1.6M622.1,275.0l-0.1,1.3M622.3,274.2l-0.7,1.3M618.1,278.5l0.1,1.9M617.8,278.5l-0.0,1.8M621.2,276.0l0.5,1.7M619.7,277.6l0.4,1.4M615.6,270.5l-0.1,1.7M615.5,278.4l-0.6,1.1M617.3,275.7l-0.5,1.7M613.7,279.3l0.0,1.3M613.1,282.6l-0.1,1.5M613.0,295.5l0.1,2.2M616.7,293.6l-1.5,1.1M616.6,295.6l0.1,1.2M609.9,297.7l-0.7,1.2M617.0,297.3l-0.4,2.0M613.8,287.4l-0.4,1.3M616.3,282.3l-0.1,1.3M611.5,292.7l-0.0,1.2M614.3,297.3l0.3,1.4M613.0,288.5l-0.6,2.0M621.0,287.9l-0.2,1.3M616.5,297.5l0.3,1.5M615.9,294.7l-0.5,1.7M612.3,306.3l0.3,1.8M613.5,300.1l1.0,1.5M622.4,308.5l0.6,1.6M614.9,304.1l0.9,1.6M622.5,324.6l0.9,0.9M622.3,323.6l1.2,1.7M623.4,321.9l0.7,1.8M625.0,279.9l1.7,-0.0M638.5,283.5l2.1,-0.3M664.1,261.8l1.7,0.3M672.4,266.7l1.3,1.3M642.4,295.2l-1.0,1.6M637.2,306.8l-1.5,1.3M632.8,308.0l-1.8,1.2M632.1,311.1l-1.1,0.8M625.1,312.0l-0.5,1.9M620.6,319.4l-0.6,1.3M642.5,312.5l0.6,-1.3M641.2,322.8l1.1,-1.0M648.4,304.6l0.5,-1.2M549.2,222.7l0.5,1.8M562.2,275.9l0.7,1.7M559.8,290.8l-0.1,1.4M559.9,233.1l0.8,1.7M547.5,286.8l0.4,2.0M548.7,290.5l0.3,1.3M546.7,279.6l0.1,1.6M569.1,241.5l-0.8,2.0M565.0,246.6l0.3,1.9M550.8,255.7l0.0,1.4M554.0,235.5l0.3,1.6M554.9,229.8l-0.0,1.6M548.8,226.5l0.7,1.2M554.7,274.5l0.3,1.9M570.4,234.2l0.2,1.3M557.0,229.0l-0.3,2.1M554.0,241.1l0.8,2.0M548.5,273.7l-0.4,1.7M562.1,235.3l0.9,1.9M547.2,250.4l-0.2,1.2M559.1,261.0l0.1,1.5M573.5,242.1l0.5,1.9M552.0,288.1l0.4,1.8M555.2,285.3l-0.1,1.7M552.4,260.7l0.7,1.5M552.4,245.1l0.0,1.9M557.7,231.9l-0.1,2.1M550.9,240.9l-0.4,1.5M545.1,234.8l0.7,1.5M552.4,252.6l-0.1,2.1M565.2,234.5l-0.3,1.4M575.2,243.9l-0.3,1.9M549.4,269.3l-0.3,1.8M553.1,277.0l0.2,1.4M557.9,291.8l1.2,1.2M568.2,250.0l0.7,1.9M547.9,235.4l-0.1,1.9M561.9,287.8l0.4,1.6M550.3,274.2l0.8,1.7M551.0,244.6l0.2,2.1M557.8,272.2l0.3,1.9M562.2,274.9l0.5,1.3M562.6,247.8l-0.7,1.3M552.2,278.6l0.1,1.8M562.2,236.1l0.4,1.9M550.1,221.2l-0.2,1.5M635.3,316.4l-0.6,1.5M628.3,301.3l0.7,1.5M616.1,312.4l0.0,1.3M630.5,312.3l-0.1,1.9M623.5,318.6l0.8,1.1M617.4,311.9l0.3,1.5M617.4,299.0l0.5,1.8M629.1,312.7l-0.0,1.4M630.9,301.5l0.4,1.3M631.8,314.1l-0.1,1.9M551.2,302.3l-0.4,1.9M566.7,309.1l-0.1,2.1M550.3,317.0l0.1,1.5M559.4,314.2l-0.1,1.4M549.6,316.9l0.1,1.9M557.8,319.1l0.1,1.4M552.9,300.7l1.0,1.3M561.0,303.9l0.4,1.9M566.0,310.4l1.3,1.8M557.8,319.8l1.5,1.0M565.1,318.9l-0.0,2.0M553.4,309.2l0.1,2.1"/><path stroke="#6cf07c" d="M539.7,209.4l1.2,-0.8M571.8,196.5l1.6,0.4M583.3,190.7l1.6,0.1M591.6,190.8l1.3,0.7M642.0,192.4l1.5,-1.2M642.2,191.0l1.4,0.1M646.0,190.4l1.3,-0.3M573.4,232.0l1.8,0.0M593.8,222.7l1.1,-0.6M591.3,225.2l1.2,-0.9M599.3,200.5l0.4,1.8M598.5,193.0l0.4,1.4M615.8,232.6l1.0,0.8M648.8,201.3l1.0,1.1M671.3,234.3l0.3,1.2M673.5,251.9l0.2,1.7M672.3,249.4l0.3,1.5M673.2,254.0l-0.1,2.1M674.0,249.8l-0.5,1.5M672.4,254.0l0.1,1.3M676.4,250.9l-0.0,1.3M675.0,266.0l-0.4,2.1M648.8,213.0l-0.9,1.2M647.4,216.7l-1.6,1.3M642.1,225.1l-1.4,0.1M628.7,231.1l-1.0,1.3M629.1,234.5l-0.6,1.1M627.9,236.2l-0.5,1.2M628.9,238.0l-0.9,1.5M619.8,252.8l-1.1,1.3M652.2,212.3l1.7,0.2M550.3,263.8l1.7,-1.3M552.8,259.9l1.6,-0.1M610.0,254.4l2.0,0.2M578.6,308.0l1.3,1.0M608.0,264.5l-0.3,1.4M608.5,265.1l0.1,1.9M610.3,269.9l0.1,1.3M610.1,269.1l-0.4,1.7M607.5,262.3l0.6,2.0M607.5,276.8l0.2,1.5M607.6,285.1l-0.1,1.9M607.1,280.6l-0.3,1.3M609.3,280.8l-0.0,1.4M610.0,281.7l-0.0,2.0M609.5,281.1l-0.1,1.3M604.3,293.4l-0.1,1.9M600.8,315.1l0.3,1.3M619.0,253.8l0.3,1.5M617.5,253.3l0.1,1.8M616.9,262.0l0.8,1.7M621.1,255.3l0.2,2.0M619.8,266.1l-0.6,1.5M618.6,257.3l-0.1,1.3M623.3,259.8l-0.4,2.0M611.2,275.4l0.5,2.1M612.0,273.8l-0.1,2.1M622.3,279.4l-0.0,1.9M617.7,272.0l-0.6,1.2M618.3,278.7l-0.4,1.7M619.3,291.0l-0.3,1.4M614.7,285.1l-0.2,2.1M611.0,284.3l0.1,1.4M617.5,297.9l-1.0,1.7M619.7,294.0l-0.2,1.7M617.2,282.5l0.2,2.1M619.3,292.0l0.0,1.7M613.9,282.5l0.7,1.9M622.2,282.7l-0.9,1.5M619.8,291.0l0.1,1.7M620.3,297.7l-0.7,1.5M619.1,281.2l-0.1,1.6M621.0,301.2l1.2,1.8M618.6,302.5l1.2,1.7M632.1,317.6l0.9,0.9M650.4,283.6l1.7,-1.2M675.5,276.4l1.7,-1.0M670.2,263.2l1.3,1.6M652.9,284.4l-1.1,1.8M650.1,291.2l-1.5,0.9M651.0,291.7l-0.6,1.2M640.1,296.8l-1.0,1.1M634.4,303.2l-0.9,1.5M623.9,311.2l-0.5,2.0M622.7,313.2l-0.4,2.1M626.3,317.5l-0.8,1.5M644.3,315.4l0.7,-1.6M643.2,314.6l1.1,-0.9M646.8,307.4l0.9,-1.3M649.4,302.1l0.3,-1.3M648.7,305.7l0.8,-2.0M645.8,307.9l0.6,-1.3M643.2,309.2l1.4,-1.5M556.4,249.0l-0.1,1.4M556.9,234.0l0.0,1.2M557.3,241.0l0.0,2.2M564.1,237.5l0.1,1.5M566.4,253.5l-0.1,1.9M566.6,236.8l0.1,1.4M552.0,262.5l-0.3,1.5M569.0,232.1l0.1,1.4M549.8,245.2l1.5,1.1M553.5,292.7l0.1,1.3M549.0,256.1l0.7,1.3M560.5,278.4l0.2,1.5M564.7,255.1l-0.4,1.6M557.3,257.1l-0.0,2.0M552.7,293.6l0.1,2.1M558.2,281.3l-0.2,1.4M558.3,294.3l0.5,1.5M553.8,266.8l0.3,1.3M572.2,254.6l0.2,2.1M553.6,299.1l-0.2,1.8M629.6,309.1l0.0,1.3M627.4,313.7l0.3,1.7M553.9,307.5l-0.5,1.9M569.1,321.1l1.2,1.0M556.3,314.5l0.4,1.6M556.6,305.3l-0.5,1.4M563.2,311.5l0.5,1.7M558.3,306.8l0.0,2.0M555.0,302.1l0.5,1.2"/><path stroke="#33e033" d="M545.3,212.0l1.0,-1.2M542.0,213.8l1.3,-0.7M547.0,209.5l1.2,-0.7M546.3,204.3l1.4,-1.4M544.9,207.9l1.5,-1.1M552.5,207.9l1.0,-1.6M544.0,209.0l1.2,-1.0M549.0,202.7l0.9,-0.9M551.0,207.1l1.4,-1.1M548.4,210.3l1.4,-1.2M549.5,207.1l1.1,-0.9M553.5,203.4l1.6,-1.0M554.0,204.9l1.1,-1.6M552.8,197.5l1.8,-0.8M551.8,201.1l1.5,-1.4M552.1,201.2l1.2,-1.5M548.3,202.4l1.3,-1.8M562.2,193.8l2.1,-0.1M562.6,196.1l1.8,-1.0M559.4,197.0l1.0,-1.0M561.1,193.1l1.1,-0.9M570.5,189.5l1.8,-0.1M574.0,189.2l2.1,-0.4M587.8,191.4l2.1,0.4M628.8,198.9l1.5,0.2M625.2,195.7l1.8,0.8M652.8,191.9l1.4,-0.4M552.3,215.0l1.5,1.1M584.0,226.3l1.2,-0.0M585.2,229.0l0.8,-1.3M588.5,221.9l1.7,-0.2M595.0,225.5l1.1,-0.8M590.5,226.4l1.1,-0.9M607.9,221.7l2.1,-0.4M596.2,190.7l0.6,1.7M606.2,215.0l1.1,1.3M607.2,220.7l0.7,1.6M606.9,222.8l0.6,1.1M619.7,233.1l1.8,1.1M626.7,242.6l0.8,1.7M625.6,244.7l-0.8,2.0M627.5,249.0l-1.3,0.9M623.6,252.7l-1.0,1.5M621.6,251.0l-1.7,0.7M619.4,251.1l-1.0,0.9M623.6,253.1l-1.2,-0.1M626.2,249.7l-0.9,1.0M645.1,196.6l1.2,0.8M652.6,208.1l1.8,0.9M665.2,213.2l1.5,1.3M667.4,221.8l0.5,1.8M674.1,247.7l-0.1,1.8M652.0,213.4l-1.0,0.9M644.5,217.9l-1.0,0.9M648.0,219.0l-0.6,1.3M648.2,216.8l-1.1,0.9M643.6,217.5l-1.0,0.8M639.6,225.6l-1.2,0.5M639.6,223.5l-1.0,1.5M642.1,219.3l-1.1,1.4M643.3,221.4l-2.0,0.7M642.7,218.5l-1.3,1.0M637.3,225.0l-0.6,1.5M632.9,226.3l-1.4,1.6M631.2,231.3l-0.6,1.3M634.2,227.8l-1.0,1.7M638.9,226.5l-1.3,1.1M628.1,234.0l-0.9,1.0M631.3,235.8l-0.6,1.1M635.3,228.3l-2.1,0.6M629.0,232.4l-1.4,1.6M636.4,227.4l-1.0,1.4M630.8,235.0l-0.9,1.0M631.4,232.8l-1.1,1.0M620.8,243.9l-0.5,1.3M626.8,237.6l-0.9,1.5M624.7,240.6l-2.0,0.8M622.0,241.4l-0.5,1.3M621.1,243.9l-1.4,1.6M626.5,238.4l-1.0,1.1M623.5,244.8l-0.7,1.8M626.1,242.4l-1.3,1.3M622.1,242.7l-0.4,1.3M627.0,238.5l-1.6,1.3M624.0,237.9l-1.1,1.2M625.4,240.6l-0.0,1.5M621.3,249.0l-0.8,1.6M617.8,247.3l-1.1,1.9M618.8,253.5l-1.3,0.7M616.7,249.8l-1.0,0.9M616.2,251.9l-0.8,1.7M644.6,214.1l1.3,-0.1M666.3,216.9l1.2,1.1M661.9,237.0l1.3,-0.6M659.7,238.6l1.6,-0.4M657.5,239.1l1.1,-0.8M672.0,234.7l1.3,-0.6M551.7,262.0l2.0,-0.8M546.6,259.1l1.3,-0.3M578.7,258.6l1.5,-0.2M597.2,259.8l2.1,-0.4M587.3,264.5l1.2,-0.5M616.5,257.1l1.4,-1.3M613.8,256.1l1.2,-1.1M615.3,254.1l1.4,-0.6M564.9,304.1l0.8,1.3M589.3,309.8l1.8,0.5M600.6,308.9l1.2,-1.7M591.3,309.6l1.6,-0.9M609.3,292.3l-0.2,1.2M609.5,284.1l-0.4,1.9M607.5,289.9l-0.2,1.3M608.7,285.5l-0.2,1.3M609.8,294.6l-0.2,1.5M606.2,286.5l0.1,1.3M605.1,292.3l-0.5,2.1M604.7,304.9l-1.0,1.6M605.7,303.4l-0.1,2.1M604.4,295.3l-0.7,1.8M603.7,305.4l-0.8,1.6M603.6,301.5l-0.5,2.0M606.4,297.0l-0.4,1.9M600.9,304.4l-0.4,1.9M604.8,316.4l-0.3,2.1M602.5,318.0l-0.2,1.7M568.8,315.8l0.0,1.7M569.4,317.2l0.5,1.7M619.9,258.8l0.1,2.1M616.2,256.7l0.2,1.3M623.4,276.0l-0.1,1.9M623.2,270.8l-0.2,1.3M616.1,272.6l-0.2,1.3M624.2,267.9l0.1,1.6M614.5,269.2l0.0,2.0M619.2,293.1l-0.5,1.9M615.6,297.2l-0.0,2.0M612.0,297.6l-0.0,1.4M621.1,290.7l0.4,1.5M611.2,281.9l-0.4,1.7M614.3,286.0l0.1,1.9M613.8,297.1l-0.4,1.6M617.3,298.9l1.0,1.2M621.2,302.0l0.4,1.6M617.2,311.9l0.4,1.3M610.3,300.7l0.2,1.4M623.5,316.6l1.2,1.4M640.1,280.2l1.4,-0.5M658.9,282.5l1.4,-0.3M658.6,278.0l1.4,-0.3M663.9,278.1l1.7,-0.8M668.1,280.5l1.2,-0.7M676.2,274.9l1.7,-1.1M669.8,275.8l1.6,-0.2M671.1,275.5l2.0,-0.1M652.7,257.9l1.5,0.3M678.1,267.1l1.7,0.8M647.6,288.9l-1.3,0.7M647.3,290.8l-0.9,1.8M648.2,289.3l-1.1,1.2M648.0,292.5l-0.7,1.2M654.2,288.0l-1.1,0.9M645.4,294.4l-0.7,1.5M646.0,292.8l-1.3,1.6M653.0,290.9l-1.5,0.5M644.8,294.2l-0.9,1.7M640.2,297.3l-1.9,0.8M637.6,298.2l-0.6,1.1M636.7,301.7l-0.7,1.0M643.1,293.6l-1.4,1.7M636.9,304.6l-1.1,1.1M637.0,299.6l-1.3,0.8M643.3,294.8l-1.4,0.8M635.5,303.2l-1.3,1.0M640.5,298.1l-1.1,1.4M639.5,300.9l-0.9,1.1M634.5,304.3l-1.6,1.4M634.1,303.1l-1.6,0.7M629.9,306.8l-1.2,0.9M634.3,306.4l-1.8,1.1M629.9,306.2l-1.6,0.5M632.5,307.9l-1.2,1.0M623.8,320.3l-1.0,1.4M625.4,320.5l-1.5,1.3M622.7,318.4l-0.7,1.5M621.7,317.1l-1.3,1.5M622.6,314.2l-0.8,1.0M627.1,311.3l-0.1,1.6M623.3,311.4l-0.2,1.9M642.4,320.6l0.9,-1.6M643.2,312.9l0.4,-1.5M641.4,315.8l0.7,-1.8M641.0,319.5l0.8,-1.2M638.0,321.7l0.7,-1.4M644.2,310.0l0.7,-1.2M644.4,307.5l0.7,-1.5M647.9,307.5l0.7,-1.2M548.1,237.3l0.8,1.8M554.8,266.9l0.2,1.8M572.6,234.3l-0.9,1.3M550.7,286.4l0.3,1.2M561.9,268.5l0.6,2.0M561.4,277.3l0.7,1.3M560.9,294.6l0.2,1.8M573.1,254.9l0.7,1.2M564.8,255.7l0.2,1.2M551.1,229.2l1.1,1.6M560.6,235.0l1.3,0.9M562.3,236.1l-1.6,1.0M565.5,256.5l-0.1,1.3M556.4,224.9l0.0,1.5M552.4,266.2l-0.1,1.3M560.6,295.0l1.3,0.6M633.8,311.0l0.8,1.4M619.6,299.3l-0.8,1.1M631.8,311.2l1.5,1.2M623.6,317.8l-0.2,1.6M563.6,320.7l1.2,1.2M554.7,306.5l0.9,1.0M562.7,320.6l1.5,0.9M555.4,304.4l1.0,0.8M566.6,319.0l0.2,1.8M561.8,305.7l-0.8,1.9M557.3,316.4l1.2,0.8M551.2,310.4l0.9,1.6"/><path stroke="#6e8c22" d="M548.7,204.3l1.4,-1.0M557.0,199.2l1.3,-0.4M609.7,198.1l1.6,0.1M643.0,192.2l1.6,-1.2M586.0,223.5l1.2,-0.9M593.4,220.8l1.4,-1.3M598.0,222.9l1.9,0.1M598.6,209.7l0.1,1.4M623.3,251.4l-0.4,1.8M651.6,204.4l1.2,1.2M658.9,206.3l0.6,1.5M665.3,211.4l1.4,1.5M671.1,222.4l0.9,0.9M670.2,225.3l0.4,1.6M678.4,248.5l0.2,1.5M642.0,219.9l-1.3,0.7M614.6,252.0l-1.3,1.7M653.6,238.2l1.6,-0.1M673.2,236.4l1.8,-0.3M609.3,256.1l1.5,-0.2M613.6,254.7l1.4,-0.2M593.1,312.2l1.9,-0.2M608.0,295.3l-1.2,1.2M623.0,281.0l-0.2,1.4M652.9,284.4l-1.3,1.3M636.8,301.6l-1.0,1.7M629.5,311.7l-1.2,1.8M548.5,213.9l1.1,1.9M548.6,268.0l1.5,1.6M630.3,311.1l0.5,2.1"/><path stroke="#a0522a" d="M542.7,208.5l0.8,-0.9M542.4,215.0l1.4,-1.0M562.4,192.8l1.6,-1.0M565.1,193.2l2.1,-0.8M584.1,188.6l1.3,-0.2M629.5,193.5l1.9,-0.2M655.4,194.7l1.8,-1.2M572.6,232.3l1.3,-0.3M643.5,219.6l-1.2,0.7M636.7,227.3l-1.8,1.0M660.9,234.7l1.3,-0.6M549.3,259.4l2.1,-0.1M599.4,306.6l2.1,-0.7M654.0,285.7l-1.1,1.4M643.2,298.2l-1.8,1.2M625.6,315.3l-0.4,1.3"/></g><rect x="545.8" y="190.4" width="130.6" height="129.4" fill="none" stroke="#8a8a8a" stroke-width="0.9"/><defs><clipPath id="cpg"><rect x="47.6" y="366.0" width="154.0" height="123.6"/></clipPath><clipPath id="cpgp"><path d="M47.9,430.5 53.7,420.3 59.6,410.1 64,404.3 71.2,403.5 78.5,401.4 87.3,395.5 91.6,391.9 94.6,383.9 97.5,382.4 100.4,385.3 106.2,385.3 112.1,382.4 120.8,379.5 130.2,374.4 141.9,370 156.4,367.1 168.1,366.4 178.3,367.1 182.7,372.2 188.5,381 192.9,391.2 195.8,401.4 198.7,413 201.8,423 201.8,437 195.8,449.2 188.5,459.4 182.7,463.7 171,468.1 163.7,475.4 149.2,479.8 134.6,482.7 124.4,486.3 117.9,487.1 106.2,486.3 93.1,484.1 82.9,479.8 74.2,472.5 65.4,463.7 59.6,453.5 53.7,443.3 47.6,436Z"/></clipPath><filter id="blurG" x="-20%" y="-20%" width="140%" height="140%"><feGaussianBlur stdDeviation="3"/></filter><filter id="blurG1" x="-20%" y="-20%" width="140%" height="140%"><feGaussianBlur stdDeviation="1.2"/></filter><filter id="noiseG3" x="0" y="0" width="100%" height="100%"><feTurbulence type="fractalNoise" baseFrequency="0.75" numOctaves="2" seed="12"/><feColorMatrix values="0 0 0 0 0.5  0 0 0 0 0.32  0 0 0 0 0.2  0 0 0 2.4 -1.05"/><feComposite in2="SourceGraphic" operator="in"/></filter><filter id="noiseG" x="0" y="0" width="100%" height="100%"><feTurbulence type="fractalNoise" baseFrequency="0.22" numOctaves="3" seed="9"/><feColorMatrix values="0 0 0 0 0.12  0 0 0 0 0.07  0 0 0 0 0.04  0 0 0 2.2 -0.9"/><feComposite in2="SourceGraphic" operator="in"/></filter><filter id="noiseG2" x="0" y="0" width="100%" height="100%"><feTurbulence type="fractalNoise" baseFrequency="0.3" numOctaves="3" seed="3"/><feColorMatrix values="0 0 0 0 0.52  0 0 0 0 0.34  0 0 0 0 0.22  0 0 0 2.2 -1.0"/><feComposite in2="SourceGraphic" operator="in"/></filter></defs><g clip-path="url(#cpg)"><rect x="47.6" y="366" width="154" height="123.6" fill="#5e1c55" stroke="none" stroke-width="1" /><path d="M28.9,429.5 28.8,438.5 31.0,445.2 38.1,454.2 49.8,474.5 62.0,487.1 73.8,496.5 87.8,502.3 103.1,505.0 116.6,506.1 128.7,504.8 139.6,501.1 154.7,498.0 169.2,493.6 175.8,490.1 181.5,484.4 192.6,479.9 202.7,472.0 211.3,460.3 219.5,443.8 220.8,437.0 220.4,419.2 211.2,386.0 205.2,372.0 197.1,359.8 188.4,351.0 181.5,348.4 169.4,347.4 155.3,348.1 138.2,351.4 123.5,356.6 113.2,362.0 104.9,364.9 101.3,363.8 95.8,363.5 90.4,364.8 85.9,367.0 79.8,372.0 75.6,380.5 70.4,384.0 56.3,386.9 50.1,391.3 43.2,400.6 31.4,421.1Z" fill="#b2547a" filter="url(#blurG)"/><g fill="#b4567c" filter="url(#blurG)"><ellipse cx="72" cy="387" rx="24" ry="10" transform="rotate(-25 72 387)"/><ellipse cx="105" cy="374" rx="20" ry="7"/><ellipse cx="190" cy="482" rx="14" ry="9"/><ellipse cx="56" cy="440" rx="8" ry="30"/></g><g fill="#8a3468" opacity="0.55" filter="url(#blurG)"><ellipse cx="62" cy="372" rx="12" ry="5"/><ellipse cx="199" cy="375" rx="4" ry="9"/></g><path d="M47.9,430.5 53.7,420.3 59.6,410.1 64,404.3 71.2,403.5 78.5,401.4 87.3,395.5 91.6,391.9 94.6,383.9 97.5,382.4 100.4,385.3 106.2,385.3 112.1,382.4 120.8,379.5 130.2,374.4 141.9,370 156.4,367.1 168.1,366.4 178.3,367.1 182.7,372.2 188.5,381 192.9,391.2 195.8,401.4 198.7,413 201.8,423 201.8,437 195.8,449.2 188.5,459.4 182.7,463.7 171,468.1 163.7,475.4 149.2,479.8 134.6,482.7 124.4,486.3 117.9,487.1 106.2,486.3 93.1,484.1 82.9,479.8 74.2,472.5 65.4,463.7 59.6,453.5 53.7,443.3 47.6,436Z" fill="none" stroke="#6a2160" stroke-width="4" filter="url(#blurG1)"/><path d="M47.9,430.5 53.7,420.3 59.6,410.1 64,404.3 71.2,403.5 78.5,401.4 87.3,395.5 91.6,391.9 94.6,383.9 97.5,382.4 100.4,385.3 106.2,385.3 112.1,382.4 120.8,379.5 130.2,374.4 141.9,370 156.4,367.1 168.1,366.4 178.3,367.1 182.7,372.2 188.5,381 192.9,391.2 195.8,401.4 198.7,413 201.8,423 201.8,437 195.8,449.2 188.5,459.4 182.7,463.7 171,468.1 163.7,475.4 149.2,479.8 134.6,482.7 124.4,486.3 117.9,487.1 106.2,486.3 93.1,484.1 82.9,479.8 74.2,472.5 65.4,463.7 59.6,453.5 53.7,443.3 47.6,436Z" fill="#402817"/><g clip-path="url(#cpgp)"><rect x="47.6" y="366" width="154" height="123.6" fill="#000" stroke="none" stroke-width="1" filter="url(#noiseG)" opacity="0.7"/><rect x="47.6" y="366" width="154" height="123.6" fill="#000" stroke="none" stroke-width="1" filter="url(#noiseG3)" opacity="0.35"/><path d="M168.4,477.8C173.4,478.9 177.4,482.8 182.8,483.0M154.6,504.0C157.9,497.2 157.8,489.2 162.0,482.7M154.6,504.0C153.7,504.3 154.1,504.7 154.6,505.0M154.6,505.0C166.3,505.7 177.9,507.5 189.6,505.0M182.8,483.0C185.5,490.2 186.4,498.0 189.6,505.0M139.7,413.2C140.6,415.8 143.0,416.4 145.2,417.3M139.6,413.3C141.3,414.9 142.0,416.6 140.5,418.7M157.8,403.6C158.6,400.3 159.5,405.7 160.3,403.6M160.3,403.6C164.3,403.8 168.4,405.0 171.6,401.3M158.8,394.7C164.4,394.2 166.2,401.3 171.6,401.3M156.1,403.2C157.5,400.5 158.1,397.6 158.8,394.7M54.7,496.3C53.7,494.6 55.4,494.7 56.1,494.1M56.1,494.1C57.9,486.2 58.0,478.0 60.5,470.2M30.0,475.5C40.5,475.6 50.3,471.6 60.5,470.2M30.0,475.5C29.1,485.3 28.5,495.2 30.0,505.0M30.0,505.0C35.5,504.8 40.9,505.6 46.4,505.0M140.4,480.7C140.7,482.8 140.6,485.0 142.0,486.9M142.0,486.9C147.4,491.7 149.5,498.9 154.6,504.0M150.9,476.8C154.7,478.6 158.7,480.0 162.0,482.7M142.6,476.6C144.7,478.8 146.7,476.6 148.8,476.4M140.4,480.7C139.2,478.3 141.4,477.7 142.6,476.6M194.8,470.2C193.8,463.7 196.6,457.8 197.7,451.6M194.8,470.2C197.8,470.2 190.9,472.0 195.1,471.8M195.1,471.8C203.0,476.7 212.7,477.7 220.0,483.7M220.0,479.0C218.1,480.6 218.4,482.1 220.0,483.7M198.2,451.5C203.8,462.0 211.7,470.7 220.0,479.0M106.6,461.5C104.8,457.8 107.4,454.2 107.0,450.5M106.6,461.5C110.2,460.9 114.4,461.3 116.0,456.7M50.8,364.4C51.5,365.5 52.9,366.5 51.4,368.0M51.4,368.0C60.2,364.6 68.4,360.2 74.7,352.9M74.7,352.9C75.7,352.2 75.1,350.7 76.2,350.0M50.8,350.0C59.3,350.2 67.7,350.7 76.2,350.0M50.8,350.0C51.0,354.8 54.0,359.6 50.8,364.4M192.6,376.0C191.8,384.8 196.0,392.5 197.8,400.8M197.8,400.8C200.8,404.5 205.8,405.9 208.5,409.9M208.5,409.9C210.0,409.0 208.8,415.7 211.6,411.0M220.0,353.7C222.7,372.6 217.2,391.4 220.0,410.3M192.6,376.0C202.2,369.2 209.4,359.3 220.0,353.7M168.3,475.5C170.4,476.2 166.3,477.1 168.4,477.8M153.2,464.6C156.2,471.1 162.7,472.7 168.3,475.5M150.9,476.8C154.1,473.2 148.8,468.0 153.2,464.6M90.0,500.5C88.2,502.2 88.3,503.7 90.5,505.0M54.7,496.3C64.2,492.9 73.6,489.3 83.8,488.6M156.6,390.2C158.0,391.4 157.0,393.7 158.8,394.7M156.4,390.0C156.5,390.0 155.6,391.1 156.6,390.2M150.1,401.1C152.3,397.5 154.4,393.8 156.4,390.0M150.1,401.1C150.7,401.6 151.8,401.3 152.2,402.2M152.2,402.2C153.7,401.5 154.4,403.4 155.8,403.3M155.8,403.3C154.6,399.5 156.6,405.0 156.1,403.2M220.0,446.0C222.4,457.0 221.2,468.0 220.0,479.0M68.3,369.2C73.3,374.5 79.6,376.5 86.6,377.1M64.0,374.8C63.0,371.1 67.7,371.7 68.3,369.2M64.0,374.8C69.6,377.7 74.5,382.1 81.0,383.2M81.0,383.2C82.0,382.5 83.5,382.7 84.2,381.4M84.2,381.4C84.7,379.8 86.9,379.2 86.6,377.1M175.4,461.4C181.7,464.8 189.1,465.7 194.8,470.2M155.3,407.0C154.5,405.6 156.8,404.7 155.8,403.3M155.3,407.0C157.6,407.9 160.1,408.5 161.4,411.0M157.8,403.6C159.0,406.0 157.1,410.0 161.4,411.0M68.3,369.2C68.2,362.9 76.1,359.7 74.7,352.9M86.6,377.1C89.9,378.0 87.8,373.7 90.0,373.5M81.7,350.0C84.7,357.7 86.3,366.0 90.0,373.5M77.5,388.7C79.5,387.4 78.9,384.4 81.0,383.2M55.9,379.1C57.7,376.0 60.7,375.1 64.0,374.8M55.9,379.1C63.2,382.2 69.4,387.5 77.5,388.7M187.0,438.7C188.6,438.6 189.1,438.8 187.3,439.7M187.3,439.7C188.4,443.2 192.3,444.8 193.2,448.5M194.1,428.5C202.7,431.2 212.4,430.0 220.0,436.0M191.8,429.9C193.4,430.9 192.6,427.7 194.1,428.5M187.0,438.7C187.2,435.0 191.8,433.7 191.8,429.9M91.9,424.8C97.3,424.6 92.1,422.1 92.8,420.8M91.9,424.8C93.9,426.2 96.3,427.2 95.7,430.3M95.7,430.3C95.7,431.0 95.4,432.2 96.8,431.2M96.8,431.2C97.5,430.0 100.0,432.1 100.0,429.5M92.8,420.8C96.2,418.7 99.7,419.2 103.2,420.6M106.8,449.7C110.6,449.0 104.8,450.8 107.0,450.5M116.9,456.9C119.3,456.6 121.6,456.2 121.2,452.9M114.8,447.3C115.6,446.2 116.0,447.8 116.6,447.6M150.0,408.4C147.8,405.3 150.3,403.9 152.2,402.2M150.0,408.4C149.1,411.6 153.3,408.7 153.1,411.0M154.0,409.9C159.6,411.3 153.5,407.4 155.3,407.0M112.7,440.6C112.1,442.2 114.7,441.4 114.3,442.8M114.3,442.8C115.6,442.7 115.2,441.1 116.2,440.8M114.6,438.9C112.7,441.6 115.4,440.4 116.2,440.8M112.7,440.6C112.5,439.1 114.3,439.9 114.6,438.9M30.0,392.2C29.3,402.4 25.1,412.5 30.0,422.7M30.0,422.7C32.5,420.6 35.5,422.8 38.2,421.8M78.5,460.8C81.8,460.8 82.3,458.0 83.3,455.8M77.9,475.9C79.2,470.9 79.3,465.9 78.5,460.8M77.9,475.9C79.6,475.8 79.8,478.4 81.7,477.8M81.7,477.8C82.1,475.5 84.9,477.7 85.5,475.8M85.5,475.8C86.4,472.7 89.8,471.1 90.2,467.8M83.3,455.8C85.7,459.7 89.3,463.0 90.2,467.8M108.3,355.7C113.5,362.0 117.6,369.5 125.4,373.3M125.4,373.3C128.1,374.1 129.4,373.0 129.7,370.3M129.7,370.3C128.5,363.4 129.8,356.7 131.4,350.0M107.6,350.0C107.7,351.9 106.7,354.0 108.3,355.7M168.8,444.3C172.7,441.5 177.5,440.2 180.8,436.5M174.4,431.7C177.2,432.4 177.2,436.9 180.8,436.5M172.1,433.1C172.7,432.3 173.2,431.5 174.4,431.7M164.1,441.9C163.7,436.2 169.7,436.3 172.1,433.1M164.1,441.9C165.2,442.5 162.6,443.7 164.5,444.2M144.9,443.1C143.8,440.9 147.7,443.0 146.8,440.9M142.4,436.0C142.6,438.6 143.4,438.6 144.5,436.4M142.1,436.3C142.7,437.1 143.6,438.0 142.1,438.8M142.1,438.8C140.9,439.0 138.3,439.3 142.1,439.5M142.1,439.5C142.4,440.6 143.5,441.3 143.7,442.5M103.8,371.1C108.0,375.9 113.0,379.5 119.3,381.0M119.3,381.0C119.1,379.1 120.0,378.7 121.6,379.2M121.6,379.2C125.2,378.8 122.8,374.4 125.4,373.3M62.3,460.0C62.2,462.8 62.2,465.6 63.2,468.3M63.2,468.3C67.9,469.9 70.7,474.6 75.6,475.8M75.6,475.8C76.5,473.1 77.1,475.5 77.9,475.9M71.3,458.3C73.2,460.6 76.4,459.2 78.5,460.8M176.5,448.6C178.6,443.8 183.2,442.1 187.3,439.7M180.8,436.5C183.2,436.3 184.8,438.3 187.0,438.7M56.1,494.1C61.9,487.3 67.9,480.6 75.6,475.8M81.7,477.8C81.7,481.5 81.8,485.3 83.8,488.6M149.4,381.9C149.7,386.4 151.6,389.4 156.4,390.0M156.6,390.2C158.9,389.5 161.2,388.6 163.7,389.2M163.7,389.2C164.4,384.1 169.8,382.9 172.1,379.1M158.7,374.2C163.0,376.2 166.4,380.9 172.1,379.1M125.8,419.8C125.8,417.8 126.2,415.7 125.9,413.7M125.2,413.5C126.0,411.6 125.8,413.2 125.9,413.7M121.6,414.6C123.4,416.2 124.0,413.9 125.2,413.5M121.6,414.6C123.5,415.5 122.7,417.3 122.9,418.8M122.9,418.8C123.7,419.2 124.3,420.0 125.2,420.3M120.0,475.9C119.3,479.1 120.4,481.9 122.2,484.5M122.2,484.5C128.0,481.9 134.4,482.2 140.4,480.7M141.8,475.3C140.8,476.5 144.9,474.6 142.6,476.6M122.9,473.3C129.2,474.3 135.5,474.2 141.8,475.3M120.0,475.9C121.3,475.4 121.8,474.1 122.9,473.3M99.0,488.4C104.4,485.7 109.0,488.4 113.7,490.6M101.5,481.5C105.2,485.0 110.4,486.6 113.7,490.6M99.0,488.4C97.8,485.4 103.2,484.7 101.5,481.5M81.7,442.8C81.0,446.1 81.4,449.0 84.5,450.9M80.0,441.5C79.0,443.9 80.3,443.4 81.7,442.8M72.6,453.6C75.2,449.6 77.5,445.5 80.0,441.5M72.6,453.6C73.3,453.8 75.3,453.6 72.8,454.5M72.8,454.5C77.5,455.9 81.0,453.5 84.5,450.9M62.0,426.7C63.2,428.2 64.4,429.5 66.5,429.6M66.5,429.6C70.1,425.0 71.1,418.4 77.1,415.6M77.1,415.6C76.8,412.3 76.9,408.9 77.3,405.6M72.9,397.7C72.2,401.5 74.1,403.9 77.3,405.6M66.7,397.5C68.8,395.6 70.9,396.9 72.9,397.7M56.8,409.8C57.6,403.7 64.7,402.6 66.7,397.5M56.8,409.8C58.4,414.7 57.1,420.2 60.1,424.7M60.1,424.7C61.1,425.0 59.6,427.7 62.0,426.7M148.4,464.6C150.2,467.5 151.4,463.0 153.0,464.2M147.9,457.3C148.7,456.6 151.1,457.5 150.2,455.1M77.1,415.6C81.6,415.8 86.1,414.9 90.5,414.3M66.5,429.6C66.6,429.8 67.6,429.7 66.7,430.2M44.0,437.2C48.1,430.5 56.3,430.7 62.0,426.7M38.2,421.8C45.3,424.2 52.8,423.8 60.1,424.7M30.0,438.1C34.5,435.8 39.4,438.6 44.0,437.2M74.3,435.9C74.8,439.2 79.0,438.8 80.0,441.5M66.8,430.2C70.7,430.3 71.4,434.6 74.3,435.9M182.8,483.0C188.2,480.7 190.7,475.2 195.1,471.8M189.6,505.0C199.7,507.6 209.9,505.0 220.0,505.0M220.0,483.7C221.5,490.8 219.8,497.9 220.0,505.0M152.5,350.0C157.6,351.4 162.7,349.7 167.8,350.0M152.5,350.0C154.8,357.0 156.0,364.4 159.6,370.9M134.8,458.1C134.6,454.8 139.5,455.4 139.5,452.2M134.8,458.1C134.6,460.3 139.0,457.2 137.8,460.7M137.8,460.7C137.7,457.1 138.7,457.2 140.5,459.9M139.5,452.2C141.6,452.6 141.3,454.3 141.6,455.8M101.4,479.0C106.7,478.5 111.5,476.7 115.8,473.6M101.4,479.0C100.2,479.9 98.3,480.8 101.5,481.5M121.1,494.0C121.2,490.8 121.4,487.6 122.2,484.5M117.1,474.2C117.6,475.6 118.2,476.7 120.0,475.9M172.1,401.4C172.9,400.5 175.1,401.2 174.8,399.1M172.3,410.3C175.5,413.1 178.9,415.8 183.5,415.7M183.5,415.7C183.1,412.6 183.1,409.7 187.4,409.6M186.6,406.5C188.1,407.2 187.6,408.4 187.4,409.6M174.8,399.1C175.2,396.7 177.0,397.2 178.6,397.1M84.2,381.4C87.1,386.1 90.3,390.5 93.6,394.9M75.9,394.3C80.1,394.5 84.5,393.9 88.3,396.4M88.3,396.4C91.0,399.1 91.4,394.0 93.6,394.9M146.8,440.9C148.4,443.0 149.2,439.7 150.6,440.4M150.6,440.4C149.6,437.6 151.9,439.3 152.7,438.9M51.4,368.0C50.8,371.9 54.2,375.8 51.6,379.8M30.0,360.3C36.8,362.2 43.8,363.5 50.8,364.4M30.0,386.8C31.7,387.9 33.5,388.9 35.2,386.8M35.2,386.8C41.4,386.1 46.7,383.4 51.6,379.8M147.9,464.8C148.9,468.6 148.6,472.5 148.8,476.4M153.0,464.2C153.8,464.0 151.5,465.3 153.2,464.6M147.9,464.8C147.4,463.1 148.4,465.1 148.4,464.6M195.1,426.5C198.7,419.3 204.8,414.8 211.6,411.0M194.1,428.5C194.6,427.9 194.6,427.1 195.1,426.5M164.4,457.7C165.9,455.9 166.8,458.8 168.1,458.2M165.8,445.4C168.6,449.3 168.2,453.8 168.1,458.2M158.4,445.8C160.4,445.3 162.1,443.3 164.5,444.2M156.9,451.5C157.8,449.7 159.0,448.0 158.4,445.8M156.9,451.5C160.8,451.9 160.8,457.0 164.4,457.7M30.0,461.6C35.7,457.5 42.5,456.1 48.8,453.5M30.0,461.6C32.0,466.2 28.6,470.9 30.0,475.5M60.5,470.2C59.3,466.7 63.1,470.1 63.2,468.3M56.6,451.7C58.0,454.8 60.1,457.4 62.3,460.0M48.8,453.5C51.3,452.3 53.0,448.0 56.6,451.7M129.7,370.3C135.4,369.7 139.9,373.9 145.3,374.4M145.3,374.4C145.1,366.1 147.3,358.2 148.1,350.0M131.4,350.0C137.0,348.8 142.5,349.1 148.1,350.0M90.0,373.5C91.9,373.6 93.9,373.3 95.6,374.5M93.6,394.9C94.8,397.3 96.6,398.2 99.2,397.1M192.1,411.8C197.6,411.2 203.3,412.8 208.5,409.9M44.0,437.2C45.9,442.5 47.4,448.0 48.8,453.5M42.3,412.2C46.1,411.0 49.0,408.9 50.5,405.0M35.2,386.8C39.9,393.2 46.0,398.4 50.5,405.0M30.0,386.8C32.4,388.6 32.1,390.4 30.0,392.2M53.6,380.0C57.7,386.0 63.0,391.2 66.7,397.5M51.6,379.8C52.5,377.1 52.8,381.4 53.6,380.0M50.5,405.0C51.7,407.8 55.0,407.8 56.8,409.8M95.6,374.5C99.1,375.1 99.9,369.5 103.8,371.1M81.7,350.0C90.3,347.0 99.0,349.7 107.6,350.0M183.1,418.2C182.5,417.2 185.2,416.8 183.5,415.7M183.1,418.2C186.8,421.5 189.7,425.4 191.8,429.9M187.4,409.6C189.6,408.9 191.0,410.0 192.1,411.8M121.2,495.2C128.2,492.5 136.2,492.5 142.0,486.9M145.3,374.4C147.1,375.5 146.9,378.6 149.8,378.6M158.7,374.2C157.4,372.7 159.5,372.0 159.6,370.9M148.1,350.0C149.6,347.9 151.0,348.6 152.5,350.0M56.6,451.7C60.1,448.9 62.2,445.4 62.4,440.8M72.9,397.7C72.0,394.9 75.4,395.9 75.9,394.3M90.5,505.0C100.7,506.3 111.0,504.0 121.2,505.0M121.2,495.2C120.6,498.5 122.2,501.7 121.2,505.0M140.8,471.7C140.6,473.0 141.0,474.2 141.8,475.3M146.3,464.7C146.9,463.7 147.7,459.8 147.9,464.8M172.1,379.1C176.7,380.1 181.6,377.5 186.1,380.1M163.7,389.2C167.4,392.5 169.4,397.7 174.8,399.1M178.6,397.1C181.1,391.4 184.0,385.9 186.1,380.1M121.2,505.0C132.3,507.2 143.5,505.8 154.6,505.0M99.2,397.1C96.8,399.2 103.3,398.9 100.3,401.2M83.4,404.1C87.0,402.8 85.6,398.3 88.3,396.4M83.4,404.1C87.5,405.2 92.2,404.7 95.7,407.8M95.7,407.8C95.9,405.6 98.3,406.7 99.2,405.5M99.2,405.5C101.4,404.5 102.2,403.2 100.3,401.2M71.3,458.3C72.6,457.3 71.9,455.6 72.8,454.5M100.3,401.2C104.2,402.9 108.3,402.8 112.3,401.6M102.5,390.9C106.9,386.6 112.7,384.9 118.4,383.2M77.3,405.6C79.8,407.0 80.9,402.5 83.4,404.1M186.1,380.1C186.1,377.5 189.4,379.3 189.9,377.3M167.4,362.4C173.4,369.6 180.2,375.7 189.9,377.3M189.9,377.3C190.4,376.0 190.9,374.7 192.6,376.0M172.3,410.3C173.7,414.1 173.0,418.2 173.7,422.1M220.0,350.0C219.0,351.2 219.0,352.5 220.0,353.7M167.8,350.0C185.2,346.2 202.6,345.9 220.0,350.0M30.0,350.0C36.9,350.7 43.9,351.2 50.8,350.0M30.0,350.0C29.9,353.4 34.5,356.9 30.0,360.3M154.2,415.4C156.1,415.8 156.4,417.4 156.9,418.8M156.9,418.8C160.2,416.1 161.3,421.4 164.0,420.8M164.0,420.8C162.2,418.0 161.5,415.2 164.3,412.6M162.4,412.1C162.4,413.0 162.8,412.2 163.0,412.2M154.2,415.4C157.1,414.8 159.0,411.6 162.4,412.1M172.4,424.0C174.5,424.5 173.9,423.1 173.7,422.1M172.4,424.0C171.7,426.6 173.2,428.7 174.0,430.9M174.0,430.9C174.9,430.8 175.9,430.6 174.4,431.7M161.2,434.5C160.9,435.0 160.6,435.4 161.5,435.5M157.1,434.5C158.5,434.9 159.8,433.8 161.2,434.5M152.4,435.8C154.2,436.2 155.8,435.7 157.1,434.5M152.4,435.8C153.3,436.3 151.9,436.9 152.5,437.4M153.6,439.3C156.6,440.9 158.9,439.0 161.3,437.8M161.3,437.8C160.5,437.0 160.4,436.2 161.5,435.5M151.1,415.3C151.1,414.0 151.7,414.1 152.5,414.7M152.5,414.7C153.2,413.6 151.4,412.0 153.1,411.0M146.6,407.7C147.7,408.0 148.6,409.6 150.0,408.4M144.7,408.7C145.7,409.1 146.2,408.4 146.6,407.7M144.1,410.3C144.1,409.7 142.1,408.3 144.7,408.7M144.1,410.3C147.4,410.6 151.0,410.6 151.0,415.4M136.3,466.5C138.1,468.0 137.9,471.1 140.8,471.7M142.2,460.3C144.0,461.4 144.9,463.2 146.3,464.7M170.9,462.1C172.5,462.7 173.5,459.1 175.4,461.4M135.8,425.6C136.3,424.5 135.3,422.8 137.1,422.2M136.8,421.2C140.3,420.5 137.3,421.8 137.1,422.2M135.4,420.2C137.5,418.2 135.0,422.8 136.8,421.2M134.0,422.6C132.7,422.9 133.2,423.3 134.0,423.6M134.0,423.6C136.3,422.7 136.9,423.4 135.8,425.6M153.6,439.3C154.3,441.2 153.7,443.9 156.4,444.8M150.6,440.4C151.9,442.8 149.5,445.3 150.9,447.7M136.3,408.8C137.3,408.9 141.7,409.1 136.3,409.2M127.9,399.0C128.6,400.6 129.1,399.9 129.5,398.8M127.9,399.0C130.3,401.6 125.5,405.2 129.2,407.6M129.2,407.6C131.1,410.3 133.8,409.2 136.3,409.2M130.6,421.7C131.6,422.4 133.4,420.2 134.0,422.6M129.8,424.9C130.7,424.0 128.4,422.3 130.6,421.7M129.8,424.9C130.0,424.8 130.3,426.8 130.5,424.9M130.5,424.9C131.3,423.5 131.6,420.8 134.0,423.6M106.1,463.5C109.8,463.6 111.7,465.8 112.8,469.1M116.9,456.9C117.8,457.0 116.5,457.1 116.9,457.2M154.0,409.9C156.7,410.7 159.2,411.9 162.1,411.8M161.4,411.0C161.1,411.8 161.5,411.8 162.1,411.8M123.7,453.3C125.1,450.9 128.5,449.9 128.4,446.5M123.7,453.3C124.7,453.2 126.3,452.5 125.3,454.7M125.3,454.7C127.4,455.4 129.6,455.1 131.7,455.5M131.7,455.5C130.6,453.5 132.0,452.5 133.4,451.6M129.5,447.2C131.0,448.5 130.8,451.3 133.4,451.6M128.4,446.5C129.1,446.3 128.6,447.8 129.5,447.2M112.3,401.6C114.0,402.1 112.2,403.9 113.4,404.6M99.2,405.5C99.1,406.7 100.5,406.8 100.8,407.7M107.6,431.3C108.3,430.6 109.8,431.1 110.2,429.8M106.1,440.3C108.5,437.6 104.4,433.8 107.6,431.3M106.1,440.3C107.0,439.9 108.0,439.9 108.9,439.7M112.9,436.1C115.4,435.2 115.2,433.5 114.1,431.6M110.2,429.8C111.6,429.5 112.0,432.4 113.7,430.9M128.7,409.0C128.9,408.5 129.2,408.1 129.2,407.6M123.8,397.9C125.8,395.9 126.8,397.8 127.9,399.0M121.7,406.3C124.7,404.1 121.7,400.4 123.8,397.9M121.7,406.3C123.3,406.3 124.0,407.0 123.7,408.6M164.3,421.4C167.6,420.4 170.0,422.1 172.4,424.0M164.3,412.6C167.2,412.0 170.4,411.7 170.8,407.7M148.7,426.3C148.6,422.8 148.9,419.3 150.4,416.0M148.7,426.3C149.5,426.0 150.3,425.5 150.5,426.9M153.6,425.5C153.7,425.0 156.8,425.4 154.0,424.1M151.1,415.3C154.8,417.3 151.6,421.6 154.0,424.1M100.8,407.7C101.4,411.3 102.6,414.7 105.1,417.5M104.3,419.7C101.8,418.0 103.5,417.7 105.1,417.5M133.4,451.6C133.2,449.0 136.1,450.1 136.9,448.7M134.5,445.7C135.4,446.6 136.7,447.2 136.9,448.7M129.5,447.2C130.5,444.5 133.6,448.9 134.5,445.7M138.5,441.6C138.5,443.4 140.4,445.3 138.5,447.1M138.5,447.1C141.5,447.2 142.8,444.5 144.9,443.1M149.3,450.5C148.0,448.5 150.3,448.6 150.9,447.7M144.9,443.1C144.2,443.7 144.3,444.1 145.2,444.2M145.2,444.2C145.8,446.8 148.6,448.0 149.3,450.5M137.9,429.1C138.8,428.2 141.0,429.6 141.0,427.3M142.1,434.1C143.6,432.9 142.7,429.6 145.8,429.8M145.6,426.2C147.0,423.5 146.0,426.6 146.3,426.5M141.0,427.3C142.8,428.1 143.7,425.2 145.6,426.2M123.0,453.1C124.5,448.8 123.8,452.2 123.7,453.3M116.9,457.2C116.3,459.7 119.2,459.2 119.9,460.6M119.9,460.6C121.2,458.6 122.7,458.8 124.3,460.3M124.3,460.3C125.2,458.5 124.4,456.5 125.3,454.7M141.5,449.4C142.9,447.8 144.2,446.1 145.2,444.2M141.5,449.4C142.5,452.0 145.6,449.3 146.7,451.6M146.7,451.6C147.5,451.3 148.3,451.2 149.2,451.4M149.2,451.4C148.9,451.1 150.6,451.0 149.3,450.5M121.9,432.8C123.7,435.1 123.4,433.1 123.6,432.0M121.9,432.8C123.6,434.3 122.0,437.1 124.0,438.5M117.6,440.6C119.8,441.2 118.0,443.5 119.2,444.5M118.1,439.5C118.2,442.1 119.6,443.2 122.2,442.7M117.6,440.6C117.3,440.0 120.3,441.0 118.1,439.5M119.0,436.7C120.0,439.1 121.3,440.7 124.0,438.5M118.8,437.0C119.4,437.2 119.3,437.1 119.0,436.7M118.1,439.5C117.8,438.5 119.5,438.1 118.8,437.0M150.5,426.9C149.3,429.4 150.1,431.2 152.5,432.3M156.1,431.8C158.0,432.7 158.9,429.8 160.8,430.5M160.3,426.7C160.9,427.9 163.8,428.7 160.9,430.4M153.6,425.5C156.0,425.1 158.6,423.3 160.3,426.7M161.3,437.8C161.0,440.0 163.8,440.1 164.1,441.9M156.4,444.8C158.6,442.1 157.1,446.7 158.4,445.8M102.6,444.1C102.7,445.1 103.0,446.0 103.2,447.0M103.2,447.0C104.7,447.5 105.9,448.4 106.8,449.7M108.9,439.7C110.0,440.6 111.3,440.8 112.7,440.6M137.1,422.2C135.9,425.4 139.6,422.0 139.4,423.9M139.4,423.9C139.4,422.7 141.6,421.9 140.0,420.4M136.2,441.2C136.8,442.3 137.4,443.5 138.5,441.6M138.6,441.5C139.1,441.6 139.0,441.4 138.7,441.2M138.7,441.2C139.1,439.8 140.7,438.6 139.3,437.0M138.1,436.3C138.4,436.7 139.0,436.6 139.3,437.0M134.1,440.0C136.5,439.9 136.0,436.7 138.1,436.3M134.1,440.0C133.9,442.0 135.1,441.5 136.2,441.2M100.0,429.5C102.5,430.4 105.3,429.8 107.6,431.3M96.4,438.6C95.2,436.1 97.2,433.7 96.8,431.2M96.4,438.6C99.6,439.1 99.5,443.4 102.6,444.1M74.3,435.9C80.9,432.1 89.1,434.1 95.7,430.3M135.1,419.6C133.9,420.5 134.1,420.6 135.4,420.2M133.8,417.0C133.2,418.4 135.0,418.6 135.1,419.6M130.5,420.5C133.0,420.6 133.3,418.7 133.8,417.0M130.5,420.5C128.0,421.1 128.7,421.5 130.6,421.7M140.0,420.3C139.3,419.5 137.9,418.5 140.5,418.7M123.6,431.8C127.4,432.5 122.6,428.3 125.5,428.4M120.5,429.1C119.3,429.7 121.2,429.7 120.7,430.2M120.7,430.2C120.8,432.3 123.3,430.1 123.6,431.8M84.5,450.9C81.9,452.5 83.0,452.3 84.9,451.7M126.1,469.2C128.6,465.0 133.1,468.2 136.3,466.5M122.9,473.3C125.7,473.3 127.3,472.3 126.1,469.2M124.7,424.6C126.6,423.4 123.0,421.5 125.2,420.3M120.4,420.4C122.8,422.3 120.9,417.5 122.9,418.8M120.4,420.4C120.9,422.1 120.9,424.0 123.2,424.5M113.4,404.6C114.1,407.8 117.2,407.6 119.2,408.9M113.2,410.6C115.9,410.4 114.5,413.5 116.1,414.2M116.1,414.2C116.5,413.8 117.0,413.8 117.5,413.5M125.1,425.0C126.3,423.2 127.6,421.5 129.4,420.2M127.7,419.4C127.7,420.9 129.6,418.2 129.4,420.2M125.8,419.8C126.0,417.5 126.7,417.7 127.7,419.4M124.7,424.6C124.8,424.7 121.8,428.0 125.1,425.0M105.1,417.5C106.7,418.5 108.1,415.0 109.7,417.3M115.1,415.8C117.4,416.5 117.2,415.6 116.1,414.2M146.3,426.5C147.2,427.5 148.0,427.4 148.7,426.3M147.4,417.1C147.6,414.4 149.0,415.4 150.4,416.0M145.2,424.3C143.9,424.6 142.0,424.8 145.2,425.1M131.9,431.5C133.8,433.0 135.0,432.2 136.0,430.4M131.3,436.5C132.7,435.0 133.7,433.4 131.9,431.5M131.8,437.2C133.7,436.3 135.0,433.1 137.7,435.9M119.2,408.9C120.1,408.1 121.4,407.7 121.7,406.3M117.5,413.5C118.7,414.6 120.0,415.0 121.6,414.6M123.7,408.6C125.8,409.8 125.7,411.5 125.2,413.5M138.8,441.1C140.8,441.6 142.8,442.2 142.1,438.8M133.7,439.9C133.3,442.0 134.4,438.4 134.1,440.0M132.8,444.1C132.4,442.6 132.9,441.2 133.7,439.9M132.8,444.1C133.6,444.4 133.4,445.6 134.4,445.6M134.4,445.6C135.0,444.1 134.3,442.1 136.2,441.2M94.2,453.9C100.3,455.6 100.3,449.4 103.2,447.0M94.2,453.9C95.7,456.8 97.3,459.7 97.1,463.2M97.1,463.2C98.5,462.5 97.7,468.0 100.2,464.3M126.1,469.2C126.4,468.9 125.2,468.4 126.2,468.1M132.5,456.7C132.0,459.2 134.1,457.5 134.8,458.1M126.2,468.1C131.3,465.9 129.4,460.0 132.5,456.7M123.6,444.7C124.8,447.5 127.0,442.2 128.2,445.2M123.0,453.1C124.4,450.4 124.6,447.6 123.6,444.7M128.2,445.2C129.8,445.4 126.6,446.3 128.4,446.5M100.1,478.1C100.6,473.5 98.6,468.9 100.2,464.3M115.8,417.5C117.6,417.7 117.8,420.0 119.5,420.3M119.5,420.3C119.8,420.3 120.1,420.1 120.4,420.4M145.8,429.8C146.5,431.2 146.5,432.8 146.5,434.3M142.1,434.1C140.3,435.0 138.6,435.9 142.4,436.0M119.5,433.4C120.2,432.4 121.2,431.6 120.7,430.2M125.1,425.0C124.6,426.8 125.3,427.3 127.0,427.1M127.0,427.1C127.0,427.5 127.7,426.2 127.5,427.3M127.5,427.3C126.6,424.9 128.3,425.0 129.8,424.9M142.2,460.3C143.7,458.5 146.6,459.5 147.9,457.3M169.0,458.9C168.8,460.5 169.0,461.8 170.9,462.1M125.2,434.9C129.4,436.5 128.8,432.2 130.4,430.6M124.8,438.2C126.6,436.3 128.6,434.9 131.3,436.5M118.2,434.3C116.9,435.6 115.7,436.9 119.0,436.7M112.9,436.1C112.4,437.7 114.4,437.6 114.7,438.6M114.7,438.6C116.3,438.7 118.9,441.4 118.8,437.0M118.4,383.2C118.6,382.4 120.9,382.5 119.3,381.0M109.7,426.8C113.8,427.1 112.2,428.4 110.2,429.8M104.3,419.7C105.6,422.4 107.6,424.7 109.7,426.8M139.3,437.0C140.6,438.1 140.4,433.4 142.1,436.3M136.0,430.4C134.7,427.9 137.7,430.5 137.4,429.2M137.7,435.9C138.4,435.5 137.7,436.4 138.1,436.3M125.5,428.4C124.6,426.4 125.9,426.8 127.0,427.1M141.0,401.4C142.8,403.6 145.2,405.4 144.7,408.7M136.3,408.8C137.5,406.1 138.2,403.1 141.0,401.4M136.3,409.2C136.9,410.3 135.4,412.0 137.3,412.8M139.7,413.2C140.7,411.5 143.0,411.9 144.1,410.3M145.2,417.3C146.1,418.6 147.0,420.9 147.4,417.1M143.9,419.8C144.2,421.3 144.0,423.0 145.2,424.3M112.8,469.1C114.3,470.3 115.0,472.0 115.8,473.6M117.1,474.2C119.0,469.9 122.3,465.8 119.9,460.6M130.4,444.1C134.5,444.1 130.6,440.2 132.8,439.2M128.1,442.4C129.7,441.4 131.0,440.0 132.5,438.9M128.1,442.4C128.6,443.1 127.5,444.0 128.4,444.7M124.8,438.2C127.9,438.0 126.1,441.7 128.1,442.4M131.8,437.2C128.6,439.2 131.7,438.6 132.5,438.9M116.6,447.6C117.9,446.9 118.1,445.3 119.2,444.5M138.9,449.2C139.7,449.8 140.5,451.3 141.5,449.4M138.9,449.2C142.6,449.5 135.8,451.9 139.5,452.2M141.6,455.8C142.2,453.0 144.7,452.6 146.7,451.6M132.8,439.2C131.1,442.1 133.3,439.8 133.7,439.9M130.4,444.1C131.2,443.5 132.0,442.7 132.8,444.1M152.5,414.7C153.9,412.8 154.0,414.2 154.2,415.4M109.7,417.3C111.1,419.2 110.2,422.0 112.4,423.5M109.7,426.8C109.7,425.0 111.6,424.7 112.4,423.5M114.6,438.9C116.5,439.4 114.9,438.8 114.7,438.6M133.8,417.0C134.2,416.3 132.2,415.3 134.1,414.9M129.5,413.6C130.3,416.6 132.2,415.8 134.1,414.9M136.1,426.6C133.7,428.9 134.4,429.6 137.4,429.2M135.8,425.6C136.1,425.9 136.2,426.2 136.1,426.6M154.6,460.8C158.6,462.1 161.8,460.9 164.4,457.7M150.0,452.4C152.1,450.8 155.0,455.0 156.9,451.5M150.0,452.4C149.7,453.3 149.5,454.2 150.2,455.1M115.4,422.7C116.2,423.8 118.3,423.9 117.8,426.0M112.4,423.5C113.5,423.8 114.2,422.3 115.4,422.7M113.7,430.9C114.2,428.8 115.6,427.7 117.5,426.9M117.5,426.9C118.1,426.8 118.3,426.5 117.8,426.0M122.0,443.3C123.2,443.0 122.6,444.8 123.6,444.7M128.2,445.2C129.9,445.7 125.4,443.7 128.4,444.7M171.6,401.3C171.9,400.8 172.0,401.2 172.1,401.4M160.3,426.7C161.7,425.0 160.9,421.6 164.3,421.4M160.9,430.4C165.3,429.5 169.6,431.4 174.0,430.9M115.4,422.7C114.2,420.9 115.5,419.2 115.8,417.5M154.0,424.1C155.0,422.3 155.6,420.4 156.9,418.8M149.2,451.4C148.2,452.7 149.3,452.4 150.0,452.4M117.8,426.0C117.8,425.5 118.2,425.7 118.5,425.6M117.5,426.9C117.2,429.4 121.5,425.6 120.5,429.1M152.1,435.0C152.5,434.1 156.0,433.7 152.5,432.3M124.3,460.3C123.3,463.3 121.3,466.5 126.2,468.1M131.7,455.5C129.5,457.5 134.6,454.7 132.5,456.7M137.9,448.6C136.7,451.3 135.9,453.4 138.9,449.2M136.9,448.7C137.0,446.0 137.6,448.9 137.9,448.6M130.2,384.6C135.1,385.8 139.7,389.3 145.1,386.8M84.9,451.7C87.7,453.8 90.9,454.1 94.2,453.9M135.8,396.3C137.7,398.6 139.3,397.5 140.8,395.9M140.8,395.9C141.6,392.6 142.9,389.5 145.1,386.8M140.9,396.1C142.1,401.1 146.3,400.7 150.1,401.1M140.9,396.1C138.5,397.9 141.0,399.6 141.0,401.4M146.6,407.7C150.1,406.8 147.5,402.6 150.1,401.1M134.1,414.9C133.6,411.9 135.7,412.7 137.3,412.8M140.8,395.9C141.4,395.7 138.1,397.4 140.9,396.1M130.5,424.9C132.2,426.1 134.7,424.4 136.1,426.6" fill="none" stroke="#e8a46c" stroke-width="0.7" opacity="0.92"/><path d="M174.8,381.4C180.6,371.7 180.5,359.9 185.7,350.0M197.1,423.2C204.6,410.8 210.0,397.1 220.0,386.3M57.1,477.7C64.2,475.2 71.7,473.5 78.2,469.4M61.0,451.9C65.4,459.1 70.0,466.0 78.4,469.0M34.5,451.7C43.4,445.1 52.1,455.6 61.0,451.9M30.0,452.5C25.0,455.2 30.4,458.0 30.0,460.7M30.0,460.7C42.3,461.1 45.5,476.1 57.1,477.7M177.2,435.0C179.9,442.9 182.2,450.8 183.8,459.0M177.6,434.5C180.7,432.5 183.0,429.6 185.8,427.3M177.2,435.0C179.6,436.6 178.8,435.8 177.6,434.5M120.7,363.3C122.2,362.7 120.1,359.9 122.7,360.0M87.9,460.7C89.2,456.0 95.4,454.5 95.5,449.0M90.2,437.2C90.5,441.8 96.3,443.9 95.5,449.0M61.0,451.9C71.7,448.8 81.0,443.2 90.2,437.2M78.4,469.0C82.4,467.2 84.2,462.8 87.9,460.7M143.0,397.7C145.8,402.2 146.4,402.2 144.4,397.0M144.4,397.0C147.7,389.7 153.0,383.8 158.1,377.8M83.9,350.0C85.9,349.2 88.0,352.9 90.0,350.0M85.8,390.7C87.2,391.6 87.7,390.6 88.3,389.6M88.3,389.6C90.5,388.6 91.6,386.2 93.9,385.4M93.9,385.4C95.0,383.9 92.1,381.8 94.6,380.5M132.4,463.5C136.0,462.8 140.2,463.3 141.1,458.2M121.0,505.0C123.6,490.8 124.9,476.3 132.4,463.5M121.0,505.0C127.9,501.3 134.8,506.6 141.7,505.0M141.7,505.0C141.8,490.1 145.1,475.7 149.3,461.5M163.3,423.5C164.3,421.4 167.6,422.7 168.1,420.0M168.1,420.0C170.3,420.1 169.4,418.1 170.1,417.1M167.2,405.6C171.4,408.6 169.5,413.2 170.1,417.1M144.4,397.0C152.7,398.0 159.0,404.4 167.2,405.6M135.8,405.3C137.8,407.7 135.7,410.5 136.7,413.0M136.7,413.0C144.8,418.5 155.9,416.3 163.3,423.5M103.6,387.8C111.0,393.1 117.8,399.2 126.3,402.9M93.9,385.4C98.6,380.3 101.3,383.3 103.6,387.8M88.3,389.6C94.9,396.7 104.1,401.6 107.2,411.7M149.3,461.5C150.6,461.6 151.9,462.8 153.1,461.3M153.1,461.3C153.0,456.3 155.4,456.6 158.6,458.7M158.6,458.7C159.9,451.4 157.6,443.8 160.0,436.6M151.8,434.0C155.2,432.6 157.8,434.0 160.0,436.6M140.1,455.1C142.5,455.5 141.3,457.0 141.1,458.2M88.8,430.2C90.7,428.6 86.0,433.5 89.2,430.6M75.9,404.4C77.5,398.6 85.3,397.3 85.8,390.7M75.9,404.4C80.2,407.0 78.3,411.3 78.8,415.0M78.8,415.0C81.7,420.3 88.2,423.3 88.8,430.2M183.7,461.2C185.3,466.6 186.6,471.9 185.6,477.6M185.6,477.6C196.9,474.5 209.4,476.3 220.0,470.0M183.7,461.2C195.1,467.1 206.9,471.1 220.0,467.5M183.3,460.1C181.3,458.8 184.4,459.7 183.8,459.0M170.1,435.5C172.2,431.5 175.3,441.8 177.2,435.0M166.8,458.4C165.0,450.3 162.7,442.2 170.1,435.5M62.5,434.2C71.7,435.9 80.5,434.3 88.8,430.2M59.9,423.1C66.6,421.4 72.6,418.0 78.8,415.0M158.6,458.7C161.5,461.9 163.9,453.5 166.8,458.4M160.0,436.6C162.4,437.6 163.5,436.6 163.7,434.2M117.6,374.8C119.6,384.5 124.7,393.1 126.4,402.9M59.6,484.6C62.3,491.5 67.3,497.4 68.5,505.0M78.2,469.4C82.8,481.1 86.7,493.0 90.5,505.0M57.1,477.7C61.4,478.7 61.5,481.3 59.6,484.6M90.5,505.0C96.5,505.0 102.4,506.2 108.4,505.0M108.0,500.5C107.1,502.1 110.9,503.3 108.4,505.0M53.4,363.4C57.1,367.3 60.8,371.2 64.8,374.8M64.8,374.8C67.0,372.5 69.2,374.9 71.4,374.8M43.6,350.0C57.0,351.6 70.5,346.8 83.9,350.0M43.6,350.0C49.5,352.5 47.5,360.9 53.4,363.4M155.0,350.0C165.2,346.1 175.5,351.5 185.7,350.0M136.4,414.7C138.1,423.9 150.3,424.7 151.8,434.0M129.9,439.0C134.7,435.1 128.5,431.0 130.1,427.1M109.6,461.0C116.6,466.9 124.6,464.3 132.4,463.5M108.0,500.5C104.2,487.2 117.6,474.5 109.6,461.0M108.4,505.0C112.6,499.8 116.8,499.4 121.0,505.0M90.0,432.8C103.3,430.6 116.5,427.6 130.1,427.1M136.4,414.7C139.1,414.6 137.4,413.7 136.7,413.0M51.7,397.8C57.7,407.4 68.7,399.0 75.9,404.4M51.4,397.8C51.5,395.3 51.6,395.3 51.7,397.8M30.0,402.3C37.6,403.1 43.6,396.1 51.4,397.8M30.0,402.3C33.6,409.4 30.3,416.4 30.0,423.5M30.0,423.5C40.0,424.4 49.9,423.9 59.9,423.1M103.6,387.8C112.3,387.8 111.2,377.3 117.6,374.8M182.4,505.0C176.8,495.1 182.4,486.5 185.6,477.6M185.8,427.3C183.9,424.6 179.4,420.9 187.8,422.4M198.0,447.0C204.2,440.9 212.5,441.9 220.0,440.5M220.0,437.7C216.0,438.6 221.9,439.6 220.0,440.5M30.0,460.7C30.6,475.0 32.1,489.2 30.0,503.5M167.2,405.6C170.3,405.2 172.6,402.6 175.7,402.2M51.4,397.8C50.7,386.3 59.3,375.3 53.4,363.4M51.7,397.8C54.4,389.2 63.5,384.2 64.8,374.8M153.1,461.3C157.2,477.5 168.8,489.9 175.1,505.0M175.1,505.0C177.5,499.9 180.0,504.4 182.4,505.0M183.3,460.1C183.7,460.4 173.7,464.4 183.7,461.2M163.3,423.5C159.7,427.2 160.7,430.7 163.7,434.2M187.7,405.4C197.7,399.7 206.5,392.4 213.4,383.1M170.1,417.1C176.3,416.2 182.5,415.8 187.2,421.2M187.2,421.2C181.8,415.8 185.0,410.6 187.7,405.4M168.1,420.0C173.8,423.2 175.8,428.8 177.6,434.5M95.5,449.0C97.3,451.4 100.7,450.5 102.6,452.6M102.6,452.6C111.5,447.6 120.8,443.5 129.9,439.0M30.0,350.0C34.5,351.1 39.1,350.2 43.6,350.0M30.0,350.0C29.9,367.4 31.9,384.9 30.0,402.3M102.6,452.6C107.1,453.6 108.3,457.3 109.6,461.0M220.0,380.7C219.1,382.6 216.1,384.4 220.0,386.3" fill="none" stroke="#eaa870" stroke-width="0.95" opacity="0.85"/></g></g><rect x="46.2" y="364.7" width="155.8" height="125.4" fill="none" stroke="#43b3ef" stroke-width="2.8" stroke-dasharray="11 8.4"/><rect x="109.2" y="399.6" width="48.6" height="62.7" fill="none" stroke="#ee2a1e" stroke-width="1.7" stroke-dasharray="7.5 5"/><line x1="157.8" y1="399.6" x2="216" y2="365.5" stroke="#ee2a1e" stroke-width="1.7" stroke-dasharray="7.5 5"/><rect x="58.1" y="473.6" width="40.8" height="2.6" fill="#fff" stroke="none" stroke-width="1" /><text x="77.4" y="468.3" font-size="9.4" text-anchor="middle" font-weight="bold" fill="#fff" font-family='"Liberation Sans", sans-serif' letter-spacing="0.3">4 µm</text><defs><clipPath id="cpg2"><rect x="219.2" y="366.8" width="85.4" height="120.8"/></clipPath></defs><g clip-path="url(#cpg2)"><rect x="219.2" y="366.8" width="85.4" height="120.8" fill="#462c1b" stroke="none" stroke-width="1" /><rect x="219.2" y="366.8" width="85.4" height="120.8" fill="#000" stroke="none" stroke-width="1" filter="url(#noiseG)" opacity="0.6"/><rect x="219.2" y="366.8" width="85.4" height="120.8" fill="#000" stroke="none" stroke-width="1" filter="url(#noiseG3)" opacity="0.45"/><path d="M302.5,397.0C305.5,398.0 305.6,401.8 308.5,402.9M308.5,402.9C315.1,404.1 319.6,399.2 325.0,397.0M306.7,383.6C312.8,384.2 319.0,384.2 325.0,385.4M301.3,383.8C303.1,384.0 304.8,381.4 306.7,383.6M301.3,383.8C305.9,387.8 298.0,393.0 302.5,397.0M259.2,403.8C261.4,408.7 258.6,415.9 266.0,418.3M259.2,403.8C263.2,406.9 267.3,409.7 272.7,408.8M307.4,405.9C313.4,409.3 319.0,413.5 325.0,416.8M307.4,405.9C309.5,405.5 309.6,404.4 308.5,402.9M200.0,505.0C213.5,498.4 227.0,504.3 240.5,505.0M240.4,504.5C243.2,504.1 237.4,505.4 240.5,505.0M200.7,462.7C214.0,476.5 227.2,490.6 240.4,504.5M200.0,462.5C200.8,460.5 200.7,462.0 200.7,462.7M282.2,405.1C282.5,407.8 283.7,409.9 286.7,410.3M272.7,408.8C275.1,405.8 278.7,405.9 282.0,405.1M262.5,424.9C263.6,422.7 264.6,420.4 266.0,418.3M262.5,424.9C264.4,425.9 265.2,427.4 264.3,429.5M264.3,429.5C266.9,431.4 268.6,428.4 270.8,428.2M270.8,428.2C276.1,422.5 282.0,417.4 287.0,411.5M286.7,410.3C287.9,410.4 282.9,412.1 287.0,411.5M263.8,430.9C262.9,430.1 262.1,429.2 264.3,429.5M260.5,423.4C259.7,425.9 260.8,425.7 262.5,424.9M248.0,433.4C250.2,428.5 245.1,423.5 248.3,418.6M248.0,433.4C251.7,434.3 255.5,434.1 259.2,434.8M276.4,485.9C284.2,477.5 294.4,487.5 302.7,482.5M274.9,505.0C275.1,498.6 275.0,492.2 276.4,485.9M302.7,482.5C304.0,490.2 307.3,497.3 308.8,505.0M200.7,462.7C202.9,460.4 205.0,461.0 207.2,462.7M240.4,504.5C245.0,495.9 244.2,486.6 244.3,477.4M234.3,466.6C239.2,468.7 239.7,475.0 244.3,477.4M207.2,462.7C216.8,460.0 224.8,468.2 234.3,466.6M289.3,415.2C295.5,418.8 300.1,424.5 306.4,428.0M305.1,408.8C306.8,415.0 307.4,421.5 311.6,426.8M294.6,407.4C297.7,411.2 301.9,406.4 305.1,408.8M286.7,410.3C289.4,409.6 292.2,408.9 294.6,407.4M287.0,411.5C286.5,412.4 283.4,414.6 287.8,413.1M287.8,413.1C287.2,414.6 289.1,414.3 289.3,415.2M265.5,393.2C272.1,395.6 276.5,401.2 282.0,405.1M259.7,393.4C261.6,393.2 263.6,393.3 265.5,393.2M255.4,401.2C257.6,399.8 254.2,404.0 256.6,402.4M291.9,462.4C295.1,466.1 299.4,461.8 302.8,464.0M291.1,463.9C293.6,470.4 299.4,474.4 303.5,479.6M303.5,479.6C307.3,479.4 309.6,476.4 312.4,474.5M302.8,464.0C303.8,469.5 309.5,470.7 312.4,474.5M244.5,365.9C242.9,368.4 243.0,370.6 245.7,372.3M245.7,372.3C252.1,373.3 257.8,377.7 264.7,375.7M256.6,402.4C257.5,409.5 254.8,417.2 260.5,423.4M246.2,404.0C249.0,402.1 252.8,403.6 255.4,401.2M242.2,415.1C244.5,415.7 247.4,415.5 248.3,418.6M273.5,473.4C279.6,470.6 286.4,469.3 291.1,463.9M273.5,473.4C277.0,477.0 275.7,481.7 276.4,485.9M302.7,482.5C305.0,482.1 300.9,479.9 303.5,479.6M308.8,505.0C314.2,508.9 319.6,502.8 325.0,505.0M325.0,470.3C327.3,481.9 324.0,493.4 325.0,505.0M312.4,474.5C318.0,477.3 320.3,470.2 325.0,470.3M256.3,384.6C254.9,388.5 261.2,389.5 259.7,393.4M246.7,378.1C251.0,378.6 254.0,381.1 256.3,384.6M244.5,381.0C246.7,381.2 251.2,383.0 246.7,378.1M242.5,399.9C244.0,401.1 245.4,402.2 246.2,404.0M325.0,350.0C320.7,361.8 326.6,373.6 325.0,385.4M308.6,375.1C313.8,367.5 317.6,359.4 317.6,350.0M302.8,464.0C306.9,464.3 310.5,462.2 314.3,461.4M325.0,464.4C324.5,466.4 324.9,468.3 325.0,470.3M314.3,461.4C317.1,465.1 322.5,459.7 325.0,464.4M200.0,447.1C206.4,442.1 213.9,440.0 221.8,439.2M200.0,447.1C198.2,452.2 203.1,457.4 200.0,462.5M221.8,439.2C226.7,439.4 230.3,442.7 234.5,444.5M289.1,378.3C288.3,379.3 290.8,378.0 289.7,379.2M278.8,379.6C282.3,379.4 285.4,376.5 289.1,378.3M265.5,393.2C269.8,388.5 273.9,383.7 278.8,379.6M280.2,428.7C281.7,426.6 284.2,426.4 286.4,425.5M278.2,430.5C280.7,432.0 277.4,426.9 280.2,428.7M284.6,435.6C285.7,432.3 286.8,429.1 286.4,425.5M307.4,350.0C306.6,358.4 308.3,366.7 308.6,375.1M274.6,446.2C280.4,448.1 285.2,442.9 290.8,443.9M271.0,452.4C269.7,448.9 275.8,449.6 274.6,446.2M271.0,452.4C271.6,459.0 272.4,465.5 271.7,472.1M271.7,472.1C271.2,474.1 273.1,472.7 273.5,473.4M292.5,444.4C294.7,445.5 295.2,447.3 294.5,449.6M290.8,443.9C292.3,440.8 290.2,450.0 292.5,444.4M221.8,439.2C225.9,435.6 232.2,435.3 235.6,430.5M200.0,430.5C207.9,424.0 218.4,422.9 226.8,417.5M266.8,451.2C267.6,453.7 271.1,446.6 271.0,452.4M251.8,450.8C255.8,457.4 261.1,463.4 263.3,471.0M263.3,471.0C266.1,471.7 269.4,468.1 271.7,472.1M267.3,377.2C265.7,371.9 265.9,370.9 268.8,376.6M259.2,350.0C263.1,358.6 261.4,369.3 268.8,376.6M244.4,350.0C249.3,348.7 254.3,350.4 259.2,350.0M244.4,350.0C243.7,354.2 244.7,358.3 244.7,362.4M251.5,450.5C256.0,446.2 253.7,448.7 251.8,450.8M258.2,437.6C259.8,442.9 261.3,448.3 266.8,451.2M305.1,408.8C303.9,406.2 307.1,407.3 307.4,405.9M311.6,426.8C316.0,427.9 320.3,431.4 325.0,427.6M325.0,416.8C323.5,420.4 328.8,424.0 325.0,427.6M233.9,420.1C235.9,417.2 239.2,416.3 242.2,415.1M235.6,430.5C233.6,434.1 237.9,432.9 238.6,434.4M238.6,434.4C241.4,430.8 244.9,434.1 248.0,433.4M219.2,392.7C227.4,393.6 234.8,397.1 242.5,399.9M219.1,392.7C220.4,401.4 220.3,410.5 226.8,417.5M263.8,430.9C264.9,437.8 266.8,444.0 274.6,446.2M270.8,428.2C274.4,425.4 275.6,430.3 278.2,430.5M284.6,435.6C286.3,438.6 290.8,439.6 290.8,443.9M294.7,441.1C297.5,435.8 300.9,431.0 306.4,428.0M292.5,444.4C292.5,442.8 291.4,440.5 294.7,441.1M294.5,449.6C296.5,450.8 299.8,444.2 301.0,450.6M325.0,427.6C328.2,433.4 328.7,439.1 325.0,444.9M289.1,378.3C289.9,368.9 286.1,359.3 290.0,350.0M259.2,350.0C269.5,347.5 279.7,351.3 290.0,350.0M219.2,392.7C226.2,385.7 237.0,387.0 244.5,381.0M290.0,350.0C295.8,348.6 301.6,351.2 307.4,350.0M289.7,379.2C293.6,380.7 297.7,381.6 301.3,383.8M280.2,428.7C284.2,424.2 287.1,419.2 287.8,413.1M245.7,372.3C242.4,374.9 243.8,376.6 246.7,378.1M256.3,384.6C258.9,380.6 266.2,383.5 267.3,377.2M234.5,444.5C234.5,438.8 236.8,440.9 239.2,443.1M239.2,443.1C238.6,447.5 243.6,448.0 244.8,451.1M287.4,423.9C289.7,421.4 285.5,417.4 289.3,415.2M286.4,425.5C286.1,424.6 287.4,424.7 287.4,423.9M287.4,423.9C292.6,428.5 294.6,434.4 294.7,441.1M240.5,505.0C252.0,504.3 263.4,507.7 274.9,505.0M244.8,451.1C247.0,450.0 249.2,450.3 251.5,450.5M200.0,350.0C214.8,352.9 229.6,351.3 244.4,350.0M200.0,350.0C198.4,361.5 200.4,373.0 200.0,384.5M213.2,389.1C224.0,381.9 232.6,371.6 244.5,365.9M213.2,389.1C215.6,389.6 216.6,392.3 219.1,392.7M325.0,444.9C322.4,451.4 325.1,457.9 325.0,464.4M200.0,384.5C201.5,399.8 200.1,415.2 200.0,430.5" fill="none" stroke="#a86a40" stroke-width="0.8" opacity="0.55"/><path d="M221.3,383.4C222.2,385.1 225.6,390.5 226.7,394.0C227.8,397.6 228.0,401.2 228.0,404.7C228.0,408.3 226.7,411.4 226.7,415.4C226.7,419.4 226.9,425.9 228.0,428.8C229.1,431.6 230.9,432.3 233.4,432.8C235.8,433.2 239.4,432.5 242.7,431.4C246.0,430.3 250.0,428.8 253.4,426.1C256.7,423.4 260.1,419.0 262.7,415.4C265.4,411.8 267.0,407.8 269.4,404.7C271.9,401.6 274.3,398.9 277.4,396.7C280.5,394.5 285.0,393.2 288.1,391.4C291.2,389.6 293.4,388.3 296.1,386.0C298.8,383.8 302.8,379.4 304.1,378.0M264.1,375.4C265.6,373.3 269.0,371.6 272.1,371.3C275.2,371.1 280.3,372.0 282.8,374.0C285.2,376.0 286.3,380.5 286.8,383.4C287.2,386.3 286.5,389.1 285.4,391.4C284.3,393.6 282.3,395.4 280.1,396.7C277.9,398.0 274.3,399.8 272.1,399.4C269.8,398.9 268.3,396.7 266.7,394.0C265.2,391.4 263.2,386.5 262.7,383.4C262.3,380.2 262.5,377.4 264.1,375.4M269.4,404.7C270.7,405.4 274.3,407.4 277.4,408.7C280.5,410.1 285.0,411.6 288.1,412.7C291.2,413.8 293.4,414.5 296.1,415.4C298.8,416.3 302.8,417.6 304.1,418.1M242.7,431.4C244.5,432.1 249.8,434.3 253.4,435.4C256.9,436.5 260.1,437.4 264.1,438.1C268.1,438.8 273.4,438.8 277.4,439.4C281.4,440.1 285.0,441.2 288.1,442.1C291.2,443.0 293.4,443.4 296.1,444.8C298.8,446.1 302.8,449.2 304.1,450.1M288.1,412.7C288.3,414.5 289.4,419.9 289.4,423.4C289.4,427.0 288.8,431.0 288.1,434.1C287.4,437.2 286.3,439.0 285.4,442.1C284.5,445.2 283.0,449.2 282.8,452.8C282.5,456.3 283.4,459.9 284.1,463.5C284.8,467.0 286.1,470.1 286.8,474.1C287.4,478.2 287.9,485.3 288.1,487.5M256.1,436.8C256.3,438.5 257.4,443.9 257.4,447.4C257.4,451.0 255.8,454.6 256.1,458.1C256.3,461.7 257.6,465.2 258.7,468.8C259.8,472.4 261.8,476.4 262.7,479.5C263.6,482.6 263.8,486.2 264.1,487.5M221.3,450.1C223.1,450.3 228.5,451.0 232.0,451.5C235.6,451.9 238.7,452.3 242.7,452.8C246.7,453.2 251.6,453.7 256.1,454.1C260.5,454.6 265.0,455.5 269.4,455.5C273.9,455.5 280.5,454.3 282.8,454.1M221.3,466.1C223.6,465.7 230.7,463.5 234.7,463.5C238.7,463.5 241.8,465.2 245.4,466.1C248.9,467.0 252.0,467.9 256.1,468.8C260.1,469.7 265.0,471.5 269.4,471.5C273.9,471.5 277.4,469.7 282.8,468.8C288.1,467.9 298.3,466.6 301.4,466.1M264.1,375.4C262.7,374.5 258.3,371.8 256.1,370.0C253.8,368.2 251.6,365.6 250.7,364.7M228.0,404.7 L221.3,402.1M269.4,455.5C269.8,457.2 272.1,462.6 272.1,466.1C272.1,469.7 269.4,473.3 269.4,476.8C269.4,480.4 271.6,485.7 272.1,487.5M242.7,452.8C242.5,454.6 241.4,459.9 241.4,463.5C241.4,467.0 242.9,470.1 242.7,474.1C242.5,478.2 240.5,485.3 240.0,487.5M296.1,444.8C296.6,446.6 297.9,451.5 298.8,455.5C299.7,459.5 300.6,464.8 301.4,468.8C302.3,472.8 303.7,477.7 304.1,479.5M226.7,474.1C227.6,475.0 230.2,477.3 232.0,479.5C233.8,481.7 236.5,486.2 237.4,487.5M293.4,415.4C293.9,417.2 294.8,423.0 296.1,426.1C297.4,429.2 300.1,432.3 301.4,434.1C302.8,435.9 303.7,436.3 304.1,436.8M221.3,436.8 L228.0,428.8M232.0,451.5C231.8,449.9 230.5,445.2 230.7,442.1C230.9,439.0 232.9,434.3 233.4,432.8M277.4,439.4C277.2,440.8 277.4,444.8 276.1,447.4C274.7,450.1 270.5,454.1 269.4,455.5M248.0,388.7C249.4,390.5 253.6,394.9 256.1,399.4C258.5,403.8 261.6,412.7 262.7,415.4" fill="none" stroke="#e6a068" stroke-width="1.5" stroke-linejoin="round" stroke-linecap="round" opacity="0.95"/><path d="M295.9,376.1C295.8,375.4 295.5,373.4 295.5,372.1C295.4,370.7 295.3,369.4 295.6,368.1C295.9,366.8 296.9,365.0 297.2,364.4M234.8,484.5C234.2,484.7 232.3,485.8 231.1,485.9C229.8,485.9 228.5,485.0 227.2,484.9C225.9,484.8 224.5,485.2 223.2,485.1C221.9,484.9 220.0,484.2 219.4,484.0M255.6,380.3C255.6,381.0 255.2,383.0 255.3,384.3C255.3,385.6 255.7,387.0 256.1,388.2C256.5,389.5 257.5,391.3 257.7,391.9M263.5,443.6C262.9,443.3 261.2,442.0 259.9,441.8C258.7,441.7 257.1,442.0 256.0,442.6C254.9,443.3 254.1,444.6 253.3,445.6C252.5,446.7 251.6,448.5 251.2,449.0M278.2,450.2C278.4,449.5 278.8,447.6 279.2,446.3C279.5,445.0 279.7,443.6 280.4,442.5C281.1,441.4 282.3,440.6 283.2,439.6C284.1,438.7 285.0,437.6 286.0,436.8C287.1,436.1 289.1,435.4 289.7,435.1M276.4,439.2C275.8,439.4 273.9,440.2 272.7,440.7C271.5,441.3 270.4,442.2 269.2,442.7C268.0,443.1 266.5,443.1 265.3,443.4C264.0,443.8 262.9,444.6 261.6,445.0C260.3,445.3 258.3,445.6 257.7,445.7M227.0,483.5C227.4,482.9 228.8,481.4 229.3,480.2C229.9,479.0 230.0,477.6 230.4,476.3C230.8,475.1 231.5,473.9 231.7,472.6C232.0,471.3 231.8,469.9 231.8,468.6C231.9,467.2 232.0,465.2 232.0,464.6M258.3,442.7C257.7,443.0 255.8,443.7 254.7,444.5C253.6,445.3 252.6,446.3 251.9,447.4C251.2,448.5 250.7,450.5 250.5,451.1M295.4,468.1C294.8,467.9 292.9,467.0 291.6,466.8C290.3,466.7 288.9,467.3 287.6,467.2C286.3,467.0 284.8,466.8 283.8,466.0C282.8,465.3 282.3,463.8 281.5,462.7C280.7,461.7 279.2,460.3 278.8,459.8M302.3,395.7C302.0,396.3 300.8,398.2 300.8,399.4C300.8,400.6 301.8,401.9 302.4,403.1C303.0,404.3 304.3,405.4 304.4,406.6C304.4,407.8 303.1,409.7 302.9,410.3M281.0,447.3C280.6,447.8 279.1,449.3 278.7,450.6C278.2,451.8 278.4,453.2 278.4,454.6C278.4,455.9 278.7,457.2 278.6,458.5C278.5,459.9 278.1,461.2 277.8,462.5C277.5,463.8 277.3,465.1 276.8,466.4C276.4,467.6 275.3,469.3 274.9,469.9M255.0,471.7C255.1,471.0 255.6,469.0 255.5,467.7C255.3,466.4 254.6,465.1 253.9,464.0C253.2,462.9 251.9,462.2 251.1,461.1C250.4,460.0 249.7,458.1 249.4,457.5M277.3,459.8C277.7,460.3 278.9,461.9 279.9,462.8C280.8,463.7 282.0,464.8 283.2,465.1C284.4,465.3 286.4,464.4 287.1,464.3M225.8,369.5C226.2,369.9 227.5,371.6 228.7,372.2C229.8,372.8 231.4,373.2 232.6,373.0C233.8,372.8 234.8,371.3 236.0,370.9C237.2,370.4 238.7,370.3 240.0,370.5C241.2,370.8 242.6,371.5 243.5,372.3C244.5,373.2 245.5,375.0 245.9,375.5M252.8,387.6C252.7,388.3 252.4,390.3 252.6,391.6C252.7,392.9 253.2,394.2 253.4,395.5C253.7,396.8 254.3,398.3 253.9,399.5C253.6,400.6 251.7,402.0 251.3,402.5M230.2,463.3C229.6,462.9 227.9,461.8 226.9,460.9C225.9,460.1 225.0,459.1 224.1,458.1C223.2,457.2 222.4,456.0 221.4,455.2C220.4,454.3 219.3,453.5 218.1,452.9C216.9,452.3 215.6,451.5 214.4,451.5C213.1,451.5 211.2,452.6 210.6,452.9M270.6,396.4C271.3,396.4 273.3,396.3 274.6,396.4C276.0,396.5 277.3,397.2 278.6,397.2C279.9,397.2 281.8,396.5 282.5,396.4M247.2,468.0C246.5,468.0 244.4,467.4 243.2,467.7C242.0,468.0 241.0,469.2 239.8,469.9C238.7,470.5 237.4,470.9 236.2,471.6C235.1,472.2 234.0,473.0 232.9,473.9C231.9,474.7 231.2,476.1 230.0,476.6C228.9,477.1 226.7,476.9 226.0,476.9M273.2,462.0C273.8,461.6 275.5,460.0 276.7,459.9C277.9,459.8 279.5,460.5 280.4,461.3C281.4,462.2 281.6,463.7 282.3,464.9C283.0,466.0 283.7,467.2 284.5,468.2C285.3,469.3 286.7,470.0 287.2,471.2C287.6,472.4 287.3,474.5 287.3,475.2M265.3,482.2C264.9,481.7 263.4,480.3 262.6,479.3C261.8,478.3 261.1,477.1 260.4,476.0C259.6,474.9 258.6,473.2 258.2,472.6M254.5,429.5C254.5,428.8 254.1,426.7 254.3,425.5C254.6,424.2 255.3,422.9 256.2,422.0C257.1,421.1 258.5,420.2 259.8,420.1C261.0,420.0 263.0,421.0 263.6,421.2M282.9,415.1C282.4,414.6 281.1,412.8 279.9,412.4C278.8,412.0 277.2,412.3 275.9,412.7C274.7,413.0 273.5,413.9 272.3,414.4C271.1,414.8 269.1,415.3 268.5,415.5" fill="none" stroke="#c9875a" stroke-width="0.9" stroke-linecap="round" opacity="0.8"/></g><rect x="217.6" y="365.2" width="88.6" height="124" fill="none" stroke="#ee2a1e" stroke-width="3" stroke-dasharray="10.5 9"/><text x="243.6" y="420.6" font-size="9" text-anchor="middle" font-weight="normal" fill="#fff" font-family='"Liberation Sans", sans-serif' >A</text><text x="284.5" y="410" font-size="9" text-anchor="middle" font-weight="normal" fill="#fff" font-family='"Liberation Sans", sans-serif' >B</text><line x1="236.2" y1="422" x2="236.2" y2="444.8" stroke="#fff" stroke-width="1.5" stroke-dasharray="1.4 1.3"/><line x1="277.4" y1="413" x2="277.4" y2="435.4" stroke="#fff" stroke-width="1.5" stroke-dasharray="1.4 1.3"/><rect x="224.2" y="477.3" width="23.6" height="3" fill="#fff" stroke="none" stroke-width="1" /><text x="236" y="472.6" font-size="8.6" text-anchor="middle" font-weight="bold" fill="#fff" font-family='"Liberation Sans", sans-serif' >1 µm</text><defs><clipPath id="cph"><rect x="362.1" y="365.0" width="132.3" height="106.0"/></clipPath></defs><path d="M362.10,449.86 L362.43,450.22 L362.76,450.59 L363.09,450.95 L363.43,451.33 L363.76,451.70 L364.09,452.09 L364.42,452.47 L364.75,452.86 L365.08,453.25 L365.42,453.65 L365.75,454.05 L366.08,454.45 L366.41,454.86 L366.74,455.31 L367.07,455.82 L367.41,456.38 L367.74,456.95 L368.07,457.53 L368.40,458.08 L368.73,458.60 L369.06,459.05 L369.39,459.41 L369.73,459.68 L370.06,459.81 L370.39,459.81 L370.72,459.71 L371.05,459.51 L371.38,459.22 L371.72,458.86 L372.05,458.43 L372.38,457.93 L372.71,457.38 L373.04,456.79 L373.37,456.15 L373.71,455.48 L374.04,454.78 L374.37,453.87 L374.70,452.64 L375.03,451.13 L375.36,449.39 L375.69,447.46 L376.03,445.38 L376.36,443.19 L376.69,440.94 L377.02,438.66 L377.35,436.41 L377.68,434.21 L378.02,432.06 L378.35,429.74 L378.68,427.28 L379.01,424.72 L379.34,422.09 L379.67,419.44 L380.01,416.82 L380.34,414.26 L380.67,411.80 L381.00,409.50 L381.33,407.39 L381.66,405.51 L381.99,403.71 L382.33,401.91 L382.66,400.13 L382.99,398.40 L383.32,396.75 L383.65,395.19 L383.98,393.75 L384.32,392.45 L384.65,391.32 L384.98,390.38 L385.31,389.65 L385.64,389.10 L385.97,388.59 L386.31,388.10 L386.64,387.64 L386.97,387.21 L387.30,386.83 L387.63,386.49 L387.96,386.20 L388.29,385.97 L388.63,385.81 L388.96,385.71 L389.29,385.69 L389.62,385.70 L389.95,385.74 L390.28,385.80 L390.62,385.88 L390.95,385.98 L391.28,386.09 L391.61,386.22 L391.94,386.36 L392.27,386.51 L392.61,386.68 L392.94,386.85 L393.27,387.05 L393.60,387.34 L393.93,387.72 L394.26,388.17 L394.59,388.69 L394.93,389.27 L395.26,389.89 L395.59,390.55 L395.92,391.25 L396.25,391.97 L396.58,392.70 L396.92,393.43 L397.25,394.23 L397.58,395.10 L397.91,396.03 L398.24,397.04 L398.57,398.10 L398.91,399.22 L399.24,400.39 L399.57,401.61 L399.90,402.87 L400.23,404.16 L400.56,405.49 L400.89,406.87 L401.23,408.36 L401.56,409.95 L401.89,411.63 L402.22,413.38 L402.55,415.18 L402.88,417.03 L403.22,418.91 L403.55,420.80 L403.88,422.70 L404.21,424.58 L404.54,426.45 L404.87,428.43 L405.21,430.51 L405.54,432.66 L405.87,434.85 L406.20,437.05 L406.53,439.21 L406.86,441.31 L407.19,443.30 L407.53,445.15 L407.86,446.83 L408.19,448.30 L408.52,449.64 L408.85,451.00 L409.18,452.37 L409.52,453.71 L409.85,454.99 L410.18,456.18 L410.51,457.26 L410.84,458.18 L411.17,458.93 L411.51,459.47 L411.84,459.77 L412.17,459.83 L412.50,459.80 L412.83,459.75 L413.16,459.68 L413.49,459.58 L413.83,459.47 L414.16,459.35 L414.49,459.21 L414.82,459.07 L415.15,458.93 L415.48,458.78 L415.82,458.63 L416.15,458.46 L416.48,458.24 L416.81,457.98 L417.14,457.69 L417.47,457.38 L417.81,457.08 L418.14,456.79 L418.47,456.53 L418.80,456.32 L419.13,456.16 L419.46,456.07 L419.79,456.06 L420.13,456.13 L420.46,456.26 L420.79,456.44 L421.12,456.66 L421.45,456.92 L421.78,457.20 L422.12,457.50 L422.45,457.79 L422.78,458.09 L423.11,458.36 L423.44,458.61 L423.77,458.86 L424.11,459.14 L424.44,459.43 L424.77,459.75 L425.10,460.07 L425.43,460.40 L425.76,460.72 L426.09,461.03 L426.43,461.32 L426.76,461.60 L427.09,461.84 L427.42,462.05 L427.75,462.21 L428.08,462.33 L428.42,462.39 L428.75,462.39 L429.08,462.35 L429.41,462.27 L429.74,462.16 L430.07,462.02 L430.41,461.85 L430.74,461.67 L431.07,461.47 L431.40,461.25 L431.73,461.03 L432.06,460.80 L432.39,460.58 L432.73,460.30 L433.06,459.95 L433.39,459.53 L433.72,459.07 L434.05,458.59 L434.38,458.09 L434.72,457.61 L435.05,457.16 L435.38,456.75 L435.71,456.40 L436.04,456.14 L436.37,455.96 L436.71,455.79 L437.04,455.63 L437.37,455.48 L437.70,455.33 L438.03,455.20 L438.36,455.09 L438.69,455.00 L439.03,454.92 L439.36,454.87 L439.69,454.85 L440.02,454.86 L440.35,454.92 L440.68,455.04 L441.02,455.20 L441.35,455.39 L441.68,455.61 L442.01,455.85 L442.34,456.09 L442.67,456.34 L443.01,456.58 L443.34,456.81 L443.67,457.01 L444.00,457.18 L444.33,457.31 L444.66,457.39 L444.99,457.41 L445.33,457.38 L445.66,457.30 L445.99,457.17 L446.32,457.00 L446.65,456.79 L446.98,456.55 L447.32,456.28 L447.65,455.98 L447.98,455.66 L448.31,455.32 L448.64,454.97 L448.97,454.57 L449.31,454.01 L449.64,453.30 L449.97,452.46 L450.30,451.51 L450.63,450.47 L450.96,449.36 L451.29,448.18 L451.63,446.97 L451.96,445.74 L452.29,444.51 L452.62,443.30 L452.95,442.03 L453.28,440.67 L453.62,439.24 L453.95,437.74 L454.28,436.19 L454.61,434.59 L454.94,432.96 L455.27,431.31 L455.61,429.64 L455.94,427.98 L456.27,426.33 L456.60,424.65 L456.93,422.87 L457.26,420.99 L457.59,419.06 L457.93,417.11 L458.26,415.17 L458.59,413.27 L458.92,411.44 L459.25,409.72 L459.58,408.13 L459.92,406.71 L460.25,405.49 L460.58,404.35 L460.91,403.23 L461.24,402.16 L461.57,401.14 L461.91,400.19 L462.24,399.33 L462.57,398.55 L462.90,397.88 L463.23,397.33 L463.56,396.91 L463.89,396.53 L464.23,396.16 L464.56,395.83 L464.89,395.56 L465.22,395.35 L465.55,395.23 L465.88,395.21 L466.22,395.33 L466.55,395.61 L466.88,396.01 L467.21,396.53 L467.54,397.14 L467.87,397.83 L468.21,398.58 L468.54,399.38 L468.87,400.21 L469.20,401.06 L469.53,402.14 L469.86,403.49 L470.19,405.05 L470.53,406.80 L470.86,408.68 L471.19,410.67 L471.52,412.70 L471.85,414.76 L472.18,416.78 L472.52,418.74 L472.85,420.58 L473.18,422.38 L473.51,424.28 L473.84,426.26 L474.17,428.27 L474.51,430.28 L474.84,432.25 L475.17,434.15 L475.50,435.94 L475.83,437.58 L476.16,439.05 L476.49,440.29 L476.83,441.30 L477.16,442.25 L477.49,443.17 L477.82,444.06 L478.15,444.90 L478.48,445.69 L478.82,446.40 L479.15,447.03 L479.48,447.57 L479.81,448.00 L480.14,448.31 L480.47,448.49 L480.81,448.59 L481.14,448.68 L481.47,448.76 L481.80,448.83 L482.13,448.90 L482.46,448.95 L482.79,449.00 L483.13,449.04 L483.46,449.07 L483.79,449.09 L484.12,449.11 L484.45,449.10 L484.78,449.08 L485.12,449.04 L485.45,448.97 L485.78,448.90 L486.11,448.81 L486.44,448.71 L486.77,448.61 L487.11,448.51 L487.44,448.41 L487.77,448.31 L488.10,448.23 L488.43,448.16 L488.76,448.10 L489.09,448.06 L489.43,448.05 L489.76,448.05 L490.09,448.05 L490.42,448.06 L490.75,448.07 L491.08,448.08 L491.42,448.10 L491.75,448.12 L492.08,448.14 L492.41,448.17 L492.74,448.21 L493.07,448.25 L493.41,448.30 L493.74,448.36 L494.07,448.43 L494.40,448.50" fill="none" stroke="#2a2a2a" stroke-width="0.9" clip-path="url(#cph)"/><path d="M362.10,451.52 L362.43,451.57 L362.76,451.63 L363.09,451.71 L363.43,451.80 L363.76,451.90 L364.09,452.02 L364.42,452.14 L364.75,452.28 L365.08,452.42 L365.42,452.56 L365.75,452.72 L366.08,452.88 L366.41,453.04 L366.74,453.21 L367.07,453.41 L367.41,453.63 L367.74,453.86 L368.07,454.11 L368.40,454.38 L368.73,454.66 L369.06,454.96 L369.39,455.27 L369.73,455.58 L370.06,455.91 L370.39,456.25 L370.72,456.62 L371.05,457.03 L371.38,457.47 L371.72,457.93 L372.05,458.41 L372.38,458.89 L372.71,459.38 L373.04,459.87 L373.37,460.34 L373.71,460.79 L374.04,461.23 L374.37,461.68 L374.70,462.17 L375.03,462.69 L375.36,463.21 L375.69,463.73 L376.03,464.22 L376.36,464.67 L376.69,465.06 L377.02,465.38 L377.35,465.60 L377.68,465.71 L378.02,465.69 L378.35,465.53 L378.68,465.23 L379.01,464.81 L379.34,464.29 L379.67,463.66 L380.01,462.95 L380.34,462.16 L380.67,461.30 L381.00,460.40 L381.33,459.45 L381.66,458.47 L381.99,457.22 L382.33,455.60 L382.66,453.66 L382.99,451.44 L383.32,448.98 L383.65,446.34 L383.98,443.55 L384.32,440.67 L384.65,437.74 L384.98,434.80 L385.31,431.91 L385.64,428.95 L385.97,425.55 L386.31,421.83 L386.64,417.94 L386.97,414.04 L387.30,410.27 L387.63,406.81 L387.96,403.79 L388.29,401.37 L388.63,399.51 L388.96,397.69 L389.29,395.94 L389.62,394.34 L389.95,392.94 L390.28,391.83 L390.62,391.05 L390.95,390.69 L391.28,390.78 L391.61,391.25 L391.94,392.03 L392.27,393.02 L392.61,394.15 L392.94,395.34 L393.27,396.64 L393.60,398.35 L393.93,400.39 L394.26,402.69 L394.59,405.18 L394.93,407.76 L395.26,410.37 L395.59,412.92 L395.92,415.33 L396.25,417.64 L396.58,420.06 L396.92,422.56 L397.25,425.08 L397.58,427.59 L397.91,430.03 L398.24,432.36 L398.57,434.53 L398.91,436.49 L399.24,438.20 L399.57,439.71 L399.90,441.18 L400.23,442.62 L400.56,444.01 L400.89,445.34 L401.23,446.59 L401.56,447.77 L401.89,448.85 L402.22,449.82 L402.55,450.67 L402.88,451.39 L403.22,451.97 L403.55,452.40 L403.88,452.76 L404.21,453.09 L404.54,453.39 L404.87,453.66 L405.21,453.90 L405.54,454.12 L405.87,454.32 L406.20,454.50 L406.53,454.67 L406.86,454.82 L407.19,454.96 L407.53,455.08 L407.86,455.19 L408.19,455.28 L408.52,455.37 L408.85,455.45 L409.18,455.54 L409.52,455.63 L409.85,455.73 L410.18,455.84 L410.51,455.96 L410.84,456.11 L411.17,456.33 L411.51,456.61 L411.84,456.93 L412.17,457.28 L412.50,457.65 L412.83,458.00 L413.16,458.33 L413.49,458.62 L413.83,458.85 L414.16,459.01 L414.49,459.07 L414.82,459.07 L415.15,459.06 L415.48,459.04 L415.82,459.02 L416.15,458.99 L416.48,458.95 L416.81,458.90 L417.14,458.85 L417.47,458.79 L417.81,458.73 L418.14,458.66 L418.47,458.57 L418.80,458.32 L419.13,457.91 L419.46,457.36 L419.79,456.70 L420.13,455.96 L420.46,455.15 L420.79,454.30 L421.12,453.45 L421.45,452.62 L421.78,451.83 L422.12,451.10 L422.45,450.38 L422.78,449.59 L423.11,448.74 L423.44,447.87 L423.77,446.99 L424.11,446.14 L424.44,445.35 L424.77,444.63 L425.10,444.01 L425.43,443.51 L425.76,443.17 L426.09,442.99 L426.43,442.84 L426.76,442.71 L427.09,442.58 L427.42,442.48 L427.75,442.40 L428.08,442.35 L428.42,442.32 L428.75,442.35 L429.08,442.65 L429.41,443.18 L429.74,443.89 L430.07,444.72 L430.41,445.61 L430.74,446.49 L431.07,447.31 L431.40,448.14 L431.73,449.06 L432.06,450.04 L432.39,451.05 L432.73,452.07 L433.06,453.07 L433.39,454.01 L433.72,454.88 L434.05,455.63 L434.38,456.36 L434.72,457.13 L435.05,457.88 L435.38,458.57 L435.71,459.15 L436.04,459.58 L436.37,459.80 L436.71,459.78 L437.04,459.50 L437.37,458.97 L437.70,458.25 L438.03,457.37 L438.36,456.37 L438.69,455.27 L439.03,454.12 L439.36,452.88 L439.69,451.21 L440.02,449.16 L440.35,446.78 L440.68,444.15 L441.02,441.33 L441.35,438.39 L441.68,435.39 L442.01,432.41 L442.34,429.52 L442.67,426.65 L443.01,423.42 L443.34,419.96 L443.67,416.45 L444.00,413.07 L444.33,410.01 L444.66,407.45 L444.99,405.57 L445.33,404.00 L445.66,402.48 L445.99,401.07 L446.32,399.84 L446.65,398.84 L446.98,398.14 L447.32,397.79 L447.65,397.80 L447.98,397.99 L448.31,398.34 L448.64,398.81 L448.97,399.40 L449.31,400.09 L449.64,400.86 L449.97,401.70 L450.30,402.77 L450.63,404.54 L450.96,406.90 L451.29,409.67 L451.63,412.68 L451.96,415.74 L452.29,418.68 L452.62,421.34 L452.95,423.98 L453.28,426.76 L453.62,429.60 L453.95,432.46 L454.28,435.26 L454.61,437.95 L454.94,440.47 L455.27,442.76 L455.61,444.75 L455.94,446.41 L456.27,447.91 L456.60,449.35 L456.93,450.70 L457.26,451.97 L457.59,453.11 L457.93,454.12 L458.26,454.98 L458.59,455.66 L458.92,456.15 L459.25,456.58 L459.58,456.98 L459.92,457.36 L460.25,457.72 L460.58,458.04 L460.91,458.33 L461.24,458.57 L461.57,458.77 L461.91,458.93 L462.24,459.03 L462.57,459.07 L462.90,459.07 L463.23,459.06 L463.56,459.04 L463.89,459.01 L464.23,458.97 L464.56,458.93 L464.89,458.88 L465.22,458.83 L465.55,458.78 L465.88,458.72 L466.22,458.66 L466.55,458.60 L466.88,458.54 L467.21,458.46 L467.54,458.37 L467.87,458.27 L468.21,458.16 L468.54,458.04 L468.87,457.92 L469.20,457.79 L469.53,457.66 L469.86,457.52 L470.19,457.38 L470.53,457.24 L470.86,457.11 L471.19,456.97 L471.52,456.83 L471.85,456.70 L472.18,456.56 L472.52,456.42 L472.85,456.28 L473.18,456.14 L473.51,456.00 L473.84,455.85 L474.17,455.70 L474.51,455.54 L474.84,455.39 L475.17,455.22 L475.50,455.05 L475.83,454.88 L476.16,454.70 L476.49,454.51 L476.83,454.32 L477.16,454.11 L477.49,453.88 L477.82,453.64 L478.15,453.39 L478.48,453.12 L478.82,452.85 L479.15,452.58 L479.48,452.30 L479.81,452.02 L480.14,451.75 L480.47,451.48 L480.81,451.23 L481.14,450.98 L481.47,450.75 L481.80,450.53 L482.13,450.30 L482.46,450.06 L482.79,449.82 L483.13,449.57 L483.46,449.32 L483.79,449.08 L484.12,448.84 L484.45,448.62 L484.78,448.42 L485.12,448.23 L485.45,448.07 L485.78,447.94 L486.11,447.84 L486.44,447.77 L486.77,447.75 L487.11,447.76 L487.44,447.81 L487.77,447.88 L488.10,447.97 L488.43,448.09 L488.76,448.22 L489.09,448.36 L489.43,448.52 L489.76,448.68 L490.09,448.85 L490.42,449.02 L490.75,449.19 L491.08,449.38 L491.42,449.59 L491.75,449.82 L492.08,450.07 L492.41,450.35 L492.74,450.63 L493.07,450.94 L493.41,451.26 L493.74,451.59 L494.07,451.93 L494.40,452.28" fill="none" stroke="#ee2222" stroke-width="0.9" clip-path="url(#cph)"/><rect x="362.1" y="365.0" width="132.30" height="106.00" fill="none" stroke="#444" stroke-width="0.9"/><line x1="362.1" y1="455.6" x2="364.6" y2="455.6" stroke="#444" stroke-width="0.8" /><line x1="494.4" y1="455.6" x2="491.9" y2="455.6" stroke="#444" stroke-width="0.8" /><text x="359.1" y="458.8" font-size="9" text-anchor="end" font-weight="normal" fill="#000" font-family='"Liberation Sans", sans-serif' >0</text><line x1="362.1" y1="425.4" x2="364.6" y2="425.4" stroke="#444" stroke-width="0.8" /><line x1="494.4" y1="425.4" x2="491.9" y2="425.4" stroke="#444" stroke-width="0.8" /><text x="359.1" y="428.6" font-size="9" text-anchor="end" font-weight="normal" fill="#000" font-family='"Liberation Sans", sans-serif' >20</text><line x1="362.1" y1="395.2" x2="364.6" y2="395.2" stroke="#444" stroke-width="0.8" /><line x1="494.4" y1="395.2" x2="491.9" y2="395.2" stroke="#444" stroke-width="0.8" /><text x="359.1" y="398.4" font-size="9" text-anchor="end" font-weight="normal" fill="#000" font-family='"Liberation Sans", sans-serif' >40</text><line x1="362.1" y1="365" x2="364.6" y2="365" stroke="#444" stroke-width="0.8" /><line x1="494.4" y1="365" x2="491.9" y2="365" stroke="#444" stroke-width="0.8" /><text x="359.1" y="368.2" font-size="9" text-anchor="end" font-weight="normal" fill="#000" font-family='"Liberation Sans", sans-serif' >60</text><line x1="362.1" y1="470.7" x2="363.6" y2="470.7" stroke="#444" stroke-width="0.6" /><line x1="494.4" y1="470.7" x2="492.9" y2="470.7" stroke="#444" stroke-width="0.6" /><line x1="362.1" y1="440.5" x2="363.6" y2="440.5" stroke="#444" stroke-width="0.6" /><line x1="494.4" y1="440.5" x2="492.9" y2="440.5" stroke="#444" stroke-width="0.6" /><line x1="362.1" y1="410.3" x2="363.6" y2="410.3" stroke="#444" stroke-width="0.6" /><line x1="494.4" y1="410.3" x2="492.9" y2="410.3" stroke="#444" stroke-width="0.6" /><line x1="362.1" y1="380.1" x2="363.6" y2="380.1" stroke="#444" stroke-width="0.6" /><line x1="494.4" y1="380.1" x2="492.9" y2="380.1" stroke="#444" stroke-width="0.6" /><line x1="362.1" y1="471" x2="362.1" y2="468.5" stroke="#444" stroke-width="0.8" /><line x1="362.1" y1="365" x2="362.1" y2="367.5" stroke="#444" stroke-width="0.8" /><text x="362.1" y="481.2" font-size="9" text-anchor="middle" font-weight="normal" fill="#000" font-family='"Liberation Sans", sans-serif' >0</text><line x1="395.2" y1="471" x2="395.2" y2="468.5" stroke="#444" stroke-width="0.8" /><line x1="395.2" y1="365" x2="395.2" y2="367.5" stroke="#444" stroke-width="0.8" /><text x="395.2" y="481.2" font-size="9" text-anchor="middle" font-weight="normal" fill="#000" font-family='"Liberation Sans", sans-serif' >200</text><line x1="428.2" y1="471" x2="428.2" y2="468.5" stroke="#444" stroke-width="0.8" /><line x1="428.2" y1="365" x2="428.2" y2="367.5" stroke="#444" stroke-width="0.8" /><text x="428.2" y="481.2" font-size="9" text-anchor="middle" font-weight="normal" fill="#000" font-family='"Liberation Sans", sans-serif' >400</text><line x1="461.3" y1="471" x2="461.3" y2="468.5" stroke="#444" stroke-width="0.8" /><line x1="461.3" y1="365" x2="461.3" y2="367.5" stroke="#444" stroke-width="0.8" /><text x="461.3" y="481.2" font-size="9" text-anchor="middle" font-weight="normal" fill="#000" font-family='"Liberation Sans", sans-serif' >600</text><line x1="494.4" y1="471" x2="494.4" y2="468.5" stroke="#444" stroke-width="0.8" /><line x1="494.4" y1="365" x2="494.4" y2="367.5" stroke="#444" stroke-width="0.8" /><text x="494.4" y="481.2" font-size="9" text-anchor="middle" font-weight="normal" fill="#000" font-family='"Liberation Sans", sans-serif' >800</text><line x1="378.6" y1="471" x2="378.6" y2="469.5" stroke="#444" stroke-width="0.6" /><line x1="378.6" y1="365" x2="378.6" y2="366.5" stroke="#444" stroke-width="0.6" /><line x1="411.7" y1="471" x2="411.7" y2="469.5" stroke="#444" stroke-width="0.6" /><line x1="411.7" y1="365" x2="411.7" y2="366.5" stroke="#444" stroke-width="0.6" /><line x1="444.8" y1="471" x2="444.8" y2="469.5" stroke="#444" stroke-width="0.6" /><line x1="444.8" y1="365" x2="444.8" y2="366.5" stroke="#444" stroke-width="0.6" /><line x1="477.9" y1="471" x2="477.9" y2="469.5" stroke="#444" stroke-width="0.6" /><line x1="477.9" y1="365" x2="477.9" y2="366.5" stroke="#444" stroke-width="0.6" /><text x="428.3" y="490.5" font-size="9.4" text-anchor="middle" font-weight="normal" fill="#000" font-family='"Liberation Sans", sans-serif' >X (nm)</text><text x="0" y="0" font-size="9.4" text-anchor="middle" font-weight="normal" fill="#000" font-family='"Liberation Sans", sans-serif' transform="translate(346.2,417.7) rotate(-90)">Height (nm)</text><line x1="462" y1="372.5" x2="481" y2="372.5" stroke="#2a2a2a" stroke-width="0.9" /><line x1="462" y1="383.1" x2="481" y2="383.1" stroke="#ee2222" stroke-width="0.9" /><text x="483" y="375.8" font-size="9" text-anchor="start" font-weight="normal" fill="#000" font-family='"Liberation Sans", sans-serif' >A</text><text x="483" y="386.4" font-size="9" text-anchor="start" font-weight="normal" fill="#000" font-family='"Liberation Sans", sans-serif' >B</text><path fill="#3c3c3c" d="M626.6,414.8h1.1v1.1h-1.1zM654.1,394.9h1.1v1.1h-1.1zM641.8,411.3h1.1v1.1h-1.1zM586.2,447.0h1.1v1.1h-1.1zM593.8,438.6h1.1v1.1h-1.1zM651.7,402.0h1.1v1.1h-1.1zM564.0,463.3h1.1v1.1h-1.1zM646.4,400.3h1.1v1.1h-1.1zM644.0,403.7h1.1v1.1h-1.1zM610.7,426.5h1.1v1.1h-1.1zM594.1,440.5h1.1v1.1h-1.1zM591.6,438.4h1.1v1.1h-1.1zM589.2,443.2h1.1v1.1h-1.1zM608.4,426.5h1.1v1.1h-1.1zM614.4,427.9h1.1v1.1h-1.1zM619.4,424.4h1.1v1.1h-1.1zM664.0,390.8h1.1v1.1h-1.1zM643.5,407.7h1.1v1.1h-1.1zM626.3,415.3h1.1v1.1h-1.1zM663.4,391.1h1.1v1.1h-1.1zM585.2,447.7h1.1v1.1h-1.1zM579.6,449.0h1.1v1.1h-1.1zM625.3,419.0h1.1v1.1h-1.1zM567.9,455.1h1.1v1.1h-1.1zM567.0,459.2h1.1v1.1h-1.1zM615.5,425.9h1.1v1.1h-1.1zM610.6,424.7h1.1v1.1h-1.1zM656.1,389.6h1.1v1.1h-1.1zM627.0,410.9h1.1v1.1h-1.1zM615.4,424.5h1.1v1.1h-1.1zM613.7,425.3h1.1v1.1h-1.1zM588.5,439.2h1.1v1.1h-1.1zM564.6,459.7h1.1v1.1h-1.1zM582.9,449.3h1.1v1.1h-1.1zM633.4,412.1h1.1v1.1h-1.1zM583.7,445.2h1.1v1.1h-1.1zM600.8,436.9h1.1v1.1h-1.1zM563.8,463.7h1.1v1.1h-1.1zM647.3,407.4h1.1v1.1h-1.1zM579.0,447.9h1.1v1.1h-1.1zM590.5,443.7h1.1v1.1h-1.1zM652.4,399.9h1.1v1.1h-1.1zM615.0,424.4h1.1v1.1h-1.1zM649.0,399.8h1.1v1.1h-1.1zM628.1,417.0h1.1v1.1h-1.1zM638.4,407.5h1.1v1.1h-1.1zM572.7,456.0h1.1v1.1h-1.1zM618.1,423.9h1.1v1.1h-1.1zM614.8,428.0h1.1v1.1h-1.1zM651.5,396.4h1.1v1.1h-1.1zM599.9,435.3h1.1v1.1h-1.1zM623.9,421.1h1.1v1.1h-1.1zM569.4,456.9h1.1v1.1h-1.1zM602.6,434.0h1.1v1.1h-1.1zM596.1,436.1h1.1v1.1h-1.1zM578.6,453.7h1.1v1.1h-1.1zM645.9,407.1h1.1v1.1h-1.1zM601.8,435.0h1.1v1.1h-1.1zM662.3,384.3h1.1v1.1h-1.1zM623.1,416.7h1.1v1.1h-1.1zM624.6,418.8h1.1v1.1h-1.1zM627.9,414.1h1.1v1.1h-1.1zM631.8,407.4h1.1v1.1h-1.1zM578.7,450.4h1.1v1.1h-1.1zM607.9,430.8h1.1v1.1h-1.1zM587.6,440.6h1.1v1.1h-1.1zM604.1,431.1h1.1v1.1h-1.1zM573.2,451.9h1.1v1.1h-1.1zM661.2,395.1h1.1v1.1h-1.1zM585.2,440.6h1.1v1.1h-1.1zM631.3,408.7h1.1v1.1h-1.1zM593.8,438.0h1.1v1.1h-1.1zM651.8,397.7h1.1v1.1h-1.1zM630.4,420.5h1.1v1.1h-1.1zM576.7,449.6h1.1v1.1h-1.1zM648.8,402.5h1.1v1.1h-1.1zM658.9,393.6h1.1v1.1h-1.1zM654.8,395.6h1.1v1.1h-1.1zM621.0,421.9h1.1v1.1h-1.1zM578.1,454.3h1.1v1.1h-1.1zM582.9,446.0h1.1v1.1h-1.1zM657.2,398.6h1.1v1.1h-1.1zM619.3,423.0h1.1v1.1h-1.1zM581.7,449.2h1.1v1.1h-1.1zM652.8,400.3h1.1v1.1h-1.1zM628.3,422.7h1.1v1.1h-1.1zM621.0,417.4h1.1v1.1h-1.1zM601.5,433.6h1.1v1.1h-1.1zM605.0,428.8h1.1v1.1h-1.1zM587.6,438.7h1.1v1.1h-1.1zM567.3,457.5h1.1v1.1h-1.1zM652.0,405.5h1.1v1.1h-1.1zM610.7,430.4h1.1v1.1h-1.1zM618.8,425.8h1.1v1.1h-1.1zM596.0,439.3h1.1v1.1h-1.1zM639.4,408.1h1.1v1.1h-1.1zM566.0,463.1h1.1v1.1h-1.1zM601.0,433.6h1.1v1.1h-1.1zM566.5,461.6h1.1v1.1h-1.1zM575.9,451.0h1.1v1.1h-1.1zM661.2,393.8h1.1v1.1h-1.1zM629.9,415.7h1.1v1.1h-1.1zM606.7,430.9h1.1v1.1h-1.1zM616.4,425.6h1.1v1.1h-1.1zM651.6,401.9h1.1v1.1h-1.1zM598.2,440.9h1.1v1.1h-1.1zM623.1,419.6h1.1v1.1h-1.1zM632.5,407.5h1.1v1.1h-1.1zM599.4,430.4h1.1v1.1h-1.1zM615.9,420.7h1.1v1.1h-1.1zM640.8,405.2h1.1v1.1h-1.1zM655.3,399.6h1.1v1.1h-1.1zM578.7,446.3h1.1v1.1h-1.1zM657.8,396.0h1.1v1.1h-1.1zM564.0,460.0h1.1v1.1h-1.1zM639.5,409.1h1.1v1.1h-1.1zM645.3,404.0h1.1v1.1h-1.1zM577.3,451.8h1.1v1.1h-1.1zM605.8,431.5h1.1v1.1h-1.1zM645.8,407.3h1.1v1.1h-1.1zM564.9,460.1h1.1v1.1h-1.1zM626.9,410.1h1.1v1.1h-1.1zM643.6,405.7h1.1v1.1h-1.1zM615.3,425.5h1.1v1.1h-1.1zM636.8,408.5h1.1v1.1h-1.1zM586.3,442.8h1.1v1.1h-1.1zM583.5,449.3h1.1v1.1h-1.1zM600.1,435.7h1.1v1.1h-1.1zM581.6,445.6h1.1v1.1h-1.1zM598.4,435.6h1.1v1.1h-1.1zM659.3,394.4h1.1v1.1h-1.1zM621.4,416.2h1.1v1.1h-1.1zM597.8,438.5h1.1v1.1h-1.1zM590.9,441.3h1.1v1.1h-1.1zM659.6,396.2h1.1v1.1h-1.1zM608.4,425.4h1.1v1.1h-1.1zM662.5,399.0h1.1v1.1h-1.1zM615.5,426.5h1.1v1.1h-1.1zM616.1,425.7h1.1v1.1h-1.1zM654.0,396.2h1.1v1.1h-1.1zM638.5,407.1h1.1v1.1h-1.1zM622.1,416.1h1.1v1.1h-1.1zM606.6,435.0h1.1v1.1h-1.1zM652.2,397.2h1.1v1.1h-1.1zM605.0,432.6h1.1v1.1h-1.1zM656.7,398.7h1.1v1.1h-1.1zM570.4,454.2h1.1v1.1h-1.1zM606.9,433.0h1.1v1.1h-1.1zM615.9,430.2h1.1v1.1h-1.1zM659.5,395.8h1.1v1.1h-1.1zM588.8,446.7h1.1v1.1h-1.1zM644.9,406.6h1.1v1.1h-1.1zM631.8,412.4h1.1v1.1h-1.1zM635.9,409.8h1.1v1.1h-1.1zM627.1,412.1h1.1v1.1h-1.1zM661.6,393.8h1.1v1.1h-1.1zM597.1,441.3h1.1v1.1h-1.1zM603.7,434.8h1.1v1.1h-1.1zM583.9,448.5h1.1v1.1h-1.1zM568.6,459.5h1.1v1.1h-1.1zM585.0,444.4h1.1v1.1h-1.1zM656.0,399.1h1.1v1.1h-1.1zM648.3,408.5h1.1v1.1h-1.1zM574.8,450.8h1.1v1.1h-1.1zM624.5,418.9h1.1v1.1h-1.1zM611.9,426.1h1.1v1.1h-1.1zM623.5,418.9h1.1v1.1h-1.1zM630.1,412.8h1.1v1.1h-1.1zM594.4,438.9h1.1v1.1h-1.1zM660.6,389.8h1.1v1.1h-1.1zM610.5,426.9h1.1v1.1h-1.1zM626.9,415.7h1.1v1.1h-1.1zM627.6,415.2h1.1v1.1h-1.1zM582.0,451.1h1.1v1.1h-1.1zM569.7,456.3h1.1v1.1h-1.1zM605.0,432.5h1.1v1.1h-1.1zM640.6,406.8h1.1v1.1h-1.1zM645.8,408.2h1.1v1.1h-1.1zM637.2,404.8h1.1v1.1h-1.1zM574.9,452.2h1.1v1.1h-1.1zM655.7,401.1h1.1v1.1h-1.1zM644.5,410.2h1.1v1.1h-1.1zM652.1,400.5h1.1v1.1h-1.1zM616.3,424.3h1.1v1.1h-1.1zM656.0,399.3h1.1v1.1h-1.1zM568.2,456.8h1.1v1.1h-1.1zM566.5,459.6h1.1v1.1h-1.1zM565.5,457.6h1.1v1.1h-1.1zM589.0,444.6h1.1v1.1h-1.1zM588.6,443.2h1.1v1.1h-1.1zM582.4,444.9h1.1v1.1h-1.1zM620.7,413.7h1.1v1.1h-1.1zM567.4,459.9h1.1v1.1h-1.1zM623.1,420.8h1.1v1.1h-1.1zM580.2,450.8h1.1v1.1h-1.1zM646.6,400.9h1.1v1.1h-1.1zM578.1,453.0h1.1v1.1h-1.1zM619.8,423.1h1.1v1.1h-1.1zM661.3,393.4h1.1v1.1h-1.1zM637.6,412.5h1.1v1.1h-1.1zM654.5,401.1h1.1v1.1h-1.1zM645.4,405.7h1.1v1.1h-1.1zM642.4,412.8h1.1v1.1h-1.1zM607.6,434.0h1.1v1.1h-1.1zM640.0,409.2h1.1v1.1h-1.1zM583.6,446.1h1.1v1.1h-1.1zM653.9,399.0h1.1v1.1h-1.1zM662.5,398.4h1.1v1.1h-1.1zM656.8,397.9h1.1v1.1h-1.1zM586.2,442.7h1.1v1.1h-1.1zM622.2,418.4h1.1v1.1h-1.1zM620.4,421.5h1.1v1.1h-1.1zM597.4,439.4h1.1v1.1h-1.1zM643.4,403.6h1.1v1.1h-1.1zM653.7,400.4h1.1v1.1h-1.1zM620.0,424.9h1.1v1.1h-1.1zM657.3,398.7h1.1v1.1h-1.1zM653.7,393.9h1.1v1.1h-1.1zM599.8,434.8h1.1v1.1h-1.1zM651.9,396.1h1.1v1.1h-1.1zM658.4,396.9h1.1v1.1h-1.1zM608.3,427.0h1.1v1.1h-1.1zM640.0,409.8h1.1v1.1h-1.1zM644.2,405.5h1.1v1.1h-1.1zM642.3,398.6h1.1v1.1h-1.1zM594.8,436.8h1.1v1.1h-1.1zM645.6,405.6h1.1v1.1h-1.1zM643.8,405.6h1.1v1.1h-1.1zM655.2,396.5h1.1v1.1h-1.1zM654.0,394.4h1.1v1.1h-1.1zM621.2,422.1h1.1v1.1h-1.1zM649.3,407.1h1.1v1.1h-1.1zM657.6,396.8h1.1v1.1h-1.1zM658.9,394.9h1.1v1.1h-1.1zM604.1,432.2h1.1v1.1h-1.1zM580.0,445.7h1.1v1.1h-1.1zM645.0,403.5h1.1v1.1h-1.1zM610.3,426.0h1.1v1.1h-1.1zM639.3,411.8h1.1v1.1h-1.1zM661.7,390.2h1.1v1.1h-1.1zM625.7,411.6h1.1v1.1h-1.1zM614.2,423.3h1.1v1.1h-1.1zM631.7,412.8h1.1v1.1h-1.1zM645.4,403.8h1.1v1.1h-1.1zM595.6,433.6h1.1v1.1h-1.1zM625.8,420.3h1.1v1.1h-1.1zM600.4,435.3h1.1v1.1h-1.1zM645.7,402.6h1.1v1.1h-1.1zM655.5,394.9h1.1v1.1h-1.1zM625.5,419.1h1.1v1.1h-1.1zM625.1,417.2h1.1v1.1h-1.1zM637.7,410.4h1.1v1.1h-1.1zM610.3,427.9h1.1v1.1h-1.1zM613.7,426.2h1.1v1.1h-1.1zM621.5,423.9h1.1v1.1h-1.1zM631.8,413.6h1.1v1.1h-1.1zM592.3,438.2h1.1v1.1h-1.1zM651.1,403.4h1.1v1.1h-1.1zM640.3,408.4h1.1v1.1h-1.1zM618.8,420.5h1.1v1.1h-1.1zM591.6,443.7h1.1v1.1h-1.1zM651.7,399.3h1.1v1.1h-1.1zM600.0,438.0h1.1v1.1h-1.1zM600.3,432.0h1.1v1.1h-1.1zM600.0,429.1h1.1v1.1h-1.1zM592.2,435.3h1.1v1.1h-1.1zM659.7,395.2h1.1v1.1h-1.1zM615.9,422.3h1.1v1.1h-1.1zM619.4,421.7h1.1v1.1h-1.1zM655.7,396.9h1.1v1.1h-1.1zM643.0,401.1h1.1v1.1h-1.1zM607.2,434.0h1.1v1.1h-1.1zM630.1,411.6h1.1v1.1h-1.1zM658.5,395.5h1.1v1.1h-1.1zM625.4,413.8h1.1v1.1h-1.1zM648.6,401.4h1.1v1.1h-1.1zM594.9,440.5h1.1v1.1h-1.1zM649.6,400.5h1.1v1.1h-1.1zM652.5,397.0h1.1v1.1h-1.1zM655.3,397.4h1.1v1.1h-1.1zM646.4,402.0h1.1v1.1h-1.1zM625.0,419.7h1.1v1.1h-1.1zM589.0,448.1h1.1v1.1h-1.1zM636.2,407.8h1.1v1.1h-1.1zM651.4,397.9h1.1v1.1h-1.1zM607.6,429.7h1.1v1.1h-1.1zM615.6,424.4h1.1v1.1h-1.1zM637.4,406.5h1.1v1.1h-1.1zM650.9,402.0h1.1v1.1h-1.1zM659.1,397.2h1.1v1.1h-1.1zM599.3,436.2h1.1v1.1h-1.1zM606.8,427.3h1.1v1.1h-1.1zM653.8,402.9h1.1v1.1h-1.1zM644.6,401.1h1.1v1.1h-1.1zM649.2,403.6h1.1v1.1h-1.1zM664.3,395.0h1.1v1.1h-1.1zM661.4,389.2h1.1v1.1h-1.1zM656.2,397.1h1.1v1.1h-1.1zM652.5,403.5h1.1v1.1h-1.1zM627.0,417.9h1.1v1.1h-1.1zM644.4,402.0h1.1v1.1h-1.1zM606.8,427.3h1.1v1.1h-1.1zM651.5,401.4h1.1v1.1h-1.1zM651.4,398.8h1.1v1.1h-1.1zM649.3,399.3h1.1v1.1h-1.1zM630.8,416.1h1.1v1.1h-1.1zM625.6,416.7h1.1v1.1h-1.1zM628.9,415.6h1.1v1.1h-1.1zM581.9,448.9h1.1v1.1h-1.1zM656.3,398.4h1.1v1.1h-1.1zM637.9,409.2h1.1v1.1h-1.1zM626.3,417.2h1.1v1.1h-1.1zM638.3,410.8h1.1v1.1h-1.1zM649.3,402.9h1.1v1.1h-1.1zM625.9,414.3h1.1v1.1h-1.1zM655.5,396.6h1.1v1.1h-1.1zM660.3,391.1h1.1v1.1h-1.1zM626.3,413.7h1.1v1.1h-1.1zM601.0,433.0h1.1v1.1h-1.1zM651.6,392.8h1.1v1.1h-1.1zM664.1,394.2h1.1v1.1h-1.1zM602.3,431.5h1.1v1.1h-1.1zM648.8,402.9h1.1v1.1h-1.1zM655.2,391.5h1.1v1.1h-1.1zM660.4,388.4h1.1v1.1h-1.1zM598.9,441.1h1.1v1.1h-1.1zM594.1,441.8h1.1v1.1h-1.1zM663.9,389.4h1.1v1.1h-1.1zM598.0,434.5h1.1v1.1h-1.1zM605.9,429.2h1.1v1.1h-1.1zM640.1,408.1h1.1v1.1h-1.1zM630.9,412.7h1.1v1.1h-1.1zM651.0,398.3h1.1v1.1h-1.1zM607.6,430.3h1.1v1.1h-1.1zM660.1,390.8h1.1v1.1h-1.1zM610.5,434.3h1.1v1.1h-1.1zM652.1,397.6h1.1v1.1h-1.1zM589.7,444.9h1.1v1.1h-1.1zM633.0,409.8h1.1v1.1h-1.1zM581.7,448.3h1.1v1.1h-1.1zM620.0,424.1h1.1v1.1h-1.1zM619.9,420.6h1.1v1.1h-1.1zM649.2,404.5h1.1v1.1h-1.1zM631.6,416.4h1.1v1.1h-1.1zM587.5,447.7h1.1v1.1h-1.1zM664.3,391.4h1.1v1.1h-1.1zM658.7,393.5h1.1v1.1h-1.1zM660.2,390.8h1.1v1.1h-1.1zM613.6,426.3h1.1v1.1h-1.1zM626.9,413.8h1.1v1.1h-1.1zM611.6,427.3h1.1v1.1h-1.1zM599.2,436.1h1.1v1.1h-1.1zM581.8,446.3h1.1v1.1h-1.1zM635.1,408.0h1.1v1.1h-1.1zM598.9,436.9h1.1v1.1h-1.1zM605.9,431.9h1.1v1.1h-1.1zM657.2,396.7h1.1v1.1h-1.1zM633.8,411.9h1.1v1.1h-1.1zM606.8,433.1h1.1v1.1h-1.1zM646.1,400.5h1.1v1.1h-1.1zM615.5,425.7h1.1v1.1h-1.1zM636.8,408.7h1.1v1.1h-1.1zM617.2,425.8h1.1v1.1h-1.1zM636.0,409.5h1.1v1.1h-1.1zM643.6,404.3h1.1v1.1h-1.1zM637.4,410.9h1.1v1.1h-1.1zM627.0,410.9h1.1v1.1h-1.1zM653.3,397.6h1.1v1.1h-1.1zM657.9,389.9h1.1v1.1h-1.1zM606.2,428.4h1.1v1.1h-1.1zM600.7,436.5h1.1v1.1h-1.1zM597.4,438.0h1.1v1.1h-1.1zM663.5,390.4h1.1v1.1h-1.1zM661.5,393.0h1.1v1.1h-1.1zM612.0,426.9h1.1v1.1h-1.1zM663.0,393.2h1.1v1.1h-1.1zM609.5,433.7h1.1v1.1h-1.1zM635.4,411.8h1.1v1.1h-1.1zM634.7,418.2h1.1v1.1h-1.1zM660.1,393.0h1.1v1.1h-1.1zM583.8,448.1h1.1v1.1h-1.1zM620.2,423.5h1.1v1.1h-1.1zM641.7,407.4h1.1v1.1h-1.1zM589.5,441.7h1.1v1.1h-1.1zM612.6,430.6h1.1v1.1h-1.1zM632.4,418.4h1.1v1.1h-1.1zM658.3,398.9h1.1v1.1h-1.1zM651.6,406.5h1.1v1.1h-1.1zM655.5,400.5h1.1v1.1h-1.1zM651.6,394.9h1.1v1.1h-1.1zM648.5,405.5h1.1v1.1h-1.1zM656.6,394.5h1.1v1.1h-1.1zM646.9,407.5h1.1v1.1h-1.1zM650.1,400.1h1.1v1.1h-1.1zM618.9,423.2h1.1v1.1h-1.1zM604.8,432.1h1.1v1.1h-1.1zM651.3,398.4h1.1v1.1h-1.1zM604.6,427.4h1.1v1.1h-1.1zM660.3,393.4h1.1v1.1h-1.1zM641.5,406.5h1.1v1.1h-1.1zM621.4,423.4h1.1v1.1h-1.1zM661.2,391.5h1.1v1.1h-1.1zM603.2,433.7h1.1v1.1h-1.1zM635.9,408.2h1.1v1.1h-1.1zM594.0,439.4h1.1v1.1h-1.1zM662.7,386.6h1.1v1.1h-1.1zM640.1,413.9h1.1v1.1h-1.1zM654.0,399.3h1.1v1.1h-1.1zM617.1,421.1h1.1v1.1h-1.1zM653.9,399.5h1.1v1.1h-1.1zM648.2,404.8h1.1v1.1h-1.1zM644.5,405.7h1.1v1.1h-1.1zM662.0,397.5h1.1v1.1h-1.1zM630.0,414.4h1.1v1.1h-1.1zM628.5,408.5h1.1v1.1h-1.1zM647.5,399.2h1.1v1.1h-1.1zM655.8,400.7h1.1v1.1h-1.1zM621.9,422.8h1.1v1.1h-1.1zM646.1,405.0h1.1v1.1h-1.1zM609.6,425.9h1.1v1.1h-1.1zM638.5,411.4h1.1v1.1h-1.1zM652.1,401.9h1.1v1.1h-1.1zM589.3,440.3h1.1v1.1h-1.1zM649.7,398.6h1.1v1.1h-1.1zM576.0,452.5h1.1v1.1h-1.1zM662.4,396.3h1.1v1.1h-1.1zM632.6,417.6h1.1v1.1h-1.1zM628.1,418.1h1.1v1.1h-1.1zM649.2,408.7h1.1v1.1h-1.1zM636.5,408.0h1.1v1.1h-1.1zM649.8,403.2h1.1v1.1h-1.1zM592.9,438.9h1.1v1.1h-1.1zM639.3,402.7h1.1v1.1h-1.1zM638.9,405.0h1.1v1.1h-1.1zM661.0,397.4h1.1v1.1h-1.1zM583.5,444.3h1.1v1.1h-1.1zM631.4,410.3h1.1v1.1h-1.1zM643.7,407.7h1.1v1.1h-1.1zM638.4,411.9h1.1v1.1h-1.1zM591.0,441.7h1.1v1.1h-1.1zM641.3,412.0h1.1v1.1h-1.1zM611.1,423.6h1.1v1.1h-1.1zM608.1,436.3h1.1v1.1h-1.1zM658.2,399.1h1.1v1.1h-1.1zM608.4,430.2h1.1v1.1h-1.1zM631.6,414.4h1.1v1.1h-1.1zM651.0,399.9h1.1v1.1h-1.1zM648.4,401.3h1.1v1.1h-1.1zM638.6,409.5h1.1v1.1h-1.1zM654.2,394.5h1.1v1.1h-1.1zM632.4,419.5h1.1v1.1h-1.1zM643.0,405.8h1.1v1.1h-1.1zM654.9,400.0h1.1v1.1h-1.1zM646.7,403.0h1.1v1.1h-1.1zM644.4,404.2h1.1v1.1h-1.1zM627.8,418.9h1.1v1.1h-1.1zM638.9,410.6h1.1v1.1h-1.1zM627.0,414.4h1.1v1.1h-1.1zM650.6,399.5h1.1v1.1h-1.1zM625.8,419.6h1.1v1.1h-1.1zM632.5,406.9h1.1v1.1h-1.1zM651.3,392.8h1.1v1.1h-1.1zM635.2,415.6h1.1v1.1h-1.1zM622.2,419.2h1.1v1.1h-1.1zM655.3,389.3h1.1v1.1h-1.1zM625.8,415.3h1.1v1.1h-1.1zM656.3,396.0h1.1v1.1h-1.1zM653.0,399.7h1.1v1.1h-1.1zM631.0,415.7h1.1v1.1h-1.1zM648.8,402.6h1.1v1.1h-1.1zM582.2,448.8h1.1v1.1h-1.1zM626.5,414.9h1.1v1.1h-1.1zM657.2,397.5h1.1v1.1h-1.1zM640.4,409.0h1.1v1.1h-1.1zM638.9,412.3h1.1v1.1h-1.1zM645.8,404.1h1.1v1.1h-1.1zM646.6,406.2h1.1v1.1h-1.1zM640.6,408.0h1.1v1.1h-1.1zM629.0,412.4h1.1v1.1h-1.1zM606.7,429.6h1.1v1.1h-1.1zM618.1,421.4h1.1v1.1h-1.1zM618.1,421.8h1.1v1.1h-1.1zM629.8,414.7h1.1v1.1h-1.1zM664.4,391.6h1.1v1.1h-1.1zM623.4,420.1h1.1v1.1h-1.1zM631.0,411.8h1.1v1.1h-1.1zM625.0,421.3h1.1v1.1h-1.1zM640.5,403.4h1.1v1.1h-1.1zM661.8,392.9h1.1v1.1h-1.1zM658.7,397.6h1.1v1.1h-1.1zM625.5,419.2h1.1v1.1h-1.1zM615.6,426.5h1.1v1.1h-1.1zM658.5,394.8h1.1v1.1h-1.1zM634.5,413.9h1.1v1.1h-1.1zM647.1,399.5h1.1v1.1h-1.1zM590.8,443.5h1.1v1.1h-1.1zM657.5,403.4h1.1v1.1h-1.1zM620.0,423.7h1.1v1.1h-1.1zM634.5,417.7h1.1v1.1h-1.1zM608.4,429.6h1.1v1.1h-1.1zM628.9,412.3h1.1v1.1h-1.1zM655.4,395.3h1.1v1.1h-1.1zM655.4,401.7h1.1v1.1h-1.1zM633.0,415.0h1.1v1.1h-1.1zM652.0,394.0h1.1v1.1h-1.1zM631.8,412.5h1.1v1.1h-1.1zM625.2,418.0h1.1v1.1h-1.1zM638.1,406.0h1.1v1.1h-1.1zM608.8,422.5h1.1v1.1h-1.1zM620.3,417.7h1.1v1.1h-1.1zM648.4,401.7h1.1v1.1h-1.1zM652.1,398.5h1.1v1.1h-1.1zM587.5,442.2h1.1v1.1h-1.1zM649.9,403.1h1.1v1.1h-1.1zM654.8,401.2h1.1v1.1h-1.1zM630.9,414.0h1.1v1.1h-1.1zM588.7,445.4h1.1v1.1h-1.1zM647.0,403.4h1.1v1.1h-1.1zM613.6,425.7h1.1v1.1h-1.1zM644.5,397.5h1.1v1.1h-1.1zM625.5,420.3h1.1v1.1h-1.1zM644.1,405.5h1.1v1.1h-1.1zM614.8,425.6h1.1v1.1h-1.1zM633.2,411.2h1.1v1.1h-1.1zM636.6,407.0h1.1v1.1h-1.1zM643.7,406.9h1.1v1.1h-1.1zM609.0,431.4h1.1v1.1h-1.1zM662.6,397.9h1.1v1.1h-1.1zM617.8,425.7h1.1v1.1h-1.1zM619.3,420.5h1.1v1.1h-1.1zM614.6,425.1h1.1v1.1h-1.1zM589.7,444.9h1.1v1.1h-1.1zM629.2,416.4h1.1v1.1h-1.1zM652.2,399.5h1.1v1.1h-1.1zM648.6,400.5h1.1v1.1h-1.1zM608.1,431.3h1.1v1.1h-1.1zM600.8,435.3h1.1v1.1h-1.1zM620.7,426.3h1.1v1.1h-1.1zM652.0,403.4h1.1v1.1h-1.1zM634.0,407.1h1.1v1.1h-1.1zM660.5,401.1h1.1v1.1h-1.1zM645.3,405.3h1.1v1.1h-1.1zM643.1,405.1h1.1v1.1h-1.1zM652.0,400.9h1.1v1.1h-1.1zM651.0,403.0h1.1v1.1h-1.1zM622.7,419.9h1.1v1.1h-1.1zM614.7,425.2h1.1v1.1h-1.1zM630.3,414.8h1.1v1.1h-1.1zM634.1,417.6h1.1v1.1h-1.1zM601.5,434.6h1.1v1.1h-1.1zM630.6,416.9h1.1v1.1h-1.1zM644.3,406.7h1.1v1.1h-1.1zM600.7,434.2h1.1v1.1h-1.1zM601.0,432.9h1.1v1.1h-1.1zM605.6,429.0h1.1v1.1h-1.1zM617.2,424.9h1.1v1.1h-1.1zM662.5,389.5h1.1v1.1h-1.1zM579.7,446.3h1.1v1.1h-1.1zM606.8,427.5h1.1v1.1h-1.1zM604.5,428.4h1.1v1.1h-1.1zM633.0,413.1h1.1v1.1h-1.1zM575.8,452.2h1.1v1.1h-1.1zM631.8,411.0h1.1v1.1h-1.1zM604.2,436.0h1.1v1.1h-1.1zM615.9,423.8h1.1v1.1h-1.1zM653.4,400.5h1.1v1.1h-1.1zM606.8,431.6h1.1v1.1h-1.1zM642.8,411.4h1.1v1.1h-1.1zM627.9,418.8h1.1v1.1h-1.1zM628.7,415.7h1.1v1.1h-1.1zM654.8,395.0h1.1v1.1h-1.1zM604.0,429.9h1.1v1.1h-1.1zM660.6,394.1h1.1v1.1h-1.1zM659.0,395.6h1.1v1.1h-1.1zM646.1,406.4h1.1v1.1h-1.1zM585.9,443.9h1.1v1.1h-1.1zM645.7,404.8h1.1v1.1h-1.1zM641.7,404.9h1.1v1.1h-1.1zM652.2,393.9h1.1v1.1h-1.1zM610.2,428.4h1.1v1.1h-1.1zM662.1,397.8h1.1v1.1h-1.1zM658.6,398.0h1.1v1.1h-1.1zM597.6,440.7h1.1v1.1h-1.1zM620.2,424.9h1.1v1.1h-1.1zM581.6,444.6h1.1v1.1h-1.1zM655.6,396.6h1.1v1.1h-1.1zM660.1,399.2h1.1v1.1h-1.1zM664.0,389.4h1.1v1.1h-1.1zM642.5,402.3h1.1v1.1h-1.1zM645.9,405.0h1.1v1.1h-1.1zM646.7,405.5h1.1v1.1h-1.1zM639.7,409.1h1.1v1.1h-1.1zM662.1,391.9h1.1v1.1h-1.1zM642.2,404.4h1.1v1.1h-1.1zM622.0,416.8h1.1v1.1h-1.1zM635.8,407.1h1.1v1.1h-1.1zM577.2,447.9h1.1v1.1h-1.1zM649.4,397.1h1.1v1.1h-1.1zM647.6,400.6h1.1v1.1h-1.1zM629.0,419.9h1.1v1.1h-1.1zM656.7,396.9h1.1v1.1h-1.1zM651.3,399.2h1.1v1.1h-1.1zM622.1,421.3h1.1v1.1h-1.1zM591.6,438.7h1.1v1.1h-1.1zM600.2,436.1h1.1v1.1h-1.1zM606.8,433.1h1.1v1.1h-1.1zM619.1,418.0h1.1v1.1h-1.1zM631.0,412.0h1.1v1.1h-1.1zM660.8,393.0h1.1v1.1h-1.1zM616.8,421.2h1.1v1.1h-1.1zM659.2,391.3h1.1v1.1h-1.1zM646.8,402.2h1.1v1.1h-1.1zM656.8,404.4h1.1v1.1h-1.1zM627.6,418.4h1.1v1.1h-1.1zM569.2,457.3h1.1v1.1h-1.1zM653.1,402.1h1.1v1.1h-1.1zM613.5,425.5h1.1v1.1h-1.1zM601.6,431.0h1.1v1.1h-1.1zM653.8,400.0h1.1v1.1h-1.1zM647.2,406.6h1.1v1.1h-1.1zM610.0,422.8h1.1v1.1h-1.1zM615.7,425.8h1.1v1.1h-1.1zM661.4,397.4h1.1v1.1h-1.1zM615.8,423.8h1.1v1.1h-1.1zM648.1,401.0h1.1v1.1h-1.1zM599.8,437.2h1.1v1.1h-1.1zM654.7,395.3h1.1v1.1h-1.1zM598.1,437.8h1.1v1.1h-1.1zM636.0,413.4h1.1v1.1h-1.1zM582.4,446.8h1.1v1.1h-1.1zM638.4,406.7h1.1v1.1h-1.1zM656.4,398.8h1.1v1.1h-1.1zM592.8,439.3h1.1v1.1h-1.1zM616.4,424.3h1.1v1.1h-1.1zM651.8,390.8h1.1v1.1h-1.1zM642.2,408.6h1.1v1.1h-1.1zM620.0,417.6h1.1v1.1h-1.1zM643.6,405.6h1.1v1.1h-1.1zM631.6,414.0h1.1v1.1h-1.1zM657.3,393.8h1.1v1.1h-1.1zM618.1,420.3h1.1v1.1h-1.1zM651.4,396.1h1.1v1.1h-1.1zM644.0,404.1h1.1v1.1h-1.1zM650.4,402.7h1.1v1.1h-1.1zM625.6,419.3h1.1v1.1h-1.1zM649.5,399.8h1.1v1.1h-1.1zM647.9,400.7h1.1v1.1h-1.1zM626.3,413.1h1.1v1.1h-1.1zM579.9,448.0h1.1v1.1h-1.1zM619.8,409.8h1.1v1.1h-1.1zM607.2,442.0h1.1v1.1h-1.1zM634.4,423.0h1.1v1.1h-1.1zM636.3,417.1h1.1v1.1h-1.1zM572.0,449.7h1.1v1.1h-1.1zM624.3,410.7h1.1v1.1h-1.1zM650.3,402.5h1.1v1.1h-1.1zM638.9,407.3h1.1v1.1h-1.1zM631.6,413.9h1.1v1.1h-1.1zM594.9,452.1h1.1v1.1h-1.1zM615.3,431.9h1.1v1.1h-1.1zM625.8,411.0h1.1v1.1h-1.1zM601.0,428.5h1.1v1.1h-1.1zM597.2,428.4h1.1v1.1h-1.1zM608.4,424.6h1.1v1.1h-1.1zM584.9,443.8h1.1v1.1h-1.1zM570.7,453.0h1.1v1.1h-1.1zM650.8,411.6h1.1v1.1h-1.1zM573.7,439.0h1.1v1.1h-1.1zM575.9,453.5h1.1v1.1h-1.1zM575.4,445.1h1.1v1.1h-1.1zM611.8,421.5h1.1v1.1h-1.1zM594.6,434.7h1.1v1.1h-1.1zM598.9,437.6h1.1v1.1h-1.1zM577.2,443.9h1.1v1.1h-1.1zM605.8,428.3h1.1v1.1h-1.1zM643.8,415.5h1.1v1.1h-1.1zM576.5,456.8h1.1v1.1h-1.1zM643.6,415.4h1.1v1.1h-1.1zM623.2,433.9h1.1v1.1h-1.1zM659.7,407.3h1.1v1.1h-1.1zM626.5,413.9h1.1v1.1h-1.1zM599.7,447.2h1.1v1.1h-1.1zM654.0,391.2h1.1v1.1h-1.1zM602.1,436.4h1.1v1.1h-1.1zM631.6,416.3h1.1v1.1h-1.1zM641.5,417.3h1.1v1.1h-1.1zM628.0,413.7h1.1v1.1h-1.1zM562.4,463.8h1.1v1.1h-1.1zM563.9,463.8h1.1v1.1h-1.1zM565.4,463.8h1.1v1.1h-1.1zM566.9,463.8h1.1v1.1h-1.1zM568.4,463.8h1.1v1.1h-1.1zM570.0,463.8h1.1v1.1h-1.1zM571.5,463.8h1.1v1.1h-1.1zM573.0,463.8h1.1v1.1h-1.1zM574.5,463.8h1.1v1.1h-1.1zM576.0,463.8h1.1v1.1h-1.1zM577.6,463.8h1.1v1.1h-1.1zM579.1,463.8h1.1v1.1h-1.1zM580.6,463.8h1.1v1.1h-1.1zM582.1,463.8h1.1v1.1h-1.1zM583.6,463.8h1.1v1.1h-1.1zM585.2,463.8h1.1v1.1h-1.1zM586.7,463.8h1.1v1.1h-1.1zM565.6,457.8h1.1v1.1h-1.1zM567.3,457.8h1.1v1.1h-1.1zM569.1,457.8h1.1v1.1h-1.1zM570.8,457.8h1.1v1.1h-1.1zM572.6,457.8h1.1v1.1h-1.1zM574.3,457.8h1.1v1.1h-1.1zM576.0,457.8h1.1v1.1h-1.1zM577.8,457.8h1.1v1.1h-1.1zM579.5,457.8h1.1v1.1h-1.1zM581.3,457.8h1.1v1.1h-1.1zM583.0,457.8h1.1v1.1h-1.1zM584.7,457.8h1.1v1.1h-1.1z"/><line x1="554.9" y1="466.7" x2="665.2" y2="392.2" stroke="#ee2b2b" stroke-width="1.0" /><line x1="554.9" y1="464.4" x2="665.2" y2="420.4" stroke="#ee33ee" stroke-width="1.0" stroke-dasharray="4 3"/><rect x="546.6" y="365.8" width="130.40" height="104.80" fill="none" stroke="#333" stroke-width="1.1"/><line x1="546.6" y1="470.6" x2="549.1" y2="470.6" stroke="#444" stroke-width="0.8" /><line x1="677" y1="470.6" x2="674.5" y2="470.6" stroke="#444" stroke-width="0.8" /><line x1="546.6" y1="470.6" x2="546.6" y2="468.1" stroke="#444" stroke-width="0.8" /><line x1="546.6" y1="365.8" x2="546.6" y2="368.3" stroke="#444" stroke-width="0.8" /><line x1="546.6" y1="435.7" x2="549.1" y2="435.7" stroke="#444" stroke-width="0.8" /><line x1="677" y1="435.7" x2="674.5" y2="435.7" stroke="#444" stroke-width="0.8" /><line x1="590.1" y1="470.6" x2="590.1" y2="468.1" stroke="#444" stroke-width="0.8" /><line x1="590.1" y1="365.8" x2="590.1" y2="368.3" stroke="#444" stroke-width="0.8" /><line x1="546.6" y1="400.7" x2="549.1" y2="400.7" stroke="#444" stroke-width="0.8" /><line x1="677" y1="400.7" x2="674.5" y2="400.7" stroke="#444" stroke-width="0.8" /><line x1="633.5" y1="470.6" x2="633.5" y2="468.1" stroke="#444" stroke-width="0.8" /><line x1="633.5" y1="365.8" x2="633.5" y2="368.3" stroke="#444" stroke-width="0.8" /><line x1="546.6" y1="365.8" x2="549.1" y2="365.8" stroke="#444" stroke-width="0.8" /><line x1="677" y1="365.8" x2="674.5" y2="365.8" stroke="#444" stroke-width="0.8" /><line x1="677" y1="470.6" x2="677" y2="468.1" stroke="#444" stroke-width="0.8" /><line x1="677" y1="365.8" x2="677" y2="368.3" stroke="#444" stroke-width="0.8" /><line x1="546.6" y1="453.1" x2="549.1" y2="453.1" stroke="#444" stroke-width="0.8" /><line x1="677" y1="453.1" x2="674.5" y2="453.1" stroke="#444" stroke-width="0.8" /><line x1="568.3" y1="470.6" x2="568.3" y2="468.1" stroke="#444" stroke-width="0.8" /><line x1="568.3" y1="365.8" x2="568.3" y2="368.3" stroke="#444" stroke-width="0.8" /><line x1="546.6" y1="418.2" x2="549.1" y2="418.2" stroke="#444" stroke-width="0.8" /><line x1="677" y1="418.2" x2="674.5" y2="418.2" stroke="#444" stroke-width="0.8" /><line x1="611.8" y1="470.6" x2="611.8" y2="468.1" stroke="#444" stroke-width="0.8" /><line x1="611.8" y1="365.8" x2="611.8" y2="368.3" stroke="#444" stroke-width="0.8" /><line x1="546.6" y1="383.3" x2="549.1" y2="383.3" stroke="#444" stroke-width="0.8" /><line x1="677" y1="383.3" x2="674.5" y2="383.3" stroke="#444" stroke-width="0.8" /><line x1="655.3" y1="470.6" x2="655.3" y2="468.1" stroke="#444" stroke-width="0.8" /><line x1="655.3" y1="365.8" x2="655.3" y2="368.3" stroke="#444" stroke-width="0.8" /><line x1="546.6" y1="465.3" x2="548" y2="465.3" stroke="#444" stroke-width="0.5" /><line x1="677" y1="465.3" x2="675.6" y2="465.3" stroke="#444" stroke-width="0.5" /><line x1="553.1" y1="470.6" x2="553.1" y2="469.2" stroke="#444" stroke-width="0.5" /><line x1="553.1" y1="365.8" x2="553.1" y2="367.2" stroke="#444" stroke-width="0.5" /><line x1="546.6" y1="462.3" x2="548" y2="462.3" stroke="#444" stroke-width="0.5" /><line x1="677" y1="462.3" x2="675.6" y2="462.3" stroke="#444" stroke-width="0.5" /><line x1="557" y1="470.6" x2="557" y2="469.2" stroke="#444" stroke-width="0.5" /><line x1="557" y1="365.8" x2="557" y2="367.2" stroke="#444" stroke-width="0.5" /><line x1="546.6" y1="460.1" x2="548" y2="460.1" stroke="#444" stroke-width="0.5" /><line x1="677" y1="460.1" x2="675.6" y2="460.1" stroke="#444" stroke-width="0.5" /><line x1="559.7" y1="470.6" x2="559.7" y2="469.2" stroke="#444" stroke-width="0.5" /><line x1="559.7" y1="365.8" x2="559.7" y2="367.2" stroke="#444" stroke-width="0.5" /><line x1="546.6" y1="458.4" x2="548" y2="458.4" stroke="#444" stroke-width="0.5" /><line x1="677" y1="458.4" x2="675.6" y2="458.4" stroke="#444" stroke-width="0.5" /><line x1="561.8" y1="470.6" x2="561.8" y2="469.2" stroke="#444" stroke-width="0.5" /><line x1="561.8" y1="365.8" x2="561.8" y2="367.2" stroke="#444" stroke-width="0.5" /><line x1="546.6" y1="457" x2="548" y2="457" stroke="#444" stroke-width="0.5" /><line x1="677" y1="457" x2="675.6" y2="457" stroke="#444" stroke-width="0.5" /><line x1="563.5" y1="470.6" x2="563.5" y2="469.2" stroke="#444" stroke-width="0.5" /><line x1="563.5" y1="365.8" x2="563.5" y2="367.2" stroke="#444" stroke-width="0.5" /><line x1="546.6" y1="455.8" x2="548" y2="455.8" stroke="#444" stroke-width="0.5" /><line x1="677" y1="455.8" x2="675.6" y2="455.8" stroke="#444" stroke-width="0.5" /><line x1="565" y1="470.6" x2="565" y2="469.2" stroke="#444" stroke-width="0.5" /><line x1="565" y1="365.8" x2="565" y2="367.2" stroke="#444" stroke-width="0.5" /><line x1="546.6" y1="454.8" x2="548" y2="454.8" stroke="#444" stroke-width="0.5" /><line x1="677" y1="454.8" x2="675.6" y2="454.8" stroke="#444" stroke-width="0.5" /><line x1="566.2" y1="470.6" x2="566.2" y2="469.2" stroke="#444" stroke-width="0.5" /><line x1="566.2" y1="365.8" x2="566.2" y2="367.2" stroke="#444" stroke-width="0.5" /><line x1="546.6" y1="453.9" x2="548" y2="453.9" stroke="#444" stroke-width="0.5" /><line x1="677" y1="453.9" x2="675.6" y2="453.9" stroke="#444" stroke-width="0.5" /><line x1="567.3" y1="470.6" x2="567.3" y2="469.2" stroke="#444" stroke-width="0.5" /><line x1="567.3" y1="365.8" x2="567.3" y2="367.2" stroke="#444" stroke-width="0.5" /><line x1="546.6" y1="447.9" x2="548" y2="447.9" stroke="#444" stroke-width="0.5" /><line x1="677" y1="447.9" x2="675.6" y2="447.9" stroke="#444" stroke-width="0.5" /><line x1="574.9" y1="470.6" x2="574.9" y2="469.2" stroke="#444" stroke-width="0.5" /><line x1="574.9" y1="365.8" x2="574.9" y2="367.2" stroke="#444" stroke-width="0.5" /><line x1="546.6" y1="444.8" x2="548" y2="444.8" stroke="#444" stroke-width="0.5" /><line x1="677" y1="444.8" x2="675.6" y2="444.8" stroke="#444" stroke-width="0.5" /><line x1="578.7" y1="470.6" x2="578.7" y2="469.2" stroke="#444" stroke-width="0.5" /><line x1="578.7" y1="365.8" x2="578.7" y2="367.2" stroke="#444" stroke-width="0.5" /><line x1="546.6" y1="442.6" x2="548" y2="442.6" stroke="#444" stroke-width="0.5" /><line x1="677" y1="442.6" x2="675.6" y2="442.6" stroke="#444" stroke-width="0.5" /><line x1="581.4" y1="470.6" x2="581.4" y2="469.2" stroke="#444" stroke-width="0.5" /><line x1="581.4" y1="365.8" x2="581.4" y2="367.2" stroke="#444" stroke-width="0.5" /><line x1="546.6" y1="440.9" x2="548" y2="440.9" stroke="#444" stroke-width="0.5" /><line x1="677" y1="440.9" x2="675.6" y2="440.9" stroke="#444" stroke-width="0.5" /><line x1="583.5" y1="470.6" x2="583.5" y2="469.2" stroke="#444" stroke-width="0.5" /><line x1="583.5" y1="365.8" x2="583.5" y2="367.2" stroke="#444" stroke-width="0.5" /><line x1="546.6" y1="439.5" x2="548" y2="439.5" stroke="#444" stroke-width="0.5" /><line x1="677" y1="439.5" x2="675.6" y2="439.5" stroke="#444" stroke-width="0.5" /><line x1="585.2" y1="470.6" x2="585.2" y2="469.2" stroke="#444" stroke-width="0.5" /><line x1="585.2" y1="365.8" x2="585.2" y2="367.2" stroke="#444" stroke-width="0.5" /><line x1="546.6" y1="438.4" x2="548" y2="438.4" stroke="#444" stroke-width="0.5" /><line x1="677" y1="438.4" x2="675.6" y2="438.4" stroke="#444" stroke-width="0.5" /><line x1="586.7" y1="470.6" x2="586.7" y2="469.2" stroke="#444" stroke-width="0.5" /><line x1="586.7" y1="365.8" x2="586.7" y2="367.2" stroke="#444" stroke-width="0.5" /><line x1="546.6" y1="437.4" x2="548" y2="437.4" stroke="#444" stroke-width="0.5" /><line x1="677" y1="437.4" x2="675.6" y2="437.4" stroke="#444" stroke-width="0.5" /><line x1="588" y1="470.6" x2="588" y2="469.2" stroke="#444" stroke-width="0.5" /><line x1="588" y1="365.8" x2="588" y2="367.2" stroke="#444" stroke-width="0.5" /><line x1="546.6" y1="436.5" x2="548" y2="436.5" stroke="#444" stroke-width="0.5" /><line x1="677" y1="436.5" x2="675.6" y2="436.5" stroke="#444" stroke-width="0.5" /><line x1="589.1" y1="470.6" x2="589.1" y2="469.2" stroke="#444" stroke-width="0.5" /><line x1="589.1" y1="365.8" x2="589.1" y2="367.2" stroke="#444" stroke-width="0.5" /><line x1="546.6" y1="430.4" x2="548" y2="430.4" stroke="#444" stroke-width="0.5" /><line x1="677" y1="430.4" x2="675.6" y2="430.4" stroke="#444" stroke-width="0.5" /><line x1="596.6" y1="470.6" x2="596.6" y2="469.2" stroke="#444" stroke-width="0.5" /><line x1="596.6" y1="365.8" x2="596.6" y2="367.2" stroke="#444" stroke-width="0.5" /><line x1="546.6" y1="427.3" x2="548" y2="427.3" stroke="#444" stroke-width="0.5" /><line x1="677" y1="427.3" x2="675.6" y2="427.3" stroke="#444" stroke-width="0.5" /><line x1="600.4" y1="470.6" x2="600.4" y2="469.2" stroke="#444" stroke-width="0.5" /><line x1="600.4" y1="365.8" x2="600.4" y2="367.2" stroke="#444" stroke-width="0.5" /><line x1="546.6" y1="425.2" x2="548" y2="425.2" stroke="#444" stroke-width="0.5" /><line x1="677" y1="425.2" x2="675.6" y2="425.2" stroke="#444" stroke-width="0.5" /><line x1="603.2" y1="470.6" x2="603.2" y2="469.2" stroke="#444" stroke-width="0.5" /><line x1="603.2" y1="365.8" x2="603.2" y2="367.2" stroke="#444" stroke-width="0.5" /><line x1="546.6" y1="423.5" x2="548" y2="423.5" stroke="#444" stroke-width="0.5" /><line x1="677" y1="423.5" x2="675.6" y2="423.5" stroke="#444" stroke-width="0.5" /><line x1="605.3" y1="470.6" x2="605.3" y2="469.2" stroke="#444" stroke-width="0.5" /><line x1="605.3" y1="365.8" x2="605.3" y2="367.2" stroke="#444" stroke-width="0.5" /><line x1="546.6" y1="422.1" x2="548" y2="422.1" stroke="#444" stroke-width="0.5" /><line x1="677" y1="422.1" x2="675.6" y2="422.1" stroke="#444" stroke-width="0.5" /><line x1="607" y1="470.6" x2="607" y2="469.2" stroke="#444" stroke-width="0.5" /><line x1="607" y1="365.8" x2="607" y2="367.2" stroke="#444" stroke-width="0.5" /><line x1="546.6" y1="420.9" x2="548" y2="420.9" stroke="#444" stroke-width="0.5" /><line x1="677" y1="420.9" x2="675.6" y2="420.9" stroke="#444" stroke-width="0.5" /><line x1="608.4" y1="470.6" x2="608.4" y2="469.2" stroke="#444" stroke-width="0.5" /><line x1="608.4" y1="365.8" x2="608.4" y2="367.2" stroke="#444" stroke-width="0.5" /><line x1="546.6" y1="419.9" x2="548" y2="419.9" stroke="#444" stroke-width="0.5" /><line x1="677" y1="419.9" x2="675.6" y2="419.9" stroke="#444" stroke-width="0.5" /><line x1="609.7" y1="470.6" x2="609.7" y2="469.2" stroke="#444" stroke-width="0.5" /><line x1="609.7" y1="365.8" x2="609.7" y2="367.2" stroke="#444" stroke-width="0.5" /><line x1="546.6" y1="419" x2="548" y2="419" stroke="#444" stroke-width="0.5" /><line x1="677" y1="419" x2="675.6" y2="419" stroke="#444" stroke-width="0.5" /><line x1="610.8" y1="470.6" x2="610.8" y2="469.2" stroke="#444" stroke-width="0.5" /><line x1="610.8" y1="365.8" x2="610.8" y2="367.2" stroke="#444" stroke-width="0.5" /><line x1="546.6" y1="412.9" x2="548" y2="412.9" stroke="#444" stroke-width="0.5" /><line x1="677" y1="412.9" x2="675.6" y2="412.9" stroke="#444" stroke-width="0.5" /><line x1="618.3" y1="470.6" x2="618.3" y2="469.2" stroke="#444" stroke-width="0.5" /><line x1="618.3" y1="365.8" x2="618.3" y2="367.2" stroke="#444" stroke-width="0.5" /><line x1="546.6" y1="409.9" x2="548" y2="409.9" stroke="#444" stroke-width="0.5" /><line x1="677" y1="409.9" x2="675.6" y2="409.9" stroke="#444" stroke-width="0.5" /><line x1="622.2" y1="470.6" x2="622.2" y2="469.2" stroke="#444" stroke-width="0.5" /><line x1="622.2" y1="365.8" x2="622.2" y2="367.2" stroke="#444" stroke-width="0.5" /><line x1="546.6" y1="407.7" x2="548" y2="407.7" stroke="#444" stroke-width="0.5" /><line x1="677" y1="407.7" x2="675.6" y2="407.7" stroke="#444" stroke-width="0.5" /><line x1="624.9" y1="470.6" x2="624.9" y2="469.2" stroke="#444" stroke-width="0.5" /><line x1="624.9" y1="365.8" x2="624.9" y2="367.2" stroke="#444" stroke-width="0.5" /><line x1="546.6" y1="406" x2="548" y2="406" stroke="#444" stroke-width="0.5" /><line x1="677" y1="406" x2="675.6" y2="406" stroke="#444" stroke-width="0.5" /><line x1="627" y1="470.6" x2="627" y2="469.2" stroke="#444" stroke-width="0.5" /><line x1="627" y1="365.8" x2="627" y2="367.2" stroke="#444" stroke-width="0.5" /><line x1="546.6" y1="404.6" x2="548" y2="404.6" stroke="#444" stroke-width="0.5" /><line x1="677" y1="404.6" x2="675.6" y2="404.6" stroke="#444" stroke-width="0.5" /><line x1="628.7" y1="470.6" x2="628.7" y2="469.2" stroke="#444" stroke-width="0.5" /><line x1="628.7" y1="365.8" x2="628.7" y2="367.2" stroke="#444" stroke-width="0.5" /><line x1="546.6" y1="403.4" x2="548" y2="403.4" stroke="#444" stroke-width="0.5" /><line x1="677" y1="403.4" x2="675.6" y2="403.4" stroke="#444" stroke-width="0.5" /><line x1="630.2" y1="470.6" x2="630.2" y2="469.2" stroke="#444" stroke-width="0.5" /><line x1="630.2" y1="365.8" x2="630.2" y2="367.2" stroke="#444" stroke-width="0.5" /><line x1="546.6" y1="402.4" x2="548" y2="402.4" stroke="#444" stroke-width="0.5" /><line x1="677" y1="402.4" x2="675.6" y2="402.4" stroke="#444" stroke-width="0.5" /><line x1="631.4" y1="470.6" x2="631.4" y2="469.2" stroke="#444" stroke-width="0.5" /><line x1="631.4" y1="365.8" x2="631.4" y2="367.2" stroke="#444" stroke-width="0.5" /><line x1="546.6" y1="401.5" x2="548" y2="401.5" stroke="#444" stroke-width="0.5" /><line x1="677" y1="401.5" x2="675.6" y2="401.5" stroke="#444" stroke-width="0.5" /><line x1="632.5" y1="470.6" x2="632.5" y2="469.2" stroke="#444" stroke-width="0.5" /><line x1="632.5" y1="365.8" x2="632.5" y2="367.2" stroke="#444" stroke-width="0.5" /><line x1="546.6" y1="395.5" x2="548" y2="395.5" stroke="#444" stroke-width="0.5" /><line x1="677" y1="395.5" x2="675.6" y2="395.5" stroke="#444" stroke-width="0.5" /><line x1="640.1" y1="470.6" x2="640.1" y2="469.2" stroke="#444" stroke-width="0.5" /><line x1="640.1" y1="365.8" x2="640.1" y2="367.2" stroke="#444" stroke-width="0.5" /><line x1="546.6" y1="392.4" x2="548" y2="392.4" stroke="#444" stroke-width="0.5" /><line x1="677" y1="392.4" x2="675.6" y2="392.4" stroke="#444" stroke-width="0.5" /><line x1="643.9" y1="470.6" x2="643.9" y2="469.2" stroke="#444" stroke-width="0.5" /><line x1="643.9" y1="365.8" x2="643.9" y2="367.2" stroke="#444" stroke-width="0.5" /><line x1="546.6" y1="390.2" x2="548" y2="390.2" stroke="#444" stroke-width="0.5" /><line x1="677" y1="390.2" x2="675.6" y2="390.2" stroke="#444" stroke-width="0.5" /><line x1="646.6" y1="470.6" x2="646.6" y2="469.2" stroke="#444" stroke-width="0.5" /><line x1="646.6" y1="365.8" x2="646.6" y2="367.2" stroke="#444" stroke-width="0.5" /><line x1="546.6" y1="388.5" x2="548" y2="388.5" stroke="#444" stroke-width="0.5" /><line x1="677" y1="388.5" x2="675.6" y2="388.5" stroke="#444" stroke-width="0.5" /><line x1="648.7" y1="470.6" x2="648.7" y2="469.2" stroke="#444" stroke-width="0.5" /><line x1="648.7" y1="365.8" x2="648.7" y2="367.2" stroke="#444" stroke-width="0.5" /><line x1="546.6" y1="387.1" x2="548" y2="387.1" stroke="#444" stroke-width="0.5" /><line x1="677" y1="387.1" x2="675.6" y2="387.1" stroke="#444" stroke-width="0.5" /><line x1="650.4" y1="470.6" x2="650.4" y2="469.2" stroke="#444" stroke-width="0.5" /><line x1="650.4" y1="365.8" x2="650.4" y2="367.2" stroke="#444" stroke-width="0.5" /><line x1="546.6" y1="386" x2="548" y2="386" stroke="#444" stroke-width="0.5" /><line x1="677" y1="386" x2="675.6" y2="386" stroke="#444" stroke-width="0.5" /><line x1="651.9" y1="470.6" x2="651.9" y2="469.2" stroke="#444" stroke-width="0.5" /><line x1="651.9" y1="365.8" x2="651.9" y2="367.2" stroke="#444" stroke-width="0.5" /><line x1="546.6" y1="385" x2="548" y2="385" stroke="#444" stroke-width="0.5" /><line x1="677" y1="385" x2="675.6" y2="385" stroke="#444" stroke-width="0.5" /><line x1="653.2" y1="470.6" x2="653.2" y2="469.2" stroke="#444" stroke-width="0.5" /><line x1="653.2" y1="365.8" x2="653.2" y2="367.2" stroke="#444" stroke-width="0.5" /><line x1="546.6" y1="384.1" x2="548" y2="384.1" stroke="#444" stroke-width="0.5" /><line x1="677" y1="384.1" x2="675.6" y2="384.1" stroke="#444" stroke-width="0.5" /><line x1="654.3" y1="470.6" x2="654.3" y2="469.2" stroke="#444" stroke-width="0.5" /><line x1="654.3" y1="365.8" x2="654.3" y2="367.2" stroke="#444" stroke-width="0.5" /><line x1="546.6" y1="378" x2="548" y2="378" stroke="#444" stroke-width="0.5" /><line x1="677" y1="378" x2="675.6" y2="378" stroke="#444" stroke-width="0.5" /><line x1="661.8" y1="470.6" x2="661.8" y2="469.2" stroke="#444" stroke-width="0.5" /><line x1="661.8" y1="365.8" x2="661.8" y2="367.2" stroke="#444" stroke-width="0.5" /><line x1="546.6" y1="374.9" x2="548" y2="374.9" stroke="#444" stroke-width="0.5" /><line x1="677" y1="374.9" x2="675.6" y2="374.9" stroke="#444" stroke-width="0.5" /><line x1="665.6" y1="470.6" x2="665.6" y2="469.2" stroke="#444" stroke-width="0.5" /><line x1="665.6" y1="365.8" x2="665.6" y2="367.2" stroke="#444" stroke-width="0.5" /><line x1="546.6" y1="372.8" x2="548" y2="372.8" stroke="#444" stroke-width="0.5" /><line x1="677" y1="372.8" x2="675.6" y2="372.8" stroke="#444" stroke-width="0.5" /><line x1="668.4" y1="470.6" x2="668.4" y2="469.2" stroke="#444" stroke-width="0.5" /><line x1="668.4" y1="365.8" x2="668.4" y2="367.2" stroke="#444" stroke-width="0.5" /><line x1="546.6" y1="371.1" x2="548" y2="371.1" stroke="#444" stroke-width="0.5" /><line x1="677" y1="371.1" x2="675.6" y2="371.1" stroke="#444" stroke-width="0.5" /><line x1="670.5" y1="470.6" x2="670.5" y2="469.2" stroke="#444" stroke-width="0.5" /><line x1="670.5" y1="365.8" x2="670.5" y2="367.2" stroke="#444" stroke-width="0.5" /><line x1="546.6" y1="369.7" x2="548" y2="369.7" stroke="#444" stroke-width="0.5" /><line x1="677" y1="369.7" x2="675.6" y2="369.7" stroke="#444" stroke-width="0.5" /><line x1="672.2" y1="470.6" x2="672.2" y2="469.2" stroke="#444" stroke-width="0.5" /><line x1="672.2" y1="365.8" x2="672.2" y2="367.2" stroke="#444" stroke-width="0.5" /><line x1="546.6" y1="368.5" x2="548" y2="368.5" stroke="#444" stroke-width="0.5" /><line x1="677" y1="368.5" x2="675.6" y2="368.5" stroke="#444" stroke-width="0.5" /><line x1="673.6" y1="470.6" x2="673.6" y2="469.2" stroke="#444" stroke-width="0.5" /><line x1="673.6" y1="365.8" x2="673.6" y2="367.2" stroke="#444" stroke-width="0.5" /><line x1="546.6" y1="367.5" x2="548" y2="367.5" stroke="#444" stroke-width="0.5" /><line x1="677" y1="367.5" x2="675.6" y2="367.5" stroke="#444" stroke-width="0.5" /><line x1="674.9" y1="470.6" x2="674.9" y2="469.2" stroke="#444" stroke-width="0.5" /><line x1="674.9" y1="365.8" x2="674.9" y2="367.2" stroke="#444" stroke-width="0.5" /><line x1="546.6" y1="366.6" x2="548" y2="366.6" stroke="#444" stroke-width="0.5" /><line x1="677" y1="366.6" x2="675.6" y2="366.6" stroke="#444" stroke-width="0.5" /><line x1="676" y1="470.6" x2="676" y2="469.2" stroke="#444" stroke-width="0.5" /><line x1="676" y1="365.8" x2="676" y2="367.2" stroke="#444" stroke-width="0.5" /><text x="542.6" y="474.2" font-size="9" font-family='"Liberation Sans", sans-serif' text-anchor="end">10<tspan font-size="6.2" dy="-4">−3</tspan></text><text x="542.6" y="439.3" font-size="9" font-family='"Liberation Sans", sans-serif' text-anchor="end">10<tspan font-size="6.2" dy="-4">−1</tspan></text><text x="542.6" y="404.3" font-size="9" font-family='"Liberation Sans", sans-serif' text-anchor="end">10<tspan font-size="6.2" dy="-4">1</tspan></text><text x="542.6" y="369.4" font-size="9" font-family='"Liberation Sans", sans-serif' text-anchor="end">10<tspan font-size="6.2" dy="-4">3</tspan></text><text x="548.1" y="481.1" font-size="9" font-family='"Liberation Sans", sans-serif' text-anchor="middle">10<tspan font-size="6.2" dy="-4">−3</tspan></text><text x="591.6" y="481.1" font-size="9" font-family='"Liberation Sans", sans-serif' text-anchor="middle">10<tspan font-size="6.2" dy="-4">−1</tspan></text><text x="635.0" y="481.1" font-size="9" font-family='"Liberation Sans", sans-serif' text-anchor="middle">10<tspan font-size="6.2" dy="-4">1</tspan></text><text x="678.5" y="481.1" font-size="9" font-family='"Liberation Sans", sans-serif' text-anchor="middle">10<tspan font-size="6.2" dy="-4">3</tspan></text><text x="606.8" y="491.6" font-size="9.4" font-family='"Liberation Sans", sans-serif' text-anchor="middle">Region Area (µm<tspan font-size="6" dy="-4">2</tspan><tspan dy="4">)</tspan></text><text transform="translate(522.4,419) rotate(-90)" font-size="9.4" font-family='"Liberation Sans", sans-serif' text-anchor="middle">Flagella area (µm<tspan font-size="6" dy="-4">2</tspan><tspan dy="4">)</tspan></text><rect x="563.8" y="373.6" width="0.9" height="0.9" fill="#333"/><text x="576.5" y="378.2" font-size="9" text-anchor="start" font-weight="normal" fill="#000" font-family='"Liberation Sans", sans-serif' >Flagella area</text><line x1="552.9" y1="384.9" x2="573.6" y2="384.9" stroke="#ee2b2b" stroke-width="1.1" /><text x="576.3" y="388.2" font-size="9" text-anchor="start" font-weight="normal" fill="#000" font-family='"Liberation Sans", sans-serif' >Fit</text><line x1="552.9" y1="396.4" x2="573.6" y2="396.4" stroke="#ee33ee" stroke-width="1.0" stroke-dasharray="4 3"/><text x="576.5" y="400.5" font-size="10" font-family='"Liberation Serif", serif' font-style="italic">β</text><path d="M583.2,396.6 L584.6,395.6 L586.4,400.6 L588.6,390.6 L597,390.6" fill="none" stroke="#222" stroke-width="0.7"/><text x="589" y="400.5" font-size="10" font-family='"Liberation Serif", serif' font-style="italic">A</text><defs><linearGradient id="cbA" x1="0" y1="0" x2="0" y2="1"><stop offset="0" stop-color="#f3cd7e"/><stop offset="0.2" stop-color="#eb9c62"/><stop offset="0.4" stop-color="#c67c4b"/><stop offset="0.6" stop-color="#8c5733"/><stop offset="0.8" stop-color="#4b2e1b"/><stop offset="1" stop-color="#0a0504"/></linearGradient><linearGradient id="cbD" x1="0" y1="0" x2="0" y2="1"><stop offset="0" stop-color="#f02424"/><stop offset="0.13" stop-color="#8030a0"/><stop offset="0.27" stop-color="#1414ff"/><stop offset="0.43" stop-color="#6ad8ff"/><stop offset="0.5" stop-color="#9cfff0"/><stop offset="0.6" stop-color="#70f590"/><stop offset="0.7" stop-color="#30f020"/><stop offset="0.8" stop-color="#50c020"/><stop offset="0.88" stop-color="#707020"/><stop offset="1" stop-color="#f02418"/></linearGradient><linearGradient id="cbG" x1="0" y1="0" x2="0" y2="1"><stop offset="0" stop-color="#f0bc74"/><stop offset="0.2" stop-color="#e0955e"/><stop offset="0.4" stop-color="#b87848"/><stop offset="0.6" stop-color="#7e5032"/><stop offset="0.8" stop-color="#3e2618"/><stop offset="1" stop-color="#080404"/></linearGradient></defs><rect x="25.3" y="26.1" width="13" height="106.5" fill="url(#cbA)" stroke="none" stroke-width="1" /><text x="29.2" y="23.7" font-size="10.4" text-anchor="middle" font-weight="normal" fill="#000" font-family='"Liberation Sans", sans-serif' letter-spacing="0.4">1 µm</text><text x="29.4" y="145" font-size="10" text-anchor="middle" font-weight="normal" fill="#000" font-family='"Liberation Sans", sans-serif' >0</text><rect x="26" y="201" width="12.7" height="106" fill="url(#cbD)" stroke="none" stroke-width="1" /><text x="25.8" y="196.9" font-size="10" letter-spacing="0.4" font-family='"Liberation Sans", sans-serif'>90<tspan font-size="7" dy="-3.2">o</tspan></text><text x="15.2" y="261" font-size="10" letter-spacing="0.4" font-family='"Liberation Sans", sans-serif'>0<tspan font-size="7" dy="-3.2">o</tspan></text><text x="20.6" y="319.2" font-size="10" letter-spacing="0.4" font-family='"Liberation Sans", sans-serif'>-90<tspan font-size="7" dy="-3.2">o</tspan></text><rect x="24.4" y="381.8" width="13.3" height="71.6" fill="url(#cbG)" stroke="none" stroke-width="1" /><text x="22.6" y="378.5" font-size="10.2" text-anchor="middle" font-weight="normal" fill="#000" font-family='"Liberation Sans", sans-serif' letter-spacing="0.6">60 nm</text><text x="24" y="464.1" font-size="10" text-anchor="middle" font-weight="normal" fill="#000" font-family='"Liberation Sans", sans-serif' >-20</text><text x="0.6" y="11.3" font-size="15" text-anchor="start" font-weight="bold" fill="#000" font-family='"Liberation Sans", sans-serif' >a</text><text x="319.8" y="11.8" font-size="15" text-anchor="start" font-weight="bold" fill="#000" font-family='"Liberation Sans", sans-serif' >b</text><text x="523.5" y="12.1" font-size="15" text-anchor="start" font-weight="bold" fill="#000" font-family='"Liberation Sans", sans-serif' >c</text><text x="0.2" y="171.7" font-size="15" text-anchor="start" font-weight="bold" fill="#000" font-family='"Liberation Sans", sans-serif' >d</text><text x="320.8" y="174" font-size="15" text-anchor="start" font-weight="bold" fill="#000" font-family='"Liberation Sans", sans-serif' >e</text><text x="525.8" y="174" font-size="15" text-anchor="start" font-weight="bold" fill="#000" font-family='"Liberation Sans", sans-serif' >f</text><text x="0.8" y="348.6" font-size="16" font-weight="bold" font-family='"Liberation Serif", serif'>g</text><text x="321" y="350.6" font-size="15" text-anchor="start" font-weight="bold" fill="#000" font-family='"Liberation Sans", sans-serif' >h</text><text x="527.6" y="350.2" font-size="15" text-anchor="start" font-weight="bold" fill="#000" font-family='"Liberation Sans", sans-serif' >i</text><text x="177.8" y="11.9" font-size="11.7" text-anchor="middle" font-weight="normal" fill="#000" font-family='"Liberation Sans", sans-serif' letter-spacing="0.25">Stitched scan</text><text x="609.5" y="10.7" font-size="11.7" text-anchor="middle" font-weight="normal" fill="#000" font-family='"Liberation Sans", sans-serif' letter-spacing="0.25">Inset</text><text x="178" y="185.8" font-size="11.7" text-anchor="middle" font-weight="normal" fill="#000" font-family='"Liberation Sans", sans-serif' letter-spacing="0.25">Orientation</text><text x="125.2" y="357.2" font-size="11.7" text-anchor="middle" font-weight="normal" fill="#000" font-family='"Liberation Sans", sans-serif' letter-spacing="0.25">Cropped region</text></svg></body></html>
